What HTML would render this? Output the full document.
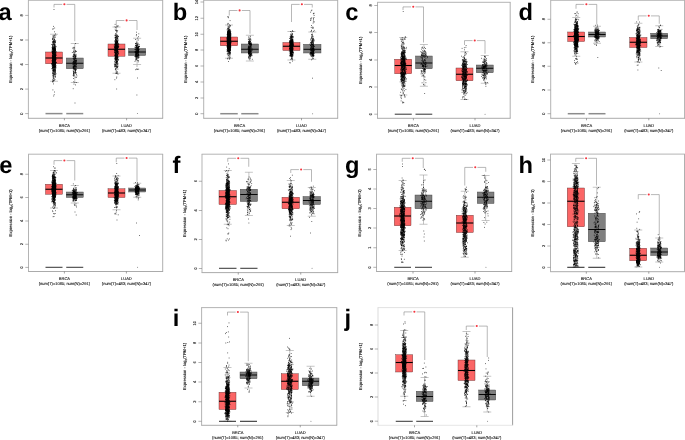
<!DOCTYPE html>
<html><head><meta charset="utf-8"><title>Figure</title>
<style>
html,body{margin:0;padding:0;background:#fff;}
body{width:685px;height:440px;overflow:hidden;font-family:"Liberation Sans",sans-serif;}
svg{display:block;filter:blur(.35px);}
</style></head><body>
<svg width="685" height="440" viewBox="0 0 685 440" font-family="Liberation Sans, sans-serif" text-rendering="geometricPrecision">
<rect width="685" height="440" fill="#fff"/>
<path d="M54 34.25V52M54 63.75V81.25M50 34.25h8M50 81.25h8" stroke="#8a8a8a" stroke-width=".5" fill="none"/>
<rect x="45.5" y="52" width="17" height="11.75" fill="#fb6565" stroke="#5a2a2a" stroke-width=".4"/>
<path d="M45.5 58H62.5" stroke="#000" stroke-width="1.1"/>
<path d="M45.5 113.6H62.5" stroke="#8c8c8c" stroke-width="1.5"/>
<path d="M55.3 54.3h0M53.2 66.8h0M54.4 57.3h0M52.5 55.7h0M53.1 48.6h0M54.8 69.1h0M53.3 57.1h0M53.3 59.5h0M52.6 68.3h0M55.3 56.2h0M52.3 69.0h0M53.7 60.6h0M55.2 49.5h0M53.5 57.8h0M52.9 48.9h0M54.1 52.5h0M54.2 52.3h0M53.6 62.7h0M52.4 81.4h0M54.5 92.0h0M55.3 64.2h0M56.0 73.8h0M52.9 39.6h0M53.8 67.8h0M52.9 67.4h0M51.7 44.5h0M55.0 64.7h0M52.5 57.4h0M53.8 66.3h0M53.2 60.4h0M53.5 64.4h0M54.3 64.7h0M53.8 59.4h0M52.7 63.4h0M53.3 60.1h0M53.8 64.1h0M54.5 63.5h0M55.5 66.0h0M52.3 69.1h0M54.5 60.2h0M52.9 53.7h0M55.0 59.5h0M54.4 61.8h0M54.1 50.4h0M53.7 52.4h0M53.3 59.5h0M55.3 68.1h0M54.2 60.2h0M53.7 96.0h0M55.0 56.8h0M54.1 54.4h0M55.1 54.7h0M54.4 57.0h0M55.4 50.0h0M54.0 51.7h0M53.2 67.1h0M54.4 51.1h0M54.9 62.3h0M54.9 57.4h0M56.3 62.4h0M53.8 63.7h0M54.1 49.8h0M54.2 61.5h0M53.5 66.5h0M53.1 64.9h0M53.3 61.5h0M53.2 69.8h0M54.5 39.9h0M54.4 64.0h0M53.4 55.2h0M55.0 79.6h0M54.4 45.0h0M55.9 57.8h0M54.4 59.8h0M53.7 75.7h0M52.4 51.9h0M54.7 74.3h0M51.8 68.5h0M54.2 61.6h0M52.7 48.6h0M55.3 59.2h0M55.2 54.7h0M55.4 75.0h0M53.2 58.4h0M55.5 49.8h0M53.1 57.9h0M55.4 61.0h0M53.6 63.4h0M53.3 41.0h0M54.2 52.9h0M52.6 58.3h0M55.4 49.8h0M55.0 60.8h0M52.6 48.6h0M53.4 55.0h0M52.6 60.5h0M52.8 61.6h0M52.5 57.8h0M55.3 54.9h0M54.7 62.5h0M54.0 56.0h0M56.1 55.3h0M54.9 50.2h0M53.2 62.6h0M55.1 47.2h0M54.5 62.6h0M53.0 57.1h0M52.9 29.4h0M55.0 64.0h0M52.9 65.0h0M54.4 60.4h0M54.6 40.1h0M53.7 61.7h0M52.9 51.4h0M56.0 62.5h0M55.0 58.8h0M52.8 61.0h0M54.6 66.9h0M55.2 55.6h0M53.9 70.6h0M52.9 58.4h0M54.3 54.5h0M55.1 63.1h0M52.5 38.6h0M55.4 57.5h0M52.8 63.0h0M53.2 57.0h0M54.0 60.7h0M52.7 41.7h0M53.7 59.7h0M55.1 41.4h0M55.0 56.3h0M54.3 56.2h0M53.1 53.5h0M52.8 73.9h0M53.8 46.3h0M55.3 53.3h0M54.6 55.5h0M53.6 69.2h0M54.9 56.2h0M54.8 50.7h0M54.6 54.8h0M55.0 64.4h0M54.0 38.1h0M55.6 66.5h0M52.7 53.1h0M52.9 43.3h0M53.7 68.9h0M52.6 60.5h0M55.8 57.7h0M55.3 59.4h0M55.0 63.0h0M52.1 51.5h0M53.2 52.8h0M54.5 51.7h0M53.0 50.9h0M52.9 51.4h0M53.8 61.8h0M54.4 47.5h0M53.8 55.0h0M54.9 68.5h0M56.2 65.9h0M54.8 54.4h0M53.1 51.8h0M53.9 44.7h0M53.3 78.6h0M52.6 39.4h0M54.9 60.4h0M55.2 53.9h0M54.0 59.4h0M54.8 66.7h0M52.9 64.0h0M54.8 53.2h0M55.7 67.9h0M55.4 66.7h0M53.3 52.2h0M54.9 49.4h0M53.3 60.7h0M54.8 70.3h0M53.3 62.2h0M53.3 50.2h0M53.1 28.5h0M55.9 63.7h0M54.2 48.2h0M54.6 59.7h0M55.6 58.0h0M52.7 56.4h0M53.6 67.3h0M51.9 66.0h0M54.6 59.3h0M54.2 61.4h0M54.3 65.0h0M56.2 55.0h0M55.1 52.4h0M52.4 46.4h0M52.7 49.0h0M53.8 50.4h0M52.1 52.0h0M55.5 56.7h0M55.2 65.5h0M53.1 64.0h0M54.8 72.5h0M52.5 56.5h0M52.7 59.3h0M53.3 56.9h0M54.2 48.3h0M52.8 52.6h0M55.4 76.7h0M53.5 56.9h0M55.4 64.7h0M54.4 62.8h0M55.1 62.4h0M53.9 62.0h0M53.1 62.5h0M54.9 60.6h0M54.4 55.2h0M54.4 64.3h0M55.5 56.2h0M54.2 74.5h0M52.9 57.9h0M53.1 63.9h0M53.1 37.4h0M53.6 42.8h0M54.2 70.7h0M56.3 51.7h0M53.8 59.2h0M52.3 62.7h0M54.1 47.3h0M54.0 42.3h0M54.7 48.5h0M53.3 65.5h0M52.8 61.6h0M53.5 65.5h0M52.8 64.9h0M53.5 70.5h0M52.9 68.5h0M55.5 72.3h0M55.0 58.7h0M53.6 80.3h0M54.1 50.2h0M53.8 62.7h0M54.6 64.8h0M53.0 67.1h0M53.3 56.7h0M53.6 51.8h0M55.1 64.5h0M55.0 64.3h0M55.3 71.1h0M53.9 48.4h0M52.7 75.8h0M53.2 66.9h0M53.7 49.2h0M52.9 82.2h0M53.8 65.5h0M52.8 53.0h0M53.5 58.2h0M54.5 41.7h0M55.3 56.7h0M55.0 56.7h0M53.8 63.2h0M53.1 65.6h0M52.7 55.7h0M53.5 50.7h0M54.8 71.6h0" stroke="#000" stroke-width="1" stroke-linecap="round" opacity=".7" fill="none"/>
<path d="M52.8 59.3h0M54.1 60.2h0M54.0 53.1h0M52.9 62.0h0M52.8 79.4h0M55.3 60.6h0M54.1 65.9h0M55.3 50.8h0M55.1 62.9h0M55.4 61.0h0M53.8 51.7h0M53.1 58.0h0M52.5 80.9h0M53.4 65.0h0M53.4 62.1h0M53.1 64.9h0M53.5 26.4h0M51.9 47.8h0M53.4 64.6h0M55.4 56.3h0M55.2 60.6h0M52.8 57.8h0M54.0 65.6h0M51.8 63.5h0M53.0 62.8h0M51.8 63.8h0M54.0 69.4h0M55.0 60.3h0M54.8 46.0h0M53.8 63.4h0M55.2 62.9h0M53.1 64.2h0M53.4 49.5h0M54.9 67.4h0M54.2 56.8h0M54.8 59.3h0M54.4 59.3h0M52.6 47.2h0M54.5 54.6h0M53.0 58.4h0M54.2 46.4h0M54.3 45.1h0M54.0 66.3h0M53.7 66.8h0M53.3 77.2h0M52.7 45.6h0M54.6 73.7h0M54.5 61.8h0M53.1 53.1h0M53.0 70.7h0M52.6 65.3h0M53.8 58.7h0M54.5 49.5h0M53.8 77.9h0M53.5 57.2h0M54.5 65.6h0M52.4 42.3h0M53.2 66.8h0M55.4 55.3h0M52.7 62.6h0M53.0 49.7h0M54.0 56.7h0M54.6 31.8h0M54.9 63.2h0M53.9 59.5h0M54.9 65.6h0M53.8 65.1h0M55.2 46.0h0M53.1 59.7h0M55.2 44.0h0M52.5 60.7h0M54.7 47.7h0M54.3 58.3h0M55.0 59.3h0M55.8 62.6h0M54.2 47.7h0M55.0 50.4h0M54.1 60.2h0M52.8 67.7h0M53.9 43.2h0M54.6 65.2h0M54.0 58.0h0M52.5 54.1h0M54.3 51.3h0M53.1 66.9h0M53.6 63.1h0M54.0 58.1h0M53.3 59.0h0M55.2 52.9h0M52.6 59.6h0M52.6 67.4h0M52.5 48.6h0M53.2 71.8h0M52.9 58.1h0M54.5 49.5h0M53.7 75.3h0M55.3 51.1h0M55.3 63.9h0M54.0 61.2h0M54.7 52.9h0M54.2 58.0h0M54.8 40.1h0M55.4 52.6h0M54.4 51.8h0M53.0 42.4h0M53.7 56.9h0M54.2 50.2h0M54.3 61.6h0M54.4 54.8h0M53.5 60.6h0M54.1 70.8h0M52.9 53.1h0M54.0 52.7h0M53.7 69.1h0M52.8 61.6h0M53.4 71.5h0M53.9 54.7h0M53.9 44.3h0M54.2 55.0h0M52.7 47.1h0M53.2 48.5h0M54.0 52.1h0M53.9 65.9h0M55.2 52.0h0M54.0 68.1h0M54.8 53.6h0M54.5 63.7h0M52.9 55.5h0M54.1 60.7h0M54.7 63.7h0M55.0 54.8h0M53.1 77.1h0M53.1 64.4h0M54.9 62.0h0M52.9 45.9h0M52.7 62.2h0M54.1 49.4h0M52.7 52.5h0M55.3 55.1h0M52.6 50.7h0M55.4 63.3h0M52.9 44.5h0M53.9 50.3h0M54.0 78.6h0M55.1 59.0h0M54.5 58.3h0M53.4 61.2h0M52.1 52.0h0M54.6 67.3h0M55.3 37.1h0M55.0 57.6h0M54.2 94.7h0M54.8 52.4h0M55.4 60.9h0M55.0 61.1h0M53.4 67.9h0M55.1 60.9h0M53.0 53.8h0M53.0 41.3h0M53.8 62.7h0M55.2 69.7h0M54.7 58.4h0M54.5 64.4h0M52.8 45.1h0M52.0 63.8h0M53.2 50.4h0M54.1 63.8h0M53.8 50.3h0M53.2 36.2h0M54.9 49.7h0M54.7 59.0h0M53.3 51.6h0M52.7 67.1h0M54.2 47.3h0M53.2 73.1h0M53.0 54.2h0M53.0 61.4h0M55.4 59.1h0M53.3 70.3h0M53.0 48.6h0M55.0 62.7h0M53.9 41.8h0M53.4 63.9h0M54.1 56.4h0M53.2 44.6h0M55.4 46.9h0M55.2 48.4h0M55.2 54.9h0M53.2 43.3h0M54.6 57.4h0M54.4 51.8h0M52.8 64.7h0M55.6 67.5h0M53.1 52.8h0M53.8 67.5h0M52.3 57.4h0M54.4 51.0h0M53.5 64.5h0M52.6 61.2h0M53.4 58.6h0M53.5 49.1h0M53.4 60.1h0M55.2 55.2h0M52.6 44.8h0M52.6 48.3h0M52.8 57.5h0M53.3 64.9h0M54.9 56.5h0M53.8 61.4h0M53.9 44.3h0M53.1 52.6h0M54.0 47.7h0M53.3 57.7h0M55.3 47.6h0M52.6 65.7h0M52.9 54.0h0M55.2 57.4h0M52.4 63.4h0M54.6 58.6h0M54.7 67.7h0M53.6 49.3h0M54.4 54.7h0M53.3 55.8h0M52.6 51.9h0M56.2 59.4h0M53.6 59.0h0M54.8 52.6h0M55.1 72.6h0M54.4 60.1h0M52.8 65.6h0M55.2 67.2h0M53.5 59.7h0M55.3 77.2h0M55.2 59.2h0M53.9 48.4h0M51.9 50.1h0M52.7 55.6h0M53.4 41.3h0M53.2 66.5h0M55.1 61.1h0M53.8 58.9h0M52.7 58.3h0M52.7 63.3h0M55.7 73.7h0M54.2 63.2h0M53.9 57.5h0M53.3 50.9h0M53.3 57.7h0M54.8 66.2h0M54.0 67.7h0M53.1 64.9h0M55.3 51.4h0M54.6 53.0h0M53.9 61.9h0M53.3 53.5h0M54.2 67.2h0M55.6 42.3h0M54.6 69.4h0M52.8 48.1h0M52.6 58.3h0M54.1 66.4h0M52.6 62.1h0M53.7 60.7h0M54.5 58.9h0" stroke="#000" stroke-width="1" stroke-linecap="round" opacity=".7" fill="none"/>
<path d="M54.7 43.1h0M55.4 66.4h0M52.3 60.9h0M55.1 66.5h0M55.4 59.7h0M55.3 46.3h0M55.0 55.3h0M53.7 41.3h0M52.6 72.8h0M55.8 58.1h0M56.0 67.8h0M55.3 74.7h0M52.6 49.3h0M53.1 62.7h0M56.2 46.7h0M51.9 60.8h0M53.7 70.3h0M54.0 61.9h0M53.4 64.8h0M52.3 55.5h0M52.7 57.0h0M54.5 39.2h0M54.2 65.8h0M52.9 39.0h0M52.6 67.2h0M54.8 37.2h0M54.8 54.4h0M55.3 70.5h0M53.7 80.6h0M53.1 55.9h0M54.6 46.4h0M55.0 57.3h0M55.4 33.9h0M53.2 47.1h0M52.9 62.5h0M53.1 59.1h0M54.8 64.9h0M53.4 54.2h0M54.6 61.8h0M52.9 47.6h0M54.2 66.1h0M53.5 41.4h0M55.9 35.2h0M55.1 44.9h0M53.9 71.2h0M53.6 62.5h0M53.1 72.3h0M55.1 60.4h0M55.3 50.5h0M54.4 60.0h0M53.0 38.3h0M52.7 57.1h0M53.4 74.1h0M54.3 66.6h0M53.3 59.6h0M54.5 57.1h0M54.2 58.5h0M54.7 59.4h0M53.1 47.6h0M52.6 49.2h0M51.9 64.5h0M55.4 60.1h0M52.9 70.4h0M55.2 53.7h0M53.8 67.3h0M55.8 62.4h0M54.7 65.6h0M54.4 64.0h0M53.9 57.8h0M55.0 73.2h0M54.8 57.4h0M54.7 49.7h0M54.4 44.4h0M53.6 62.4h0M55.2 62.0h0M52.3 63.4h0M54.3 63.2h0M53.6 61.8h0M53.3 58.7h0M53.1 58.5h0M53.4 60.0h0M54.8 47.0h0M53.2 36.8h0M54.6 44.8h0M54.8 75.1h0M53.5 54.6h0M54.5 49.3h0M54.2 48.9h0M55.0 45.3h0M53.6 83.9h0M54.6 61.7h0M55.1 58.1h0M52.9 59.9h0M55.4 63.7h0M55.2 68.7h0M53.2 56.6h0M54.6 60.1h0M53.1 56.8h0M55.7 40.6h0M54.2 54.9h0M54.0 9.5h0M55.0 63.4h0M53.3 50.8h0M55.3 60.4h0M54.0 42.5h0M54.9 65.8h0M53.1 63.0h0M55.4 59.2h0M55.3 62.6h0M55.5 57.7h0M54.5 47.8h0M54.9 72.0h0M54.3 61.7h0M52.7 52.3h0M53.3 57.8h0M54.8 51.3h0M55.3 59.5h0M55.4 58.9h0M52.9 59.6h0M54.8 35.2h0M53.0 67.5h0M52.7 62.2h0M52.6 71.0h0M54.1 52.4h0M55.5 42.0h0M53.1 59.5h0M52.3 57.1h0M54.6 66.2h0M54.0 51.5h0M55.4 63.1h0M55.0 48.4h0M54.9 65.8h0M54.1 39.6h0M55.3 59.1h0M54.3 66.1h0M52.9 60.3h0M53.3 62.1h0M53.2 54.7h0M53.4 64.3h0M53.6 65.9h0M53.4 64.3h0M53.9 48.7h0M54.1 41.5h0M54.5 69.1h0M54.7 64.1h0M53.9 51.7h0M53.4 47.9h0M55.3 65.3h0M54.7 61.1h0M54.2 45.6h0M54.2 58.4h0M54.4 56.2h0M53.8 74.2h0M54.5 64.2h0M53.5 50.1h0M54.6 41.9h0M53.8 70.1h0M53.9 52.6h0M53.1 61.9h0M54.4 56.8h0M55.3 71.4h0M53.2 59.8h0M54.8 57.4h0M54.4 80.2h0M55.4 56.0h0M54.7 62.3h0M52.9 54.2h0M53.6 70.3h0M53.1 54.0h0M52.5 53.2h0M53.2 56.6h0M55.3 52.0h0M53.6 73.1h0M53.2 64.7h0M54.7 28.0h0M53.0 62.6h0M53.3 54.1h0M54.1 52.4h0M54.9 62.4h0M53.9 69.9h0M52.7 52.8h0M55.1 70.5h0M55.1 58.7h0M52.6 47.1h0M54.4 67.4h0M53.7 66.1h0M54.8 53.1h0M55.2 59.0h0M53.1 35.6h0M53.4 58.2h0M55.2 64.0h0M55.3 66.5h0M53.6 56.6h0M55.3 53.2h0M54.1 49.1h0M55.0 48.3h0M54.0 65.9h0M53.0 53.0h0M53.9 40.5h0M53.3 81.3h0M53.0 53.0h0M52.9 53.4h0M53.3 63.4h0M52.6 65.9h0M52.8 52.7h0M53.1 52.0h0M55.3 60.6h0M53.7 59.7h0M55.1 52.3h0M55.0 76.5h0M54.5 35.8h0M55.2 69.4h0M52.7 49.0h0M55.2 70.9h0M53.4 66.0h0M54.7 50.7h0M54.2 71.6h0M53.9 73.4h0M53.1 51.4h0M54.3 49.0h0M54.3 62.4h0M53.7 56.7h0M55.3 54.5h0M54.6 61.0h0M55.3 42.1h0M55.5 48.4h0M54.3 54.0h0M55.6 50.2h0M53.1 75.1h0M53.3 67.6h0M53.2 51.4h0M53.6 76.5h0M54.5 48.7h0M54.2 64.3h0M55.4 59.5h0M52.5 52.4h0M52.9 89.9h0M53.6 58.8h0M54.2 43.3h0M53.7 52.2h0M53.9 54.3h0M55.2 55.5h0M53.0 48.4h0M55.2 48.5h0M54.9 55.8h0M55.3 69.6h0M54.5 62.4h0M54.4 49.8h0M53.9 46.8h0M54.9 59.6h0M55.2 58.2h0M53.5 41.8h0M54.6 57.5h0M53.3 49.0h0M55.3 49.9h0M52.8 51.0h0M54.8 59.7h0M53.6 61.6h0M53.6 53.2h0M53.0 62.9h0M52.7 73.6h0M56.2 53.0h0M54.7 65.6h0M54.9 41.8h0" stroke="#000" stroke-width="1" stroke-linecap="round" opacity=".7" fill="none"/>
<path d="M74.75 43.5V58M74.75 68.75V82.5M70.75 43.5h8M70.75 82.5h8" stroke="#8a8a8a" stroke-width=".5" fill="none"/>
<rect x="66.25" y="58" width="17" height="10.75" fill="#7f7f7f" stroke="#3a3a3a" stroke-width=".4"/>
<path d="M66.25 63.25H83.25" stroke="#000" stroke-width=".95"/>
<path d="M66.25 113.6H83.25" stroke="#8c8c8c" stroke-width="1.5"/>
<path d="M74.1 52.6h0M75.6 58.1h0M74.3 63.5h0M75.4 70.0h0M75.4 55.0h0M74.4 69.4h0M75.5 57.0h0M74.0 68.0h0M74.8 54.1h0M73.4 64.6h0M76.2 62.9h0M75.7 62.4h0M74.0 84.1h0M72.5 62.9h0M74.4 72.2h0M73.4 68.5h0M75.6 62.4h0M75.4 43.5h0M74.9 82.4h0M76.6 77.4h0M73.8 66.5h0M76.0 69.8h0M75.1 56.5h0M75.3 77.2h0M76.9 75.9h0M75.5 84.9h0M74.6 65.5h0M75.3 68.7h0M74.8 60.3h0M73.6 67.4h0M75.6 63.5h0M73.6 55.1h0M74.4 66.3h0M75.7 72.7h0M73.8 76.2h0M75.8 68.8h0M76.6 66.4h0M74.9 69.1h0M74.4 66.4h0M73.4 71.3h0M73.5 48.9h0M74.5 47.4h0M73.5 71.4h0M75.3 56.3h0M76.4 61.6h0M76.2 69.6h0M73.2 88.7h0M73.6 74.6h0M75.3 67.2h0M73.5 54.6h0M75.9 55.6h0M72.8 64.7h0M76.1 54.4h0M75.5 52.0h0M75.9 63.9h0M74.6 59.9h0M75.8 58.6h0M75.7 60.4h0M75.1 70.5h0M73.1 75.3h0M74.4 57.2h0M72.3 52.5h0M74.2 58.8h0M74.5 63.8h0M74.2 63.3h0M76.4 72.9h0" stroke="#000" stroke-width="1" stroke-linecap="round" opacity=".7" fill="none"/>
<path d="M73.2 67.5h0M74.1 52.2h0M74.9 58.0h0M75.3 60.6h0M76.2 51.5h0M74.1 64.9h0M73.1 66.8h0M75.2 64.4h0M76.6 63.9h0M74.4 68.8h0M75.7 62.0h0M75.6 70.4h0M73.6 74.8h0M74.3 59.8h0M75.9 56.4h0M75.6 66.4h0M73.5 67.7h0M74.6 48.9h0M76.0 68.2h0M74.1 68.2h0M75.7 60.5h0M73.2 56.0h0M75.3 70.3h0M73.6 78.5h0M76.3 82.5h0M75.6 51.0h0M74.3 72.9h0M73.7 73.2h0M73.5 62.0h0M73.1 58.5h0M74.7 64.1h0M74.9 62.6h0M73.5 75.6h0M73.7 58.9h0M75.5 64.9h0M76.0 62.1h0M73.4 62.2h0M73.9 63.7h0M73.7 66.4h0M74.1 68.6h0M75.6 71.2h0M74.0 55.4h0M73.9 58.6h0M75.1 60.0h0M73.7 59.9h0M74.4 55.0h0M73.5 73.2h0M74.1 51.1h0M75.3 71.5h0M73.6 65.8h0M74.3 61.6h0M75.9 58.1h0M75.1 61.6h0M76.1 51.3h0M74.5 65.1h0M75.2 56.7h0M74.2 67.4h0M74.4 54.4h0M74.4 56.0h0M73.5 56.6h0M73.9 63.5h0M74.7 62.4h0M76.3 60.8h0M73.3 66.7h0M76.4 60.3h0M74.8 58.0h0" stroke="#000" stroke-width="1" stroke-linecap="round" opacity=".7" fill="none"/>
<path d="M73.9 66.8h0M73.8 72.3h0M74.7 58.8h0M72.7 48.1h0M76.0 60.8h0M75.1 57.3h0M74.0 64.8h0M75.2 61.5h0M75.9 56.4h0M74.0 73.7h0M76.4 74.6h0M75.0 103.0h0M75.5 67.0h0M74.2 68.9h0M73.4 47.4h0M74.1 61.0h0M73.4 61.8h0M74.5 65.5h0M76.7 67.3h0M73.5 63.2h0M73.3 67.5h0M74.2 67.0h0M74.7 55.7h0M75.2 65.7h0M75.9 69.8h0M73.7 81.8h0M73.1 56.8h0M76.3 64.4h0M76.4 64.1h0M73.5 73.2h0M73.4 51.7h0M73.3 61.6h0M73.7 67.4h0M73.2 70.9h0M75.9 66.5h0M75.5 72.3h0M75.6 50.9h0M74.4 75.1h0M74.6 61.9h0M73.4 56.5h0M76.6 60.7h0M73.9 53.8h0M74.2 61.0h0M75.8 55.6h0M74.8 55.1h0M73.7 69.3h0M75.7 57.1h0M74.4 62.3h0M73.4 57.7h0M75.5 73.2h0M73.9 50.9h0M76.0 65.2h0M75.5 69.7h0M75.8 65.6h0M75.0 66.7h0M75.3 61.1h0M73.3 62.4h0M73.1 56.3h0M75.1 58.5h0M75.5 72.7h0M75.7 58.6h0M74.4 60.0h0M76.1 59.1h0M73.2 68.8h0M74.7 66.4h0M73.6 73.0h0" stroke="#000" stroke-width="1" stroke-linecap="round" opacity=".7" fill="none"/>
<path d="M116.5 27V44M116.5 56.25V73.25M112.5 27h8M112.5 73.25h8" stroke="#8a8a8a" stroke-width=".5" fill="none"/>
<rect x="108" y="44" width="17" height="12.25" fill="#fb6565" stroke="#5a2a2a" stroke-width=".4"/>
<path d="M108 49.25H125" stroke="#000" stroke-width="1.1"/>
<path d="M117.6 57.3h0M117.4 55.3h0M116.3 44.3h0M114.8 52.5h0M117.5 54.8h0M116.0 47.2h0M115.6 55.9h0M117.7 35.8h0M115.8 54.2h0M115.4 43.8h0M117.5 64.4h0M117.7 45.9h0M115.8 48.3h0M116.9 36.3h0M116.5 48.2h0M115.3 44.0h0M115.3 48.8h0M115.6 49.2h0M116.4 47.9h0M116.2 41.4h0M115.7 53.4h0M117.4 57.1h0M115.3 57.6h0M117.2 37.0h0M115.4 57.6h0M116.2 43.5h0M117.6 55.3h0M115.3 46.1h0M116.0 37.9h0M117.3 52.3h0M115.6 68.5h0M116.2 51.9h0M117.4 46.0h0M116.3 59.3h0M116.4 40.4h0M116.5 39.7h0M115.4 37.4h0M116.5 65.1h0M117.0 46.5h0M117.2 47.2h0M116.1 52.8h0M116.8 56.3h0M116.2 58.4h0M117.9 45.4h0M117.2 49.8h0M115.5 69.4h0M115.8 59.9h0M115.2 38.3h0M116.0 55.1h0M115.8 47.9h0M117.1 50.7h0M117.8 56.8h0M115.2 51.0h0M115.8 33.7h0M116.4 66.4h0M117.5 42.8h0M117.7 57.9h0M115.0 59.2h0M115.7 56.0h0M116.2 46.3h0M117.7 52.3h0M115.9 56.4h0M117.0 45.0h0M115.1 24.4h0M116.3 53.2h0M117.9 52.5h0M116.2 60.3h0M117.9 59.0h0M115.2 65.8h0M116.2 68.2h0M115.4 40.2h0M118.6 60.0h0M115.1 55.6h0M117.1 67.7h0M114.2 49.0h0M116.1 45.7h0M117.3 48.8h0M116.8 58.3h0M116.8 43.7h0M116.1 53.4h0M116.7 48.8h0M117.5 71.8h0M116.8 41.1h0M117.8 51.2h0M115.1 47.4h0M115.5 64.5h0M116.0 71.0h0M116.5 43.8h0M115.6 44.3h0M116.8 45.7h0M117.0 57.3h0M114.4 66.6h0M115.7 66.1h0M115.2 65.4h0M117.9 51.7h0M115.0 47.6h0M117.2 37.8h0M117.6 51.2h0M118.7 57.0h0M115.8 57.1h0M116.2 56.3h0M116.4 46.9h0M117.8 49.5h0M115.5 34.1h0M117.9 43.2h0M117.1 26.8h0M114.2 46.0h0M117.8 66.7h0M117.6 47.9h0M116.2 44.9h0M117.7 47.0h0M116.3 47.6h0M115.7 45.9h0M117.1 58.0h0M117.4 56.6h0M115.8 63.0h0M117.1 42.8h0M115.2 58.8h0M115.0 26.8h0M115.7 44.9h0M114.3 64.0h0M115.9 58.2h0M117.2 57.0h0M115.8 45.4h0M117.0 38.2h0M115.0 48.1h0M115.4 52.1h0M117.1 48.9h0M115.6 39.2h0M117.7 54.5h0M115.6 30.6h0M115.7 55.5h0M115.4 66.4h0M117.8 46.5h0M116.2 57.9h0M115.2 46.5h0M117.9 44.3h0M116.4 49.1h0M116.8 61.5h0M114.5 50.9h0M115.2 55.9h0M117.6 61.9h0M115.0 37.3h0M116.8 43.2h0M117.0 32.0h0M116.3 55.0h0M116.9 50.2h0M117.3 41.0h0M117.8 38.7h0M115.3 46.3h0M116.9 59.3h0M116.5 61.2h0M116.5 53.2h0M116.4 45.9h0M114.4 47.1h0M117.6 41.7h0M115.2 64.8h0M115.0 66.9h0M117.6 55.7h0M116.5 57.0h0M115.1 47.0h0M117.2 46.4h0M115.9 39.8h0M116.4 62.5h0M116.4 48.4h0M115.9 36.5h0M117.0 67.5h0M117.9 49.1h0M117.6 58.2h0" stroke="#000" stroke-width="1" stroke-linecap="round" opacity=".7" fill="none"/>
<path d="M117.9 46.4h0M115.2 29.2h0M117.5 49.0h0M114.6 61.6h0M116.1 51.2h0M117.2 47.0h0M115.7 43.1h0M116.5 54.9h0M116.8 38.9h0M117.5 41.6h0M117.0 59.6h0M116.9 47.1h0M116.2 30.5h0M116.3 61.9h0M117.4 52.3h0M117.6 51.6h0M118.4 36.4h0M116.9 47.4h0M116.4 78.1h0M117.1 57.4h0M117.8 53.4h0M115.0 60.1h0M117.0 36.2h0M115.3 46.2h0M117.0 31.5h0M116.9 54.1h0M117.2 42.2h0M116.1 48.8h0M116.0 57.8h0M117.8 65.3h0M116.8 34.6h0M115.8 41.7h0M118.3 59.5h0M115.6 42.8h0M116.6 50.5h0M117.1 73.5h0M117.1 56.4h0M115.4 39.3h0M117.1 39.5h0M117.2 72.8h0M115.8 46.0h0M115.6 47.0h0M116.7 40.5h0M117.0 58.9h0M115.1 41.7h0M118.7 54.0h0M117.5 41.1h0M117.5 67.3h0M117.7 50.4h0M117.9 47.2h0M115.7 55.2h0M116.6 62.8h0M117.5 49.0h0M115.6 59.4h0M115.0 52.2h0M115.1 43.9h0M116.4 44.4h0M117.4 52.9h0M114.3 49.8h0M115.7 45.7h0M115.4 47.9h0M115.4 57.6h0M116.9 43.4h0M117.9 53.7h0M117.5 50.1h0M116.0 35.4h0M117.9 47.7h0M115.8 53.8h0M115.9 40.9h0M114.7 65.0h0M117.3 42.0h0M115.7 50.3h0M117.5 49.0h0M116.2 44.3h0M115.8 50.9h0M116.6 56.0h0M117.2 60.8h0M116.3 62.9h0M117.2 52.3h0M115.0 57.9h0M117.5 63.9h0M115.4 64.2h0M117.2 55.7h0M115.4 35.8h0M117.1 38.5h0M116.0 45.3h0M117.4 42.3h0M117.2 40.9h0M118.6 36.7h0M116.3 42.1h0M116.2 35.7h0M115.3 48.9h0M116.0 51.7h0M117.8 50.1h0M115.9 43.0h0M117.5 61.5h0M115.3 35.3h0M115.8 53.6h0M116.9 58.2h0M116.8 59.5h0M116.3 48.8h0M116.1 61.1h0M116.4 73.5h0M116.4 43.1h0M116.0 40.8h0M116.0 46.3h0M115.1 44.2h0M115.9 51.1h0M114.7 51.2h0M115.3 69.7h0M115.4 43.7h0M116.1 49.9h0M115.8 52.8h0M116.1 57.8h0M116.5 46.7h0M117.5 66.7h0M115.8 54.0h0M117.8 43.5h0M117.6 48.2h0M116.1 45.6h0M117.7 38.4h0M116.8 60.9h0M117.3 52.3h0M114.9 35.3h0M115.1 40.5h0M115.4 54.6h0M116.8 42.7h0M118.0 74.2h0M116.4 72.2h0M115.3 55.2h0M117.0 52.0h0M117.9 66.3h0M116.4 48.3h0M117.0 51.2h0M117.7 44.6h0M115.5 42.9h0M115.7 50.4h0M117.0 42.3h0M115.3 50.3h0M116.7 51.2h0M117.9 58.0h0M116.3 46.3h0M115.0 64.3h0M117.0 51.7h0M115.6 59.4h0M116.0 57.8h0M115.8 49.2h0M116.2 66.2h0M116.7 59.4h0M116.1 50.3h0M116.9 46.3h0M116.7 47.8h0M116.5 26.0h0M115.7 37.9h0M115.2 56.5h0M114.5 45.2h0M116.1 41.1h0M116.1 62.1h0M115.7 56.7h0M115.0 65.0h0M117.1 57.9h0M117.8 42.1h0M117.1 59.3h0M115.8 59.1h0M117.2 47.7h0M115.8 27.5h0M117.1 51.0h0M117.4 41.7h0M115.2 52.7h0" stroke="#000" stroke-width="1" stroke-linecap="round" opacity=".7" fill="none"/>
<path d="M117.9 45.1h0M115.1 62.8h0M115.7 39.5h0M118.1 47.2h0M115.5 46.3h0M116.0 45.9h0M118.4 53.0h0M115.2 41.9h0M116.4 37.9h0M117.3 44.1h0M116.2 45.2h0M116.1 66.9h0M115.0 55.1h0M117.3 48.9h0M115.3 58.6h0M117.3 62.1h0M117.2 50.3h0M117.8 55.2h0M114.9 79.7h0M115.1 58.5h0M115.5 55.1h0M116.7 46.1h0M118.0 60.1h0M118.8 46.6h0M116.2 53.2h0M118.6 40.1h0M114.4 52.8h0M116.3 63.0h0M117.2 59.8h0M115.7 56.9h0M116.8 47.9h0M116.2 48.1h0M115.1 54.1h0M118.3 47.4h0M116.7 89.0h0M115.6 52.3h0M116.6 41.9h0M117.4 36.3h0M116.5 52.4h0M115.5 73.2h0M118.0 53.4h0M118.4 45.1h0M115.8 47.5h0M116.4 56.9h0M117.7 49.2h0M117.0 63.3h0M115.5 42.0h0M118.6 46.3h0M118.2 25.9h0M117.8 44.3h0M115.5 50.3h0M114.8 44.5h0M116.7 30.4h0M116.7 64.2h0M116.3 56.4h0M117.7 62.4h0M115.1 47.6h0M117.0 51.1h0M116.3 50.1h0M116.1 45.8h0M116.2 63.0h0M117.1 48.8h0M117.8 46.5h0M114.8 46.9h0M117.5 49.7h0M117.1 50.8h0M114.7 47.1h0M115.8 42.8h0M115.4 55.5h0M116.9 66.2h0M117.1 37.3h0M115.5 45.0h0M115.3 50.8h0M117.7 37.7h0M116.2 53.4h0M114.9 50.5h0M116.8 46.4h0M115.6 59.7h0M116.0 45.6h0M118.8 44.5h0M117.6 26.0h0M115.3 50.2h0M115.1 41.0h0M115.5 55.7h0M117.6 58.5h0M117.0 54.5h0M117.0 41.0h0M117.2 54.4h0M115.0 55.6h0M117.9 51.7h0M115.2 62.2h0M115.5 49.6h0M117.3 35.3h0M116.3 47.9h0M116.4 41.0h0M115.6 47.2h0M116.0 44.2h0M117.0 57.0h0M116.9 51.6h0M115.1 50.5h0M115.6 46.7h0M117.4 61.2h0M115.5 37.5h0M117.3 57.0h0M115.2 41.3h0M116.2 37.6h0M117.1 45.1h0M117.1 47.5h0M116.7 51.7h0M116.4 36.5h0M116.6 55.0h0M116.1 49.9h0M115.2 42.8h0M117.8 51.5h0M115.3 37.9h0M115.2 54.8h0M116.0 55.5h0M117.5 48.7h0M116.4 54.0h0M117.9 47.0h0M115.7 42.5h0M115.5 50.1h0M115.8 55.3h0M116.4 48.6h0M118.7 43.5h0M115.8 61.0h0M116.7 42.4h0M116.4 41.8h0M116.7 58.6h0M115.6 53.3h0M116.1 44.2h0M115.4 58.4h0M117.9 69.1h0M117.4 42.3h0M117.8 51.6h0M116.8 42.5h0M116.6 44.8h0M115.8 49.4h0M117.7 45.6h0M117.6 48.2h0M117.8 46.9h0M116.7 49.3h0M115.4 53.0h0M115.0 48.5h0M116.1 59.3h0M117.2 63.6h0M115.6 50.7h0M118.2 63.9h0M116.4 45.3h0M117.7 30.5h0M116.1 44.3h0M116.8 55.2h0M116.1 62.3h0M117.0 60.8h0M117.7 48.2h0M115.3 47.7h0M116.5 61.8h0M115.8 60.4h0M115.3 45.2h0M117.6 50.8h0M116.9 43.7h0M115.1 58.0h0M117.4 49.2h0M117.8 41.7h0M116.5 61.6h0M118.0 46.4h0M116.8 77.0h0M117.4 40.0h0" stroke="#000" stroke-width="1" stroke-linecap="round" opacity=".7" fill="none"/>
<path d="M137.12 38.25V48.5M137.12 55.5V64.5M133.12 38.25h8M133.12 64.5h8" stroke="#8a8a8a" stroke-width=".5" fill="none"/>
<rect x="128.5" y="48.5" width="17.25" height="7" fill="#7f7f7f" stroke="#3a3a3a" stroke-width=".4"/>
<path d="M128.5 52H145.75" stroke="#000" stroke-width=".95"/>
<circle cx="137.43" cy="113.6" r=".5" fill="#777"/>
<path d="M137.5 52.1h0M135.9 49.5h0M135.8 57.2h0M136.8 54.8h0M135.8 50.0h0M134.8 56.4h0M138.2 54.9h0M139.4 46.5h0M138.6 50.7h0M137.6 47.7h0M136.0 56.2h0M136.7 46.5h0M136.3 47.2h0M137.9 49.8h0M136.8 56.0h0M137.0 69.4h0M138.0 55.0h0M135.0 61.4h0M138.5 36.7h0M138.4 56.1h0M138.0 46.0h0M137.9 55.0h0M138.7 47.8h0M138.6 55.0h0M137.2 48.9h0M138.1 55.1h0M139.7 57.0h0M137.6 55.2h0M136.4 50.1h0M138.5 50.8h0M137.6 52.8h0M137.4 48.1h0M136.6 56.4h0M139.2 46.7h0M137.9 60.6h0M136.8 45.3h0M136.5 53.4h0M138.6 56.0h0M138.1 52.7h0M136.3 58.0h0M137.0 49.0h0M138.7 57.6h0M138.3 44.1h0M138.0 55.5h0M134.8 47.2h0M136.2 50.9h0M135.9 56.2h0M138.1 46.6h0M135.5 60.1h0M136.2 48.6h0M136.2 54.3h0M137.0 43.9h0M138.6 47.4h0M136.9 47.5h0M137.4 53.5h0M138.1 50.8h0M138.6 49.8h0M138.3 53.5h0M138.3 46.3h0M137.0 55.4h0M135.6 49.0h0M136.6 51.9h0M135.9 56.2h0M137.9 50.8h0M138.3 40.0h0M137.7 69.3h0M137.8 56.5h0M137.2 47.8h0M138.3 48.9h0M136.5 51.2h0M135.9 43.9h0M136.5 44.8h0M136.6 32.2h0M136.9 43.3h0M135.1 51.5h0" stroke="#000" stroke-width="1" stroke-linecap="round" opacity=".7" fill="none"/>
<path d="M136.8 68.9h0M136.4 59.2h0M137.8 51.1h0M137.4 52.7h0M136.4 34.5h0M136.7 43.3h0M138.6 47.9h0M137.5 48.8h0M138.3 52.7h0M137.6 52.3h0M135.4 54.0h0M135.4 54.4h0M136.5 53.3h0M135.9 52.6h0M136.0 53.7h0M135.6 56.5h0M137.8 51.3h0M137.0 46.0h0M138.6 51.9h0M135.9 54.1h0M136.1 52.4h0M138.4 58.2h0M137.6 47.9h0M138.1 49.5h0M136.4 52.1h0M135.7 43.4h0M136.6 47.3h0M137.3 56.0h0M136.4 53.1h0M138.6 50.7h0M138.6 48.5h0M137.9 50.2h0M136.9 60.0h0M135.9 45.7h0M136.4 49.7h0M135.9 45.6h0M136.6 42.1h0M136.2 45.5h0M136.4 58.7h0M137.9 49.5h0M136.8 55.4h0M136.3 35.7h0M135.5 52.4h0M138.1 52.1h0M136.9 54.8h0M136.5 54.3h0M138.2 60.5h0M138.9 51.6h0M136.7 54.7h0M138.6 49.3h0M139.2 55.2h0M138.6 50.1h0M135.6 47.2h0M138.2 49.9h0M136.7 56.8h0M138.8 33.8h0M137.9 46.8h0M137.4 48.6h0M138.3 52.7h0M137.0 51.9h0M134.8 49.4h0M138.4 55.2h0M137.9 50.7h0M138.7 51.9h0M137.4 45.1h0M136.7 53.4h0M138.4 49.7h0M137.4 52.5h0M136.3 57.6h0M136.9 47.8h0M136.5 49.0h0M136.1 45.7h0M137.7 49.7h0M135.4 49.8h0M138.2 54.7h0" stroke="#000" stroke-width="1" stroke-linecap="round" opacity=".7" fill="none"/>
<path d="M138.2 50.8h0M137.3 44.7h0M135.8 47.5h0M138.3 61.8h0M138.1 50.2h0M137.3 51.3h0M138.1 57.0h0M137.4 78.0h0M136.7 56.7h0M138.6 57.3h0M137.4 49.8h0M136.4 48.7h0M137.3 52.5h0M136.1 51.6h0M135.4 55.7h0M136.3 54.2h0M136.2 58.8h0M139.2 46.6h0M137.8 50.0h0M137.8 44.6h0M137.8 51.5h0M136.7 55.7h0M137.0 56.8h0M137.0 57.1h0M135.5 39.5h0M138.4 51.6h0M138.3 54.1h0M136.4 46.7h0M135.7 52.0h0M137.9 56.5h0M136.2 52.9h0M135.8 54.1h0M135.6 51.6h0M137.5 48.3h0M135.9 47.6h0M137.7 38.0h0M135.8 52.1h0M137.0 51.9h0M135.8 58.1h0M138.3 51.9h0M135.8 45.3h0M135.5 43.5h0M136.4 52.1h0M138.4 54.4h0M136.1 55.6h0M134.9 52.2h0M137.0 53.9h0M135.7 69.7h0M137.5 58.3h0M138.3 46.6h0M137.7 47.9h0M136.4 50.6h0M138.7 69.2h0M138.7 47.2h0M138.0 54.5h0M137.0 49.6h0M137.5 57.3h0M137.3 53.3h0M139.4 49.4h0M138.4 47.4h0M137.5 52.3h0M137.1 53.3h0M136.3 45.9h0M135.5 55.6h0M137.6 47.7h0M137.5 45.7h0M136.0 59.5h0M136.2 53.4h0M136.9 95.0h0M139.3 44.8h0M138.1 51.5h0M137.9 43.1h0M136.5 47.0h0M137.0 66.0h0M136.4 56.0h0" stroke="#000" stroke-width="1" stroke-linecap="round" opacity=".7" fill="none"/>
<path d="M54 7.5V4.4H62.17M66.58 4.4H74.75V41.25" stroke="#7c7c7c" stroke-width=".55" fill="none"/>
<circle cx="64.38" cy="4.3" r="1.05" fill="#f5323c"/>
<path d="M116.25 25V20.5H124.42M128.82 20.5H137V30" stroke="#7c7c7c" stroke-width=".55" fill="none"/>
<circle cx="126.62" cy="20.4" r="1.05" fill="#f5323c"/>
<path d="M28 0.3H163.1" stroke="#a6a6a6" stroke-width=".85"/>
<path d="M162.7 0.3V118.3" stroke="#a0a0a0" stroke-width=".85"/>
<path d="M28 118.3H163.1" stroke="#9c9c9c" stroke-width=".85"/>
<path d="M28.4 0.3V118.3" stroke="#a6a6a6" stroke-width=".85"/>
<path d="M64.4 118.3v2" stroke="#666" stroke-width=".6"/>
<path d="M126.6 118.3v2" stroke="#666" stroke-width=".6"/>
<path d="M28.4 15.4h-3.2" stroke="#808080" stroke-width=".6"/>
<text transform="translate(22.7 15.4) rotate(-90)" font-size="4" text-anchor="middle" fill="#111" stroke="#111" stroke-width=".1">8</text>
<path d="M28.4 40h-3.2" stroke="#808080" stroke-width=".6"/>
<text transform="translate(22.7 40) rotate(-90)" font-size="4" text-anchor="middle" fill="#111" stroke="#111" stroke-width=".1">6</text>
<path d="M28.4 64.5h-3.2" stroke="#808080" stroke-width=".6"/>
<text transform="translate(22.7 64.5) rotate(-90)" font-size="4" text-anchor="middle" fill="#111" stroke="#111" stroke-width=".1">4</text>
<path d="M28.4 89.1h-3.2" stroke="#808080" stroke-width=".6"/>
<text transform="translate(22.7 89.1) rotate(-90)" font-size="4" text-anchor="middle" fill="#111" stroke="#111" stroke-width=".1">2</text>
<path d="M28.4 113.6h-3.2" stroke="#808080" stroke-width=".6"/>
<text transform="translate(22.7 113.6) rotate(-90)" font-size="4" text-anchor="middle" fill="#111" stroke="#111" stroke-width=".1">0</text>
<text transform="translate(11.8 59.3) rotate(-90)" font-size="4.12" text-anchor="middle" fill="#111" stroke="#111" stroke-width=".1">Expression - log<tspan font-size="2.8" dy=".8">2</tspan><tspan dy="-.8">(TPM+1)</tspan></text>
<text x="64.4" y="127" font-size="4.05" text-anchor="middle" fill="#111" stroke="#111" stroke-width=".1">BRCA</text>
<text x="64.4" y="131.6" font-size="4" text-anchor="middle" fill="#111" stroke="#111" stroke-width=".1">(num(T)=1085; num(N)=291)</text>
<text x="126.6" y="127" font-size="4.05" text-anchor="middle" fill="#111" stroke="#111" stroke-width=".1">LUAD</text>
<text x="126.6" y="131.6" font-size="4" text-anchor="middle" fill="#111" stroke="#111" stroke-width=".1">(num(T)=483; num(N)=347)</text>
<text x="-1.4" y="19.8" font-size="23.7" font-weight="bold" fill="#000">a</text>
<path d="M229 25V37M229 45.75V58.25M225 25h8M225 58.25h8" stroke="#8a8a8a" stroke-width=".5" fill="none"/>
<rect x="220.25" y="37" width="17.5" height="8.75" fill="#fb6565" stroke="#5a2a2a" stroke-width=".4"/>
<path d="M220.25 41.25H237.75" stroke="#000" stroke-width="1.1"/>
<path d="M220.25 113.7H237.75" stroke="#8c8c8c" stroke-width="1.5"/>
<path d="M230.1 45.2h0M229.6 40.4h0M227.8 42.3h0M230.0 42.5h0M230.0 36.9h0M228.3 47.0h0M228.5 39.8h0M227.9 54.4h0M228.5 46.6h0M230.4 42.0h0M230.5 39.9h0M227.8 33.7h0M229.8 46.4h0M227.9 43.7h0M228.9 26.5h0M229.7 38.0h0M227.9 38.1h0M229.7 38.9h0M229.4 30.9h0M229.0 41.4h0M228.7 40.9h0M229.8 39.9h0M228.5 37.9h0M230.4 31.2h0M229.6 48.1h0M230.0 26.6h0M227.0 46.9h0M229.8 46.6h0M227.8 33.5h0M228.3 46.9h0M230.4 44.3h0M229.8 39.7h0M227.8 47.3h0M230.1 39.5h0M229.3 42.1h0M227.3 38.4h0M229.6 40.4h0M229.9 33.7h0M228.8 41.0h0M230.4 33.0h0M229.3 34.1h0M229.0 42.7h0M228.2 45.8h0M227.8 45.1h0M228.8 49.5h0M227.7 43.2h0M230.1 40.7h0M230.2 46.8h0M229.9 42.8h0M228.2 31.4h0M229.5 41.3h0M228.3 38.7h0M230.2 42.1h0M227.5 47.0h0M227.9 42.4h0M227.6 43.3h0M229.0 36.0h0M229.5 41.9h0M227.7 34.9h0M227.6 50.5h0M229.5 50.5h0M228.0 32.7h0M230.1 39.0h0M228.1 52.5h0M227.6 40.5h0M230.4 37.5h0M230.1 33.9h0M229.9 40.2h0M229.7 57.7h0M230.0 48.3h0M229.3 36.8h0M227.8 36.0h0M228.3 55.2h0M228.6 44.8h0M229.3 49.9h0M228.3 37.5h0M228.6 42.4h0M231.0 40.2h0M228.7 40.4h0M229.3 31.9h0M227.9 39.0h0M227.9 39.4h0M229.6 47.9h0M227.7 47.8h0M228.0 46.0h0M231.0 33.9h0M230.1 34.7h0M228.0 42.7h0M227.8 40.7h0M228.3 40.5h0M228.2 46.6h0M228.5 43.5h0M228.9 40.4h0M229.7 41.0h0M228.5 48.7h0M230.4 51.0h0M227.9 36.7h0M229.5 44.7h0M230.4 32.6h0M229.4 46.3h0M229.2 39.6h0M228.4 44.1h0M230.3 41.7h0M229.6 40.9h0M228.5 45.2h0M227.9 51.2h0M230.2 44.5h0M228.9 35.5h0M228.0 26.8h0M228.3 32.0h0M228.7 42.6h0M230.1 31.8h0M227.7 45.1h0M230.0 44.3h0M227.8 42.3h0M229.4 32.6h0M230.3 41.8h0M227.9 40.0h0M228.8 44.5h0M229.1 37.2h0M228.2 41.4h0M228.5 40.0h0M228.7 40.8h0M228.9 41.6h0M228.2 33.3h0M226.9 51.2h0M228.2 47.3h0M230.2 38.1h0M228.3 27.9h0M229.2 42.4h0M228.5 36.0h0M228.0 44.7h0M227.7 44.8h0M228.1 39.1h0M229.2 48.9h0M229.7 45.7h0M228.8 34.9h0M228.1 34.7h0M227.8 53.4h0M228.0 41.9h0M229.6 47.2h0M229.3 50.0h0M228.1 39.5h0M228.8 48.2h0M230.3 29.9h0M229.3 37.6h0M228.1 23.4h0M228.8 45.9h0M228.2 31.0h0M228.9 39.0h0M229.7 56.1h0M230.2 43.7h0M230.2 40.8h0M227.1 42.6h0M229.4 40.3h0M227.8 47.1h0M229.2 40.6h0M230.4 45.3h0M230.2 38.9h0M230.1 20.6h0M230.9 46.3h0M228.2 50.5h0M229.2 47.6h0M228.7 33.5h0M230.0 44.0h0M228.8 34.9h0M228.4 42.1h0M230.0 36.0h0M229.7 35.3h0M227.3 50.9h0M228.0 37.3h0M229.2 52.9h0M228.2 55.5h0M230.9 41.9h0M228.2 49.5h0M227.7 35.0h0M227.9 41.2h0M228.6 49.9h0M228.2 40.4h0M230.4 44.3h0M229.0 41.2h0M228.7 46.3h0M230.0 42.0h0M230.0 40.3h0M228.8 37.4h0M228.3 32.4h0M230.3 39.5h0M230.2 39.3h0M229.9 41.4h0M228.6 33.1h0M228.1 40.8h0M228.1 40.9h0M229.0 40.3h0M228.1 43.8h0M228.2 16.8h0M230.8 47.3h0M230.2 46.6h0M227.5 36.4h0M229.4 38.1h0M228.0 35.1h0M228.5 38.1h0M228.3 33.0h0M229.1 49.4h0M228.7 42.4h0M229.6 30.0h0M229.4 36.1h0M228.0 36.7h0M228.9 47.4h0M228.9 36.3h0M229.2 36.9h0M230.3 43.5h0M227.6 42.5h0M230.4 44.4h0M229.9 36.4h0M227.9 42.9h0M229.6 45.8h0M229.2 49.5h0M228.9 45.1h0M228.4 37.5h0M229.3 46.3h0M229.9 43.8h0M229.4 37.2h0M228.3 43.6h0M229.0 35.0h0M228.0 39.7h0M229.0 42.3h0M227.7 48.4h0M229.8 35.1h0M229.7 32.2h0M228.8 38.7h0M228.6 43.7h0M229.3 51.5h0M229.6 38.3h0M230.1 43.3h0M230.1 35.6h0M230.3 38.9h0M230.3 57.8h0M227.1 29.8h0M229.5 48.5h0M230.3 32.3h0M229.4 44.7h0M229.1 54.3h0M227.8 37.7h0M229.9 49.7h0M227.7 44.3h0M230.2 45.2h0M229.8 36.8h0M230.2 43.2h0M230.8 34.2h0M229.6 44.1h0M228.0 43.8h0M230.2 43.7h0M230.4 48.6h0M229.7 51.2h0M227.6 39.1h0M228.0 50.5h0M228.5 51.1h0M227.1 43.2h0M229.3 30.7h0M230.0 50.1h0M227.6 40.5h0M229.1 41.3h0M229.1 41.6h0M229.6 45.9h0M230.0 39.4h0M228.0 35.7h0M230.4 46.2h0M228.2 32.2h0M229.2 41.2h0M227.8 58.9h0M228.2 41.7h0M228.8 40.9h0M228.1 50.1h0M229.7 32.1h0M228.3 43.5h0M227.1 39.6h0M227.7 51.1h0M228.4 37.7h0M229.1 44.6h0M229.1 40.1h0M229.4 48.6h0M230.0 40.9h0M228.4 37.2h0M227.7 28.6h0M227.9 32.4h0M229.1 37.7h0M229.4 43.8h0M228.6 40.5h0M229.5 27.7h0M229.8 43.9h0" stroke="#000" stroke-width="1" stroke-linecap="round" opacity=".7" fill="none"/>
<path d="M229.0 37.6h0M229.9 46.4h0M229.9 36.5h0M227.2 46.8h0M229.5 46.2h0M229.6 36.0h0M229.3 44.5h0M230.5 25.6h0M230.3 46.6h0M227.9 51.0h0M230.0 46.8h0M230.8 35.6h0M229.8 49.6h0M229.6 32.0h0M228.2 47.7h0M230.2 39.7h0M230.1 52.9h0M229.6 46.9h0M228.4 30.8h0M228.6 39.3h0M227.8 46.8h0M228.6 41.8h0M227.8 41.5h0M229.5 45.0h0M229.0 31.0h0M230.0 38.4h0M228.0 38.2h0M228.5 33.6h0M228.7 44.7h0M229.2 41.0h0M228.1 57.1h0M227.2 37.2h0M227.8 29.2h0M228.8 28.3h0M228.3 38.9h0M228.5 45.2h0M227.8 34.3h0M228.9 40.0h0M229.6 37.9h0M227.6 43.3h0M227.5 42.7h0M230.3 41.4h0M229.8 41.9h0M230.4 47.3h0M228.0 38.0h0M228.7 37.9h0M230.3 41.2h0M227.9 39.5h0M227.7 50.2h0M230.0 41.8h0M229.9 46.2h0M229.0 36.4h0M229.2 38.9h0M228.0 43.7h0M227.8 34.4h0M228.8 50.8h0M230.1 34.3h0M228.0 42.6h0M229.5 39.5h0M229.7 51.4h0M231.0 42.2h0M228.2 36.5h0M229.1 48.7h0M230.0 50.7h0M229.1 38.8h0M229.1 38.0h0M230.0 43.7h0M229.2 46.6h0M229.8 44.0h0M229.8 32.8h0M229.5 32.4h0M229.6 33.0h0M229.2 40.6h0M230.3 53.1h0M229.1 49.0h0M228.1 35.4h0M228.6 34.3h0M227.8 45.0h0M228.2 33.1h0M229.7 42.8h0M229.9 48.7h0M228.8 39.4h0M230.0 45.3h0M229.4 35.0h0M228.9 48.1h0M229.8 46.9h0M230.0 41.7h0M228.0 43.7h0M229.5 47.5h0M230.2 42.4h0M229.1 42.7h0M229.9 34.0h0M228.0 34.4h0M229.9 40.4h0M229.0 38.8h0M227.8 42.5h0M229.0 48.5h0M228.2 41.0h0M229.6 40.6h0M229.0 42.5h0M228.1 47.7h0M227.8 45.7h0M227.9 44.9h0M228.8 36.7h0M230.1 40.5h0M229.2 45.1h0M229.7 34.5h0M226.9 37.7h0M227.4 32.7h0M230.3 46.0h0M227.3 43.6h0M228.3 31.5h0M229.9 43.3h0M229.1 45.7h0M229.1 32.3h0M230.1 46.8h0M228.8 43.2h0M227.7 44.2h0M229.3 39.7h0M228.1 46.2h0M228.2 42.0h0M228.1 36.6h0M229.2 38.0h0M228.7 44.6h0M227.7 47.6h0M228.6 35.8h0M228.5 48.3h0M228.8 39.4h0M227.2 41.2h0M228.9 51.9h0M228.8 34.8h0M228.7 41.4h0M228.3 38.3h0M229.1 29.4h0M230.2 42.2h0M228.6 40.9h0M229.7 59.2h0M228.3 48.9h0M230.0 38.6h0M227.8 47.4h0M229.3 40.7h0M229.6 40.8h0M229.0 42.4h0M229.1 42.8h0M229.5 31.6h0M228.7 34.3h0M227.8 43.2h0M228.1 36.4h0M227.8 46.4h0M228.5 51.4h0M228.2 46.8h0M229.1 40.8h0M228.0 36.3h0M229.0 42.6h0M228.0 23.8h0M229.0 46.7h0M229.9 35.8h0M228.1 45.7h0M229.6 38.5h0M230.0 34.3h0M229.5 39.7h0M227.8 41.5h0M229.9 52.5h0M230.6 46.4h0M227.2 49.5h0M228.5 36.0h0M228.0 33.4h0M228.1 40.3h0M230.0 43.3h0M227.8 33.8h0M227.6 48.2h0M229.4 35.3h0M229.8 46.7h0M229.4 42.0h0M228.5 44.4h0M229.4 51.1h0M229.5 32.0h0M228.6 48.8h0M228.9 46.8h0M229.3 38.6h0M228.0 35.7h0M227.8 43.7h0M230.3 36.2h0M230.4 33.2h0M228.4 45.8h0M229.6 48.8h0M228.4 42.5h0M228.3 34.9h0M228.1 49.3h0M230.0 56.0h0M228.7 43.7h0M228.8 34.2h0M228.9 48.7h0M227.8 58.6h0M230.0 39.2h0M230.3 47.9h0M229.5 53.0h0M229.0 35.7h0M229.8 40.5h0M228.6 35.1h0M227.2 34.4h0M229.4 34.7h0M230.1 35.5h0M230.1 50.2h0M228.6 39.4h0M229.4 38.6h0M229.9 31.9h0M229.2 32.2h0M228.1 34.3h0M227.7 45.3h0M230.4 43.0h0M230.1 49.9h0M229.8 39.8h0M230.2 43.6h0M227.9 44.4h0M228.6 31.1h0M229.2 36.7h0M228.7 47.8h0M229.8 52.8h0M228.8 42.3h0M230.1 39.7h0M228.9 40.1h0M228.9 48.8h0M230.0 36.1h0M229.7 29.5h0M229.5 46.6h0M229.5 39.6h0M227.6 41.2h0M227.7 48.3h0M227.3 49.5h0M228.3 48.9h0M227.8 24.8h0M229.4 50.2h0M230.3 48.4h0M227.7 35.8h0M227.7 48.8h0M229.3 45.0h0M229.8 40.5h0M230.1 33.9h0M226.9 45.8h0M228.2 50.9h0M228.0 39.3h0M229.4 47.5h0M230.1 41.8h0M229.0 47.2h0M231.1 38.0h0M230.4 47.7h0M230.0 50.6h0M228.0 43.1h0M229.6 38.0h0M229.0 52.1h0M230.5 49.0h0M227.9 45.4h0M229.6 33.6h0M228.6 36.6h0M229.8 40.3h0M227.5 40.4h0M230.4 40.3h0M230.2 47.4h0M228.4 35.9h0M230.3 41.7h0M228.0 45.1h0M227.7 39.4h0M230.3 37.2h0M227.8 16.8h0M228.0 42.5h0M229.1 33.9h0M229.0 40.0h0M230.6 43.6h0M228.4 46.4h0M229.8 30.7h0M230.1 35.4h0M228.8 42.0h0M230.3 36.8h0M228.5 35.7h0M227.6 46.1h0M229.0 35.2h0M228.8 33.4h0M227.9 38.7h0M229.1 32.6h0M230.0 31.3h0M229.1 48.7h0M227.8 32.6h0M228.6 30.6h0M230.5 38.6h0M229.8 39.4h0M229.0 35.9h0M230.3 49.9h0M228.8 37.1h0" stroke="#000" stroke-width="1" stroke-linecap="round" opacity=".7" fill="none"/>
<path d="M228.0 53.3h0M227.8 42.2h0M229.2 39.0h0M227.8 43.3h0M228.4 44.4h0M227.4 47.4h0M227.8 42.7h0M230.1 47.7h0M230.2 47.0h0M230.0 43.0h0M227.9 34.3h0M228.5 46.5h0M228.4 51.0h0M228.5 45.9h0M230.0 39.5h0M228.1 45.5h0M228.4 34.9h0M228.6 41.6h0M228.4 43.2h0M229.6 50.6h0M229.0 41.8h0M227.9 43.7h0M228.6 38.6h0M230.4 46.5h0M228.1 40.3h0M230.3 37.5h0M230.4 38.4h0M229.9 43.2h0M229.0 38.8h0M227.6 34.8h0M227.2 41.4h0M229.6 43.4h0M229.2 49.0h0M228.4 43.7h0M230.0 50.5h0M227.6 46.2h0M230.0 40.6h0M228.3 41.4h0M229.4 37.9h0M230.1 46.7h0M228.3 39.9h0M229.3 38.2h0M230.2 49.5h0M230.0 42.0h0M230.7 34.5h0M229.0 37.0h0M229.9 43.5h0M228.5 41.2h0M227.6 38.0h0M229.3 34.5h0M228.1 39.9h0M229.0 32.8h0M229.6 48.8h0M228.1 39.6h0M229.3 50.5h0M229.0 49.3h0M227.7 45.6h0M229.2 40.9h0M229.3 51.2h0M229.7 30.2h0M229.5 48.3h0M229.1 35.4h0M229.6 38.8h0M229.6 36.9h0M228.2 30.5h0M228.0 43.6h0M228.1 41.8h0M229.2 41.0h0M230.0 44.3h0M228.4 61.5h0M228.1 28.2h0M229.9 40.6h0M230.2 46.1h0M230.0 40.2h0M230.0 46.8h0M227.7 46.9h0M230.3 37.5h0M230.2 41.0h0M229.4 35.2h0M228.1 31.7h0M227.9 36.6h0M229.1 42.4h0M228.2 45.4h0M228.3 47.7h0M229.1 34.6h0M229.4 45.0h0M229.2 32.5h0M229.9 41.5h0M228.5 41.7h0M230.2 33.5h0M230.0 42.8h0M228.0 43.7h0M229.1 49.6h0M228.7 42.5h0M228.1 30.0h0M227.6 31.3h0M228.9 31.6h0M229.7 35.3h0M230.4 43.6h0M228.5 39.8h0M228.8 47.6h0M228.5 37.8h0M229.3 47.7h0M229.0 42.8h0M228.5 53.5h0M229.5 37.3h0M228.0 47.2h0M228.0 46.2h0M230.0 33.5h0M230.0 53.1h0M227.8 47.8h0M227.7 32.4h0M229.0 41.2h0M230.0 40.8h0M228.6 35.3h0M228.3 51.9h0M229.6 36.0h0M229.2 45.4h0M229.1 43.2h0M229.5 42.4h0M228.5 48.8h0M228.8 33.1h0M228.7 36.7h0M229.0 33.1h0M229.4 40.8h0M229.5 42.6h0M227.2 41.7h0M228.1 31.2h0M227.7 37.3h0M229.8 35.5h0M230.3 37.1h0M227.7 38.1h0M227.2 35.0h0M228.5 48.1h0M227.7 46.2h0M229.2 39.3h0M230.8 39.9h0M229.5 35.7h0M227.6 36.7h0M228.6 41.2h0M227.8 45.2h0M227.8 39.5h0M230.1 37.8h0M229.9 49.1h0M228.0 48.8h0M228.6 30.7h0M229.1 39.3h0M229.4 47.2h0M230.1 42.3h0M229.4 52.3h0M227.8 36.9h0M227.8 33.0h0M227.7 48.7h0M226.9 38.5h0M229.6 37.8h0M230.4 52.3h0M227.2 39.4h0M228.7 42.0h0M229.3 34.2h0M229.8 40.3h0M229.5 47.1h0M229.8 36.2h0M229.3 38.7h0M230.2 40.6h0M228.0 33.6h0M230.3 50.2h0M228.7 34.8h0M228.1 40.1h0M230.3 30.8h0M230.1 46.0h0M229.9 40.1h0M230.1 45.3h0M227.9 39.7h0M228.0 34.8h0M230.4 35.1h0M230.1 38.6h0M227.8 46.1h0M229.4 41.6h0M228.5 42.4h0M228.9 38.9h0M229.3 36.3h0M228.5 44.1h0M229.8 36.0h0M227.7 47.6h0M227.9 41.8h0M229.6 46.0h0M229.1 49.4h0M229.5 39.5h0M227.0 40.3h0M228.6 40.2h0M227.7 42.5h0M230.3 44.6h0M228.2 40.8h0M229.3 36.7h0M228.9 48.0h0M228.5 43.4h0M227.8 33.1h0M230.3 47.5h0M228.4 29.2h0M229.2 45.4h0M228.0 33.8h0M227.6 37.8h0M230.2 42.6h0M230.0 45.5h0M229.0 46.4h0M230.1 47.2h0M228.2 28.2h0M229.4 38.2h0M228.0 36.8h0M227.4 31.2h0M228.7 41.3h0M229.5 44.8h0M228.6 44.8h0M228.2 51.4h0M230.4 53.9h0M227.6 44.5h0M230.9 36.0h0M227.5 39.9h0M228.8 51.6h0M227.5 48.5h0M229.7 34.7h0M228.7 34.6h0M228.4 38.3h0M228.4 37.8h0M229.9 44.0h0M228.7 42.0h0M229.6 53.3h0M227.9 47.0h0M229.3 40.2h0M228.9 46.6h0M229.3 43.7h0M229.9 25.8h0M230.0 41.2h0M228.9 31.3h0M228.1 48.8h0M230.8 43.2h0M229.0 30.4h0M227.2 53.9h0M229.9 42.4h0M229.0 41.4h0M229.1 41.3h0M230.3 39.2h0M228.8 46.7h0M229.5 40.8h0M230.0 37.8h0M228.9 47.5h0M227.9 31.6h0M228.9 29.5h0M230.0 54.7h0M230.7 38.3h0M230.4 43.1h0M229.1 44.5h0M230.2 42.7h0M228.4 38.8h0M229.6 58.7h0M230.0 41.9h0M230.2 49.8h0M230.3 45.1h0M229.0 42.0h0M229.6 41.2h0M228.6 38.7h0M230.0 33.2h0M229.6 24.9h0M229.2 50.7h0M229.9 48.8h0M229.4 54.1h0M230.3 46.5h0M229.2 43.2h0M229.2 43.2h0M230.4 33.0h0M228.8 42.7h0M229.8 46.9h0M227.8 39.2h0M229.7 46.8h0M228.6 49.4h0M228.3 34.0h0M230.1 40.9h0M228.6 31.7h0M227.7 43.6h0M230.0 42.9h0M230.9 42.8h0M228.4 17.7h0M228.2 50.6h0M227.9 46.8h0M228.0 39.4h0M229.1 44.9h0M228.7 43.4h0M229.8 40.8h0M230.8 31.7h0" stroke="#000" stroke-width="1" stroke-linecap="round" opacity=".7" fill="none"/>
<path d="M249.88 35.25V44M249.88 53V61M245.88 35.25h8M245.88 61h8" stroke="#8a8a8a" stroke-width=".5" fill="none"/>
<rect x="241.25" y="44" width="17.25" height="9" fill="#7f7f7f" stroke="#3a3a3a" stroke-width=".4"/>
<path d="M241.25 49.25H258.5" stroke="#000" stroke-width=".95"/>
<path d="M241.25 113.7H258.5" stroke="#8c8c8c" stroke-width="1.5"/>
<path d="M249.6 42.6h0M249.3 50.5h0M251.2 49.7h0M249.4 43.3h0M250.1 44.2h0M251.0 51.7h0M252.1 55.6h0M249.6 55.4h0M249.4 41.4h0M249.3 56.1h0M249.9 39.1h0M249.1 41.9h0M251.4 54.9h0M250.7 54.9h0M251.5 44.7h0M249.7 52.7h0M249.7 49.9h0M249.3 41.3h0M251.4 50.9h0M250.0 47.9h0M248.4 54.3h0M251.3 44.5h0M249.1 53.4h0M249.6 52.0h0M249.8 51.9h0M249.1 49.5h0M249.4 48.0h0M250.1 38.2h0M250.4 41.5h0M248.6 50.2h0M250.5 51.4h0M250.4 44.9h0M249.0 52.8h0M249.7 59.0h0M249.2 49.0h0M248.4 50.0h0M248.8 52.3h0M251.0 44.5h0M250.4 46.6h0M249.6 52.7h0M249.9 57.4h0M250.5 54.4h0M249.6 42.2h0M248.7 43.5h0M249.7 53.0h0M251.0 44.8h0M249.3 47.2h0M249.6 43.6h0M248.3 47.1h0M250.3 55.3h0M248.9 45.7h0M250.7 43.1h0M250.1 44.1h0M250.8 54.5h0M248.9 47.7h0M249.8 44.9h0M249.4 53.3h0M248.4 51.6h0M249.8 43.2h0M251.5 54.3h0M249.9 50.1h0M250.1 50.9h0M250.1 51.3h0M250.5 48.3h0M248.6 37.0h0M250.7 56.9h0M249.9 53.5h0M249.0 50.4h0M248.5 42.1h0M249.2 42.3h0M250.9 48.9h0M252.3 59.3h0" stroke="#000" stroke-width="1" stroke-linecap="round" opacity=".7" fill="none"/>
<path d="M249.7 53.2h0M250.6 45.4h0M248.7 43.4h0M248.3 39.3h0M249.0 46.6h0M248.4 57.5h0M251.3 53.0h0M249.7 55.1h0M249.4 53.3h0M249.4 44.4h0M250.1 52.8h0M250.7 39.1h0M248.9 53.6h0M249.6 50.8h0M249.7 43.5h0M249.5 43.9h0M248.7 41.7h0M249.3 51.3h0M248.4 43.3h0M249.7 53.8h0M248.7 49.3h0M248.3 51.0h0M248.5 48.9h0M249.5 49.7h0M249.2 48.8h0M250.6 44.2h0M249.0 58.8h0M249.8 47.4h0M250.5 50.2h0M248.3 47.9h0M250.3 53.3h0M249.7 55.3h0M248.6 49.3h0M248.4 51.9h0M250.4 36.3h0M248.8 46.8h0M249.0 38.2h0M248.8 46.2h0M250.4 55.3h0M252.0 54.0h0M251.2 54.0h0M248.4 49.1h0M250.6 54.3h0M251.5 48.0h0M248.8 41.9h0M248.6 53.6h0M250.3 56.6h0M249.1 48.1h0M250.7 44.2h0M249.1 51.6h0M250.6 43.4h0M248.4 48.2h0M248.8 58.0h0M250.6 52.6h0M250.4 46.2h0M250.0 43.9h0M248.9 51.2h0M251.1 42.8h0M248.5 52.0h0M250.4 41.7h0M250.2 43.9h0M248.5 52.2h0M249.0 39.8h0M250.7 54.8h0M250.7 54.1h0M250.7 47.3h0M249.8 52.7h0M250.4 41.7h0M251.0 43.7h0M250.5 40.0h0M252.3 49.0h0" stroke="#000" stroke-width="1" stroke-linecap="round" opacity=".7" fill="none"/>
<path d="M251.3 46.6h0M250.0 43.1h0M249.2 53.9h0M250.6 56.1h0M251.2 44.6h0M251.1 55.8h0M250.6 46.5h0M250.5 51.0h0M249.8 50.9h0M251.2 45.6h0M249.4 50.1h0M248.5 53.3h0M249.5 48.1h0M250.4 54.2h0M250.2 48.7h0M248.5 51.8h0M249.2 44.4h0M251.3 53.7h0M248.3 52.4h0M248.5 53.6h0M250.7 51.8h0M251.3 53.4h0M251.2 43.5h0M248.4 47.3h0M251.2 43.2h0M252.1 50.4h0M250.0 55.9h0M250.1 50.9h0M249.3 46.9h0M249.5 51.3h0M249.3 48.3h0M251.2 48.0h0M248.5 56.4h0M249.9 43.6h0M248.4 50.3h0M249.6 49.0h0M248.7 49.8h0M248.8 42.0h0M251.3 55.6h0M248.0 48.8h0M251.0 51.9h0M250.1 52.8h0M249.4 51.9h0M249.9 50.9h0M248.5 47.1h0M249.9 54.6h0M249.2 41.5h0M249.7 46.4h0M249.6 40.7h0M250.5 47.2h0M250.3 42.9h0M249.2 53.1h0M249.8 53.6h0M249.1 57.0h0M249.1 55.5h0M251.4 50.9h0M249.5 42.7h0M250.3 54.4h0M249.0 39.8h0M251.0 40.1h0M249.8 56.4h0M249.6 40.0h0M248.8 52.0h0M250.2 58.6h0M250.9 44.8h0M248.7 53.7h0M249.4 54.7h0M251.1 45.4h0M250.7 50.9h0M249.4 45.9h0M249.1 42.5h0" stroke="#000" stroke-width="1" stroke-linecap="round" opacity=".7" fill="none"/>
<path d="M291.45 31.5V42.5M291.45 50.5V60M287.45 31.5h8M287.45 60h8" stroke="#8a8a8a" stroke-width=".5" fill="none"/>
<rect x="282.9" y="42.5" width="17.1" height="8" fill="#fb6565" stroke="#5a2a2a" stroke-width=".4"/>
<path d="M282.9 46.25H300" stroke="#000" stroke-width="1.1"/>
<path d="M293.4 43.8h0M291.9 41.5h0M292.7 51.5h0M291.7 40.3h0M291.3 52.5h0M292.7 45.1h0M290.8 36.1h0M293.0 36.5h0M290.8 45.5h0M290.1 45.0h0M289.8 46.1h0M291.1 47.2h0M289.9 62.5h0M291.0 40.7h0M290.6 47.3h0M291.2 50.5h0M289.6 38.5h0M291.6 40.4h0M290.3 48.6h0M292.5 46.6h0M291.9 51.0h0M292.7 47.5h0M291.1 50.8h0M292.6 47.9h0M290.7 43.3h0M290.4 48.9h0M293.2 53.9h0M291.9 41.1h0M292.4 51.8h0M292.1 45.5h0M291.7 36.3h0M291.6 48.6h0M290.6 49.2h0M292.1 49.1h0M291.3 44.5h0M290.6 54.2h0M291.9 42.2h0M290.4 44.1h0M292.1 49.5h0M292.6 42.9h0M292.0 45.9h0M292.7 45.3h0M291.9 40.8h0M292.6 38.9h0M291.9 41.8h0M290.7 42.3h0M292.2 41.1h0M291.1 45.6h0M293.6 45.5h0M293.1 41.2h0M291.4 52.7h0M289.9 41.8h0M290.8 54.2h0M291.5 45.9h0M290.6 41.8h0M291.2 42.0h0M292.0 49.8h0M290.3 47.1h0M290.5 41.4h0M292.5 52.2h0M290.9 43.5h0M290.8 45.5h0M292.9 48.2h0M291.0 46.4h0M292.1 40.4h0M292.6 41.8h0M290.3 48.9h0M292.8 45.9h0M289.6 40.7h0M292.6 50.0h0M289.5 42.6h0M290.5 52.6h0M292.6 40.0h0M291.9 42.9h0M290.8 46.6h0M290.4 45.1h0M291.0 42.1h0M290.6 48.6h0M292.7 56.3h0M291.6 37.5h0M291.9 35.2h0M290.9 44.4h0M292.2 48.5h0M291.3 45.8h0M292.0 50.2h0M290.6 55.8h0M290.4 46.4h0M291.4 48.6h0M290.9 59.5h0M292.0 50.6h0M291.5 52.3h0M291.7 48.0h0M290.9 34.0h0M290.7 54.6h0M290.5 55.1h0M291.0 51.2h0M291.8 45.8h0M290.2 45.2h0M291.0 38.1h0M290.7 38.3h0M291.1 50.6h0M291.7 42.8h0M292.5 48.2h0M290.7 41.8h0M290.7 55.9h0M289.3 51.6h0M291.3 49.8h0M290.7 47.8h0M292.1 40.3h0M290.1 46.0h0M291.7 51.0h0M290.3 51.3h0M290.5 49.3h0M292.6 61.1h0M292.1 52.4h0M292.3 50.1h0M292.6 48.5h0M292.9 43.5h0M292.6 36.5h0M292.3 52.1h0M291.8 48.4h0M290.1 41.6h0M291.4 50.8h0M290.3 46.3h0M291.5 52.1h0M293.5 42.8h0M291.0 47.0h0M292.0 52.7h0M290.5 46.7h0M292.6 54.5h0M291.4 56.2h0M291.5 40.1h0M289.9 50.3h0M292.2 44.8h0M291.8 42.7h0M291.4 43.4h0M291.7 54.5h0M291.5 49.3h0M292.8 47.3h0M291.3 55.6h0M292.0 36.4h0M291.7 49.3h0M290.7 41.6h0M290.9 50.7h0M292.7 44.0h0M292.1 49.1h0M291.3 49.7h0M292.0 47.5h0M292.1 45.2h0M290.9 50.2h0M292.3 40.6h0M291.5 43.9h0M289.7 48.3h0M290.2 40.9h0M291.2 45.1h0M290.7 42.5h0M291.8 40.9h0M290.6 40.4h0M292.8 45.9h0M292.5 40.0h0M291.8 40.3h0M290.5 46.2h0M292.5 49.3h0M290.8 37.3h0M293.5 44.9h0M291.5 35.9h0M291.0 41.6h0M292.8 51.3h0M291.7 42.0h0M291.8 48.6h0M292.5 50.8h0M291.9 43.4h0M290.3 52.9h0M290.2 42.7h0M290.8 42.9h0M291.0 42.9h0M292.1 40.5h0M292.0 45.4h0M291.2 49.2h0M290.7 44.4h0M292.7 43.0h0M292.6 46.6h0" stroke="#000" stroke-width="1" stroke-linecap="round" opacity=".7" fill="none"/>
<path d="M292.7 42.5h0M292.4 41.6h0M292.5 45.7h0M292.1 49.6h0M292.6 59.5h0M292.1 34.6h0M290.1 53.3h0M290.1 44.9h0M292.5 43.7h0M290.9 55.6h0M290.9 51.2h0M290.9 47.7h0M291.9 46.3h0M291.8 56.1h0M290.2 41.2h0M290.7 49.4h0M291.5 53.9h0M291.0 50.3h0M292.0 54.9h0M290.4 46.2h0M292.8 48.9h0M290.1 46.6h0M293.5 37.1h0M292.6 40.1h0M292.6 36.8h0M291.7 38.4h0M291.6 36.3h0M291.5 37.0h0M290.2 46.8h0M292.2 45.5h0M291.6 53.2h0M291.0 45.0h0M292.7 36.0h0M291.5 50.9h0M291.6 51.3h0M291.4 45.3h0M292.2 42.7h0M290.5 44.3h0M291.9 57.1h0M290.4 51.9h0M291.6 47.7h0M290.3 41.7h0M291.7 45.4h0M290.9 43.2h0M293.2 41.6h0M291.6 54.4h0M289.3 49.7h0M290.3 49.5h0M290.2 45.7h0M292.6 46.0h0M291.2 39.9h0M290.8 49.0h0M292.6 51.1h0M290.1 52.2h0M291.4 58.4h0M292.0 50.9h0M292.0 48.6h0M292.8 37.6h0M291.0 46.7h0M291.7 44.7h0M292.2 46.8h0M292.3 51.0h0M292.5 47.8h0M290.8 40.9h0M291.5 44.9h0M290.7 37.9h0M291.6 51.9h0M292.8 39.7h0M290.8 50.0h0M293.0 55.7h0M292.2 47.4h0M290.7 44.7h0M290.1 44.3h0M290.6 49.8h0M292.7 48.2h0M291.2 41.9h0M289.7 49.1h0M291.8 47.0h0M291.7 50.4h0M290.7 48.7h0M292.7 55.0h0M292.1 31.6h0M292.6 44.5h0M290.5 51.5h0M290.4 48.7h0M293.3 44.9h0M290.8 45.5h0M291.4 50.6h0M290.9 40.2h0M290.7 48.8h0M292.7 46.1h0M291.2 37.0h0M292.2 43.4h0M291.9 46.7h0M289.4 48.4h0M291.4 49.2h0M290.7 49.7h0M292.0 50.1h0M290.2 50.7h0M292.3 43.4h0M292.3 49.7h0M290.0 43.9h0M290.7 46.3h0M292.8 52.0h0M290.3 45.6h0M292.1 34.7h0M290.4 47.3h0M290.1 42.2h0M293.0 40.6h0M292.3 51.9h0M291.1 47.1h0M290.5 34.9h0M291.7 45.1h0M292.6 41.2h0M292.6 44.2h0M293.0 48.7h0M292.4 51.9h0M291.5 55.2h0M291.5 40.7h0M291.0 48.6h0M290.2 47.3h0M290.2 48.1h0M291.2 46.9h0M292.6 48.1h0M290.6 44.4h0M290.6 50.6h0M291.5 55.4h0M293.5 52.3h0M290.1 41.3h0M291.4 42.9h0M290.2 36.5h0M292.3 43.6h0M290.9 46.5h0M290.6 37.1h0M292.3 46.6h0M290.7 42.4h0M291.8 42.9h0M291.6 47.4h0M290.2 56.2h0M291.8 47.9h0M292.1 41.9h0M292.9 39.0h0M290.4 55.4h0M291.0 40.8h0M291.5 37.0h0M290.8 50.0h0M291.7 46.2h0M292.4 52.4h0M291.6 35.7h0M291.4 49.0h0M291.2 42.7h0M290.8 44.7h0M291.9 46.1h0M291.7 51.0h0M292.2 46.7h0M291.9 42.6h0M292.4 55.5h0M291.7 52.5h0M292.7 53.8h0M292.0 54.1h0M291.3 49.5h0M290.4 52.9h0M291.5 53.3h0M291.9 46.7h0M292.6 33.8h0M291.9 48.3h0M290.7 43.1h0M290.5 39.4h0M292.8 52.0h0M290.7 53.4h0M292.0 42.5h0M291.2 50.1h0M291.2 40.4h0M291.8 51.5h0M289.4 48.4h0M291.7 45.5h0M291.6 51.9h0M291.4 43.1h0M291.9 50.7h0M291.3 54.3h0M290.4 45.6h0M292.4 42.9h0" stroke="#000" stroke-width="1" stroke-linecap="round" opacity=".7" fill="none"/>
<path d="M291.6 54.4h0M290.5 55.4h0M291.1 47.9h0M292.2 42.4h0M292.7 42.2h0M292.2 58.0h0M290.8 47.3h0M292.2 50.6h0M290.2 37.9h0M290.0 54.8h0M290.5 50.2h0M291.6 43.4h0M291.3 41.6h0M291.4 43.7h0M291.4 53.8h0M291.7 47.8h0M290.3 50.8h0M291.7 48.0h0M291.0 36.9h0M292.4 54.5h0M290.7 41.1h0M290.8 52.8h0M292.5 30.6h0M290.3 50.5h0M292.2 52.7h0M292.4 51.3h0M291.3 58.7h0M291.5 53.6h0M290.6 31.5h0M290.4 43.2h0M291.2 55.7h0M292.5 41.3h0M290.6 45.5h0M290.0 47.2h0M292.7 39.5h0M292.6 39.8h0M291.0 47.6h0M291.0 48.2h0M291.9 50.1h0M291.8 51.4h0M292.0 55.4h0M291.4 56.4h0M292.1 37.4h0M290.1 63.0h0M289.4 55.7h0M292.0 42.6h0M290.2 48.9h0M290.6 49.4h0M290.4 43.1h0M290.8 44.6h0M291.1 46.9h0M292.8 53.9h0M290.8 48.7h0M292.6 56.6h0M290.2 45.0h0M290.5 50.7h0M289.4 42.1h0M292.5 51.0h0M290.9 51.7h0M291.4 50.6h0M291.7 44.4h0M292.1 47.5h0M291.3 52.8h0M292.6 45.3h0M291.9 43.1h0M290.7 48.1h0M291.3 54.0h0M290.6 52.9h0M290.9 52.2h0M292.7 54.3h0M290.6 52.7h0M291.1 51.8h0M291.4 56.9h0M292.3 40.3h0M291.8 49.2h0M291.1 46.5h0M290.5 46.5h0M292.4 33.8h0M291.5 50.9h0M291.5 46.5h0M292.7 44.0h0M291.4 48.6h0M290.1 53.3h0M292.0 48.7h0M292.7 47.4h0M290.7 44.5h0M290.9 51.4h0M291.3 44.6h0M291.1 49.5h0M291.4 39.3h0M291.3 50.5h0M292.7 55.4h0M291.0 51.2h0M291.5 43.7h0M291.8 43.5h0M292.6 58.3h0M290.9 45.4h0M292.8 53.9h0M290.8 54.1h0M293.2 52.9h0M292.6 45.6h0M291.5 42.2h0M292.9 52.5h0M291.9 44.8h0M290.7 46.3h0M291.2 44.1h0M292.7 50.7h0M290.0 49.0h0M291.2 53.7h0M291.8 49.2h0M292.5 48.8h0M290.1 41.8h0M290.9 46.1h0M290.3 48.8h0M290.4 39.0h0M290.1 47.4h0M291.8 51.7h0M292.8 52.5h0M291.5 40.7h0M290.6 47.8h0M291.5 53.5h0M290.5 44.4h0M291.2 42.2h0M290.5 51.3h0M291.2 41.9h0M289.8 43.4h0M291.5 46.0h0M289.5 45.1h0M293.0 49.3h0M292.1 44.5h0M290.9 49.5h0M292.3 37.6h0M292.3 47.7h0M292.7 40.1h0M291.0 53.3h0M292.6 43.1h0M292.1 50.8h0M289.5 45.7h0M290.6 54.0h0M293.3 44.7h0M291.9 39.1h0M290.1 48.1h0M291.4 49.3h0M291.7 45.8h0M290.9 53.2h0M290.9 50.9h0M292.2 45.0h0M291.4 37.8h0M292.5 45.5h0M293.0 31.5h0M291.0 36.0h0M290.8 41.5h0M290.2 45.4h0M292.6 49.1h0M290.2 43.1h0M291.1 53.4h0M290.7 46.5h0M290.2 48.7h0M292.1 50.3h0M291.5 41.9h0M290.8 45.2h0M291.2 46.0h0M292.5 51.4h0M290.1 41.5h0M291.7 46.8h0M291.8 39.0h0M292.9 49.8h0M292.7 41.8h0M292.8 42.8h0M291.9 43.8h0M292.5 50.4h0M292.3 45.2h0M291.0 39.0h0M291.8 46.4h0M292.7 44.5h0M291.0 51.2h0M291.1 40.3h0M291.4 46.7h0M292.3 41.5h0M291.4 48.9h0M290.0 50.6h0M291.4 42.3h0" stroke="#000" stroke-width="1" stroke-linecap="round" opacity=".7" fill="none"/>
<path d="M312.3 32V44.3M312.3 53V59.25M308.3 32h8M308.3 59.25h8" stroke="#8a8a8a" stroke-width=".5" fill="none"/>
<rect x="303.6" y="44.3" width="17.4" height="8.7" fill="#7f7f7f" stroke="#3a3a3a" stroke-width=".4"/>
<path d="M303.6 49.3H321" stroke="#000" stroke-width=".95"/>
<circle cx="312.6" cy="113.7" r=".5" fill="#777"/>
<path d="M312.8 36.1h0M311.2 40.5h0M311.1 46.4h0M310.8 44.1h0M311.2 48.0h0M311.9 10.1h0M311.0 48.0h0M313.1 51.9h0M314.0 17.5h0M310.8 48.0h0M311.2 27.4h0M313.8 50.5h0M313.4 42.6h0M313.0 36.6h0M312.9 51.7h0M311.0 54.8h0M312.9 57.1h0M313.3 55.7h0M311.3 50.2h0M313.8 45.6h0M311.6 44.1h0M312.7 41.5h0M313.2 51.6h0M311.4 51.8h0M312.0 50.3h0M311.7 47.0h0M312.8 48.3h0M311.9 49.4h0M311.1 50.9h0M312.8 44.3h0M312.8 53.3h0M310.9 42.3h0M312.9 46.3h0M313.9 48.5h0M311.7 36.9h0M313.3 13.7h0M312.1 42.5h0M313.6 48.6h0M312.7 55.7h0M313.5 58.6h0M311.3 10.7h0M313.9 50.8h0M313.3 46.2h0M312.8 55.3h0M312.5 48.9h0M312.8 27.0h0M312.7 49.2h0M313.3 51.6h0M313.7 51.5h0M312.4 56.0h0M312.8 53.1h0M313.4 41.3h0M312.3 44.6h0M312.6 50.4h0M311.9 54.6h0M312.9 37.9h0M312.5 51.7h0M310.8 50.6h0M311.4 37.5h0M311.4 38.7h0M312.5 53.5h0M313.7 48.9h0M312.1 42.5h0M313.3 20.9h0M311.0 51.8h0M313.4 27.9h0M313.7 31.5h0M310.9 18.4h0M312.1 35.0h0M312.9 52.6h0M311.2 52.5h0M311.7 43.2h0M313.5 39.2h0M311.9 44.2h0M313.7 46.0h0M314.1 15.5h0M311.1 42.7h0M311.3 53.6h0M312.5 47.1h0M313.1 49.1h0M313.2 46.8h0M311.2 52.7h0M312.7 50.7h0M313.5 47.6h0M312.1 53.4h0M313.8 13.7h0M311.2 55.4h0M313.7 48.1h0" stroke="#000" stroke-width="1" stroke-linecap="round" opacity=".7" fill="none"/>
<path d="M310.9 53.3h0M310.9 45.8h0M311.6 50.8h0M312.5 55.9h0M312.9 53.7h0M314.0 13.2h0M313.1 23.1h0M312.1 38.9h0M311.3 53.2h0M311.2 44.8h0M312.2 34.7h0M312.4 54.7h0M312.4 40.3h0M313.3 50.7h0M313.3 52.1h0M312.1 50.6h0M312.7 39.3h0M311.0 52.9h0M313.0 49.6h0M312.4 44.7h0M312.5 40.6h0M313.1 47.1h0M313.6 56.0h0M313.2 49.9h0M312.6 48.1h0M310.5 20.3h0M310.7 55.8h0M311.7 43.9h0M313.3 51.9h0M312.8 54.4h0M312.1 49.1h0M312.0 49.5h0M310.9 54.2h0M313.7 40.2h0M311.3 53.6h0M313.5 55.3h0M313.9 40.1h0M310.8 52.8h0M310.9 53.0h0M312.4 54.1h0M310.9 52.3h0M311.5 30.3h0M312.8 39.2h0M311.6 52.5h0M312.4 48.7h0M311.0 18.9h0M313.9 55.9h0M312.4 44.5h0M313.0 50.2h0M313.4 56.2h0M311.8 49.9h0M313.5 50.2h0M313.9 22.0h0M313.3 45.0h0M311.6 30.8h0M311.0 52.4h0M313.7 54.5h0M311.0 38.7h0M311.2 49.4h0M312.6 43.8h0M310.7 12.2h0M314.2 50.0h0M312.0 41.6h0M313.3 54.3h0M313.0 49.0h0M312.3 40.6h0M312.6 45.4h0M310.1 54.4h0M313.4 49.2h0M312.6 44.2h0M311.1 54.5h0M313.1 51.6h0M313.5 43.7h0M311.5 52.0h0M313.2 40.0h0M313.4 43.0h0M311.6 46.9h0M311.0 31.5h0M310.9 53.3h0M313.1 52.3h0M312.1 53.7h0M314.1 21.8h0M312.1 46.2h0M312.9 48.8h0M313.0 48.3h0M313.5 18.4h0M312.7 40.0h0M313.6 53.3h0" stroke="#000" stroke-width="1" stroke-linecap="round" opacity=".7" fill="none"/>
<path d="M313.3 54.0h0M312.9 42.2h0M313.6 38.7h0M312.8 52.3h0M313.0 48.9h0M313.4 52.1h0M311.7 50.3h0M311.0 49.6h0M311.0 52.9h0M314.0 53.1h0M311.2 49.4h0M310.2 53.9h0M311.6 55.9h0M311.4 44.9h0M312.5 44.9h0M311.4 52.8h0M313.3 47.7h0M313.8 55.5h0M313.3 55.6h0M313.7 46.5h0M313.8 55.2h0M313.7 49.1h0M314.2 30.4h0M313.6 45.6h0M311.6 41.5h0M310.7 45.5h0M310.7 50.1h0M310.5 39.8h0M309.9 44.1h0M312.6 78.2h0M312.2 27.9h0M314.5 46.5h0M312.7 54.0h0M310.9 48.1h0M311.8 17.8h0M312.6 48.4h0M311.7 45.2h0M312.8 42.0h0M310.4 45.5h0M312.8 28.2h0M312.6 49.1h0M313.8 53.7h0M312.7 53.0h0M313.2 55.6h0M313.9 41.3h0M313.6 51.3h0M309.9 53.6h0M312.9 38.4h0M311.7 44.5h0M311.6 59.8h0M314.1 40.1h0M313.3 45.4h0M311.4 34.6h0M312.4 58.8h0M311.3 43.5h0M311.3 46.8h0M313.1 52.9h0M314.0 53.5h0M309.9 49.7h0M312.0 36.2h0M313.2 51.1h0M310.9 42.7h0M314.5 50.0h0M311.2 48.9h0M311.1 42.7h0M312.5 51.8h0M312.0 46.9h0M311.3 42.4h0M312.4 55.4h0M311.7 48.1h0M313.3 52.7h0M313.6 53.9h0M312.6 54.3h0M312.3 53.2h0M311.5 25.5h0M313.4 44.8h0M312.3 55.0h0M311.5 56.3h0M310.9 20.1h0M311.0 53.2h0M313.4 19.3h0M312.0 46.0h0M312.9 50.4h0M310.8 48.5h0M312.6 41.8h0M313.6 43.9h0M312.4 54.4h0M311.4 53.9h0" stroke="#000" stroke-width="1" stroke-linecap="round" opacity=".7" fill="none"/>
<path d="M229.25 15.5V10.5H237.43M241.82 10.5H250V33.75" stroke="#7c7c7c" stroke-width=".55" fill="none"/>
<circle cx="239.62" cy="10.4" r="1.05" fill="#f5323c"/>
<path d="M291.5 22V4.4H299.68M304.07 4.4H312.25V7.5" stroke="#7c7c7c" stroke-width=".55" fill="none"/>
<circle cx="301.88" cy="4.3" r="1.05" fill="#f5323c"/>
<path d="M203.3 0.3H338.1" stroke="#a6a6a6" stroke-width=".85"/>
<path d="M337.7 0.3V118.3" stroke="#a0a0a0" stroke-width=".85"/>
<path d="M203.3 118.3H338.1" stroke="#9c9c9c" stroke-width=".85"/>
<path d="M203.7 0.3V118.3" stroke="#a6a6a6" stroke-width=".85"/>
<path d="M239.5 118.3v2" stroke="#666" stroke-width=".6"/>
<path d="M301.5 118.3v2" stroke="#666" stroke-width=".6"/>
<path d="M203.7 2h-3.2" stroke="#808080" stroke-width=".6"/>
<text transform="translate(197.8 2) rotate(-90)" font-size="4" text-anchor="middle" fill="#111" stroke="#111" stroke-width=".1">14</text>
<path d="M203.7 18.25h-3.2" stroke="#808080" stroke-width=".6"/>
<text transform="translate(197.8 18.25) rotate(-90)" font-size="4" text-anchor="middle" fill="#111" stroke="#111" stroke-width=".1">12</text>
<path d="M203.7 34.25h-3.2" stroke="#808080" stroke-width=".6"/>
<text transform="translate(197.8 34.25) rotate(-90)" font-size="4" text-anchor="middle" fill="#111" stroke="#111" stroke-width=".1">10</text>
<path d="M203.7 50h-3.2" stroke="#808080" stroke-width=".6"/>
<text transform="translate(197.8 50) rotate(-90)" font-size="4" text-anchor="middle" fill="#111" stroke="#111" stroke-width=".1">8</text>
<path d="M203.7 66h-3.2" stroke="#808080" stroke-width=".6"/>
<text transform="translate(197.8 66) rotate(-90)" font-size="4" text-anchor="middle" fill="#111" stroke="#111" stroke-width=".1">6</text>
<path d="M203.7 82h-3.2" stroke="#808080" stroke-width=".6"/>
<text transform="translate(197.8 82) rotate(-90)" font-size="4" text-anchor="middle" fill="#111" stroke="#111" stroke-width=".1">4</text>
<path d="M203.7 98h-3.2" stroke="#808080" stroke-width=".6"/>
<text transform="translate(197.8 98) rotate(-90)" font-size="4" text-anchor="middle" fill="#111" stroke="#111" stroke-width=".1">2</text>
<path d="M203.7 113.7h-3.2" stroke="#808080" stroke-width=".6"/>
<text transform="translate(197.8 113.7) rotate(-90)" font-size="4" text-anchor="middle" fill="#111" stroke="#111" stroke-width=".1">0</text>
<text transform="translate(187 59.3) rotate(-90)" font-size="4.12" text-anchor="middle" fill="#111" stroke="#111" stroke-width=".1">Expression - log<tspan font-size="2.8" dy=".8">2</tspan><tspan dy="-.8">(TPM+1)</tspan></text>
<text x="239.5" y="127" font-size="4.05" text-anchor="middle" fill="#111" stroke="#111" stroke-width=".1">BRCA</text>
<text x="239.5" y="131.6" font-size="4" text-anchor="middle" fill="#111" stroke="#111" stroke-width=".1">(num(T)=1085; num(N)=291)</text>
<text x="301.5" y="127" font-size="4.05" text-anchor="middle" fill="#111" stroke="#111" stroke-width=".1">LUAD</text>
<text x="301.5" y="131.6" font-size="4" text-anchor="middle" fill="#111" stroke="#111" stroke-width=".1">(num(T)=483; num(N)=347)</text>
<text x="172.65" y="19.8" font-size="23.7" font-weight="bold" fill="#000">b</text>
<path d="M403.25 37.5V59.25M403.25 73.75V95M399.25 37.5h8M399.25 95h8" stroke="#8a8a8a" stroke-width=".5" fill="none"/>
<rect x="394.75" y="59.25" width="17" height="14.5" fill="#fb6565" stroke="#5a2a2a" stroke-width=".4"/>
<path d="M394.75 65.5H411.75" stroke="#000" stroke-width="1.1"/>
<path d="M394.75 114.2H411.75" stroke="#3a3a3a" stroke-width="1.05"/>
<path d="M401.6 76.6h0M402.7 39.8h0M402.2 60.9h0M400.4 60.0h0M402.5 61.7h0M405.2 67.6h0M403.2 58.4h0M404.5 95.0h0M402.0 57.7h0M403.9 53.8h0M402.9 69.3h0M402.0 56.5h0M402.8 101.8h0M402.3 64.5h0M403.9 46.7h0M402.4 52.2h0M403.4 60.6h0M402.3 57.9h0M401.6 58.8h0M403.4 50.5h0M405.0 62.8h0M404.4 63.0h0M403.8 59.1h0M401.3 67.9h0M402.3 46.9h0M402.1 62.5h0M402.7 61.5h0M404.4 74.1h0M405.2 66.3h0M404.1 43.9h0M402.8 71.6h0M402.1 75.9h0M406.3 69.4h0M402.0 67.1h0M404.9 60.1h0M404.3 74.2h0M401.5 60.3h0M404.2 63.6h0M402.0 61.4h0M402.6 60.0h0M404.0 74.7h0M403.2 52.4h0M401.5 62.9h0M400.9 53.9h0M403.4 84.6h0M402.5 57.8h0M404.4 47.7h0M403.3 64.0h0M403.5 64.1h0M403.1 86.4h0M401.3 55.1h0M401.1 95.7h0M404.3 77.6h0M402.5 57.6h0M402.7 102.9h0M403.3 86.1h0M401.7 48.9h0M401.9 51.7h0M405.1 72.8h0M404.6 86.3h0M401.4 63.2h0M402.5 90.8h0M404.1 61.1h0M401.6 74.1h0M404.4 51.2h0M404.3 66.6h0M403.2 53.7h0M400.6 73.8h0M403.1 77.9h0M402.3 80.3h0M403.5 59.9h0M405.2 73.1h0M401.2 45.7h0M401.4 72.2h0M404.0 50.3h0M406.0 57.9h0M403.8 102.6h0M404.1 82.8h0M401.5 62.4h0M401.5 58.6h0M401.6 67.9h0M400.7 62.1h0M401.3 61.4h0M403.2 75.0h0M404.7 61.7h0M402.8 59.0h0M402.4 87.6h0M403.7 76.6h0M402.6 51.7h0M403.4 84.3h0M401.3 47.1h0M404.9 77.1h0M405.1 62.1h0M405.1 66.4h0M403.8 63.6h0M405.1 63.8h0M402.3 39.0h0M404.7 60.8h0M404.0 56.7h0M403.8 68.1h0M401.9 66.8h0M402.4 63.0h0M402.4 75.1h0M404.0 59.3h0M404.8 64.5h0M401.9 53.9h0M402.5 63.5h0M404.9 56.6h0M402.5 77.4h0M404.9 70.1h0M403.5 63.1h0M403.3 56.5h0M403.8 64.0h0M403.3 72.7h0M404.2 57.2h0M403.7 82.3h0M403.6 63.5h0M402.7 66.8h0M403.3 51.8h0M403.4 83.1h0M400.8 64.5h0M403.0 65.0h0M405.0 57.5h0M402.0 76.8h0M402.5 67.2h0M403.6 74.1h0M404.5 67.4h0M403.8 62.1h0M401.5 73.4h0M403.5 74.7h0M401.2 66.9h0M401.9 85.4h0M403.4 65.5h0M402.2 83.7h0M404.0 78.3h0M404.8 85.5h0M404.9 96.7h0M403.4 60.1h0M405.0 86.1h0M404.8 68.6h0M404.0 76.7h0M401.4 54.3h0M402.1 82.3h0M406.2 48.7h0M401.4 89.6h0M402.3 56.4h0M403.8 76.9h0M404.6 66.5h0M402.1 75.5h0M404.0 52.4h0M404.5 75.0h0M403.7 69.1h0M404.4 63.8h0M404.0 70.3h0M403.9 55.5h0M402.7 61.6h0M402.2 57.2h0M401.3 73.5h0M404.1 57.7h0M402.2 52.7h0M401.7 78.2h0M403.6 76.5h0M403.9 86.8h0M403.4 72.2h0M404.9 58.4h0M405.2 81.4h0M402.6 49.4h0M403.5 53.9h0M405.6 56.1h0M402.5 57.5h0M403.8 64.7h0M400.5 80.0h0M402.0 68.9h0M402.8 67.2h0M401.6 75.4h0M403.3 56.8h0M404.8 54.3h0M404.3 56.2h0M401.8 65.5h0M401.0 60.0h0M402.7 83.7h0M404.7 62.8h0M403.8 60.6h0M402.6 64.8h0M401.4 66.9h0M403.6 57.1h0M405.5 37.1h0M404.6 63.0h0M401.3 88.9h0M404.4 78.3h0M406.2 78.6h0M403.9 75.9h0M402.7 75.5h0M401.7 75.7h0M405.7 58.9h0M403.7 75.6h0M403.1 53.5h0M402.9 69.1h0M402.3 54.4h0M401.8 80.0h0M402.5 76.2h0M402.9 59.6h0M402.1 74.2h0M405.4 77.7h0M403.4 51.9h0M404.0 72.2h0M401.7 58.3h0M404.8 59.8h0M405.0 74.1h0M404.0 61.5h0M405.2 73.8h0M403.5 48.9h0M401.4 65.3h0M404.5 70.7h0M402.7 59.3h0M403.3 66.2h0M404.8 65.0h0M403.0 69.4h0M402.9 74.7h0M401.6 61.3h0M405.0 97.1h0M402.8 56.5h0M404.3 67.2h0M403.3 68.7h0M402.5 78.3h0M401.8 60.8h0M404.4 79.0h0M402.3 74.7h0M403.7 62.9h0M401.9 46.8h0M401.1 100.9h0M404.1 52.6h0M401.7 65.3h0M402.2 58.5h0M402.9 58.4h0M404.0 70.0h0M402.1 80.7h0M404.7 68.3h0M404.0 81.1h0M404.4 64.6h0M404.2 60.4h0M405.2 58.7h0M401.3 41.1h0M401.0 71.4h0" stroke="#000" stroke-width="1" stroke-linecap="round" opacity=".7" fill="none"/>
<path d="M404.2 51.8h0M401.3 62.3h0M405.9 71.6h0M404.1 62.7h0M403.8 53.3h0M404.6 58.3h0M402.4 59.9h0M401.8 62.7h0M406.3 59.3h0M401.8 72.1h0M402.4 65.2h0M404.6 63.9h0M405.0 73.9h0M402.2 52.8h0M402.9 42.9h0M402.9 61.7h0M403.9 69.0h0M404.4 60.5h0M403.8 68.2h0M402.5 82.5h0M403.4 77.5h0M401.0 39.1h0M403.9 64.4h0M403.6 58.0h0M403.2 93.2h0M402.5 54.0h0M401.6 55.5h0M403.0 56.0h0M402.5 71.6h0M401.5 75.0h0M401.0 95.9h0M404.5 60.1h0M403.1 55.4h0M403.1 69.7h0M403.3 46.9h0M403.1 59.4h0M404.2 68.4h0M401.9 41.7h0M401.8 58.7h0M403.4 65.3h0M404.9 57.1h0M403.9 76.4h0M404.8 74.3h0M402.8 56.8h0M404.8 75.4h0M402.0 58.4h0M402.8 42.7h0M405.6 65.0h0M402.0 52.8h0M401.8 56.6h0M402.6 61.0h0M405.2 73.6h0M401.8 65.6h0M404.2 53.2h0M402.6 77.1h0M403.9 67.6h0M402.6 56.1h0M402.2 64.4h0M404.6 62.7h0M405.3 72.1h0M402.0 53.8h0M404.3 63.3h0M403.7 65.4h0M403.6 51.0h0M404.3 63.4h0M404.5 64.6h0M403.0 77.4h0M404.7 71.2h0M401.5 62.2h0M403.6 72.8h0M401.4 74.0h0M401.3 72.5h0M402.0 64.6h0M405.9 63.7h0M402.0 39.8h0M403.1 52.9h0M403.4 74.3h0M403.2 68.2h0M403.7 69.9h0M403.9 82.9h0M402.8 68.7h0M403.7 77.0h0M405.1 58.2h0M403.1 66.4h0M404.0 68.1h0M402.1 72.6h0M400.6 63.3h0M402.8 62.0h0M401.9 54.2h0M404.5 63.1h0M402.3 78.1h0M403.8 59.3h0M404.6 79.1h0M401.8 95.6h0M404.0 74.3h0M401.8 63.8h0M401.5 61.9h0M403.0 74.2h0M402.1 59.8h0M400.4 63.3h0M402.6 69.3h0M403.6 62.3h0M405.1 70.2h0M402.8 58.4h0M405.1 52.0h0M400.5 73.5h0M402.2 82.6h0M403.2 81.1h0M403.2 74.0h0M405.0 55.9h0M402.3 76.8h0M402.9 69.0h0M402.4 80.0h0M404.6 61.2h0M402.4 66.6h0M401.7 45.1h0M401.6 55.6h0M403.3 78.6h0M405.2 63.0h0M403.3 80.2h0M406.1 68.6h0M403.2 92.9h0M404.8 70.7h0M402.3 84.7h0M403.7 62.9h0M401.0 39.2h0M401.6 54.2h0M405.0 64.5h0M405.2 63.6h0M402.8 72.6h0M405.1 50.6h0M402.6 65.0h0M405.2 39.2h0M402.7 57.9h0M404.2 56.3h0M402.4 64.9h0M402.0 74.3h0M401.5 78.7h0M404.5 90.8h0M404.3 82.2h0M403.6 63.6h0M404.2 55.1h0M402.5 47.9h0M401.9 79.9h0M402.9 49.9h0M403.3 76.1h0M401.5 69.9h0M403.0 79.7h0M403.6 58.6h0M403.9 61.1h0M404.8 76.1h0M403.0 69.3h0M403.0 76.8h0M404.4 68.1h0M405.1 52.4h0M402.5 55.3h0M404.9 70.7h0M405.3 72.6h0M404.3 60.2h0M402.0 79.3h0M404.9 63.5h0M401.5 69.2h0M404.0 60.2h0M402.4 65.1h0M403.7 85.7h0M400.7 77.1h0M404.4 70.4h0M403.2 69.2h0M401.8 62.1h0M404.1 85.8h0M401.9 65.4h0M404.1 88.4h0M404.2 78.4h0M405.7 65.1h0M403.4 63.9h0M404.8 68.5h0M402.8 74.7h0M402.7 80.4h0M404.5 59.4h0M401.7 78.2h0M402.2 70.9h0M405.2 63.9h0M402.9 83.4h0M401.9 79.8h0M402.9 74.6h0M401.7 59.4h0M402.4 65.6h0M403.9 62.2h0M401.7 68.3h0M404.2 76.2h0M402.1 56.8h0M405.1 63.3h0M404.4 71.7h0M402.7 69.7h0M403.5 65.8h0M403.1 102.6h0M402.1 56.4h0M402.0 70.5h0M402.8 89.2h0M404.9 50.4h0M403.4 58.8h0M402.7 71.7h0M400.8 74.8h0M403.8 77.8h0M404.8 65.4h0M402.1 69.8h0M405.2 71.4h0M402.1 59.5h0M403.2 73.7h0M402.6 69.8h0M404.1 61.9h0M404.2 39.5h0M403.7 62.3h0M403.6 63.6h0M403.7 66.5h0M402.2 86.4h0M402.5 71.7h0M403.7 85.3h0M402.5 56.0h0M400.5 57.3h0M402.9 58.1h0M403.3 80.8h0M404.1 59.4h0M402.9 57.6h0M403.7 52.7h0M403.3 75.0h0M404.6 52.2h0M403.6 59.4h0M406.0 67.4h0M403.2 64.6h0M405.0 72.9h0M404.2 70.9h0M403.4 79.3h0M402.4 75.7h0M404.5 55.1h0M401.8 52.7h0M402.4 48.7h0M404.2 66.1h0M402.0 64.9h0M403.8 43.9h0M403.4 47.8h0M402.2 77.6h0M405.1 67.8h0" stroke="#000" stroke-width="1" stroke-linecap="round" opacity=".7" fill="none"/>
<path d="M402.9 58.2h0M404.6 74.8h0M403.8 72.8h0M404.6 75.3h0M404.2 66.0h0M400.4 76.2h0M404.2 56.5h0M404.0 50.8h0M403.0 61.5h0M401.8 77.0h0M404.4 78.2h0M404.0 47.7h0M402.3 74.2h0M403.7 64.1h0M404.6 57.4h0M404.3 58.8h0M406.1 79.3h0M401.9 63.0h0M406.0 69.7h0M402.1 71.1h0M400.2 81.9h0M406.1 58.9h0M402.0 78.9h0M401.4 79.6h0M401.5 74.7h0M402.7 85.8h0M404.1 62.4h0M401.5 52.8h0M403.1 57.7h0M403.7 60.7h0M402.8 61.0h0M406.0 74.3h0M402.5 73.8h0M402.1 65.6h0M404.2 53.7h0M402.9 61.8h0M401.6 64.0h0M401.4 79.7h0M402.0 54.6h0M403.7 64.4h0M403.8 64.3h0M403.5 61.9h0M404.9 64.4h0M401.8 67.2h0M402.8 66.1h0M401.4 64.4h0M403.2 11.5h0M402.8 65.7h0M401.2 56.2h0M404.3 59.1h0M404.8 69.9h0M402.6 50.6h0M401.7 76.9h0M400.7 92.3h0M401.8 44.0h0M401.6 66.5h0M402.2 73.8h0M402.7 42.7h0M404.4 54.9h0M405.0 65.7h0M400.9 62.9h0M403.7 42.3h0M404.6 60.3h0M404.9 67.0h0M401.4 68.2h0M402.8 69.6h0M404.9 72.5h0M403.7 64.4h0M404.4 79.1h0M404.2 81.4h0M404.7 65.2h0M403.7 53.9h0M404.7 73.2h0M403.4 69.0h0M403.9 82.2h0M403.1 73.8h0M402.8 67.3h0M405.2 69.2h0M401.0 97.4h0M403.5 80.4h0M403.0 71.3h0M404.5 54.2h0M401.4 75.0h0M401.3 78.8h0M403.2 57.6h0M402.6 70.4h0M402.4 74.0h0M401.4 62.1h0M404.9 60.1h0M404.2 59.0h0M402.6 53.8h0M403.8 73.6h0M402.5 72.6h0M403.6 56.6h0M402.8 53.0h0M401.4 56.6h0M402.7 67.6h0M403.8 68.9h0M405.0 69.2h0M403.5 54.4h0M402.7 55.5h0M405.1 78.0h0M402.1 70.3h0M401.3 72.5h0M401.7 61.5h0M401.3 72.4h0M401.6 80.6h0M402.1 61.9h0M403.7 70.0h0M401.3 72.7h0M401.9 72.9h0M402.2 77.7h0M400.5 72.7h0M402.6 61.4h0M402.4 64.8h0M402.1 75.6h0M404.9 84.2h0M402.9 73.3h0M405.0 61.2h0M401.6 65.0h0M405.1 52.8h0M405.9 89.5h0M404.2 70.8h0M403.7 80.7h0M401.5 48.2h0M405.2 72.6h0M404.8 51.4h0M404.3 79.8h0M404.7 38.4h0M405.0 62.0h0M401.4 46.5h0M405.2 36.9h0M404.6 64.3h0M402.6 79.8h0M403.7 53.6h0M401.3 76.5h0M403.7 57.1h0M403.8 58.9h0M402.0 75.8h0M404.9 80.4h0M404.6 49.9h0M402.1 64.3h0M404.3 59.1h0M403.2 65.0h0M404.8 63.3h0M404.9 79.4h0M402.3 71.8h0M402.7 76.5h0M404.5 56.1h0M402.6 64.3h0M402.8 57.0h0M402.7 54.1h0M402.9 80.7h0M403.5 53.5h0M402.4 61.8h0M402.2 81.3h0M401.9 65.6h0M404.5 52.7h0M402.7 45.0h0M404.7 70.9h0M404.0 76.2h0M403.4 63.4h0M404.6 55.9h0M404.0 58.4h0M402.1 58.7h0M403.2 72.8h0M403.0 65.5h0M402.9 67.2h0M404.0 69.7h0M406.1 81.2h0M403.3 53.0h0M401.9 81.1h0M401.4 78.1h0M404.2 80.0h0M400.4 70.1h0M402.7 77.3h0M405.0 72.9h0M401.3 74.9h0M402.2 76.4h0M401.5 81.7h0M401.3 98.6h0M401.4 63.1h0M401.9 65.0h0M405.3 65.5h0M404.7 61.6h0M401.6 81.6h0M400.5 79.2h0M403.9 68.4h0M401.6 64.4h0M401.9 64.6h0M404.6 68.8h0M405.2 73.6h0M401.7 63.7h0M402.9 60.2h0M401.5 53.7h0M403.4 62.2h0M404.9 71.8h0M406.3 47.4h0M403.8 76.6h0M403.1 73.3h0M403.9 59.2h0M403.9 57.7h0M404.7 51.0h0M400.7 69.2h0M404.9 48.6h0M403.2 53.3h0M404.8 60.3h0M402.2 37.5h0M403.6 74.4h0M404.0 57.5h0M401.9 51.9h0M404.8 66.8h0M401.3 83.9h0M405.1 77.0h0M402.8 67.2h0M404.9 83.2h0M402.2 52.9h0M402.5 64.3h0M404.5 95.1h0M404.7 86.2h0M404.4 48.2h0M401.2 68.9h0M404.2 73.9h0M402.6 52.1h0M401.8 75.2h0M402.1 61.8h0M400.7 58.3h0M401.4 63.6h0M401.9 70.4h0M402.5 65.1h0M404.1 64.5h0M404.0 63.7h0M404.5 81.0h0M402.8 79.2h0M401.3 75.4h0M401.7 54.2h0M402.8 55.7h0M403.3 59.8h0M403.7 73.7h0M402.6 74.7h0M405.2 64.6h0M404.5 67.0h0M403.4 68.8h0" stroke="#000" stroke-width="1" stroke-linecap="round" opacity=".7" fill="none"/>
<path d="M423.88 44.5V56M423.88 68.75V86.25M419.88 44.5h8M419.88 86.25h8" stroke="#8a8a8a" stroke-width=".5" fill="none"/>
<rect x="415.5" y="56" width="16.75" height="12.75" fill="#7f7f7f" stroke="#3a3a3a" stroke-width=".4"/>
<path d="M415.5 63H432.25" stroke="#000" stroke-width=".95"/>
<path d="M415.5 114.2H432.25" stroke="#3a3a3a" stroke-width="1.05"/>
<path d="M425.4 65.2h0M425.8 52.2h0M423.6 52.9h0M424.4 79.6h0M425.6 66.8h0M423.7 61.2h0M423.9 72.2h0M421.7 55.1h0M424.9 63.3h0M422.0 47.4h0M425.9 64.4h0M424.8 56.8h0M423.4 67.7h0M425.9 82.7h0M423.9 65.7h0M424.0 70.3h0M423.7 75.7h0M423.1 61.2h0M424.6 69.6h0M423.8 64.5h0M425.2 51.6h0M424.2 71.5h0M425.4 48.5h0M424.9 52.2h0M421.6 49.1h0M424.5 47.4h0M422.5 53.0h0M422.0 58.2h0M422.0 60.8h0M423.0 55.6h0M423.4 65.5h0M425.0 77.0h0M424.6 59.9h0M426.1 63.6h0M424.6 69.5h0M422.8 65.7h0M421.9 57.6h0M424.0 53.6h0M421.7 55.3h0M423.9 62.1h0M422.3 59.3h0M426.1 56.0h0M422.4 73.6h0M423.3 66.7h0M424.7 57.2h0M422.6 59.0h0M423.9 71.1h0M425.9 58.3h0M423.2 61.8h0M424.9 85.1h0M422.6 47.2h0M421.3 54.9h0M422.6 55.9h0M426.1 53.9h0M423.5 69.9h0M423.5 65.5h0" stroke="#000" stroke-width="1" stroke-linecap="round" opacity=".7" fill="none"/>
<path d="M423.3 63.1h0M422.1 54.8h0M425.6 60.8h0M424.0 55.2h0M424.2 53.4h0M425.7 67.3h0M427.4 57.6h0M422.1 82.8h0M425.7 66.0h0M423.1 74.8h0M423.2 51.5h0M420.8 51.7h0M425.7 64.6h0M423.6 56.7h0M425.4 64.4h0M422.1 60.5h0M422.0 76.1h0M425.0 64.6h0M425.0 54.6h0M424.6 66.7h0M423.2 66.5h0M421.1 70.9h0M422.0 56.8h0M424.6 60.8h0M424.8 50.6h0M425.8 80.1h0M422.5 68.6h0M423.8 65.9h0M424.3 59.5h0M427.3 56.5h0M424.1 60.4h0M425.0 65.6h0M423.2 65.9h0M426.1 55.3h0M421.1 73.9h0M425.1 53.4h0M423.2 54.3h0M421.8 63.5h0M425.4 54.6h0M422.5 64.9h0M422.7 50.7h0M425.2 62.4h0M423.4 68.7h0M425.6 62.3h0M421.6 70.9h0M421.9 55.3h0M424.7 55.8h0M426.1 62.4h0M425.3 72.8h0M422.2 66.5h0M425.9 55.6h0M422.0 70.7h0M423.0 75.6h0M421.7 52.3h0M424.9 51.6h0M425.1 69.8h0" stroke="#000" stroke-width="1" stroke-linecap="round" opacity=".7" fill="none"/>
<path d="M422.6 65.8h0M422.6 58.0h0M425.3 60.0h0M421.1 64.6h0M421.6 71.7h0M424.5 50.8h0M421.3 72.8h0M424.2 71.5h0M422.9 66.5h0M423.9 66.5h0M424.7 69.9h0M423.4 70.0h0M424.7 69.0h0M425.6 66.5h0M422.6 65.3h0M421.7 63.7h0M423.0 48.5h0M421.1 64.1h0M422.7 53.6h0M424.0 55.6h0M422.7 64.5h0M426.0 66.5h0M424.0 76.7h0M423.0 55.7h0M424.7 93.5h0M420.8 57.0h0M423.4 84.5h0M423.8 55.2h0M424.7 68.9h0M425.9 52.8h0M422.4 52.9h0M424.4 73.2h0M425.5 56.7h0M424.6 63.9h0M424.3 70.6h0M427.1 66.0h0M425.2 55.2h0M422.6 71.8h0M421.6 53.1h0M425.5 71.0h0M423.9 56.8h0M424.6 68.4h0M425.6 69.5h0M425.0 64.0h0M421.7 55.1h0M422.4 66.0h0M425.7 66.5h0M424.1 69.6h0M424.0 63.6h0M425.9 54.1h0M422.8 61.3h0M424.9 71.5h0M422.6 55.0h0M425.2 69.2h0M423.4 62.6h0" stroke="#000" stroke-width="1" stroke-linecap="round" opacity=".7" fill="none"/>
<path d="M464.5 51.75V68M464.5 80.75V99.5M460.5 51.75h8M460.5 99.5h8" stroke="#8a8a8a" stroke-width=".5" fill="none"/>
<rect x="456" y="68" width="17" height="12.75" fill="#fb6565" stroke="#5a2a2a" stroke-width=".4"/>
<path d="M456 74.25H473" stroke="#000" stroke-width="1.1"/>
<path d="M463.5 64.2h0M463.8 75.9h0M466.4 85.5h0M463.6 81.6h0M467.5 84.9h0M464.7 71.0h0M463.1 80.0h0M465.4 76.2h0M464.0 71.4h0M464.7 65.0h0M465.3 74.1h0M463.3 84.6h0M462.9 83.4h0M462.9 71.5h0M465.6 70.0h0M463.4 66.4h0M466.6 62.0h0M463.7 72.3h0M465.1 77.0h0M464.0 65.9h0M467.2 92.7h0M464.2 88.6h0M465.5 88.5h0M463.5 61.6h0M467.2 61.8h0M462.5 66.2h0M464.1 76.7h0M462.7 75.2h0M464.4 49.8h0M466.1 66.1h0M466.5 69.1h0M466.0 71.0h0M465.4 73.0h0M462.7 78.6h0M463.5 72.2h0M466.1 66.9h0M462.5 86.1h0M465.6 89.5h0M465.7 65.8h0M463.7 61.6h0M465.1 74.5h0M465.4 66.1h0M465.7 70.9h0M464.3 66.8h0M464.1 76.6h0M463.2 70.5h0M465.8 75.8h0M465.9 86.4h0M465.3 76.2h0M465.6 84.5h0M463.6 82.5h0M462.7 69.7h0M466.1 77.1h0M466.5 72.0h0M463.8 60.1h0M464.3 76.7h0M465.0 76.1h0M465.6 86.6h0M466.9 84.2h0M464.5 92.7h0M466.6 75.5h0M462.2 79.3h0M465.9 82.1h0M465.0 86.6h0M466.0 90.1h0M464.4 82.5h0M463.2 67.4h0M464.6 67.9h0M465.2 76.4h0M463.5 56.9h0M464.5 83.9h0M465.2 75.8h0M465.8 67.8h0M462.6 73.2h0M466.3 71.3h0M464.3 66.0h0M465.2 66.5h0M462.9 71.0h0M462.1 48.4h0M462.9 64.1h0M465.4 74.2h0M462.7 74.8h0M463.9 73.5h0M465.2 83.4h0M465.9 74.7h0M462.4 83.8h0M464.6 99.5h0M465.2 78.3h0M463.8 73.1h0M463.8 59.6h0M466.4 72.2h0M466.5 84.1h0M463.4 90.6h0M466.4 77.0h0M463.8 81.4h0M462.7 71.5h0M462.8 62.9h0M464.4 65.1h0M463.6 73.4h0M464.1 75.2h0M465.9 66.4h0M463.5 70.2h0M462.3 81.8h0M464.0 58.1h0M465.0 73.1h0M465.0 66.6h0M464.7 87.0h0M466.1 89.5h0M463.3 83.9h0M466.2 53.5h0M463.6 84.5h0M466.2 75.9h0M466.0 59.5h0M464.0 80.5h0M465.0 61.8h0M462.7 70.0h0M467.4 80.3h0M463.5 67.0h0M462.7 88.1h0M463.1 61.7h0M466.5 67.6h0M463.7 67.6h0M465.9 63.1h0M465.7 64.7h0M463.2 60.9h0M462.7 65.7h0M463.7 85.0h0M466.1 69.7h0M466.2 69.9h0M466.1 78.4h0M464.7 70.0h0M465.7 52.2h0M467.0 75.4h0M464.5 92.7h0M463.5 73.0h0M465.1 86.2h0M465.2 87.5h0M463.3 67.6h0M465.7 91.7h0M464.8 84.7h0M463.5 66.7h0M466.4 69.6h0M463.8 80.7h0M465.8 61.7h0M463.9 78.9h0M465.3 67.1h0M465.7 85.9h0M464.9 70.7h0M464.8 66.3h0M466.3 83.5h0M464.0 64.6h0M464.3 74.1h0M463.9 76.8h0M465.0 87.5h0M463.2 72.1h0M461.8 65.2h0M463.8 60.8h0M466.0 86.7h0M465.8 64.8h0M466.4 71.2h0M466.3 81.7h0M466.4 76.8h0M465.6 76.9h0" stroke="#000" stroke-width="1" stroke-linecap="round" opacity=".7" fill="none"/>
<path d="M464.4 77.4h0M465.8 69.7h0M462.5 73.3h0M463.0 80.1h0M465.0 64.6h0M465.0 68.7h0M465.4 78.3h0M465.7 78.8h0M463.3 71.2h0M465.8 68.9h0M465.0 66.5h0M465.6 78.0h0M461.9 70.5h0M462.5 97.9h0M466.3 81.2h0M463.5 64.6h0M464.4 83.4h0M464.2 74.6h0M466.2 78.7h0M463.5 82.1h0M465.4 79.1h0M465.7 73.9h0M463.1 73.0h0M465.8 74.2h0M463.8 86.8h0M463.4 68.3h0M463.7 81.9h0M463.5 75.9h0M466.1 88.4h0M463.8 67.1h0M462.8 96.8h0M465.5 79.1h0M462.8 68.1h0M464.6 70.1h0M465.8 82.6h0M466.0 83.6h0M464.3 71.7h0M466.4 69.7h0M464.7 69.5h0M465.6 72.3h0M464.3 63.4h0M465.7 93.1h0M465.6 86.2h0M466.4 83.8h0M465.9 47.3h0M463.7 84.3h0M466.0 66.3h0M464.3 70.0h0M463.6 88.8h0M466.0 77.9h0M464.1 93.2h0M464.7 87.7h0M464.5 57.8h0M462.6 84.0h0M464.9 76.3h0M463.4 82.1h0M462.7 82.7h0M465.9 77.5h0M462.5 77.2h0M464.9 68.6h0M466.4 74.3h0M466.1 61.1h0M467.2 68.4h0M464.0 64.8h0M462.3 60.0h0M464.3 47.7h0M463.7 65.2h0M465.5 80.6h0M466.2 88.2h0M462.6 81.8h0M465.6 91.9h0M465.9 63.7h0M464.7 73.3h0M465.7 70.2h0M466.0 59.2h0M466.0 61.0h0M464.9 83.8h0M466.5 66.9h0M465.6 83.6h0M463.3 90.6h0M462.7 71.9h0M465.8 82.7h0M465.2 70.3h0M462.1 92.4h0M466.3 65.0h0M464.1 79.9h0M462.3 78.4h0M465.9 63.3h0M462.0 71.7h0M462.9 64.3h0M467.3 72.3h0M465.9 68.3h0M467.4 64.5h0M462.2 77.1h0M465.3 66.1h0M462.7 87.2h0M465.6 64.6h0M466.2 65.4h0M462.7 69.1h0M465.7 95.2h0M463.3 80.3h0M464.1 70.8h0M463.5 92.8h0M465.3 63.7h0M466.5 62.9h0M465.7 81.5h0M464.0 67.9h0M463.5 71.2h0M463.8 63.8h0M466.3 64.3h0M461.5 56.2h0M466.1 76.7h0M463.8 88.6h0M465.0 75.9h0M463.1 83.5h0M463.5 94.1h0M465.3 77.0h0M462.6 63.7h0M463.9 77.3h0M466.4 75.7h0M463.2 82.8h0M464.5 64.7h0M466.5 74.0h0M464.4 58.2h0M464.5 77.9h0M465.8 69.7h0M465.7 84.0h0M466.3 86.6h0M464.6 63.5h0M464.8 78.8h0M464.4 87.6h0M463.4 65.6h0M463.9 79.0h0M463.5 81.0h0M463.3 66.0h0M463.3 62.7h0M463.8 80.4h0M466.0 90.1h0M465.0 61.8h0M464.4 69.6h0M464.7 67.7h0M466.0 73.1h0M462.6 77.2h0M464.4 77.2h0M466.2 70.2h0M465.6 59.6h0M466.3 77.6h0M466.4 63.1h0M466.2 74.5h0M464.0 60.5h0M462.8 59.5h0M465.9 64.5h0M465.3 81.0h0M464.2 90.7h0M465.3 72.1h0M462.6 74.9h0M463.4 73.9h0M465.1 72.0h0M463.3 68.9h0M464.7 61.7h0M466.4 80.8h0M463.1 82.5h0M463.7 67.0h0" stroke="#000" stroke-width="1" stroke-linecap="round" opacity=".7" fill="none"/>
<path d="M462.7 88.3h0M464.3 72.7h0M464.1 78.7h0M466.4 67.6h0M462.6 86.1h0M464.4 68.2h0M462.2 68.4h0M463.1 83.4h0M465.3 84.1h0M464.3 75.8h0M462.9 77.3h0M463.9 83.2h0M465.5 73.1h0M466.8 81.4h0M464.2 75.0h0M463.9 64.6h0M466.1 78.2h0M463.7 75.8h0M466.4 93.7h0M465.5 84.7h0M464.4 72.2h0M464.1 79.4h0M464.8 66.2h0M464.8 80.8h0M464.8 75.9h0M465.4 67.0h0M462.2 89.9h0M464.3 78.6h0M464.4 85.7h0M464.0 79.3h0M463.3 91.3h0M462.4 84.4h0M462.8 85.4h0M464.1 80.1h0M464.8 73.0h0M463.3 79.4h0M462.5 71.8h0M464.1 60.2h0M463.2 71.0h0M462.8 78.8h0M466.1 91.1h0M462.1 77.2h0M463.0 65.0h0M463.0 69.4h0M465.4 99.2h0M463.7 62.6h0M463.5 78.2h0M462.9 75.2h0M464.3 65.0h0M465.4 79.3h0M462.6 79.1h0M463.5 73.8h0M462.1 69.1h0M461.5 76.2h0M466.1 79.7h0M467.5 75.0h0M464.2 76.6h0M464.8 79.5h0M462.4 64.8h0M463.0 77.9h0M463.1 78.8h0M466.1 73.8h0M465.8 72.2h0M465.1 76.0h0M465.7 68.0h0M464.3 90.8h0M463.5 69.3h0M465.1 66.3h0M462.6 64.0h0M464.9 71.1h0M464.5 79.4h0M466.1 76.7h0M463.8 66.7h0M465.2 80.1h0M465.1 81.4h0M465.7 72.6h0M462.9 66.5h0M464.2 83.7h0M464.9 55.5h0M467.4 80.1h0M466.1 45.5h0M466.1 77.4h0M463.8 72.2h0M465.2 76.1h0M464.7 63.8h0M466.1 88.6h0M465.5 72.3h0M467.4 71.6h0M463.8 61.3h0M464.8 72.7h0M464.3 75.0h0M463.2 79.0h0M464.9 69.8h0M465.4 61.5h0M462.5 60.1h0M465.4 90.9h0M465.9 54.6h0M466.2 84.8h0M464.3 61.0h0M463.1 85.2h0M465.7 76.1h0M463.6 73.9h0M465.1 62.6h0M463.8 67.7h0M465.8 82.0h0M463.6 81.1h0M462.6 74.7h0M464.5 86.2h0M465.0 65.6h0M463.9 62.1h0M466.0 84.6h0M466.6 99.5h0M465.4 86.5h0M466.0 84.2h0M465.3 78.5h0M462.9 57.3h0M462.1 89.9h0M464.1 84.9h0M465.0 87.6h0M463.1 61.3h0M465.6 83.5h0M465.8 91.3h0M466.4 87.2h0M464.0 91.5h0M463.1 67.8h0M464.8 81.6h0M465.7 60.6h0M465.4 52.7h0M465.0 74.6h0M465.9 72.8h0M463.6 67.7h0M463.3 69.4h0M467.0 80.3h0M463.0 83.7h0M465.5 76.6h0M464.7 58.6h0M462.9 67.0h0M463.3 68.9h0M463.3 63.3h0M466.2 70.7h0M464.9 83.8h0M464.1 64.1h0M463.9 81.4h0M463.5 96.8h0M464.5 61.3h0M463.6 67.8h0M461.6 77.4h0M464.2 60.8h0M465.5 90.1h0M465.9 81.7h0M466.3 61.9h0M462.9 76.2h0M464.0 75.4h0M465.5 71.8h0M462.9 63.1h0M462.7 66.3h0M462.5 67.2h0M465.7 85.6h0M462.1 65.3h0M462.6 83.6h0M464.3 59.1h0M465.9 84.3h0M463.6 81.2h0" stroke="#000" stroke-width="1" stroke-linecap="round" opacity=".7" fill="none"/>
<path d="M484.75 55.5V65M484.75 72.75V83.25M480.75 55.5h8M480.75 83.25h8" stroke="#8a8a8a" stroke-width=".5" fill="none"/>
<rect x="476.25" y="65" width="17" height="7.75" fill="#7f7f7f" stroke="#3a3a3a" stroke-width=".4"/>
<path d="M476.25 68.25H493.25" stroke="#000" stroke-width=".95"/>
<circle cx="485.05" cy="114.2" r=".5" fill="#777"/>
<path d="M485.3 76.9h0M485.6 64.4h0M485.9 72.2h0M482.7 62.0h0M482.8 77.5h0M484.5 65.6h0M484.9 66.8h0M486.5 62.5h0M484.5 66.6h0M483.7 73.0h0M483.4 71.4h0M484.0 60.8h0M486.5 68.2h0M482.7 70.4h0M484.2 74.8h0M483.9 62.2h0M484.3 66.3h0M484.2 64.6h0M485.9 65.3h0M485.0 71.7h0M483.4 68.3h0M486.9 64.1h0M485.2 71.7h0M483.3 65.9h0M484.2 71.3h0M484.0 68.4h0M485.9 59.5h0M486.6 78.8h0M486.3 69.7h0M485.6 65.1h0M484.7 76.8h0M482.5 65.4h0M481.6 58.3h0M484.6 66.0h0M488.2 72.0h0M484.9 63.9h0M486.1 62.1h0M483.4 72.6h0M486.0 67.6h0M485.2 61.6h0M484.2 75.7h0M486.0 65.0h0M485.2 82.3h0M485.8 65.5h0M484.6 59.9h0M484.5 59.1h0M483.8 76.9h0M485.0 63.5h0M487.4 82.6h0M485.1 67.1h0M486.8 63.3h0M483.9 75.1h0M484.7 69.0h0M482.5 64.5h0M487.9 69.0h0M487.4 73.3h0M483.9 74.1h0M482.9 78.4h0M486.5 70.6h0M485.9 73.9h0M485.6 66.6h0" stroke="#000" stroke-width="1" stroke-linecap="round" opacity=".7" fill="none"/>
<path d="M486.5 73.1h0M485.1 67.2h0M483.1 66.9h0M484.0 70.6h0M484.5 67.2h0M482.5 68.4h0M483.9 67.4h0M485.8 83.9h0M484.9 62.6h0M483.9 70.7h0M483.0 67.4h0M484.5 78.7h0M486.8 70.0h0M486.5 60.4h0M484.2 68.4h0M484.4 56.4h0M483.1 75.3h0M486.6 71.9h0M485.5 65.9h0M483.9 70.7h0M485.9 82.5h0M484.3 74.0h0M485.6 66.7h0M485.7 70.2h0M486.4 64.4h0M485.7 77.6h0M483.5 66.4h0M484.8 61.6h0M483.5 70.3h0M483.3 59.1h0M483.1 70.8h0M482.5 75.0h0M483.5 68.0h0M483.5 80.1h0M486.4 76.9h0M483.4 64.6h0M484.7 68.9h0M483.1 62.4h0M484.5 73.8h0M485.8 69.1h0M483.3 62.3h0M485.7 65.2h0M485.9 70.8h0M485.1 61.3h0M483.9 62.7h0M481.5 76.4h0M484.0 67.0h0M483.4 70.8h0M485.7 65.9h0M484.6 70.5h0M481.9 74.2h0M486.3 58.5h0M484.4 63.9h0M486.0 75.1h0M483.9 66.1h0M485.0 56.5h0M484.2 63.9h0M483.2 66.9h0M487.0 73.5h0M485.8 67.3h0M486.5 68.5h0" stroke="#000" stroke-width="1" stroke-linecap="round" opacity=".7" fill="none"/>
<path d="M483.3 61.1h0M485.5 57.3h0M482.5 72.7h0M485.1 75.5h0M484.7 60.1h0M482.7 65.2h0M485.0 74.2h0M482.8 66.7h0M484.5 67.2h0M484.6 78.5h0M485.6 60.4h0M483.8 66.8h0M484.3 74.0h0M485.1 70.3h0M482.7 68.6h0M483.6 75.5h0M487.0 65.4h0M483.2 75.7h0M486.8 72.2h0M483.4 68.3h0M483.3 70.7h0M485.4 75.8h0M486.5 74.1h0M483.6 66.6h0M482.0 67.2h0M485.0 66.5h0M481.6 67.1h0M484.9 56.7h0M482.5 69.2h0M485.4 74.0h0M485.5 70.4h0M484.9 78.2h0M484.4 77.8h0M483.8 69.7h0M483.7 77.7h0M487.0 70.4h0M483.1 64.9h0M486.4 66.4h0M485.8 84.2h0M483.2 67.5h0M484.7 73.3h0M485.9 86.3h0M486.7 63.4h0M483.3 67.8h0M484.4 67.0h0M486.1 65.2h0M484.9 66.8h0M487.6 74.0h0M484.6 61.8h0M486.0 70.5h0M484.1 78.9h0M485.6 71.0h0M487.0 66.0h0M483.8 67.0h0M486.0 66.5h0M482.2 69.8h0M482.9 67.1h0M484.9 72.2h0M485.0 73.2h0M484.6 70.9h0M484.0 79.8h0" stroke="#000" stroke-width="1" stroke-linecap="round" opacity=".7" fill="none"/>
<path d="M403 10V6.9H411.05M415.45 6.9H423.5V42.5" stroke="#7c7c7c" stroke-width=".55" fill="none"/>
<circle cx="413.25" cy="6.8" r="1.05" fill="#f5323c"/>
<path d="M464.5 45V40.6H472.55M476.95 40.6H485V53.75" stroke="#7c7c7c" stroke-width=".55" fill="none"/>
<circle cx="474.75" cy="40.5" r="1.05" fill="#f5323c"/>
<path d="M377.1 2.3H510.6" stroke="#a6a6a6" stroke-width=".85"/>
<path d="M510.2 2.3V118.3" stroke="#a0a0a0" stroke-width=".85"/>
<path d="M377.1 118.3H510.6" stroke="#9c9c9c" stroke-width=".85"/>
<path d="M377.5 2.3V118.3" stroke="#a6a6a6" stroke-width=".85"/>
<path d="M413.4 118.3v2" stroke="#666" stroke-width=".6"/>
<path d="M475 118.3v2" stroke="#666" stroke-width=".6"/>
<path d="M377.5 5.5h-3.2" stroke="#808080" stroke-width=".6"/>
<text transform="translate(372.4 5.5) rotate(-90)" font-size="4" text-anchor="middle" fill="#111" stroke="#111" stroke-width=".1">8</text>
<path d="M377.5 32.5h-3.2" stroke="#808080" stroke-width=".6"/>
<text transform="translate(372.4 32.5) rotate(-90)" font-size="4" text-anchor="middle" fill="#111" stroke="#111" stroke-width=".1">6</text>
<path d="M377.5 60h-3.2" stroke="#808080" stroke-width=".6"/>
<text transform="translate(372.4 60) rotate(-90)" font-size="4" text-anchor="middle" fill="#111" stroke="#111" stroke-width=".1">4</text>
<path d="M377.5 87h-3.2" stroke="#808080" stroke-width=".6"/>
<text transform="translate(372.4 87) rotate(-90)" font-size="4" text-anchor="middle" fill="#111" stroke="#111" stroke-width=".1">2</text>
<path d="M377.5 114.2h-3.2" stroke="#808080" stroke-width=".6"/>
<text transform="translate(372.4 114.2) rotate(-90)" font-size="4" text-anchor="middle" fill="#111" stroke="#111" stroke-width=".1">0</text>
<text transform="translate(362 60.3) rotate(-90)" font-size="4.12" text-anchor="middle" fill="#111" stroke="#111" stroke-width=".1">Expression - log<tspan font-size="2.8" dy=".8">2</tspan><tspan dy="-.8">(TPM+1)</tspan></text>
<text x="413.4" y="127" font-size="4.05" text-anchor="middle" fill="#111" stroke="#111" stroke-width=".1">BRCA</text>
<text x="413.4" y="131.6" font-size="4" text-anchor="middle" fill="#111" stroke="#111" stroke-width=".1">(num(T)=1085; num(N)=291)</text>
<text x="475" y="127" font-size="4.05" text-anchor="middle" fill="#111" stroke="#111" stroke-width=".1">LUAD</text>
<text x="475" y="131.6" font-size="4" text-anchor="middle" fill="#111" stroke="#111" stroke-width=".1">(num(T)=483; num(N)=347)</text>
<text x="345.3" y="20.2" font-size="23.7" font-weight="bold" fill="#000">c</text>
<path d="M576.25 17.5V32M576.25 41.5V56.25M572.25 17.5h8M572.25 56.25h8" stroke="#8a8a8a" stroke-width=".5" fill="none"/>
<rect x="567.75" y="32" width="17" height="9.5" fill="#fb6565" stroke="#5a2a2a" stroke-width=".4"/>
<path d="M567.75 36.5H584.75" stroke="#000" stroke-width="1.1"/>
<path d="M567.75 113.7H584.75" stroke="#8c8c8c" stroke-width="1.5"/>
<path d="M575.9 35.9h0M575.3 32.7h0M578.2 46.1h0M578.5 29.8h0M577.7 42.9h0M575.2 30.0h0M577.4 33.8h0M576.4 35.1h0M577.6 28.3h0M576.1 42.7h0M573.9 24.2h0M576.5 42.7h0M577.5 49.0h0M576.5 39.2h0M577.7 33.3h0M577.6 34.6h0M577.7 28.4h0M575.8 37.2h0M575.5 33.2h0M576.5 40.4h0M577.0 41.1h0M577.7 34.3h0M574.0 42.0h0M578.2 32.5h0M575.5 32.1h0M576.6 48.0h0M574.6 53.8h0M575.8 58.8h0M576.2 34.9h0M573.8 42.1h0M574.5 33.1h0M575.7 31.0h0M575.8 29.1h0M575.3 19.6h0M575.4 20.2h0M577.0 42.8h0M576.0 43.3h0M575.4 45.8h0M576.7 44.6h0M575.9 42.9h0M575.1 39.9h0M575.5 63.5h0M575.1 36.2h0M576.6 43.2h0M575.2 26.1h0M576.5 49.9h0M575.0 45.8h0M575.4 31.0h0M575.2 38.3h0M576.0 37.5h0M577.4 34.3h0M575.4 35.3h0M575.0 34.4h0M578.7 32.6h0M577.0 41.0h0M574.7 43.6h0M577.6 43.2h0M578.7 28.6h0M576.8 28.0h0M578.5 40.5h0M577.4 34.0h0M576.5 34.9h0M575.0 28.8h0M574.8 31.8h0M576.0 38.5h0M576.2 39.1h0M576.1 23.5h0M575.5 38.1h0M574.7 38.2h0M577.7 30.3h0M578.2 13.7h0M577.3 39.2h0M576.7 35.8h0M575.5 51.3h0M574.9 40.4h0M576.2 34.1h0M573.9 43.2h0M577.4 39.6h0M576.6 33.2h0M574.9 33.7h0M576.9 31.8h0M576.6 62.6h0M574.9 45.9h0M574.7 44.8h0M576.1 20.3h0M576.4 42.3h0M575.6 38.5h0M575.3 33.9h0M577.0 37.4h0M575.6 34.5h0M575.9 43.0h0M576.5 39.2h0M576.6 44.9h0M577.8 26.5h0M574.9 38.2h0M574.7 35.6h0M577.1 31.8h0M577.1 22.3h0M575.2 30.2h0M576.8 41.5h0M576.3 41.5h0M573.8 35.6h0M574.0 36.8h0M576.7 32.9h0M577.2 33.2h0M576.4 51.2h0M577.9 38.9h0M576.8 45.3h0M577.8 31.8h0M577.0 36.4h0M574.7 29.3h0M575.5 26.4h0M576.4 36.4h0M576.5 29.5h0M576.8 38.4h0M574.9 13.6h0M575.2 34.7h0M575.8 40.6h0M577.5 37.7h0M576.1 40.1h0M577.0 39.4h0M577.1 30.8h0M576.5 25.3h0M575.0 21.1h0M577.9 16.1h0M574.7 43.1h0M577.7 51.2h0M576.3 35.0h0M577.2 36.0h0M575.1 45.6h0M574.4 41.3h0M576.6 25.0h0M577.7 35.3h0M576.5 33.4h0M577.5 27.0h0M576.3 32.0h0M575.3 52.3h0M576.0 22.0h0M576.2 25.8h0M575.8 41.2h0M577.2 38.8h0M576.4 40.6h0M575.8 38.2h0M575.9 34.7h0M577.6 40.5h0M577.3 44.4h0M577.9 35.3h0M575.1 47.9h0M575.3 21.8h0M574.6 38.2h0M577.9 31.1h0M577.8 27.0h0M576.2 29.7h0M577.1 37.7h0M575.2 35.9h0M576.7 25.2h0M574.9 24.9h0M575.1 37.1h0M575.3 39.9h0M576.0 43.6h0M575.0 44.4h0M574.7 33.9h0M577.0 45.6h0M577.6 34.0h0M577.5 21.6h0M576.3 27.3h0M577.0 27.0h0M577.2 32.7h0M577.3 40.3h0M577.8 38.6h0M577.5 39.2h0M576.1 48.7h0M576.3 34.5h0M577.8 34.0h0M577.8 36.8h0M575.0 41.6h0M575.9 36.9h0M575.7 27.0h0M576.4 31.9h0M576.1 30.7h0M576.3 29.8h0M575.4 32.4h0M577.7 31.6h0M577.5 45.8h0M576.2 40.4h0M575.1 34.4h0M575.4 18.6h0M577.7 23.6h0M575.3 21.5h0M577.8 33.9h0M575.2 48.5h0M575.5 35.7h0M575.5 40.4h0M577.0 51.9h0M575.7 34.6h0M575.2 46.8h0M577.0 36.7h0M578.3 42.0h0M577.4 46.6h0M574.7 39.7h0M575.4 28.4h0M577.7 42.0h0M576.3 38.7h0M576.3 39.1h0M576.0 41.9h0M576.9 43.7h0M576.4 33.8h0M576.0 32.4h0M578.1 35.5h0M575.3 32.0h0M575.0 29.0h0M575.0 44.2h0M577.6 33.1h0M576.4 19.4h0M576.8 39.7h0M578.2 37.2h0M575.6 32.4h0M575.6 34.7h0M576.3 31.4h0M576.1 36.6h0M575.0 27.5h0M574.9 41.0h0M577.0 45.3h0M576.6 22.3h0M576.8 30.1h0M575.1 40.5h0M577.8 28.8h0M575.3 46.2h0M577.2 40.8h0M577.3 30.3h0M577.2 34.9h0M575.8 51.2h0M576.4 46.7h0M576.2 40.4h0M577.8 35.1h0M576.0 32.6h0M575.5 27.9h0M577.0 34.6h0M575.9 30.0h0M576.8 51.0h0M575.4 41.4h0M578.1 37.7h0M575.9 48.8h0M574.6 31.8h0M576.6 31.8h0M575.3 43.2h0M575.6 24.7h0M576.2 24.6h0M577.1 34.5h0M576.0 38.7h0M575.2 28.2h0M576.7 26.0h0M574.3 32.9h0M577.3 43.1h0M574.9 47.6h0M576.5 15.2h0M577.8 53.5h0M576.2 22.2h0M577.7 40.6h0M575.6 38.1h0M575.4 35.6h0M575.1 51.9h0M576.6 38.4h0M575.0 50.6h0M576.8 31.5h0M577.8 29.9h0M575.6 33.0h0M575.5 31.2h0M575.6 38.1h0M576.1 38.6h0M574.4 62.6h0M575.4 29.4h0M575.9 48.7h0M577.8 33.9h0M577.0 29.4h0M575.3 47.3h0M575.9 33.6h0M576.3 19.4h0M577.8 31.6h0M575.3 33.7h0M577.0 48.0h0M576.8 40.1h0M574.7 30.9h0M576.3 25.1h0M576.6 43.9h0" stroke="#000" stroke-width="1" stroke-linecap="round" opacity=".7" fill="none"/>
<path d="M577.5 41.4h0M576.5 49.4h0M574.4 31.2h0M578.4 40.1h0M577.6 22.2h0M578.2 38.7h0M576.5 35.1h0M575.9 41.7h0M575.2 27.6h0M575.7 44.6h0M577.0 23.8h0M575.7 46.4h0M576.0 28.5h0M575.3 33.8h0M576.7 23.2h0M577.4 37.9h0M575.1 37.4h0M576.8 25.1h0M577.1 37.9h0M577.8 42.7h0M576.7 58.5h0M575.4 39.9h0M576.5 30.5h0M576.8 40.3h0M575.1 42.4h0M577.8 44.2h0M576.3 42.2h0M575.7 43.6h0M577.5 44.6h0M576.7 32.4h0M575.7 44.8h0M577.9 63.1h0M577.0 37.8h0M577.5 38.0h0M577.5 42.1h0M574.8 35.4h0M576.3 25.8h0M576.8 39.6h0M577.2 49.6h0M575.2 31.5h0M575.0 45.2h0M575.5 40.8h0M576.8 24.0h0M575.9 39.2h0M577.7 39.0h0M576.3 36.7h0M576.3 35.7h0M574.8 35.9h0M575.1 31.8h0M576.6 51.3h0M576.5 32.1h0M577.6 38.3h0M575.6 45.4h0M577.0 46.4h0M576.1 35.1h0M574.9 25.3h0M577.0 12.8h0M575.7 35.3h0M575.4 34.1h0M575.5 36.4h0M578.3 39.5h0M577.8 28.4h0M577.1 23.8h0M577.7 35.0h0M577.6 35.9h0M578.0 36.4h0M576.2 49.5h0M577.2 32.8h0M577.3 38.7h0M576.5 30.7h0M578.0 39.6h0M577.0 44.5h0M575.8 37.1h0M576.8 41.4h0M575.5 34.1h0M575.8 64.5h0M576.9 34.4h0M576.9 27.5h0M575.1 55.2h0M576.0 41.8h0M576.4 23.2h0M577.5 35.9h0M576.7 52.6h0M575.1 28.3h0M575.0 32.7h0M576.8 47.9h0M576.0 46.0h0M576.6 34.3h0M577.5 25.3h0M576.8 35.3h0M577.3 25.9h0M576.5 53.5h0M578.7 28.9h0M577.1 25.9h0M575.8 33.3h0M576.2 42.4h0M575.7 34.1h0M576.3 39.0h0M573.9 42.6h0M574.2 31.6h0M578.6 47.0h0M575.1 33.5h0M576.3 43.9h0M577.6 32.9h0M575.6 38.5h0M576.1 41.9h0M575.1 34.2h0M576.8 39.1h0M577.4 42.9h0M575.7 38.7h0M577.5 43.3h0M574.9 41.5h0M574.8 50.3h0M577.8 30.6h0M576.9 31.8h0M576.9 39.6h0M577.7 42.9h0M575.6 35.1h0M576.5 38.2h0M576.9 38.1h0M575.5 31.5h0M577.1 40.2h0M575.1 33.8h0M576.2 42.0h0M577.1 43.7h0M574.2 35.3h0M574.7 35.0h0M577.3 35.8h0M576.8 31.3h0M576.9 26.6h0M576.6 39.4h0M578.3 26.2h0M574.8 45.1h0M576.1 36.1h0M578.2 36.9h0M575.2 39.5h0M576.6 37.7h0M576.1 24.5h0M575.7 43.1h0M576.3 31.3h0M574.9 35.8h0M574.3 39.4h0M577.4 29.5h0M574.9 30.3h0M575.1 27.1h0M576.5 43.6h0M577.1 39.6h0M577.6 47.2h0M576.2 34.8h0M577.4 34.9h0M576.0 31.6h0M576.3 50.2h0M576.6 50.5h0M576.2 45.4h0M577.6 45.4h0M575.0 47.7h0M576.9 37.5h0M578.3 32.7h0M576.2 41.3h0M578.3 39.3h0M575.8 35.7h0M576.9 34.2h0M576.0 37.4h0M576.9 44.8h0M576.3 45.2h0M575.1 30.8h0M576.1 40.2h0M577.3 40.7h0M577.6 50.3h0M578.6 39.0h0M576.6 39.0h0M576.4 28.4h0M577.4 38.7h0M577.5 34.8h0M577.7 34.3h0M574.4 38.5h0M574.9 46.4h0M577.5 36.8h0M574.6 47.9h0M574.8 39.0h0M575.4 41.9h0M574.8 44.8h0M578.3 31.8h0M575.5 46.2h0M575.8 34.6h0M575.6 31.2h0M577.8 27.8h0M576.1 35.3h0M575.8 38.4h0M573.9 36.8h0M574.4 36.1h0M575.5 32.2h0M575.0 44.5h0M577.4 31.1h0M574.8 36.4h0M577.2 38.2h0M575.1 36.5h0M577.9 25.7h0M576.8 35.8h0M578.5 34.8h0M574.7 51.6h0M576.4 26.4h0M576.0 37.0h0M576.4 38.5h0M577.4 39.1h0M573.9 50.8h0M577.6 43.6h0M575.0 49.1h0M574.7 22.5h0M576.7 31.4h0M577.2 39.8h0M576.2 46.8h0M577.3 22.9h0M577.4 33.4h0M577.0 37.2h0M577.3 38.1h0M575.6 35.8h0M577.8 25.5h0M576.1 38.9h0M574.7 33.1h0M576.8 30.1h0M577.1 51.3h0M574.3 36.8h0M575.8 41.6h0M576.1 35.5h0M576.3 46.8h0M575.4 19.8h0M577.0 48.4h0M575.7 35.0h0M575.2 27.7h0M576.3 35.3h0M575.3 42.6h0M575.9 32.4h0M576.4 31.6h0M576.0 33.7h0M577.8 38.9h0M577.4 40.8h0M576.2 34.5h0M577.1 38.0h0M575.3 38.4h0M577.1 11.8h0M575.8 33.1h0M577.6 31.0h0M574.7 41.3h0M575.0 25.0h0M577.4 36.1h0M575.1 37.4h0M576.7 28.5h0M577.1 44.9h0M576.6 38.7h0M575.5 41.8h0M574.7 43.3h0M576.3 34.9h0M576.7 45.3h0M575.9 38.1h0M575.1 45.4h0M574.7 34.9h0M576.3 36.1h0M577.2 39.8h0M577.8 19.2h0M578.0 27.1h0M574.4 60.6h0M574.7 34.4h0M577.9 46.2h0M574.7 36.0h0M576.3 41.6h0M577.4 25.7h0M576.6 38.5h0M575.8 35.6h0M576.2 35.3h0M575.6 53.9h0M577.0 29.9h0M575.7 36.2h0M576.6 29.9h0M576.0 35.2h0M573.8 31.2h0M577.3 37.5h0M576.4 48.6h0M576.6 40.8h0M576.9 39.5h0M576.0 39.8h0M575.5 39.0h0M575.7 29.6h0M575.6 24.5h0M576.9 40.8h0" stroke="#000" stroke-width="1" stroke-linecap="round" opacity=".7" fill="none"/>
<path d="M575.1 36.0h0M575.8 58.7h0M577.1 36.7h0M577.4 31.2h0M576.7 23.3h0M576.1 30.1h0M574.6 53.1h0M577.3 26.2h0M577.9 39.8h0M574.9 44.7h0M573.8 29.6h0M577.7 26.6h0M575.2 49.5h0M575.9 37.5h0M577.4 51.5h0M576.3 30.8h0M575.1 37.0h0M575.2 25.0h0M574.8 33.6h0M576.2 46.5h0M575.1 40.5h0M577.3 39.0h0M574.7 34.3h0M575.2 45.6h0M575.9 35.4h0M573.8 44.4h0M575.7 39.7h0M575.9 36.5h0M574.7 44.8h0M574.0 47.8h0M575.9 39.0h0M575.8 43.9h0M575.2 42.6h0M577.2 25.6h0M577.6 59.3h0M575.3 43.7h0M576.0 36.1h0M574.8 42.9h0M577.8 38.7h0M574.7 30.4h0M575.3 35.8h0M576.0 41.6h0M574.6 35.1h0M577.3 39.5h0M577.2 38.9h0M577.7 46.9h0M577.0 32.6h0M575.7 30.9h0M576.5 45.2h0M575.9 26.3h0M575.8 37.6h0M576.3 31.4h0M577.2 33.7h0M576.4 39.2h0M575.8 37.3h0M577.2 31.4h0M577.0 40.9h0M574.8 36.0h0M576.4 35.7h0M574.7 45.6h0M577.6 28.7h0M577.5 26.0h0M575.0 31.2h0M575.8 33.4h0M576.5 30.2h0M574.6 49.3h0M576.4 35.7h0M574.8 36.9h0M578.7 19.8h0M577.0 50.9h0M577.8 44.6h0M575.3 36.0h0M577.3 34.9h0M577.5 61.7h0M576.9 43.5h0M577.0 30.2h0M576.4 38.5h0M574.7 42.2h0M577.5 46.2h0M578.2 36.2h0M577.2 37.3h0M574.7 29.7h0M578.6 37.5h0M576.6 38.4h0M575.8 48.5h0M575.9 63.0h0M574.8 34.1h0M576.2 30.4h0M578.6 41.0h0M575.4 43.3h0M577.1 38.6h0M576.6 40.7h0M575.6 34.0h0M575.0 27.4h0M575.1 49.0h0M575.0 36.8h0M576.9 27.1h0M577.6 46.9h0M576.3 39.0h0M575.1 49.3h0M575.7 26.3h0M576.7 28.0h0M576.0 38.2h0M575.6 36.7h0M574.8 25.2h0M577.1 36.3h0M575.8 43.7h0M577.4 29.2h0M576.7 35.8h0M576.3 28.6h0M575.3 13.6h0M577.1 35.3h0M575.0 38.6h0M576.7 46.6h0M576.8 51.2h0M574.7 33.2h0M577.2 35.8h0M576.9 46.0h0M575.6 34.1h0M575.0 47.8h0M576.7 38.9h0M575.8 35.9h0M577.0 35.8h0M574.6 28.9h0M575.2 45.5h0M575.7 44.7h0M576.7 36.6h0M577.1 33.5h0M577.5 35.5h0M574.9 33.7h0M576.4 36.0h0M577.1 23.7h0M577.5 34.5h0M576.3 25.4h0M575.3 33.9h0M576.0 48.0h0M575.3 25.8h0M577.7 34.9h0M577.2 33.3h0M577.7 30.6h0M576.6 30.2h0M576.8 25.7h0M575.3 37.1h0M576.4 29.1h0M576.7 33.3h0M576.0 32.8h0M574.5 44.0h0M575.1 39.5h0M576.0 41.4h0M576.9 43.9h0M577.0 46.9h0M576.1 30.5h0M575.5 36.7h0M578.4 29.6h0M575.9 29.0h0M577.8 39.9h0M577.2 33.1h0M576.6 34.3h0M576.4 48.5h0M576.3 33.7h0M574.7 38.8h0M577.5 34.0h0M576.2 28.8h0M575.8 33.2h0M577.1 43.8h0M576.0 48.1h0M575.4 34.6h0M577.7 41.3h0M577.2 24.8h0M574.7 35.6h0M574.9 37.7h0M577.3 29.0h0M576.8 41.9h0M576.2 43.7h0M574.7 29.9h0M574.7 43.9h0M575.8 28.0h0M577.6 34.4h0M576.8 39.7h0M574.7 46.9h0M576.1 31.1h0M577.4 45.1h0M577.1 36.5h0M576.1 42.8h0M577.4 42.8h0M577.3 32.3h0M576.0 32.0h0M577.6 33.5h0M575.7 37.4h0M577.6 43.3h0M575.0 34.9h0M577.3 45.0h0M576.3 33.2h0M577.2 30.7h0M575.7 35.7h0M577.5 31.5h0M576.4 35.2h0M576.8 33.6h0M576.4 45.4h0M575.3 22.1h0M576.6 31.5h0M576.5 35.9h0M576.8 40.8h0M577.1 39.8h0M576.4 40.8h0M577.5 44.2h0M577.9 38.7h0M575.7 36.2h0M576.0 30.5h0M575.4 35.0h0M575.6 37.8h0M575.9 46.6h0M576.7 36.9h0M575.9 34.7h0M575.1 32.4h0M576.7 37.0h0M575.6 28.8h0M575.5 48.1h0M575.5 33.8h0M577.2 34.1h0M576.9 44.9h0M575.4 44.8h0M577.2 31.0h0M576.4 35.0h0M576.6 33.3h0M577.2 45.2h0M576.0 43.3h0M576.5 36.1h0M577.2 35.7h0M574.6 29.6h0M576.8 41.3h0M577.6 43.7h0M576.4 41.4h0M576.6 59.4h0M577.7 24.8h0M577.7 21.8h0M577.5 40.4h0M576.4 38.4h0M575.6 32.8h0M577.9 31.7h0M577.5 27.4h0M574.9 37.9h0M577.1 39.8h0M577.6 31.8h0M576.4 56.7h0M577.5 33.3h0M575.0 34.7h0M574.3 51.9h0M577.0 29.7h0M575.3 49.5h0M576.0 47.9h0M576.9 39.5h0M575.3 32.6h0M577.2 32.6h0M576.6 29.0h0M575.5 36.7h0M574.9 30.4h0M578.0 35.0h0M574.7 24.5h0M575.6 38.1h0M577.4 36.8h0M574.9 39.4h0M577.6 44.2h0M575.8 15.9h0M576.7 41.5h0M578.7 34.9h0M577.5 43.3h0M576.7 38.1h0M575.4 32.6h0M574.7 32.6h0M574.4 26.7h0M576.3 44.7h0M575.2 26.4h0M574.8 41.6h0M576.3 40.5h0M576.3 38.1h0M575.5 35.2h0M575.9 28.2h0M574.1 36.1h0M574.7 44.5h0M577.3 46.4h0M576.2 31.4h0M575.5 38.5h0M577.4 32.4h0M574.5 35.0h0" stroke="#000" stroke-width="1" stroke-linecap="round" opacity=".7" fill="none"/>
<path d="M597 26.25V32M597 37V43.25M593 26.25h8M593 43.25h8" stroke="#8a8a8a" stroke-width=".5" fill="none"/>
<rect x="588.5" y="32" width="17" height="5" fill="#7f7f7f" stroke="#3a3a3a" stroke-width=".4"/>
<path d="M588.5 34.5H605.5" stroke="#000" stroke-width=".95"/>
<path d="M588.5 113.7H605.5" stroke="#8c8c8c" stroke-width="1.5"/>
<path d="M598.7 37.2h0M598.3 39.3h0M598.2 37.5h0M598.4 34.3h0M595.3 36.8h0M595.7 34.9h0M596.4 31.7h0M598.2 33.6h0M598.8 30.8h0M598.4 33.4h0M598.1 35.5h0M596.8 33.7h0M595.2 32.4h0M598.0 40.7h0M596.3 44.8h0M597.5 35.5h0M596.0 34.1h0M595.5 32.7h0M596.4 36.6h0M598.5 32.0h0M596.1 36.9h0M596.9 38.6h0M597.5 29.1h0M598.4 32.3h0M597.2 37.8h0M596.9 33.8h0M597.5 33.2h0M597.4 39.5h0M595.5 31.5h0M596.0 38.1h0M594.9 44.4h0M596.8 28.8h0M595.5 34.0h0M595.9 33.8h0M596.8 34.9h0M594.6 30.1h0M597.0 38.1h0M596.6 34.6h0M599.0 36.7h0M596.0 37.4h0M598.4 33.4h0M595.6 38.9h0M595.6 35.2h0M594.5 40.2h0M596.1 33.6h0M596.8 30.3h0M597.3 34.4h0M595.9 32.2h0M597.7 39.0h0M598.1 33.4h0M597.1 32.6h0M596.4 38.4h0M597.4 26.9h0M598.6 31.4h0M597.7 31.6h0M596.4 36.9h0M596.2 33.2h0M598.6 38.5h0M597.8 31.7h0M596.8 35.6h0M598.6 33.3h0M595.4 31.8h0M596.4 37.0h0M598.7 37.7h0M595.3 30.9h0M596.6 31.4h0" stroke="#000" stroke-width="1" stroke-linecap="round" opacity=".7" fill="none"/>
<path d="M596.6 38.6h0M595.8 39.5h0M598.6 33.3h0M595.7 37.8h0M597.1 36.7h0M596.2 37.1h0M599.0 37.0h0M595.2 31.1h0M596.9 42.6h0M596.2 34.3h0M597.7 38.2h0M596.9 37.6h0M596.7 40.9h0M596.5 35.8h0M595.7 34.9h0M598.9 32.3h0M596.4 32.9h0M598.2 33.3h0M597.5 32.2h0M596.8 27.7h0M596.4 37.1h0M598.6 34.1h0M595.4 35.3h0M596.4 33.4h0M596.1 36.1h0M596.8 36.9h0M597.1 31.4h0M598.7 28.1h0M595.9 35.0h0M597.7 29.9h0M596.7 39.7h0M597.8 57.5h0M595.3 33.3h0M595.5 35.3h0M596.9 33.8h0M597.3 38.5h0M597.2 36.7h0M596.5 36.3h0M596.5 34.0h0M595.2 29.0h0M597.3 37.8h0M595.0 36.4h0M596.0 31.2h0M595.3 29.9h0M596.9 30.3h0M597.9 31.2h0M596.4 32.7h0M597.6 37.2h0M597.1 36.3h0M596.4 35.4h0M597.9 33.6h0M596.1 31.8h0M597.9 30.6h0M597.1 37.2h0M597.3 36.7h0M594.6 37.1h0M594.8 31.2h0M595.9 28.3h0M596.6 35.8h0M597.2 29.6h0M597.9 35.0h0M599.2 41.5h0M596.5 36.8h0M595.2 32.5h0M596.8 35.9h0M597.7 33.4h0" stroke="#000" stroke-width="1" stroke-linecap="round" opacity=".7" fill="none"/>
<path d="M598.7 34.7h0M598.5 33.4h0M598.8 33.1h0M596.5 45.4h0M598.3 29.4h0M598.6 31.9h0M597.3 32.7h0M598.2 31.5h0M595.4 36.1h0M595.3 37.2h0M595.4 33.9h0M597.9 38.5h0M597.7 30.2h0M595.7 25.3h0M596.0 37.1h0M599.6 30.4h0M597.8 33.5h0M599.0 36.7h0M598.2 40.2h0M595.6 36.9h0M595.2 27.9h0M595.9 30.1h0M596.0 32.7h0M595.3 30.0h0M596.7 40.3h0M598.6 35.2h0M598.0 37.1h0M597.1 34.5h0M597.4 34.5h0M595.3 36.8h0M596.8 31.4h0M599.8 33.7h0M595.6 30.4h0M598.8 30.5h0M599.4 38.1h0M596.8 30.5h0M597.2 33.1h0M595.2 37.5h0M598.2 29.3h0M596.4 29.5h0M597.5 32.2h0M596.5 30.9h0M597.6 33.3h0M596.6 33.2h0M596.7 36.9h0M597.3 33.4h0M596.1 40.9h0M598.7 36.9h0M598.6 37.8h0M596.9 33.6h0M597.4 36.8h0M598.4 35.9h0M594.9 35.6h0M595.8 40.6h0M595.1 41.8h0M595.6 30.0h0M596.4 34.0h0M594.2 36.5h0M597.8 38.5h0M597.6 25.1h0M598.7 30.5h0M596.0 32.9h0M595.7 36.2h0M598.7 30.4h0M598.5 38.0h0" stroke="#000" stroke-width="1" stroke-linecap="round" opacity=".7" fill="none"/>
<path d="M638.38 23.25V37.5M638.38 47.5V62M634.38 23.25h8M634.38 62h8" stroke="#8a8a8a" stroke-width=".5" fill="none"/>
<rect x="629.75" y="37.5" width="17.25" height="10" fill="#fb6565" stroke="#5a2a2a" stroke-width=".4"/>
<path d="M629.75 42.25H647" stroke="#000" stroke-width="1.1"/>
<path d="M639.5 40.8h0M638.6 60.8h0M637.1 51.1h0M639.7 44.9h0M640.0 31.8h0M637.5 50.4h0M638.2 38.8h0M637.4 37.2h0M639.3 49.9h0M639.8 47.6h0M639.7 49.2h0M637.2 37.4h0M637.1 44.2h0M639.9 44.3h0M637.1 43.5h0M639.8 52.0h0M639.6 42.5h0M637.6 43.9h0M636.4 31.1h0M637.9 50.9h0M637.5 39.4h0M637.8 43.0h0M637.7 39.0h0M639.0 46.0h0M637.1 35.7h0M638.7 29.6h0M640.5 42.7h0M639.5 43.2h0M638.4 40.1h0M637.5 51.9h0M639.7 46.9h0M637.8 37.3h0M638.8 58.1h0M638.4 38.8h0M638.3 50.3h0M638.8 33.6h0M637.2 40.3h0M637.1 47.6h0M637.3 44.6h0M638.6 48.6h0M637.7 40.7h0M638.5 28.9h0M638.6 46.9h0M636.7 51.2h0M640.2 53.9h0M639.2 28.2h0M636.8 33.3h0M637.2 29.5h0M639.6 41.5h0M639.2 45.8h0M636.8 34.2h0M638.7 46.0h0M638.2 44.2h0M638.4 50.0h0M638.0 42.6h0M637.1 44.3h0M638.6 59.4h0M639.0 41.2h0M637.4 40.4h0M639.6 48.2h0M639.8 44.3h0M637.6 44.9h0M638.3 42.7h0M636.6 46.3h0M636.2 44.7h0M639.0 51.0h0M638.5 39.8h0M638.7 46.6h0M638.9 40.3h0M637.2 43.1h0M638.0 36.1h0M639.1 43.3h0M638.0 38.7h0M636.9 44.5h0M637.6 40.8h0M639.9 40.7h0M637.5 48.6h0M637.3 42.8h0M638.0 47.4h0M638.0 47.2h0M640.8 46.0h0M639.8 42.6h0M638.7 44.0h0M639.5 29.4h0M639.6 37.7h0M639.4 44.7h0M638.1 48.3h0M638.5 52.1h0M637.9 45.6h0M637.4 42.0h0M637.6 36.6h0M637.4 45.9h0M639.9 27.3h0M639.3 53.1h0M636.9 53.0h0M639.3 32.8h0M639.2 35.4h0M636.9 45.7h0M637.3 31.7h0M637.5 28.3h0M639.9 40.9h0M639.3 29.8h0M637.9 40.3h0M636.8 38.5h0M638.2 39.8h0M639.9 33.2h0M637.1 40.4h0M637.2 49.4h0M639.9 45.1h0M638.3 47.4h0M637.7 35.0h0M637.2 30.2h0M638.8 45.3h0M639.7 45.6h0M639.2 47.6h0M637.4 45.4h0M639.6 36.3h0M636.9 42.1h0M638.3 40.7h0M638.9 40.3h0M637.6 46.7h0M637.7 40.8h0M639.3 40.2h0M638.5 39.5h0M638.4 36.9h0M640.5 41.6h0M638.5 41.0h0M640.0 42.0h0M638.7 48.2h0M638.7 34.2h0M638.3 43.6h0M636.8 43.0h0M637.3 34.5h0M637.4 34.7h0M638.9 47.7h0M637.9 36.8h0M639.4 36.7h0M638.3 44.9h0M639.3 33.1h0M638.5 37.2h0M637.8 27.5h0M639.0 39.0h0M638.3 36.0h0M640.0 42.5h0M637.1 37.4h0M637.1 48.2h0M638.2 54.7h0M638.6 33.2h0M639.1 50.7h0M639.0 50.6h0M639.4 37.1h0M639.9 42.8h0M638.4 41.2h0M639.2 52.1h0M638.6 32.1h0M637.5 44.4h0M637.0 36.5h0M639.7 52.9h0M639.5 46.1h0M638.9 57.7h0M638.5 39.4h0M638.7 46.7h0M637.5 46.8h0M640.2 41.6h0M639.2 47.1h0M637.0 42.1h0M637.8 39.1h0M637.9 31.3h0M637.0 40.8h0M639.6 36.2h0M637.6 36.7h0M640.2 39.8h0M638.6 41.6h0M636.9 43.6h0M639.9 48.4h0M639.5 39.4h0M640.1 45.5h0M638.4 25.0h0M638.2 35.4h0M638.1 39.6h0M638.7 34.0h0M638.7 31.6h0" stroke="#000" stroke-width="1" stroke-linecap="round" opacity=".7" fill="none"/>
<path d="M637.9 40.9h0M636.9 39.4h0M637.7 37.4h0M637.0 47.4h0M637.4 43.2h0M639.1 52.4h0M637.3 38.6h0M640.6 49.6h0M637.7 47.5h0M638.8 54.9h0M640.2 39.5h0M636.5 45.0h0M637.7 28.8h0M637.7 49.0h0M639.2 56.2h0M637.6 40.1h0M637.8 50.9h0M636.1 44.8h0M637.8 50.5h0M639.1 36.1h0M638.1 44.9h0M640.0 39.2h0M640.5 43.7h0M637.1 43.0h0M638.5 43.5h0M637.2 51.7h0M637.0 44.8h0M638.1 41.1h0M639.5 53.8h0M637.1 34.6h0M640.0 40.8h0M639.2 44.7h0M638.9 28.0h0M638.2 52.2h0M637.7 44.2h0M639.6 53.9h0M639.4 34.2h0M637.6 27.2h0M638.8 51.1h0M636.0 44.5h0M636.3 41.6h0M639.3 49.3h0M639.0 46.1h0M638.8 36.4h0M638.9 55.0h0M636.5 38.4h0M639.1 45.4h0M638.3 52.9h0M639.9 35.3h0M637.0 30.5h0M639.5 31.1h0M636.4 56.8h0M637.2 29.3h0M639.9 39.0h0M637.3 42.2h0M638.9 37.9h0M638.8 43.3h0M639.1 42.7h0M639.7 36.3h0M636.8 35.3h0M637.0 36.5h0M639.1 37.1h0M637.6 37.7h0M637.8 39.9h0M639.4 22.0h0M640.0 36.5h0M640.4 50.9h0M637.0 52.0h0M639.1 50.7h0M639.7 54.0h0M637.5 38.9h0M637.1 46.6h0M638.0 40.0h0M637.6 40.4h0M636.5 43.5h0M638.4 40.3h0M637.4 51.1h0M638.4 43.4h0M639.2 38.8h0M639.2 50.9h0M638.9 24.6h0M637.8 41.5h0M638.9 45.2h0M637.7 38.6h0M639.2 33.3h0M639.5 50.9h0M638.3 37.0h0M639.7 52.5h0M639.0 46.4h0M638.0 27.8h0M637.2 26.2h0M638.1 30.9h0M638.1 34.1h0M638.8 54.3h0M638.4 57.7h0M637.7 43.4h0M638.5 36.3h0M639.5 47.0h0M637.9 40.0h0M638.6 41.9h0M636.7 21.9h0M639.6 45.7h0M638.8 49.6h0M637.3 53.6h0M638.7 47.3h0M639.3 36.9h0M637.0 28.5h0M638.6 49.0h0M638.1 65.0h0M639.2 44.9h0M638.8 43.7h0M638.7 48.1h0M639.6 27.4h0M639.8 55.6h0M638.5 47.6h0M639.8 48.9h0M637.7 40.0h0M638.6 37.3h0M638.2 37.1h0M639.1 35.1h0M639.0 42.9h0M639.2 56.0h0M638.0 36.5h0M638.6 35.7h0M638.4 40.4h0M637.5 43.7h0M639.4 33.3h0M639.9 35.2h0M638.7 48.0h0M640.8 34.8h0M639.3 36.3h0M640.3 59.2h0M639.3 48.0h0M638.6 51.4h0M638.3 40.3h0M638.2 36.7h0M637.0 52.3h0M639.8 49.6h0M637.0 41.3h0M639.1 42.1h0M639.1 36.7h0M637.4 42.6h0M635.9 33.8h0M639.4 49.4h0M638.4 38.9h0M637.7 32.7h0M638.5 38.9h0M637.6 35.6h0M639.5 53.0h0M637.2 41.3h0M638.5 53.1h0M639.0 38.3h0M636.8 40.2h0M637.5 29.1h0M636.8 35.5h0M638.0 40.2h0M637.5 34.5h0M637.8 29.6h0M636.9 49.1h0M637.6 51.1h0M636.8 30.2h0M638.7 42.8h0M639.2 42.8h0M639.3 50.1h0M638.4 29.1h0M638.4 34.2h0M639.8 54.7h0M637.9 70.0h0M637.3 39.6h0M636.8 44.1h0M638.8 46.1h0M636.9 29.9h0M639.3 27.8h0M638.5 45.8h0M640.2 45.6h0M638.2 41.8h0M639.4 42.7h0M637.0 30.0h0M638.5 39.0h0M637.7 52.7h0M639.4 45.2h0M639.3 39.3h0" stroke="#000" stroke-width="1" stroke-linecap="round" opacity=".7" fill="none"/>
<path d="M640.5 60.2h0M639.4 39.9h0M639.5 47.8h0M638.9 29.9h0M639.1 43.1h0M639.6 37.3h0M636.2 44.8h0M637.0 40.2h0M639.2 36.8h0M638.0 62.2h0M636.8 37.8h0M638.1 41.8h0M636.9 50.7h0M637.2 61.6h0M638.1 50.8h0M636.2 53.8h0M639.6 46.3h0M638.5 59.7h0M638.6 46.2h0M638.9 49.2h0M637.7 32.8h0M636.6 42.3h0M638.7 38.8h0M639.2 30.2h0M639.2 43.1h0M636.7 41.0h0M637.0 52.4h0M640.7 35.6h0M638.0 47.1h0M637.0 37.5h0M639.0 46.2h0M637.8 55.2h0M637.1 36.6h0M638.2 31.6h0M639.6 32.2h0M637.0 48.9h0M638.6 42.6h0M638.5 38.8h0M639.4 54.0h0M637.6 32.3h0M636.3 38.8h0M638.3 51.9h0M637.8 25.8h0M638.0 41.3h0M636.9 35.3h0M638.3 46.6h0M640.3 40.7h0M637.1 39.5h0M637.9 39.0h0M637.5 51.8h0M637.4 45.0h0M637.6 30.9h0M638.3 41.0h0M638.4 42.9h0M639.0 36.8h0M638.9 43.0h0M639.9 59.2h0M638.1 50.4h0M637.5 44.7h0M640.0 58.2h0M639.9 28.1h0M638.1 48.7h0M639.1 31.8h0M638.4 40.2h0M637.8 38.7h0M636.8 47.7h0M637.2 40.0h0M637.2 47.6h0M638.2 32.1h0M640.0 42.5h0M638.0 39.9h0M639.9 30.6h0M637.9 46.4h0M638.4 37.6h0M638.2 57.3h0M639.2 46.8h0M638.3 45.1h0M637.7 41.5h0M639.6 43.2h0M638.0 48.2h0M637.4 39.1h0M639.2 40.9h0M638.1 46.7h0M637.0 54.5h0M638.7 33.3h0M637.1 55.4h0M638.5 36.3h0M638.9 49.4h0M639.1 49.4h0M639.2 36.1h0M637.7 48.1h0M637.4 35.5h0M638.7 57.7h0M638.4 42.2h0M637.3 38.3h0M638.4 43.8h0M639.4 34.8h0M637.5 51.4h0M637.5 40.8h0M637.7 44.3h0M639.2 46.9h0M639.5 36.1h0M639.9 55.6h0M639.3 41.0h0M637.4 47.8h0M638.9 32.6h0M638.3 47.8h0M637.2 40.7h0M639.1 45.4h0M637.2 65.3h0M636.3 43.4h0M638.8 51.7h0M639.5 47.6h0M638.8 38.2h0M637.2 50.6h0M637.9 54.8h0M637.7 29.6h0M637.7 34.5h0M637.5 35.8h0M639.6 45.7h0M638.8 48.9h0M637.0 43.9h0M636.4 33.1h0M638.0 39.1h0M640.8 51.1h0M637.1 32.3h0M640.3 42.9h0M638.2 59.8h0M637.1 56.2h0M640.1 32.0h0M636.8 41.2h0M639.8 43.8h0M637.3 38.8h0M636.5 44.7h0M637.3 37.9h0M638.1 44.1h0M638.6 47.9h0M637.0 57.8h0M638.4 47.7h0M637.5 39.3h0M637.5 51.7h0M639.3 42.2h0M638.6 43.0h0M639.8 41.8h0M636.8 44.6h0M636.8 52.5h0M637.0 38.9h0M637.9 33.7h0M640.0 30.0h0M640.2 41.5h0M639.5 37.5h0M638.3 53.4h0M639.2 52.6h0M637.9 43.2h0M637.5 49.2h0M637.5 37.0h0M638.1 47.0h0M639.3 62.6h0M638.3 35.7h0M637.9 47.2h0M638.4 37.6h0M638.3 31.9h0M637.7 42.3h0M639.4 38.1h0M637.1 40.9h0M637.9 45.6h0M636.9 30.9h0M637.1 43.5h0M638.8 37.7h0M638.1 50.6h0M636.1 43.6h0M639.1 44.9h0M639.3 36.9h0M639.4 50.6h0M639.5 36.8h0M639.2 47.7h0M636.8 30.4h0M638.6 36.9h0M636.7 47.3h0M637.9 44.6h0M639.3 48.2h0" stroke="#000" stroke-width="1" stroke-linecap="round" opacity=".7" fill="none"/>
<path d="M659.25 25.75V33.25M659.25 38.75V46.5M655.25 25.75h8M655.25 46.5h8" stroke="#8a8a8a" stroke-width=".5" fill="none"/>
<rect x="650.75" y="33.25" width="17" height="5.5" fill="#7f7f7f" stroke="#3a3a3a" stroke-width=".4"/>
<path d="M650.75 36H667.75" stroke="#000" stroke-width=".95"/>
<circle cx="659.55" cy="113.7" r=".5" fill="#777"/>
<path d="M656.8 40.4h0M660.3 37.3h0M657.7 37.8h0M658.9 34.1h0M661.8 32.8h0M661.1 35.4h0M660.1 30.9h0M659.2 32.8h0M660.1 34.8h0M656.8 36.6h0M661.0 30.6h0M660.4 30.8h0M661.0 37.4h0M659.2 34.2h0M658.5 32.9h0M660.8 35.7h0M659.7 35.9h0M660.8 38.8h0M659.1 37.8h0M658.1 45.3h0M657.8 42.5h0M659.6 33.5h0M659.8 38.0h0M657.7 36.1h0M656.4 40.0h0M660.3 30.1h0M658.4 37.1h0M657.8 34.1h0M658.0 35.2h0M660.7 38.5h0M658.7 38.8h0M660.6 36.1h0M657.7 37.2h0M660.2 35.8h0M658.1 34.8h0M659.9 30.9h0M660.8 39.1h0M658.8 68.0h0M661.2 33.5h0M658.9 33.6h0M660.0 36.1h0M659.7 35.2h0M658.5 34.1h0M657.0 38.8h0M660.6 35.2h0M658.8 35.5h0M659.9 35.9h0M660.5 38.2h0M657.9 37.9h0M658.3 44.5h0M661.2 70.5h0M659.7 36.8h0M660.7 34.0h0M660.7 31.9h0M658.9 35.4h0M659.6 40.4h0M661.1 37.3h0M658.0 31.3h0M660.4 32.8h0M656.8 34.6h0M661.0 38.4h0M659.8 33.6h0M659.4 34.3h0M659.6 32.6h0M659.8 40.9h0M659.5 36.3h0M660.8 32.4h0M657.2 38.6h0M657.9 37.9h0M659.8 33.4h0M660.2 40.6h0M660.1 30.5h0M659.3 32.0h0" stroke="#000" stroke-width="1" stroke-linecap="round" opacity=".7" fill="none"/>
<path d="M659.0 42.7h0M660.2 42.1h0M659.0 35.4h0M658.0 30.1h0M658.9 35.8h0M658.7 34.8h0M659.4 39.1h0M660.1 31.7h0M658.4 34.0h0M659.9 31.3h0M661.1 35.9h0M660.8 40.4h0M660.9 36.3h0M660.1 42.0h0M662.1 35.9h0M660.8 33.9h0M658.6 37.6h0M660.6 38.7h0M659.6 39.2h0M660.4 34.2h0M657.9 43.7h0M657.5 35.8h0M659.3 34.9h0M660.4 33.2h0M660.7 34.9h0M656.5 32.7h0M660.4 42.4h0M659.0 35.5h0M658.1 33.0h0M658.7 32.9h0M659.7 41.6h0M660.6 35.0h0M660.5 33.7h0M659.3 31.0h0M657.9 32.5h0M660.8 34.8h0M659.0 29.9h0M658.6 29.4h0M659.0 31.5h0M657.6 37.9h0M660.3 25.5h0M657.9 37.1h0M659.8 47.0h0M660.8 30.4h0M659.9 44.9h0M658.8 40.9h0M657.3 43.2h0M658.1 41.3h0M658.0 40.0h0M658.1 31.5h0M657.2 42.5h0M658.8 31.1h0M659.0 39.6h0M659.9 36.0h0M657.4 33.2h0M658.8 26.8h0M657.6 31.2h0M657.9 36.5h0M659.9 34.2h0M661.3 34.8h0M660.7 42.8h0M659.3 41.2h0M657.7 42.8h0M658.3 32.9h0M657.8 40.2h0M659.4 27.4h0M658.3 33.0h0M658.8 35.2h0M658.3 42.5h0M659.8 42.2h0M661.9 29.4h0M660.4 37.9h0" stroke="#000" stroke-width="1" stroke-linecap="round" opacity=".7" fill="none"/>
<path d="M657.9 39.7h0M658.3 32.2h0M658.2 44.1h0M658.7 34.3h0M661.4 38.0h0M662.0 34.9h0M660.8 37.6h0M658.6 36.1h0M658.6 31.2h0M658.4 35.0h0M659.5 40.0h0M658.4 36.6h0M659.5 40.3h0M657.9 34.6h0M660.7 35.3h0M658.0 29.7h0M660.5 34.4h0M659.7 32.0h0M657.1 40.9h0M657.7 45.2h0M657.7 35.6h0M660.4 25.1h0M657.6 35.6h0M659.0 31.8h0M657.9 34.6h0M658.0 37.9h0M660.6 42.2h0M657.7 29.7h0M658.1 41.6h0M659.8 30.6h0M659.6 37.3h0M658.8 36.2h0M660.9 31.7h0M660.3 31.9h0M658.1 39.5h0M660.6 38.5h0M660.0 37.6h0M660.0 30.4h0M659.5 40.5h0M660.6 40.1h0M658.5 41.8h0M660.7 36.2h0M660.4 38.8h0M659.3 34.5h0M659.2 35.2h0M658.4 32.0h0M659.9 43.0h0M658.6 30.9h0M660.0 36.4h0M660.7 34.2h0M658.4 31.8h0M658.0 37.9h0M660.6 37.7h0M658.8 40.9h0M659.7 31.6h0M658.3 31.4h0M657.7 35.5h0M660.3 36.7h0M660.5 36.3h0M658.3 29.9h0M660.4 31.5h0M658.6 31.1h0M660.7 37.5h0M659.2 36.2h0M659.2 32.9h0M658.8 36.7h0M657.9 39.8h0M658.3 30.9h0M659.8 39.3h0M660.7 46.6h0M657.7 33.4h0M658.8 33.7h0" stroke="#000" stroke-width="1" stroke-linecap="round" opacity=".7" fill="none"/>
<path d="M576 8.75V4.4H584.17M588.58 4.4H596.75V24.5" stroke="#7c7c7c" stroke-width=".55" fill="none"/>
<circle cx="586.38" cy="4.3" r="1.05" fill="#f5323c"/>
<path d="M638.25 20.5V15.9H646.55M650.95 15.9H659.25V23.75" stroke="#7c7c7c" stroke-width=".55" fill="none"/>
<circle cx="648.75" cy="15.8" r="1.05" fill="#f5323c"/>
<path d="M550.3 0.3H685" stroke="#a6a6a6" stroke-width=".85"/>
<path d="M684.6 0.3V118.3" stroke="#a0a0a0" stroke-width=".85"/>
<path d="M550.3 118.3H685" stroke="#9c9c9c" stroke-width=".85"/>
<path d="M550.7 0.3V118.3" stroke="#a6a6a6" stroke-width=".85"/>
<path d="M586.5 118.3v2" stroke="#666" stroke-width=".6"/>
<path d="M648.8 118.3v2" stroke="#666" stroke-width=".6"/>
<path d="M550.7 19.25h-3.2" stroke="#808080" stroke-width=".6"/>
<text transform="translate(544.8 19.25) rotate(-90)" font-size="4" text-anchor="middle" fill="#111" stroke="#111" stroke-width=".1">8</text>
<path d="M550.7 42.75h-3.2" stroke="#808080" stroke-width=".6"/>
<text transform="translate(544.8 42.75) rotate(-90)" font-size="4" text-anchor="middle" fill="#111" stroke="#111" stroke-width=".1">6</text>
<path d="M550.7 66.25h-3.2" stroke="#808080" stroke-width=".6"/>
<text transform="translate(544.8 66.25) rotate(-90)" font-size="4" text-anchor="middle" fill="#111" stroke="#111" stroke-width=".1">4</text>
<path d="M550.7 90h-3.2" stroke="#808080" stroke-width=".6"/>
<text transform="translate(544.8 90) rotate(-90)" font-size="4" text-anchor="middle" fill="#111" stroke="#111" stroke-width=".1">2</text>
<path d="M550.7 113.7h-3.2" stroke="#808080" stroke-width=".6"/>
<text transform="translate(544.8 113.7) rotate(-90)" font-size="4" text-anchor="middle" fill="#111" stroke="#111" stroke-width=".1">0</text>
<text transform="translate(534 59.3) rotate(-90)" font-size="4.12" text-anchor="middle" fill="#111" stroke="#111" stroke-width=".1">Expression - log<tspan font-size="2.8" dy=".8">2</tspan><tspan dy="-.8">(TPM+1)</tspan></text>
<text x="586.5" y="127" font-size="4.05" text-anchor="middle" fill="#111" stroke="#111" stroke-width=".1">BRCA</text>
<text x="586.5" y="131.6" font-size="4" text-anchor="middle" fill="#111" stroke="#111" stroke-width=".1">(num(T)=1085; num(N)=291)</text>
<text x="648.8" y="127" font-size="4.05" text-anchor="middle" fill="#111" stroke="#111" stroke-width=".1">LUAD</text>
<text x="648.8" y="131.6" font-size="4" text-anchor="middle" fill="#111" stroke="#111" stroke-width=".1">(num(T)=483; num(N)=347)</text>
<text x="518.5" y="19.8" font-size="23.7" font-weight="bold" fill="#000">d</text>
<path d="M54 170.5V184.25M54 194.25V208M50 170.5h8M50 208h8" stroke="#8a8a8a" stroke-width=".5" fill="none"/>
<rect x="45.5" y="184.25" width="17" height="10" fill="#fb6565" stroke="#5a2a2a" stroke-width=".4"/>
<path d="M45.5 189.25H62.5" stroke="#000" stroke-width="1.1"/>
<path d="M45.5 267.3H62.5" stroke="#3a3a3a" stroke-width="1.05"/>
<path d="M52.7 188.4h0M54.2 181.5h0M55.3 191.0h0M54.0 202.8h0M54.2 195.3h0M54.3 197.5h0M52.3 192.9h0M53.2 189.6h0M53.8 192.2h0M51.8 186.3h0M54.4 186.8h0M54.2 184.8h0M55.6 189.2h0M52.9 178.4h0M54.9 190.5h0M53.5 180.2h0M54.1 183.0h0M51.8 191.1h0M55.2 213.5h0M54.4 181.8h0M54.6 200.1h0M52.8 179.6h0M54.2 178.5h0M54.7 180.4h0M53.7 201.4h0M53.7 202.3h0M55.4 189.1h0M53.0 183.4h0M53.6 182.7h0M54.0 182.6h0M55.2 187.4h0M53.1 185.2h0M53.9 197.6h0M53.0 187.4h0M54.1 185.4h0M53.6 166.7h0M54.8 194.1h0M52.6 189.0h0M54.0 183.9h0M55.3 196.8h0M54.7 184.8h0M53.7 195.3h0M53.0 185.2h0M54.9 195.5h0M52.9 193.8h0M53.2 195.7h0M54.7 183.2h0M53.0 195.1h0M52.5 179.8h0M51.8 191.1h0M51.8 188.9h0M53.8 195.8h0M53.7 188.3h0M54.1 182.0h0M53.9 191.7h0M55.4 193.2h0M53.5 188.3h0M53.9 195.3h0M53.2 185.0h0M52.8 193.0h0M55.0 179.7h0M52.9 194.8h0M55.4 190.1h0M52.6 190.1h0M55.2 195.0h0M52.9 196.4h0M53.4 203.0h0M51.9 183.2h0M53.8 196.8h0M55.2 188.0h0M54.9 189.4h0M53.7 191.3h0M54.2 182.8h0M53.0 194.0h0M55.2 187.1h0M52.6 190.2h0M52.8 184.0h0M53.0 191.0h0M52.8 184.1h0M54.3 186.0h0M54.3 181.1h0M54.5 192.9h0M53.3 201.8h0M54.3 196.8h0M55.0 200.4h0M55.2 177.3h0M55.2 183.7h0M52.5 185.2h0M56.0 192.9h0M54.3 197.3h0M54.6 193.0h0M53.3 186.3h0M52.6 194.5h0M52.6 189.9h0M55.5 191.5h0M55.0 187.0h0M54.2 195.2h0M52.7 189.2h0M54.9 195.7h0M55.1 188.8h0M53.5 195.8h0M53.1 190.7h0M53.2 188.7h0M53.8 193.4h0M53.4 183.0h0M54.5 181.0h0M53.7 188.4h0M52.9 193.0h0M52.6 185.5h0M56.2 186.9h0M54.4 190.3h0M54.1 203.0h0M54.9 193.9h0M52.6 177.5h0M53.7 192.0h0M52.8 178.7h0M55.5 194.1h0M53.9 187.9h0M54.8 198.8h0M54.3 187.7h0M54.8 191.0h0M52.5 176.0h0M55.3 189.5h0M54.4 192.0h0M54.3 188.9h0M53.3 181.2h0M54.7 195.5h0M55.4 190.7h0M53.9 187.9h0M53.0 192.7h0M55.4 188.8h0M53.6 180.6h0M54.6 190.9h0M53.3 194.0h0M53.3 184.9h0M53.3 183.2h0M55.2 193.7h0M55.1 180.6h0M55.1 183.7h0M52.7 181.2h0M54.3 181.9h0M54.7 188.0h0M53.5 190.3h0M52.9 190.0h0M52.6 183.6h0M54.6 184.1h0M55.1 189.8h0M54.0 197.9h0M54.3 188.9h0M54.3 181.0h0M54.3 181.3h0M55.5 196.5h0M54.7 189.5h0M55.5 187.4h0M53.9 182.4h0M53.3 193.0h0M54.2 187.8h0M54.3 191.7h0M52.7 201.3h0M52.9 187.8h0M54.9 189.5h0M54.3 191.0h0M52.7 177.1h0M53.5 178.0h0M52.9 191.4h0M53.7 187.6h0M53.9 180.2h0M53.9 183.4h0M52.8 185.2h0M52.6 190.7h0M54.1 173.7h0M54.6 182.3h0M54.3 198.3h0M55.5 183.1h0M54.8 176.9h0M54.1 189.1h0M54.2 191.2h0M55.2 183.5h0M54.5 185.9h0M53.5 195.5h0M54.0 197.0h0M53.5 181.8h0M53.2 193.2h0M54.0 195.7h0M54.3 189.5h0M52.9 183.2h0M52.2 189.9h0M55.4 187.6h0M52.7 186.4h0M53.0 191.6h0M53.4 196.8h0M55.2 187.6h0M54.1 194.0h0M54.0 181.4h0M54.1 192.4h0M54.8 182.6h0M53.2 187.4h0M53.5 183.9h0M53.6 199.4h0M53.3 173.0h0M55.4 188.4h0M53.0 195.4h0M54.1 192.0h0M52.7 194.9h0M53.8 174.9h0M52.5 188.4h0M55.4 210.7h0M56.2 172.8h0M52.6 193.9h0M53.4 197.7h0M53.3 185.1h0M54.7 185.0h0M53.9 182.9h0M55.4 189.8h0M54.0 216.5h0M54.2 193.7h0M52.3 186.8h0M54.6 199.2h0M54.5 179.8h0M54.5 189.3h0M55.7 189.0h0M52.7 199.0h0M53.6 181.5h0M53.5 185.9h0M53.7 192.0h0M55.0 192.6h0M52.8 192.5h0M52.5 193.3h0M55.1 193.2h0M54.5 184.9h0M53.9 184.8h0M55.3 193.6h0M53.4 192.6h0M52.6 177.2h0M53.0 189.8h0M52.6 190.8h0M53.3 172.6h0M54.4 179.8h0M53.5 199.7h0M56.1 194.9h0M54.9 192.1h0M54.8 177.4h0M53.5 182.3h0M53.8 180.9h0M53.2 176.8h0M55.5 183.2h0M55.4 171.2h0M53.5 192.7h0M54.7 189.6h0M52.0 186.6h0M53.9 195.5h0M53.7 190.0h0M53.8 201.6h0M55.7 180.1h0M55.7 184.4h0M52.1 196.8h0M54.5 195.1h0M53.0 182.6h0M53.1 193.9h0M53.4 185.1h0M55.3 183.7h0M54.5 187.6h0M54.0 185.0h0M53.6 194.1h0M54.8 183.6h0M54.1 191.7h0M55.1 180.4h0M52.5 192.9h0M54.0 180.2h0M53.5 183.9h0M55.2 190.9h0M52.7 194.5h0M53.8 206.1h0M52.6 190.4h0M51.9 201.7h0M55.4 189.2h0M55.1 183.8h0M52.7 196.6h0M54.7 192.5h0M53.6 196.6h0M55.3 179.3h0M53.8 190.3h0M55.0 194.2h0M54.2 193.4h0M54.6 190.9h0M53.1 201.5h0M53.3 192.2h0M53.6 194.7h0M54.6 190.6h0M54.0 196.5h0M54.7 207.7h0M52.5 188.3h0M53.4 181.5h0M53.0 194.7h0M52.7 193.8h0M53.7 188.5h0M55.4 188.8h0M54.3 187.4h0M55.4 186.0h0M55.2 168.1h0M55.3 193.1h0M52.7 195.2h0M55.4 196.5h0M53.9 201.1h0M53.7 213.6h0M52.4 187.9h0M54.7 191.8h0M52.8 185.4h0M53.8 181.4h0M54.9 188.5h0M51.8 190.8h0" stroke="#000" stroke-width="1" stroke-linecap="round" opacity=".7" fill="none"/>
<path d="M52.0 193.4h0M55.2 189.6h0M52.8 195.1h0M52.7 183.8h0M53.6 193.5h0M53.3 176.6h0M55.3 191.8h0M54.5 193.1h0M53.1 194.6h0M53.1 188.2h0M52.8 183.5h0M52.7 180.6h0M54.6 194.7h0M54.1 202.1h0M54.6 189.2h0M52.7 174.3h0M52.9 188.9h0M54.5 190.6h0M53.5 192.9h0M53.9 195.5h0M53.1 194.1h0M54.0 186.0h0M53.0 175.6h0M53.4 197.3h0M54.1 170.5h0M54.6 190.2h0M54.2 188.1h0M53.6 201.3h0M54.0 188.5h0M53.3 201.4h0M54.7 201.0h0M53.2 186.8h0M53.6 185.8h0M52.5 188.7h0M54.2 194.9h0M54.9 192.0h0M53.5 199.0h0M54.7 191.3h0M53.2 199.1h0M54.9 187.2h0M52.8 180.3h0M54.7 197.9h0M54.7 180.4h0M53.1 194.5h0M55.1 196.2h0M53.3 195.2h0M54.0 189.4h0M53.1 184.2h0M55.1 183.7h0M54.4 184.6h0M53.6 189.3h0M52.9 177.0h0M54.3 213.9h0M55.1 182.6h0M52.7 191.1h0M53.8 188.5h0M54.9 193.1h0M53.8 194.0h0M55.2 193.5h0M53.4 192.9h0M54.8 189.2h0M53.4 180.7h0M53.7 187.5h0M54.5 195.1h0M53.3 177.7h0M54.4 200.5h0M53.9 181.4h0M53.9 185.0h0M54.2 205.3h0M53.8 187.9h0M52.5 183.0h0M53.6 195.1h0M54.4 190.6h0M55.2 190.5h0M54.8 183.4h0M54.3 184.2h0M54.2 187.0h0M54.8 190.3h0M54.4 195.6h0M53.3 192.6h0M55.1 197.1h0M55.2 190.1h0M54.2 189.7h0M55.2 189.4h0M53.0 182.2h0M53.1 186.7h0M53.0 197.1h0M54.7 181.9h0M53.6 201.7h0M54.4 193.9h0M53.9 191.6h0M54.0 179.2h0M51.9 187.9h0M54.6 182.9h0M52.6 194.6h0M53.3 199.0h0M53.0 195.4h0M52.0 181.1h0M53.4 190.8h0M55.3 188.1h0M52.8 195.2h0M54.5 188.7h0M54.8 184.6h0M55.3 188.3h0M52.9 198.3h0M54.9 190.6h0M53.4 189.0h0M53.8 177.0h0M55.1 191.1h0M53.2 197.5h0M55.1 195.5h0M54.0 193.9h0M54.7 190.1h0M55.0 187.5h0M55.0 190.2h0M52.7 193.7h0M52.3 199.8h0M54.1 190.5h0M55.8 187.0h0M54.3 184.7h0M54.7 188.5h0M54.9 200.0h0M54.2 201.9h0M55.1 185.3h0M53.4 185.9h0M53.6 193.5h0M54.7 184.1h0M55.3 186.3h0M55.0 194.4h0M54.2 184.3h0M54.2 184.4h0M54.7 196.0h0M54.2 185.2h0M52.5 194.4h0M54.9 170.7h0M55.2 185.1h0M53.1 184.1h0M55.2 193.3h0M55.1 195.9h0M55.2 184.7h0M52.7 195.3h0M52.5 188.0h0M52.7 187.6h0M53.2 180.7h0M54.2 184.7h0M53.9 198.5h0M56.2 185.7h0M53.0 189.3h0M54.4 189.8h0M53.8 196.7h0M53.5 190.7h0M53.8 194.6h0M53.8 194.3h0M52.1 186.8h0M53.1 195.9h0M55.1 189.8h0M54.9 180.9h0M54.9 190.3h0M53.0 187.7h0M53.6 190.8h0M53.4 186.2h0M52.8 194.5h0M55.0 187.4h0M54.3 179.8h0M54.4 188.9h0M54.1 196.3h0M55.2 190.1h0M55.3 184.9h0M54.9 189.5h0M52.0 201.9h0M52.7 186.1h0M53.0 190.2h0M53.5 181.9h0M53.8 187.9h0M53.4 201.2h0M55.6 190.3h0M53.1 178.4h0M54.2 196.1h0M53.8 198.0h0M54.4 188.9h0M55.4 189.9h0M54.5 172.0h0M52.6 187.1h0M52.8 192.1h0M52.7 186.8h0M52.8 186.2h0M53.0 193.9h0M53.9 190.6h0M52.1 176.3h0M53.7 182.6h0M53.2 178.8h0M53.0 199.1h0M52.6 187.1h0M51.9 198.4h0M54.7 188.2h0M53.1 216.7h0M55.4 184.8h0M53.4 186.2h0M55.2 190.0h0M55.2 180.5h0M52.6 181.8h0M55.4 193.0h0M53.2 185.3h0M55.4 185.8h0M54.9 190.6h0M52.6 174.9h0M53.8 188.6h0M53.7 186.3h0M53.8 187.3h0M54.3 194.5h0M55.3 190.8h0M55.0 185.3h0M53.4 192.7h0M55.3 193.1h0M54.4 183.0h0M54.1 190.9h0M54.8 200.8h0M52.6 191.7h0M53.8 199.7h0M51.8 189.1h0M54.9 192.8h0M53.2 183.2h0M55.3 185.6h0M54.2 181.7h0M54.2 193.9h0M54.6 189.3h0M54.6 187.2h0M52.5 175.7h0M53.7 189.7h0M51.8 182.3h0M55.4 193.4h0M53.6 175.1h0M53.7 198.5h0M54.0 179.0h0M55.4 205.6h0M55.4 194.0h0M54.7 170.6h0M53.3 189.4h0M54.3 190.7h0M53.7 186.0h0M52.8 187.6h0M52.7 187.2h0M52.6 201.0h0M52.9 211.6h0M54.1 182.7h0M54.3 198.0h0M52.9 194.6h0M53.1 186.5h0M53.9 183.9h0M52.5 196.8h0M55.1 179.3h0M55.0 192.6h0M55.0 185.2h0M54.3 182.5h0M54.2 189.8h0M54.3 185.8h0M55.4 194.1h0M54.4 192.7h0M54.7 181.4h0M55.1 190.0h0M54.8 200.4h0M53.9 173.2h0M54.0 187.7h0M53.0 194.3h0M54.7 194.1h0M54.8 188.5h0M54.7 192.1h0M53.9 193.2h0M54.3 189.8h0M55.4 189.0h0M53.9 194.8h0M53.6 189.4h0M53.4 176.2h0M53.8 181.2h0M54.5 179.6h0M53.5 183.7h0M53.2 190.4h0M53.1 176.1h0M53.4 200.1h0M53.4 183.4h0M53.6 183.5h0M53.1 192.7h0M54.7 204.2h0M54.3 195.5h0M55.6 196.4h0M55.3 193.1h0M53.6 189.3h0M54.2 198.0h0M55.3 178.5h0M55.1 177.5h0M52.5 182.3h0M55.1 186.2h0M53.2 191.4h0M54.8 183.3h0M53.1 172.9h0M55.2 191.4h0M53.1 192.3h0M55.2 191.6h0M52.8 180.5h0M53.8 184.9h0M54.9 195.2h0M54.4 199.4h0M52.5 191.4h0M54.3 194.5h0M53.5 178.1h0M53.2 194.0h0M54.4 174.6h0M54.9 177.0h0M52.5 182.7h0M53.5 190.7h0" stroke="#000" stroke-width="1" stroke-linecap="round" opacity=".7" fill="none"/>
<path d="M54.8 180.6h0M54.7 168.1h0M55.9 183.3h0M53.9 188.4h0M55.0 194.7h0M52.9 187.8h0M53.1 188.5h0M55.2 190.7h0M54.5 197.7h0M54.5 184.8h0M53.1 188.7h0M54.0 174.9h0M52.5 188.1h0M55.2 174.3h0M53.6 204.8h0M53.9 189.9h0M55.4 191.4h0M53.7 188.9h0M54.4 188.4h0M54.1 183.9h0M52.8 187.4h0M53.9 178.9h0M52.5 198.1h0M53.7 195.2h0M56.2 189.0h0M53.6 180.2h0M55.4 187.1h0M54.6 192.9h0M55.1 182.0h0M54.8 198.7h0M54.4 185.5h0M53.8 195.4h0M53.6 192.0h0M52.9 193.2h0M53.2 193.6h0M55.0 189.7h0M53.1 195.1h0M53.6 187.0h0M53.5 198.0h0M54.7 194.4h0M55.2 193.5h0M54.9 197.0h0M53.1 187.6h0M53.5 187.4h0M54.0 176.8h0M54.5 202.0h0M54.5 184.2h0M54.6 208.1h0M52.6 192.7h0M54.6 184.1h0M55.0 183.3h0M54.0 196.5h0M52.7 193.3h0M54.7 195.1h0M54.2 190.3h0M53.3 176.9h0M52.8 200.2h0M55.0 195.9h0M54.5 185.0h0M54.0 196.5h0M55.0 186.6h0M55.4 191.1h0M54.7 183.7h0M54.8 194.0h0M55.0 184.8h0M53.4 188.4h0M52.0 188.7h0M52.7 192.3h0M54.8 203.9h0M53.2 203.3h0M53.5 196.2h0M53.3 184.9h0M53.6 190.8h0M53.8 186.2h0M52.9 192.3h0M54.5 193.1h0M54.3 181.5h0M55.2 186.3h0M54.7 176.1h0M54.8 188.3h0M55.5 181.4h0M55.0 180.9h0M54.7 176.9h0M53.3 189.4h0M53.3 183.0h0M52.1 181.9h0M55.1 185.4h0M53.1 178.2h0M52.8 190.3h0M55.0 186.6h0M52.5 176.1h0M54.4 198.2h0M52.5 187.4h0M54.2 189.2h0M53.0 193.0h0M53.9 194.9h0M52.3 200.2h0M53.1 193.9h0M55.3 186.7h0M54.3 175.2h0M55.3 181.3h0M54.2 183.8h0M55.4 204.8h0M54.1 179.5h0M52.1 189.1h0M54.6 185.6h0M54.4 199.0h0M53.8 189.0h0M54.3 193.5h0M52.8 190.2h0M54.5 184.8h0M53.4 181.8h0M53.6 185.8h0M53.8 195.6h0M52.9 192.7h0M54.9 177.2h0M52.5 191.5h0M55.0 193.3h0M54.3 192.5h0M55.3 202.7h0M53.0 183.9h0M52.8 191.0h0M52.6 201.0h0M53.5 194.6h0M54.9 185.0h0M53.8 177.0h0M52.6 186.4h0M54.8 194.5h0M54.4 193.5h0M54.2 193.7h0M53.0 184.8h0M54.3 190.6h0M55.4 190.8h0M53.9 188.7h0M55.2 188.4h0M53.7 197.7h0M55.2 188.6h0M53.6 187.1h0M55.9 177.6h0M52.6 179.3h0M54.9 202.7h0M54.7 179.7h0M52.3 178.3h0M55.1 185.4h0M53.1 187.9h0M54.2 192.1h0M53.8 178.7h0M55.2 182.5h0M54.6 195.7h0M53.6 208.5h0M53.5 188.7h0M55.5 194.0h0M54.7 186.7h0M53.8 187.6h0M54.1 196.1h0M52.8 196.9h0M52.9 187.8h0M52.7 175.6h0M53.2 183.3h0M54.3 176.1h0M55.0 194.5h0M52.8 188.0h0M54.6 181.1h0M52.9 188.6h0M53.5 172.1h0M53.5 194.7h0M55.6 189.2h0M55.0 188.6h0M53.7 181.0h0M55.1 206.8h0M53.0 182.4h0M53.4 187.2h0M53.2 191.8h0M55.5 197.4h0M52.9 183.4h0M54.7 193.1h0M54.1 192.2h0M54.4 193.5h0M55.1 204.0h0M52.7 176.2h0M53.3 193.1h0M55.2 196.7h0M54.1 193.1h0M54.1 196.3h0M54.6 197.4h0M55.0 177.2h0M56.1 183.3h0M53.1 197.6h0M54.9 195.1h0M54.6 179.2h0M54.4 179.2h0M55.4 189.9h0M55.0 185.6h0M53.8 197.9h0M53.3 194.3h0M54.1 177.8h0M54.0 187.8h0M53.2 185.5h0M53.2 184.7h0M54.1 183.4h0M56.0 192.9h0M53.6 180.6h0M55.2 192.0h0M52.8 182.9h0M54.2 185.5h0M53.1 186.1h0M54.9 191.9h0M54.5 196.8h0M52.9 190.5h0M54.6 197.7h0M55.4 185.3h0M55.4 183.8h0M53.0 181.8h0M53.1 180.5h0M53.3 176.1h0M53.1 188.2h0M55.2 189.5h0M52.7 189.2h0M53.4 185.2h0M53.3 196.8h0M55.0 197.9h0M54.9 192.0h0M54.1 196.1h0M51.8 199.7h0M53.5 197.5h0M53.9 180.8h0M53.0 183.9h0M52.6 194.2h0M52.0 192.1h0M53.4 195.8h0M54.2 198.8h0M54.3 191.7h0M54.4 187.9h0M53.9 192.5h0M52.8 178.0h0M53.4 174.5h0M54.3 177.8h0M54.6 181.7h0M53.5 191.8h0M53.5 191.4h0M54.4 204.2h0M52.9 198.0h0M54.7 185.6h0M54.0 202.6h0M54.6 177.6h0M54.6 191.3h0M54.9 177.4h0M53.8 192.6h0M55.0 193.7h0M54.4 189.4h0M54.8 181.5h0M54.1 180.1h0M53.1 191.3h0M54.4 184.1h0M52.7 194.2h0M53.1 188.4h0M55.0 192.4h0M55.4 183.3h0M54.1 190.9h0M53.7 186.6h0M54.9 193.8h0M55.0 186.8h0M51.8 196.6h0M54.2 187.7h0M53.5 199.5h0M54.4 190.7h0M55.1 195.7h0M53.2 184.7h0M52.6 190.0h0M53.4 185.9h0M55.4 203.3h0M54.4 182.4h0M52.6 191.4h0M54.2 200.8h0M54.8 186.5h0M55.5 187.2h0M55.5 185.1h0M54.7 186.6h0M55.1 191.7h0M54.2 183.6h0M55.3 199.5h0M54.1 182.7h0M54.5 182.5h0M54.5 191.2h0M55.2 196.8h0M52.6 184.1h0M54.0 190.0h0M53.5 196.8h0M53.2 185.4h0M53.1 188.0h0M54.6 186.9h0M55.3 191.5h0M53.5 186.0h0M53.9 189.1h0M52.5 185.3h0M52.6 210.8h0M55.2 183.1h0M54.5 185.4h0M54.8 187.6h0M53.6 177.3h0M55.2 193.4h0M56.2 172.8h0M52.2 190.5h0M52.5 207.1h0M54.0 190.1h0M52.9 186.9h0M52.6 187.6h0M54.4 181.1h0M54.4 186.1h0M55.2 193.3h0" stroke="#000" stroke-width="1" stroke-linecap="round" opacity=".7" fill="none"/>
<path d="M74.75 185.5V192M74.75 197.5V203M70.75 185.5h8M70.75 203h8" stroke="#8a8a8a" stroke-width=".5" fill="none"/>
<rect x="66.25" y="192" width="17" height="5.5" fill="#7f7f7f" stroke="#3a3a3a" stroke-width=".4"/>
<path d="M66.25 194.75H83.25" stroke="#000" stroke-width=".95"/>
<path d="M66.25 267.3H83.25" stroke="#3a3a3a" stroke-width="1.05"/>
<path d="M73.6 199.7h0M74.9 198.2h0M74.7 193.0h0M75.0 212.0h0M73.7 193.7h0M75.9 197.8h0M73.6 197.5h0M74.5 195.6h0M76.3 196.8h0M73.2 197.0h0M74.9 192.9h0M75.7 193.5h0M73.9 199.1h0M76.3 197.3h0M76.2 193.7h0M75.4 198.8h0M74.3 192.2h0M74.4 193.6h0M76.1 200.3h0M74.5 189.9h0M73.9 197.9h0M74.6 197.5h0M75.9 190.8h0M73.2 196.4h0M74.6 194.8h0M77.3 198.3h0M72.3 197.4h0M76.4 189.9h0M75.5 193.4h0M74.1 193.5h0M73.7 195.9h0M76.1 200.1h0M73.2 191.6h0M75.9 197.2h0M75.8 192.4h0M73.4 197.6h0M73.4 194.1h0M76.2 198.3h0M73.3 200.8h0M74.2 191.8h0M73.3 195.3h0M74.8 198.3h0M73.6 201.0h0M75.7 195.0h0M76.1 193.5h0M73.9 189.5h0M75.2 189.8h0M75.1 191.6h0M74.9 204.8h0M75.7 196.3h0M76.1 205.8h0M75.2 191.2h0M75.1 193.9h0M73.6 197.0h0M76.4 196.8h0M73.9 191.6h0M72.4 192.8h0M73.5 197.8h0M73.5 196.6h0M74.6 195.8h0M74.3 198.5h0M74.3 198.6h0M76.0 203.8h0M72.4 196.3h0M73.2 190.2h0M76.4 200.4h0M74.8 198.9h0M75.8 194.2h0M75.2 197.1h0M74.9 193.8h0M76.7 198.8h0M73.5 190.9h0M75.2 197.4h0M77.2 194.0h0M74.4 193.4h0" stroke="#000" stroke-width="1" stroke-linecap="round" opacity=".7" fill="none"/>
<path d="M73.9 197.6h0M76.3 198.7h0M73.5 188.3h0M72.3 190.5h0M76.4 189.3h0M74.5 191.1h0M75.6 185.5h0M73.1 194.6h0M74.3 191.0h0M75.6 195.7h0M73.2 189.7h0M75.8 197.6h0M73.4 194.3h0M75.6 200.1h0M73.1 199.4h0M73.2 191.7h0M76.2 197.5h0M73.6 198.6h0M73.7 198.0h0M75.8 196.6h0M74.9 199.8h0M74.4 192.1h0M74.0 196.8h0M74.4 193.8h0M74.7 195.6h0M77.3 192.6h0M74.0 190.3h0M76.0 190.9h0M73.4 190.8h0M76.0 192.3h0M73.3 199.3h0M74.8 197.3h0M73.9 193.7h0M74.7 193.0h0M74.4 195.5h0M73.7 193.4h0M73.6 188.4h0M75.1 196.9h0M74.8 195.9h0M74.8 195.9h0M74.2 197.2h0M75.4 196.3h0M75.1 192.7h0M74.5 196.3h0M73.4 189.8h0M73.5 190.8h0M75.9 195.2h0M75.9 189.0h0M72.3 193.7h0M75.8 195.5h0M72.3 190.8h0M75.2 196.1h0M73.2 193.4h0M75.2 196.9h0M74.7 193.8h0M73.1 193.3h0M76.3 196.6h0M74.2 191.0h0M73.5 194.5h0M75.8 188.0h0M76.2 215.0h0M75.4 193.8h0M74.8 192.8h0M73.3 196.9h0M75.7 195.6h0M75.4 192.6h0M74.3 191.6h0M75.1 196.3h0M74.0 198.7h0M76.1 194.1h0M74.1 197.7h0M75.8 195.1h0M73.5 198.3h0M73.3 193.9h0M73.3 183.9h0" stroke="#000" stroke-width="1" stroke-linecap="round" opacity=".7" fill="none"/>
<path d="M73.6 191.6h0M73.5 191.6h0M72.7 200.9h0M75.9 190.1h0M76.2 195.8h0M73.9 198.1h0M74.8 190.7h0M72.5 198.0h0M75.2 197.0h0M75.5 200.7h0M74.6 191.8h0M76.4 192.8h0M72.8 198.0h0M76.3 195.1h0M73.6 195.9h0M75.4 194.9h0M75.5 192.8h0M74.2 198.1h0M74.6 197.9h0M75.2 195.7h0M73.5 200.5h0M75.1 189.5h0M74.6 192.7h0M72.3 192.5h0M76.2 194.8h0M74.8 195.3h0M74.9 200.2h0M75.0 198.5h0M76.1 187.6h0M75.9 200.5h0M75.0 197.4h0M76.5 194.9h0M75.7 196.4h0M75.6 192.7h0M73.3 193.5h0M73.8 196.0h0M76.4 207.0h0M76.0 198.5h0M76.1 190.8h0M73.3 197.0h0M74.7 198.8h0M75.8 193.4h0M74.2 196.2h0M74.3 198.2h0M76.4 198.7h0M73.2 194.6h0M75.1 193.7h0M73.5 191.4h0M75.2 192.3h0M74.8 205.5h0M74.1 193.5h0M77.0 192.6h0M75.2 198.7h0M76.2 191.8h0M75.7 192.4h0M73.5 196.6h0M74.1 192.6h0M75.0 197.0h0M74.0 192.4h0M73.7 197.7h0M73.2 192.5h0M73.3 192.3h0M76.4 199.2h0M74.9 198.3h0M73.6 196.9h0M76.1 193.2h0M74.6 193.9h0M75.2 194.4h0M73.6 196.7h0M73.4 195.2h0M75.4 190.9h0M73.9 195.4h0M74.3 204.2h0M74.0 192.3h0M75.2 198.4h0" stroke="#000" stroke-width="1" stroke-linecap="round" opacity=".7" fill="none"/>
<path d="M116.5 176V188.75M116.5 197.5V209.75M112.5 176h8M112.5 209.75h8" stroke="#8a8a8a" stroke-width=".5" fill="none"/>
<rect x="108" y="188.75" width="17" height="8.75" fill="#fb6565" stroke="#5a2a2a" stroke-width=".4"/>
<path d="M108 193H125" stroke="#000" stroke-width="1.1"/>
<path d="M115.6 201.3h0M118.0 196.9h0M117.3 191.2h0M117.4 193.4h0M116.7 189.8h0M117.6 190.7h0M115.8 184.7h0M117.8 179.7h0M115.0 191.3h0M117.6 195.9h0M115.8 197.6h0M116.3 193.0h0M116.0 183.9h0M116.7 190.8h0M115.4 190.0h0M116.0 187.3h0M116.3 207.4h0M115.7 192.9h0M116.2 197.3h0M116.6 183.5h0M116.6 196.0h0M117.6 185.1h0M115.3 191.4h0M116.6 185.9h0M115.6 194.4h0M115.8 187.7h0M117.8 182.0h0M117.1 184.6h0M114.7 183.1h0M116.6 198.0h0M116.4 192.4h0M117.8 192.3h0M116.3 194.5h0M115.8 191.1h0M116.5 198.8h0M116.2 189.6h0M115.6 196.5h0M114.6 196.1h0M117.5 187.1h0M117.2 186.7h0M116.8 191.8h0M116.7 184.4h0M115.4 189.2h0M115.6 201.2h0M116.9 189.0h0M116.2 195.1h0M116.0 198.1h0M116.2 184.7h0M116.2 212.1h0M115.7 194.8h0M115.9 197.5h0M115.3 192.6h0M116.7 182.7h0M116.9 199.3h0M115.8 190.2h0M117.6 183.3h0M117.5 189.8h0M116.8 194.6h0M117.0 187.8h0M115.0 186.6h0M117.4 199.8h0M116.2 192.1h0M117.0 196.5h0M117.2 203.3h0M117.9 186.5h0M118.0 191.9h0M117.3 194.5h0M115.2 189.2h0M115.6 182.4h0M114.4 180.0h0M117.4 195.6h0M115.1 199.3h0M117.0 207.2h0M117.1 178.5h0M115.5 184.2h0M116.8 163.5h0M116.4 187.1h0M117.3 189.7h0M115.1 195.2h0M117.4 195.0h0M116.2 198.1h0M116.6 196.4h0M117.6 201.6h0M116.6 188.4h0M115.3 201.2h0M116.3 199.4h0M115.5 199.7h0M117.5 197.5h0M117.4 196.8h0M116.5 200.2h0M117.6 187.1h0M117.2 197.6h0M117.0 190.3h0M116.0 190.8h0M116.1 184.0h0M116.4 197.4h0M114.2 197.4h0M116.0 188.5h0M115.0 180.8h0M116.9 199.8h0M117.0 193.4h0M116.4 190.5h0M115.7 193.0h0M116.5 187.9h0M116.5 189.1h0M117.6 184.8h0M115.2 213.4h0M115.1 194.9h0M116.5 190.3h0M117.7 187.2h0M117.5 195.1h0M118.2 194.6h0M116.8 193.9h0M115.8 196.6h0M117.7 190.5h0M115.5 200.9h0M117.7 192.9h0M115.2 191.4h0M117.5 192.4h0M116.3 200.2h0M116.1 183.4h0M115.6 190.3h0M117.1 191.4h0M116.3 199.9h0M117.9 186.4h0M117.8 191.5h0M115.9 193.6h0M115.4 191.8h0M115.5 191.6h0M115.7 207.2h0M116.7 195.8h0M117.8 199.8h0M115.0 191.0h0M116.9 197.4h0M117.7 190.5h0M117.7 191.7h0M116.5 203.1h0M118.5 187.5h0M116.3 188.1h0M115.4 183.3h0M117.7 188.8h0M116.4 192.1h0M116.1 187.0h0M115.8 190.6h0M115.1 188.0h0M115.5 190.8h0M115.5 192.0h0M117.6 188.6h0M116.1 193.2h0M114.5 198.0h0M116.6 194.7h0M117.3 179.2h0M116.5 199.6h0M115.2 198.0h0M115.0 198.9h0M115.8 186.5h0M118.1 189.2h0M117.9 188.9h0M117.2 201.4h0M115.5 186.5h0M114.4 200.6h0M115.2 200.6h0M116.1 186.5h0M117.7 195.6h0M114.7 201.4h0M117.9 198.6h0M115.7 193.4h0M114.7 190.3h0M118.0 201.7h0M116.4 196.7h0M116.5 187.5h0M116.4 184.6h0M116.5 192.9h0M115.0 192.5h0M117.4 195.2h0M115.3 188.8h0M118.0 202.6h0M114.9 192.1h0M117.6 198.3h0M117.0 204.3h0M116.2 188.7h0M115.5 191.0h0M118.0 202.4h0M115.9 194.9h0M116.9 198.9h0M115.2 199.9h0M116.8 187.9h0M117.8 192.5h0M116.9 196.4h0M117.0 183.8h0M116.6 195.7h0M115.3 198.0h0M115.3 190.9h0M117.1 184.8h0M116.6 196.1h0M117.3 194.5h0M116.2 190.9h0M117.1 196.8h0M117.2 194.6h0M117.5 200.8h0" stroke="#000" stroke-width="1" stroke-linecap="round" opacity=".7" fill="none"/>
<path d="M117.0 181.0h0M115.9 200.4h0M116.1 192.9h0M118.4 183.5h0M115.8 203.6h0M116.5 200.2h0M117.8 193.5h0M115.0 182.2h0M116.8 189.5h0M116.2 200.2h0M118.6 192.2h0M116.6 178.7h0M116.5 198.9h0M116.9 192.8h0M116.7 195.2h0M114.5 194.9h0M115.1 200.8h0M116.0 196.1h0M114.9 188.1h0M117.7 192.8h0M115.1 184.6h0M117.5 195.3h0M116.9 199.2h0M116.6 193.3h0M115.7 189.2h0M115.1 192.6h0M115.0 199.7h0M115.9 188.7h0M114.4 178.3h0M116.5 195.7h0M115.1 194.2h0M116.4 199.2h0M117.2 197.2h0M115.8 189.8h0M115.9 201.9h0M115.8 202.1h0M115.6 188.0h0M115.2 192.1h0M115.1 200.3h0M116.2 201.6h0M115.9 189.6h0M117.2 192.2h0M118.4 196.1h0M116.1 200.9h0M115.8 188.6h0M115.9 189.5h0M116.1 193.3h0M116.7 203.3h0M116.1 193.9h0M117.5 191.5h0M117.6 199.2h0M115.1 194.6h0M117.4 193.1h0M116.5 192.4h0M117.2 193.5h0M115.7 199.4h0M116.9 189.0h0M117.5 203.7h0M117.3 199.7h0M117.5 200.6h0M116.3 190.4h0M118.0 187.4h0M116.7 188.2h0M116.7 189.0h0M115.9 199.3h0M117.1 195.1h0M117.6 200.5h0M114.4 207.5h0M117.0 200.6h0M116.0 214.1h0M117.3 196.7h0M115.7 193.2h0M115.7 190.8h0M118.6 200.0h0M117.0 204.2h0M115.5 186.4h0M116.2 204.1h0M117.0 193.4h0M116.6 198.0h0M116.1 202.0h0M116.8 184.4h0M115.1 195.2h0M115.0 193.3h0M116.4 193.8h0M115.3 176.6h0M117.0 185.3h0M117.0 189.8h0M116.5 193.0h0M117.1 203.1h0M116.2 197.5h0M117.4 197.9h0M115.1 197.5h0M116.4 198.0h0M117.8 197.3h0M117.6 190.7h0M118.0 182.9h0M117.8 195.6h0M116.2 184.1h0M117.4 188.7h0M116.3 190.2h0M116.6 201.1h0M115.4 191.6h0M115.6 200.9h0M116.0 193.9h0M116.7 195.8h0M117.1 191.8h0M115.7 184.1h0M115.2 185.5h0M115.6 204.8h0M118.6 194.6h0M115.8 196.3h0M117.1 189.1h0M118.5 198.5h0M116.4 210.6h0M117.5 180.5h0M115.4 192.0h0M115.5 197.7h0M116.9 196.3h0M116.2 202.7h0M116.5 196.5h0M115.5 187.9h0M116.3 200.1h0M117.9 195.3h0M115.8 193.5h0M115.6 186.2h0M116.0 190.1h0M115.4 181.1h0M116.1 196.7h0M117.8 191.9h0M115.6 195.7h0M115.3 188.1h0M116.7 188.3h0M116.9 190.1h0M117.3 190.2h0M115.6 196.9h0M117.5 195.7h0M115.7 192.6h0M117.0 181.5h0M115.3 191.6h0M115.5 197.6h0M116.3 197.2h0M117.9 183.0h0M115.6 198.3h0M117.5 190.6h0M116.2 203.2h0M114.9 213.9h0M115.9 193.3h0M116.8 187.2h0M117.6 197.5h0M116.6 198.8h0M117.9 187.9h0M116.6 189.9h0M117.9 195.5h0M116.9 188.4h0M117.1 202.9h0M115.6 199.4h0M117.2 198.4h0M117.4 194.3h0M115.6 187.0h0M117.3 191.7h0M116.9 192.7h0M117.1 206.8h0M115.6 188.9h0M114.5 202.3h0M118.0 194.4h0M115.9 194.0h0M117.7 183.6h0M116.4 195.3h0M118.3 192.1h0M117.4 193.9h0M116.8 190.0h0M117.3 189.3h0M115.9 192.9h0M117.5 191.3h0M116.0 186.2h0M116.1 195.9h0M118.3 186.5h0M117.6 177.7h0M117.9 195.8h0M115.7 192.9h0M116.7 173.5h0M116.8 194.0h0M115.4 189.4h0M115.4 191.4h0M115.6 199.3h0M117.2 189.6h0M116.1 185.8h0M114.8 192.8h0M117.5 196.1h0M115.5 188.9h0M117.4 198.9h0M117.0 190.4h0M116.4 190.5h0M117.9 193.7h0M117.7 189.6h0M116.3 194.6h0M115.1 192.9h0M115.3 192.5h0M117.3 195.5h0M117.0 198.4h0" stroke="#000" stroke-width="1" stroke-linecap="round" opacity=".7" fill="none"/>
<path d="M116.6 182.0h0M117.6 199.9h0M117.9 184.7h0M115.3 192.5h0M117.6 199.5h0M116.8 187.8h0M116.1 194.2h0M115.7 184.4h0M117.2 191.4h0M117.1 187.4h0M117.6 196.9h0M117.1 192.1h0M117.2 192.4h0M117.1 185.6h0M117.9 192.1h0M115.5 203.0h0M115.7 175.9h0M116.7 193.8h0M115.1 194.2h0M114.5 198.2h0M116.2 191.7h0M115.3 189.6h0M116.5 200.6h0M116.4 179.4h0M115.4 193.7h0M116.3 185.8h0M115.8 198.3h0M116.4 188.4h0M117.5 189.8h0M115.5 192.1h0M115.5 187.7h0M117.4 194.4h0M116.0 183.7h0M117.2 183.9h0M117.1 200.0h0M115.5 185.1h0M117.1 190.0h0M117.9 193.4h0M117.7 191.4h0M115.5 195.1h0M117.7 190.6h0M117.0 195.4h0M117.2 198.4h0M116.0 187.5h0M115.9 177.4h0M116.6 199.7h0M117.6 201.2h0M115.9 184.1h0M115.6 201.2h0M115.6 176.0h0M114.6 188.6h0M116.9 190.6h0M115.7 192.1h0M116.8 191.6h0M117.6 195.4h0M117.8 197.1h0M115.5 182.6h0M115.6 201.7h0M115.5 193.1h0M117.3 183.9h0M115.6 195.2h0M115.6 193.5h0M117.9 195.9h0M114.7 189.1h0M116.5 194.0h0M115.6 194.8h0M118.3 178.4h0M117.4 189.6h0M117.8 192.7h0M116.5 195.6h0M116.0 185.5h0M117.8 196.8h0M117.4 185.9h0M117.7 191.8h0M116.9 196.0h0M116.0 195.5h0M115.1 197.4h0M115.9 198.0h0M116.0 201.9h0M117.0 192.3h0M116.9 188.3h0M116.9 192.1h0M116.3 189.5h0M116.4 191.2h0M116.1 202.7h0M116.2 190.0h0M117.0 192.2h0M116.3 194.0h0M118.2 203.9h0M116.4 189.3h0M114.5 187.3h0M116.7 188.6h0M117.2 193.4h0M116.8 197.6h0M117.6 189.2h0M114.7 194.6h0M117.2 196.1h0M118.2 214.8h0M117.8 195.1h0M115.1 192.2h0M117.0 189.5h0M116.0 200.1h0M115.8 179.5h0M117.4 194.2h0M117.9 193.8h0M115.7 191.4h0M116.1 204.3h0M116.1 184.0h0M116.5 194.3h0M117.0 200.1h0M114.9 203.4h0M116.6 198.2h0M116.1 193.7h0M116.0 190.5h0M115.7 199.6h0M115.9 195.5h0M116.5 179.0h0M117.9 197.4h0M116.8 190.6h0M115.4 184.0h0M117.9 189.4h0M118.0 196.3h0M116.3 195.0h0M117.0 192.3h0M115.5 192.6h0M116.1 196.2h0M116.5 191.7h0M115.3 192.1h0M115.6 197.1h0M116.5 199.4h0M117.0 188.1h0M117.3 191.7h0M116.8 199.2h0M116.5 196.3h0M117.8 193.3h0M116.8 200.9h0M115.1 186.5h0M115.7 197.1h0M117.5 192.0h0M117.2 195.5h0M117.0 220.0h0M115.6 189.1h0M116.1 193.8h0M114.9 183.4h0M116.3 185.8h0M115.4 190.3h0M115.9 201.7h0M115.6 185.0h0M116.4 190.5h0M117.0 190.2h0M115.5 196.2h0M115.6 191.7h0M116.0 192.7h0M117.7 193.9h0M116.2 186.7h0M117.8 187.4h0M116.9 201.3h0M115.9 194.2h0M115.1 196.2h0M115.5 204.0h0M117.8 188.9h0M116.4 201.7h0M117.3 193.9h0M116.3 184.7h0M115.8 181.8h0M118.1 175.6h0M118.1 194.7h0M116.8 192.6h0M118.8 196.0h0M115.3 196.6h0M115.2 177.8h0M117.6 187.6h0M116.9 192.3h0M117.9 188.2h0M116.3 190.9h0M114.5 202.9h0M117.6 200.2h0M115.2 191.7h0M114.3 200.5h0M117.6 198.6h0M115.4 196.5h0M115.9 196.1h0M117.8 190.8h0M117.7 189.9h0M117.7 194.7h0M116.9 207.0h0M117.9 190.7h0M115.0 193.0h0M115.5 197.7h0M115.3 187.1h0M116.5 195.8h0M117.9 197.8h0M116.3 194.8h0M117.8 188.6h0M116.4 194.5h0M115.5 188.0h0M115.0 186.7h0M117.9 180.1h0M117.9 191.0h0M115.2 202.3h0" stroke="#000" stroke-width="1" stroke-linecap="round" opacity=".7" fill="none"/>
<path d="M137.25 183.25V188M137.25 192V197.25M133.25 183.25h8M133.25 197.25h8" stroke="#8a8a8a" stroke-width=".5" fill="none"/>
<rect x="128.75" y="188" width="17" height="4" fill="#7f7f7f" stroke="#3a3a3a" stroke-width=".4"/>
<path d="M128.75 190H145.75" stroke="#000" stroke-width=".95"/>
<circle cx="137.55" cy="267.3" r=".5" fill="#777"/>
<path d="M135.8 187.9h0M135.6 190.2h0M137.3 191.1h0M136.2 190.2h0M135.9 190.1h0M137.0 189.8h0M136.1 189.1h0M139.4 188.7h0M138.4 192.9h0M138.4 198.6h0M138.8 189.2h0M135.4 188.7h0M136.1 188.8h0M139.1 193.5h0M138.0 186.4h0M135.9 192.1h0M138.7 195.7h0M136.0 190.4h0M136.6 187.0h0M136.3 191.0h0M138.8 197.4h0M135.5 191.7h0M137.3 191.0h0M136.2 193.9h0M137.3 188.9h0M136.7 186.9h0M137.2 186.0h0M135.6 187.7h0M137.6 189.3h0M135.8 190.7h0M135.8 188.4h0M138.2 199.9h0M136.5 189.3h0M136.0 196.8h0M139.0 188.3h0M137.3 186.5h0M135.8 192.3h0M139.2 195.0h0M136.9 194.2h0M136.7 188.0h0M137.8 189.5h0M136.9 191.0h0M136.9 190.8h0M137.2 191.0h0M137.0 196.1h0M138.6 189.5h0M136.6 193.8h0M137.5 186.7h0M136.4 185.3h0M135.5 189.5h0M136.7 193.9h0M137.7 186.4h0M135.4 182.5h0M136.9 189.1h0M139.4 189.0h0M137.6 193.8h0M136.7 187.2h0M136.4 190.5h0M136.4 192.4h0M138.3 190.1h0M136.0 188.5h0M136.6 190.0h0M136.2 185.9h0M138.8 194.8h0M136.4 191.1h0M137.8 192.7h0M137.7 194.8h0M138.1 189.5h0M138.7 187.4h0M136.8 186.7h0M138.8 188.2h0M138.2 188.6h0M135.1 189.2h0M135.6 194.6h0M137.8 188.3h0M135.8 190.4h0M138.0 190.8h0M137.9 188.0h0M135.6 191.5h0" stroke="#000" stroke-width="1" stroke-linecap="round" opacity=".7" fill="none"/>
<path d="M135.6 193.6h0M135.5 187.3h0M136.2 192.2h0M135.7 189.9h0M137.6 192.6h0M138.5 190.3h0M137.8 185.9h0M136.9 188.0h0M137.1 188.2h0M137.6 188.3h0M138.8 187.9h0M138.0 188.6h0M138.6 191.7h0M135.0 191.9h0M137.1 189.9h0M136.5 193.4h0M138.4 191.3h0M138.9 188.1h0M138.8 186.5h0M138.8 191.4h0M137.2 187.5h0M138.3 192.8h0M136.9 191.3h0M138.5 190.3h0M136.8 193.5h0M136.3 191.6h0M135.8 187.5h0M138.0 194.7h0M135.9 193.9h0M137.5 191.3h0M137.0 188.6h0M138.6 187.1h0M137.4 190.8h0M137.1 185.5h0M135.8 187.8h0M136.3 189.0h0M136.4 223.0h0M136.1 194.4h0M136.1 190.7h0M137.3 190.6h0M136.6 193.4h0M136.1 190.1h0M136.2 190.7h0M136.6 193.3h0M137.0 193.5h0M136.9 189.0h0M137.2 187.5h0M136.6 190.8h0M137.7 190.6h0M134.9 186.5h0M138.3 192.6h0M138.6 194.0h0M136.7 192.5h0M137.4 187.2h0M137.2 188.3h0M137.9 191.6h0M136.8 187.1h0M136.6 189.7h0M136.7 189.1h0M137.5 182.7h0M137.1 193.0h0M137.5 188.4h0M137.8 185.1h0M135.6 191.2h0M136.2 193.3h0M139.4 235.5h0M137.1 187.8h0M136.2 188.1h0M135.6 191.0h0M137.7 188.7h0M138.7 190.6h0M137.5 194.5h0M139.2 192.3h0M137.5 190.2h0M135.7 187.6h0M138.4 191.5h0M138.9 193.3h0M138.5 191.3h0M138.0 189.2h0" stroke="#000" stroke-width="1" stroke-linecap="round" opacity=".7" fill="none"/>
<path d="M136.1 192.0h0M136.5 191.2h0M138.7 189.3h0M136.0 194.3h0M136.6 194.5h0M138.4 186.8h0M138.5 193.3h0M135.0 189.3h0M136.4 186.2h0M135.9 191.7h0M136.4 188.8h0M138.0 189.8h0M137.5 184.8h0M136.9 188.2h0M136.9 191.8h0M138.9 188.6h0M137.1 185.9h0M138.8 184.5h0M136.5 196.1h0M137.7 194.9h0M138.6 193.4h0M136.0 192.1h0M137.0 197.9h0M138.1 188.3h0M135.4 185.9h0M137.3 191.1h0M137.3 193.8h0M135.8 186.1h0M136.1 191.9h0M138.5 186.5h0M138.2 191.9h0M136.0 192.2h0M137.4 193.6h0M137.7 183.9h0M135.6 192.0h0M138.3 191.3h0M138.1 191.9h0M135.9 192.2h0M138.7 188.9h0M137.1 194.6h0M136.4 190.1h0M138.6 186.8h0M137.3 191.1h0M136.2 194.0h0M135.8 191.9h0M136.4 193.2h0M138.7 191.1h0M138.4 186.9h0M136.6 188.5h0M135.6 189.0h0M137.5 189.0h0M137.3 191.0h0M138.1 188.5h0M139.7 187.6h0M136.5 189.6h0M138.6 189.7h0M137.2 189.3h0M136.9 191.0h0M135.8 191.7h0M138.2 187.9h0M138.9 190.5h0M136.7 192.5h0M135.4 190.0h0M136.0 191.8h0M138.9 184.7h0M139.4 189.4h0M136.6 193.1h0M137.8 189.9h0M136.5 187.4h0M135.7 190.3h0M135.7 188.8h0M137.5 187.1h0M136.0 186.2h0M138.9 191.8h0M138.8 189.4h0M136.3 189.0h0M137.1 184.8h0M135.9 189.9h0M138.7 186.0h0" stroke="#000" stroke-width="1" stroke-linecap="round" opacity=".7" fill="none"/>
<path d="M54 164.75V160.6H62.17M66.58 160.6H74.75V180.5" stroke="#7c7c7c" stroke-width=".55" fill="none"/>
<circle cx="64.38" cy="160.5" r="1.05" fill="#f5323c"/>
<path d="M116.25 162.25V158.1H124.42M128.82 158.1H137V181.75" stroke="#7c7c7c" stroke-width=".55" fill="none"/>
<circle cx="126.62" cy="158" r="1.05" fill="#f5323c"/>
<path d="M28.1 154.2H163.1" stroke="#a6a6a6" stroke-width=".85"/>
<path d="M162.7 154.2V271.5" stroke="#a0a0a0" stroke-width=".85"/>
<path d="M28.1 271.5H163.1" stroke="#9c9c9c" stroke-width=".85"/>
<path d="M28.5 154.2V271.5" stroke="#a6a6a6" stroke-width=".85"/>
<path d="M64.4 271.5v2" stroke="#666" stroke-width=".6"/>
<path d="M126.4 271.5v2" stroke="#666" stroke-width=".6"/>
<path d="M28.5 174.25h-3.2" stroke="#808080" stroke-width=".6"/>
<text transform="translate(22.7 174.25) rotate(-90)" font-size="4" text-anchor="middle" fill="#111" stroke="#111" stroke-width=".1">8</text>
<path d="M28.5 197.5h-3.2" stroke="#808080" stroke-width=".6"/>
<text transform="translate(22.7 197.5) rotate(-90)" font-size="4" text-anchor="middle" fill="#111" stroke="#111" stroke-width=".1">6</text>
<path d="M28.5 221h-3.2" stroke="#808080" stroke-width=".6"/>
<text transform="translate(22.7 221) rotate(-90)" font-size="4" text-anchor="middle" fill="#111" stroke="#111" stroke-width=".1">4</text>
<path d="M28.5 244.25h-3.2" stroke="#808080" stroke-width=".6"/>
<text transform="translate(22.7 244.25) rotate(-90)" font-size="4" text-anchor="middle" fill="#111" stroke="#111" stroke-width=".1">2</text>
<path d="M28.5 267.4h-3.2" stroke="#808080" stroke-width=".6"/>
<text transform="translate(22.7 267.4) rotate(-90)" font-size="4" text-anchor="middle" fill="#111" stroke="#111" stroke-width=".1">0</text>
<text transform="translate(11.9 212.85) rotate(-90)" font-size="4.12" text-anchor="middle" fill="#111" stroke="#111" stroke-width=".1">Expression - log<tspan font-size="2.8" dy=".8">2</tspan><tspan dy="-.8">(TPM+1)</tspan></text>
<text x="64.4" y="279.9" font-size="4.05" text-anchor="middle" fill="#111" stroke="#111" stroke-width=".1">BRCA</text>
<text x="64.4" y="285.1" font-size="4" text-anchor="middle" fill="#111" stroke="#111" stroke-width=".1">(num(T)=1085; num(N)=291)</text>
<text x="126.4" y="279.9" font-size="4.05" text-anchor="middle" fill="#111" stroke="#111" stroke-width=".1">LUAD</text>
<text x="126.4" y="285.1" font-size="4" text-anchor="middle" fill="#111" stroke="#111" stroke-width=".1">(num(T)=483; num(N)=347)</text>
<text x="-0.7" y="173" font-size="23.7" font-weight="bold" fill="#000">e</text>
<path d="M227.75 170.5V190.5M227.75 204.5V224.25M223.75 170.5h8M223.75 224.25h8" stroke="#8a8a8a" stroke-width=".5" fill="none"/>
<rect x="219" y="190.5" width="17.5" height="14" fill="#fb6565" stroke="#5a2a2a" stroke-width=".4"/>
<path d="M219 196.75H236.5" stroke="#000" stroke-width="1.1"/>
<path d="M219 268.3H236.5" stroke="#3a3a3a" stroke-width="1.05"/>
<path d="M227.6 193.2h0M229.5 212.9h0M227.9 211.0h0M229.0 209.6h0M226.7 167.1h0M227.3 205.3h0M228.4 200.0h0M226.7 193.8h0M229.0 225.7h0M227.0 190.2h0M226.4 208.1h0M227.2 199.0h0M228.5 188.1h0M227.6 205.2h0M229.4 189.1h0M228.6 188.9h0M226.9 216.3h0M227.8 201.9h0M227.5 195.5h0M226.9 185.0h0M228.9 191.8h0M228.1 206.1h0M228.0 233.9h0M226.2 203.2h0M229.0 197.1h0M227.7 174.5h0M227.4 206.3h0M227.0 178.1h0M228.4 197.4h0M227.8 198.0h0M225.6 208.6h0M228.1 208.3h0M229.1 199.5h0M227.9 203.0h0M229.1 199.1h0M228.7 224.5h0M226.6 189.1h0M227.2 201.1h0M226.5 202.4h0M227.5 205.9h0M226.6 193.7h0M226.7 193.2h0M226.3 193.6h0M227.5 190.8h0M229.2 194.2h0M228.2 181.1h0M228.7 203.5h0M227.5 191.5h0M229.3 201.3h0M229.2 187.4h0M226.5 179.5h0M228.5 192.0h0M226.5 193.8h0M226.8 193.5h0M230.0 206.3h0M228.5 198.9h0M229.2 192.6h0M227.0 194.8h0M228.4 192.2h0M227.7 211.9h0M228.5 202.5h0M229.1 185.2h0M226.4 190.5h0M229.2 194.5h0M229.1 199.7h0M228.0 188.9h0M227.7 195.8h0M228.4 204.2h0M227.5 214.9h0M229.0 223.3h0M226.9 193.7h0M228.5 193.2h0M226.4 193.5h0M227.1 192.7h0M225.4 193.8h0M226.3 201.7h0M228.2 194.4h0M227.3 195.7h0M228.7 197.5h0M226.9 179.6h0M227.0 194.3h0M227.5 189.5h0M229.2 187.1h0M228.8 198.0h0M228.8 196.0h0M228.4 201.6h0M226.8 216.5h0M228.2 215.3h0M228.1 201.6h0M227.6 194.9h0M227.3 178.2h0M226.3 192.2h0M228.1 205.0h0M227.4 210.6h0M228.5 180.5h0M227.6 188.5h0M225.3 197.7h0M226.9 205.0h0M227.7 204.0h0M226.5 189.2h0M227.1 201.8h0M226.7 210.8h0M228.1 191.2h0M227.3 196.9h0M226.5 190.3h0M226.8 205.8h0M226.4 206.9h0M227.4 190.6h0M229.2 196.7h0M227.9 194.7h0M226.3 200.3h0M228.4 206.3h0M227.1 197.0h0M227.7 201.1h0M229.6 189.9h0M229.3 189.8h0M226.2 194.2h0M228.5 191.7h0M227.1 192.6h0M228.4 204.6h0M227.2 210.8h0M229.1 196.9h0M226.9 196.1h0M226.8 192.9h0M228.5 215.3h0M227.1 206.7h0M227.9 198.0h0M226.4 183.4h0M226.9 198.3h0M227.4 200.5h0M226.6 203.2h0M226.4 201.6h0M228.5 189.6h0M226.5 207.3h0M228.4 192.1h0M226.1 185.2h0M227.9 196.3h0M227.1 188.3h0M227.5 203.9h0M227.9 209.8h0M227.0 201.7h0M225.9 207.7h0M229.2 203.0h0M226.7 191.7h0M229.4 238.9h0M229.2 191.6h0M228.3 183.9h0M227.2 208.4h0M228.6 195.0h0M227.1 204.7h0M228.3 199.9h0M229.0 197.4h0M227.7 189.9h0M228.2 199.1h0M229.3 204.3h0M229.4 197.3h0M228.7 177.6h0M226.8 194.8h0M228.1 192.3h0M228.0 197.5h0M225.6 195.2h0M226.5 202.6h0M228.8 202.1h0M227.9 192.2h0M227.5 211.1h0M226.8 189.3h0M227.4 192.7h0M226.4 185.2h0M228.8 203.8h0M226.3 185.5h0M228.8 198.3h0M227.8 186.8h0M226.8 199.8h0M228.1 190.4h0M228.1 189.2h0M226.5 195.2h0M226.2 184.4h0M228.0 191.6h0M226.2 197.3h0M226.5 209.2h0M226.9 173.7h0M227.3 205.1h0M229.3 185.9h0M227.9 188.0h0M227.6 203.9h0M226.3 205.4h0M228.6 191.4h0M228.2 196.4h0M227.4 206.5h0M228.7 195.3h0M226.4 194.8h0M227.5 203.6h0M228.0 189.6h0M225.4 205.4h0M226.6 192.5h0M228.2 196.4h0M228.6 201.2h0M228.7 199.6h0M228.8 204.4h0M227.3 192.3h0M226.7 208.0h0M227.0 184.0h0M225.4 206.6h0M227.0 202.7h0M227.7 194.6h0M228.2 203.3h0M229.3 210.1h0M228.8 198.1h0M229.0 207.9h0M226.8 200.8h0M226.8 203.7h0M228.4 195.0h0M229.0 188.2h0M229.4 176.9h0M229.4 193.0h0M226.9 175.8h0M229.7 216.5h0M227.2 205.1h0M228.9 202.0h0M228.5 189.9h0M229.0 197.5h0M226.1 218.4h0M227.7 195.5h0M226.3 195.9h0M227.6 218.1h0M226.9 175.3h0M229.1 207.4h0M228.1 190.4h0M227.1 204.7h0M228.2 224.5h0M229.1 199.3h0M228.7 184.7h0M225.6 187.1h0M228.3 205.7h0M227.2 187.2h0M227.7 196.9h0M226.6 197.8h0M226.5 203.8h0M228.9 206.7h0M229.1 191.7h0M227.7 198.6h0M229.1 194.6h0M227.8 198.6h0M228.8 208.0h0M226.2 210.6h0M227.0 185.4h0M229.3 195.0h0M227.0 204.6h0M229.2 206.2h0M229.3 181.0h0M227.6 203.5h0M229.2 192.8h0M225.3 190.2h0M230.1 206.3h0M227.8 204.8h0M229.2 186.2h0M225.5 203.3h0M228.6 202.9h0M227.0 195.4h0M228.4 240.1h0M226.9 188.4h0M227.0 205.1h0M227.0 183.7h0M228.1 187.7h0M229.2 201.0h0M228.2 177.3h0M227.8 191.3h0M225.3 209.1h0M227.6 215.2h0M226.2 194.0h0" stroke="#000" stroke-width="1" stroke-linecap="round" opacity=".7" fill="none"/>
<path d="M228.6 194.7h0M226.7 193.3h0M226.9 193.2h0M229.1 210.2h0M227.6 200.5h0M229.0 194.3h0M228.0 178.8h0M227.2 224.7h0M226.5 211.9h0M229.3 209.7h0M225.3 195.4h0M227.2 194.5h0M226.9 200.5h0M228.6 200.6h0M227.2 183.3h0M227.2 192.3h0M229.6 201.4h0M225.3 204.4h0M227.4 176.5h0M227.6 190.8h0M229.7 198.7h0M227.9 195.9h0M225.9 192.6h0M227.8 195.2h0M227.1 201.0h0M227.5 190.4h0M226.2 195.4h0M228.2 183.9h0M229.3 204.4h0M229.1 203.8h0M228.7 208.7h0M226.8 175.5h0M227.7 187.1h0M227.5 193.8h0M228.0 199.9h0M226.4 201.3h0M227.4 185.1h0M227.3 195.7h0M229.2 190.5h0M227.4 217.9h0M228.9 212.3h0M226.2 198.5h0M228.4 217.5h0M226.2 219.2h0M226.4 180.6h0M226.7 196.1h0M227.6 207.4h0M228.1 200.5h0M225.8 171.5h0M227.0 184.1h0M229.1 189.7h0M227.1 207.7h0M226.9 194.4h0M228.9 198.4h0M228.1 200.6h0M227.2 204.0h0M230.2 208.7h0M229.3 183.1h0M229.2 184.3h0M227.7 203.7h0M228.2 183.7h0M226.3 207.4h0M226.6 187.8h0M227.8 200.0h0M227.7 198.9h0M226.4 188.4h0M228.6 191.0h0M227.4 211.8h0M227.2 185.1h0M228.9 183.9h0M227.9 181.2h0M229.2 185.0h0M228.8 202.4h0M227.8 207.6h0M227.5 195.2h0M225.8 206.7h0M227.6 190.9h0M228.3 208.3h0M226.8 205.0h0M228.9 189.8h0M226.4 189.9h0M228.7 196.7h0M226.4 201.3h0M229.0 206.0h0M229.0 191.0h0M226.9 186.9h0M228.8 191.0h0M227.2 185.9h0M226.3 202.2h0M228.0 191.9h0M226.7 191.2h0M227.3 206.8h0M226.4 200.9h0M227.4 201.9h0M226.5 195.4h0M229.0 203.7h0M226.4 210.3h0M227.1 202.4h0M225.7 193.7h0M227.7 182.6h0M227.9 192.3h0M226.9 209.2h0M228.7 196.3h0M228.9 197.9h0M229.1 183.4h0M227.6 195.9h0M227.4 196.8h0M226.8 182.9h0M228.9 208.5h0M228.9 195.3h0M228.6 201.2h0M227.2 183.1h0M227.9 192.8h0M229.6 202.5h0M227.0 206.7h0M228.2 202.1h0M226.8 183.8h0M227.2 188.7h0M226.6 199.2h0M227.2 215.3h0M228.3 195.8h0M226.1 191.5h0M228.1 201.2h0M228.4 192.0h0M227.7 183.2h0M227.2 184.7h0M226.9 220.9h0M228.4 190.3h0M226.8 203.3h0M228.8 207.7h0M226.1 209.2h0M228.7 181.5h0M228.8 176.9h0M228.2 199.7h0M227.1 182.5h0M228.4 202.2h0M227.8 199.7h0M227.6 193.2h0M229.3 181.5h0M229.2 201.6h0M228.7 192.5h0M228.1 233.9h0M226.3 219.9h0M227.5 188.9h0M226.8 198.6h0M227.9 204.0h0M228.6 195.2h0M228.0 199.9h0M227.6 184.5h0M226.5 202.5h0M226.2 198.7h0M227.4 184.2h0M227.9 199.3h0M228.1 189.3h0M228.7 201.8h0M227.4 203.6h0M229.0 188.6h0M227.7 199.5h0M228.8 198.3h0M226.5 201.4h0M227.8 194.2h0M227.1 190.6h0M225.4 185.9h0M228.4 187.1h0M228.6 214.5h0M228.0 200.7h0M226.2 203.6h0M228.0 183.4h0M226.2 200.6h0M225.6 207.4h0M226.3 192.2h0M227.3 196.4h0M229.0 206.2h0M226.5 183.7h0M228.4 208.9h0M226.3 195.1h0M226.5 187.1h0M227.4 186.0h0M228.3 182.3h0M228.7 193.8h0M226.0 203.5h0M228.4 205.2h0M226.2 200.8h0M228.5 196.5h0M228.5 208.4h0M226.9 181.8h0M228.7 188.9h0M226.9 204.7h0M226.3 201.2h0M227.5 203.7h0M228.9 197.9h0M228.1 199.7h0M227.0 202.3h0M226.6 212.5h0M226.2 206.9h0M226.6 214.6h0M226.6 188.9h0M229.5 181.7h0M228.5 211.1h0M226.3 190.8h0M228.3 195.2h0M227.2 202.0h0M226.5 190.3h0M225.9 190.7h0M225.7 184.0h0M228.0 179.7h0M227.4 207.1h0M228.0 228.7h0M228.8 198.0h0M228.6 198.6h0M228.7 204.8h0M229.0 190.3h0M226.9 209.3h0M227.2 182.7h0M226.6 183.3h0M226.2 212.7h0M227.2 208.6h0M229.4 201.6h0M228.9 186.7h0M227.5 211.7h0M226.6 190.8h0M226.4 190.7h0M228.5 200.1h0M228.7 201.6h0M227.9 189.9h0M229.2 206.8h0M228.0 197.4h0M228.5 191.3h0M227.3 195.8h0M227.7 191.5h0M228.1 185.8h0M228.7 196.8h0M228.3 174.9h0M227.7 206.0h0M227.8 205.4h0M229.4 195.8h0M228.3 192.1h0M226.3 194.8h0M227.5 193.6h0M229.1 194.2h0M229.3 196.5h0M226.7 200.1h0M228.4 203.9h0M228.5 197.8h0M228.6 188.8h0M227.5 193.6h0M228.9 196.6h0M227.2 215.3h0M228.2 176.6h0M228.6 194.2h0M227.3 193.3h0M226.4 212.0h0M226.5 192.3h0M226.4 199.2h0M227.1 197.9h0M228.9 209.6h0M227.4 216.8h0M227.6 190.0h0M226.6 199.2h0M227.4 179.8h0M226.0 203.4h0M226.9 183.9h0M228.8 202.4h0M228.6 186.3h0M228.2 206.3h0M230.2 189.7h0M228.3 209.8h0M227.6 180.7h0M229.2 188.0h0M227.1 202.4h0" stroke="#000" stroke-width="1" stroke-linecap="round" opacity=".7" fill="none"/>
<path d="M229.2 189.3h0M227.9 190.5h0M229.2 215.3h0M226.7 200.5h0M227.9 201.4h0M228.2 188.5h0M226.2 214.9h0M226.2 189.9h0M227.0 197.7h0M227.7 189.7h0M228.2 191.3h0M228.6 187.9h0M226.3 194.7h0M229.9 217.1h0M227.0 193.6h0M228.5 203.6h0M227.4 195.4h0M227.7 210.4h0M226.6 194.2h0M229.2 205.9h0M227.9 212.4h0M225.5 189.2h0M226.2 216.3h0M226.3 205.2h0M226.8 210.5h0M226.4 196.8h0M228.3 194.8h0M228.8 193.6h0M226.6 197.5h0M229.1 193.5h0M226.9 207.1h0M228.7 213.4h0M228.0 177.8h0M226.6 208.0h0M227.5 188.6h0M227.7 215.2h0M226.8 212.5h0M226.9 185.9h0M228.9 205.1h0M226.5 189.6h0M230.0 207.3h0M226.4 209.8h0M227.5 197.2h0M226.5 202.8h0M228.5 181.2h0M227.9 195.2h0M229.1 177.6h0M226.7 194.7h0M228.0 196.1h0M228.7 191.6h0M227.7 198.7h0M227.8 204.9h0M226.8 197.4h0M226.9 216.8h0M226.7 207.0h0M228.2 180.9h0M228.1 192.8h0M227.4 196.1h0M228.5 200.3h0M228.1 213.4h0M227.4 209.6h0M230.2 202.2h0M227.1 186.2h0M228.1 189.8h0M227.7 196.9h0M227.4 194.1h0M227.1 181.7h0M227.7 217.3h0M228.7 193.4h0M226.2 204.5h0M228.2 191.2h0M226.3 193.8h0M228.6 190.5h0M228.2 193.4h0M226.7 188.1h0M226.2 177.6h0M228.5 186.3h0M226.2 187.3h0M228.0 176.3h0M229.6 202.3h0M227.5 207.6h0M228.3 213.2h0M228.4 200.2h0M228.6 201.1h0M228.0 193.6h0M229.2 205.0h0M228.6 199.6h0M226.2 240.9h0M227.9 193.4h0M227.3 202.2h0M226.8 192.7h0M226.4 170.5h0M228.5 216.3h0M226.9 188.9h0M226.5 188.1h0M229.2 187.2h0M227.3 187.6h0M227.4 182.6h0M226.0 240.2h0M227.2 199.4h0M227.8 187.3h0M228.4 198.6h0M228.4 189.6h0M229.8 190.5h0M227.6 207.9h0M229.2 182.9h0M228.7 200.4h0M228.3 182.9h0M227.2 193.3h0M227.3 195.7h0M227.4 221.2h0M226.3 205.6h0M229.3 204.4h0M226.3 196.9h0M229.9 190.4h0M227.4 213.6h0M227.0 204.4h0M228.7 192.6h0M227.7 191.5h0M228.8 197.5h0M229.3 200.4h0M228.1 199.6h0M227.2 196.8h0M228.8 199.7h0M227.7 183.8h0M225.8 204.4h0M225.8 197.3h0M229.2 187.5h0M228.5 183.1h0M230.0 196.4h0M229.3 208.9h0M226.7 191.8h0M228.4 189.3h0M227.4 198.6h0M227.7 194.6h0M227.7 188.8h0M226.7 192.6h0M229.0 197.4h0M229.3 199.5h0M229.0 196.6h0M226.7 184.0h0M226.4 202.9h0M226.1 197.3h0M227.1 190.6h0M227.9 201.5h0M227.4 185.7h0M227.8 184.3h0M226.6 206.3h0M229.2 203.0h0M226.8 188.7h0M227.7 217.5h0M228.1 196.4h0M227.5 196.8h0M226.8 227.8h0M226.2 208.1h0M228.5 181.7h0M228.7 207.6h0M227.9 191.9h0M226.4 186.4h0M227.2 199.8h0M229.0 191.7h0M225.3 196.4h0M226.2 211.8h0M229.1 193.0h0M229.0 187.2h0M228.5 196.6h0M230.2 198.2h0M227.6 199.4h0M227.5 180.5h0M229.2 205.8h0M226.1 196.0h0M228.8 191.0h0M226.2 198.1h0M228.8 233.0h0M226.5 179.8h0M227.7 190.0h0M228.7 202.7h0M227.7 195.6h0M227.6 205.7h0M227.7 200.7h0M227.1 211.7h0M226.3 192.3h0M227.7 210.3h0M228.6 200.7h0M226.4 207.6h0M227.1 190.6h0M229.3 199.9h0M226.5 186.6h0M227.2 188.2h0M226.2 196.4h0M228.2 197.3h0M230.1 195.0h0M228.6 170.8h0M227.4 202.5h0M229.5 195.8h0M227.4 194.7h0M227.8 192.5h0M227.9 193.1h0M227.9 174.9h0M227.9 194.5h0M227.0 197.1h0M228.4 185.0h0M228.1 184.5h0M227.2 206.3h0M228.3 207.4h0M227.9 197.6h0M228.1 200.1h0M226.5 181.2h0M226.8 212.3h0M227.2 185.0h0M226.8 206.4h0M225.4 208.1h0M227.8 175.5h0M228.6 163.9h0M226.8 204.9h0M229.7 222.1h0M228.7 182.6h0M227.2 238.8h0M229.0 194.9h0M228.3 190.1h0M228.9 185.3h0M226.2 196.1h0M226.2 197.8h0M228.1 202.5h0M226.8 203.4h0M228.8 191.2h0M229.2 168.7h0M229.4 204.3h0M228.3 195.9h0M227.2 211.9h0M227.2 202.4h0M229.9 219.3h0M228.1 212.1h0M227.2 187.5h0M228.0 193.0h0M228.1 194.2h0M228.1 194.8h0M229.1 210.5h0M228.7 210.0h0M226.4 208.3h0M227.7 188.2h0M228.1 203.8h0M226.2 202.8h0M228.2 205.1h0M227.2 209.0h0M227.4 214.8h0M228.3 205.9h0M226.2 185.8h0M228.3 199.9h0M228.3 211.7h0M229.2 191.5h0M227.9 200.6h0M227.7 182.9h0M227.6 187.6h0M226.0 195.5h0M227.8 194.2h0M227.3 205.3h0M228.5 197.1h0M228.0 190.8h0M228.5 217.5h0M229.0 205.4h0M227.2 213.2h0M226.9 208.2h0M227.4 203.4h0M229.7 182.8h0M226.4 192.2h0M226.6 206.7h0M228.0 188.1h0M226.3 201.1h0M225.5 192.4h0" stroke="#000" stroke-width="1" stroke-linecap="round" opacity=".7" fill="none"/>
<path d="M248.88 172.25V189.25M248.88 201.5V215.5M244.88 172.25h8M244.88 215.5h8" stroke="#8a8a8a" stroke-width=".5" fill="none"/>
<rect x="240.25" y="189.25" width="17.25" height="12.25" fill="#7f7f7f" stroke="#3a3a3a" stroke-width=".4"/>
<path d="M240.25 194.5H257.5" stroke="#000" stroke-width=".95"/>
<path d="M240.25 268.3H257.5" stroke="#3a3a3a" stroke-width="1.05"/>
<path d="M247.2 193.2h0M250.2 198.1h0M248.7 203.9h0M248.4 198.4h0M248.9 223.0h0M248.9 203.1h0M248.8 196.3h0M248.4 219.0h0M247.4 198.5h0M246.2 198.7h0M249.3 190.9h0M247.4 210.7h0M250.0 204.4h0M250.2 205.2h0M249.6 188.1h0M247.5 214.2h0M248.0 206.8h0M249.9 188.5h0M250.5 210.4h0M248.0 195.3h0M250.7 193.3h0M250.5 190.5h0M249.6 202.4h0M250.2 189.2h0M247.0 187.0h0M247.6 200.5h0M249.3 200.4h0M248.6 205.2h0M249.1 177.0h0M246.8 181.6h0M247.2 188.4h0M249.6 191.9h0M249.9 195.0h0M249.5 209.5h0M250.5 192.7h0M248.2 196.5h0M249.1 197.1h0M248.7 186.1h0M250.1 197.2h0M248.9 198.8h0M249.4 189.8h0M249.6 213.2h0M247.2 193.4h0M251.2 185.7h0M249.2 193.2h0M250.1 182.6h0M250.2 193.2h0M249.5 201.4h0M248.5 184.2h0M249.6 204.6h0M250.7 189.4h0M247.5 192.0h0M248.8 191.8h0M249.5 197.4h0M247.1 182.0h0M250.5 196.1h0M248.7 191.9h0M247.0 181.4h0M250.0 187.1h0M249.4 207.3h0M249.2 193.1h0M250.6 190.1h0" stroke="#000" stroke-width="1" stroke-linecap="round" opacity=".7" fill="none"/>
<path d="M248.5 189.1h0M250.4 200.6h0M247.6 187.0h0M248.4 206.1h0M250.7 209.0h0M250.4 187.0h0M248.4 200.8h0M249.4 194.5h0M248.5 197.7h0M250.5 187.0h0M249.0 189.2h0M249.8 194.4h0M250.6 189.9h0M249.9 190.0h0M250.4 193.6h0M249.4 197.6h0M248.6 195.6h0M250.6 194.8h0M247.8 198.6h0M251.6 180.1h0M247.3 206.4h0M248.0 201.1h0M250.3 193.7h0M250.7 211.1h0M250.3 200.7h0M248.6 195.5h0M247.7 212.5h0M250.1 205.1h0M247.3 188.3h0M246.7 197.4h0M249.5 198.0h0M247.1 206.4h0M247.9 187.7h0M248.3 200.4h0M248.5 179.1h0M248.7 204.3h0M250.9 201.3h0M247.3 214.6h0M249.2 184.5h0M249.1 202.4h0M248.3 193.3h0M248.3 203.3h0M247.9 179.2h0M249.3 198.2h0M247.5 207.7h0M250.4 182.0h0M247.2 202.7h0M249.3 195.4h0M247.6 203.3h0M250.6 198.1h0M249.4 190.3h0M250.2 205.0h0M247.5 206.8h0M251.1 204.2h0M247.4 212.2h0M249.0 203.4h0M248.7 204.7h0M249.2 190.2h0M248.9 206.3h0M248.5 204.9h0M249.0 207.4h0M246.5 189.8h0" stroke="#000" stroke-width="1" stroke-linecap="round" opacity=".7" fill="none"/>
<path d="M249.0 188.1h0M248.2 203.6h0M248.7 190.4h0M248.3 197.0h0M248.4 203.0h0M249.5 200.2h0M247.8 183.8h0M250.5 179.8h0M248.8 194.5h0M249.5 187.9h0M248.3 203.2h0M247.4 191.4h0M250.6 194.3h0M250.3 204.1h0M249.1 199.9h0M248.1 206.1h0M248.7 199.9h0M249.5 192.7h0M250.7 190.2h0M248.4 187.9h0M247.5 191.3h0M249.9 200.5h0M248.5 205.3h0M248.0 204.3h0M249.0 183.9h0M249.9 187.9h0M250.9 181.4h0M249.0 187.4h0M250.2 211.5h0M247.0 190.0h0M249.5 197.7h0M248.1 201.4h0M248.3 190.0h0M249.7 195.5h0M247.2 201.8h0M249.6 209.6h0M249.4 188.3h0M250.6 190.2h0M250.6 178.2h0M248.2 198.9h0M248.9 194.6h0M247.8 198.8h0M248.1 186.7h0M249.7 203.2h0M248.5 188.3h0M247.4 204.6h0M249.6 187.3h0M249.1 201.7h0M247.3 209.1h0M248.9 208.2h0M247.4 196.4h0M248.2 201.7h0M251.7 183.6h0M247.9 189.3h0M250.1 200.2h0M247.0 190.2h0M247.1 188.5h0M249.4 209.5h0M248.8 187.5h0M249.2 199.1h0M248.6 192.6h0" stroke="#000" stroke-width="1" stroke-linecap="round" opacity=".7" fill="none"/>
<path d="M290.75 180.5V197.25M290.75 208.75V225.5M286.75 180.5h8M286.75 225.5h8" stroke="#8a8a8a" stroke-width=".5" fill="none"/>
<rect x="282" y="197.25" width="17.5" height="11.5" fill="#fb6565" stroke="#5a2a2a" stroke-width=".4"/>
<path d="M282 202.25H299.5" stroke="#000" stroke-width="1.1"/>
<path d="M290.3 201.6h0M291.4 195.4h0M289.0 203.5h0M289.2 202.3h0M289.2 214.4h0M288.3 203.4h0M291.7 206.7h0M291.6 183.4h0M292.1 190.7h0M291.5 204.4h0M289.2 208.9h0M291.8 200.3h0M291.7 198.2h0M291.8 194.4h0M291.8 219.4h0M291.4 215.1h0M290.9 199.5h0M291.4 201.0h0M290.7 200.7h0M289.0 207.6h0M289.8 209.3h0M289.7 206.1h0M289.8 220.6h0M289.4 203.7h0M290.8 189.9h0M291.7 228.7h0M291.5 199.6h0M289.3 210.9h0M288.6 206.3h0M289.5 200.9h0M292.1 198.0h0M291.3 192.4h0M290.7 217.0h0M290.0 205.6h0M292.0 210.4h0M291.5 195.0h0M290.4 196.8h0M289.7 202.7h0M290.6 204.7h0M291.2 211.3h0M291.4 201.1h0M292.2 218.6h0M289.7 178.5h0M289.4 217.7h0M289.9 196.9h0M291.8 198.7h0M293.0 204.1h0M292.3 209.3h0M289.9 199.0h0M290.9 203.7h0M291.2 227.4h0M291.9 190.1h0M291.7 202.4h0M291.5 192.8h0M292.3 209.9h0M290.6 198.7h0M291.6 193.2h0M289.8 200.7h0M289.7 209.0h0M290.6 207.0h0M289.6 196.0h0M291.6 196.6h0M291.4 200.3h0M292.6 200.7h0M291.4 200.0h0M290.0 206.6h0M291.9 197.5h0M291.4 194.4h0M289.8 199.1h0M292.3 212.5h0M290.1 209.6h0M292.4 194.2h0M290.1 200.8h0M289.5 212.0h0M290.8 200.3h0M291.3 199.7h0M291.7 205.9h0M290.8 216.6h0M291.3 211.7h0M290.2 198.6h0M290.3 191.7h0M290.4 199.1h0M292.2 186.8h0M292.3 198.3h0M292.0 209.5h0M292.1 197.1h0M291.3 202.1h0M291.5 202.7h0M289.5 208.3h0M290.9 197.1h0M289.3 224.3h0M290.6 214.1h0M292.0 202.2h0M290.7 203.5h0M291.9 210.9h0M292.3 189.9h0M290.0 212.6h0M289.5 212.1h0M289.3 202.0h0M290.8 198.2h0M291.5 206.2h0M289.2 200.6h0M290.2 203.4h0M289.4 191.2h0M289.9 197.2h0M290.0 205.8h0M290.5 209.3h0M290.3 213.3h0M290.0 197.7h0M290.2 196.4h0M291.1 203.2h0M289.5 195.1h0M293.1 201.9h0M289.2 184.6h0M290.2 220.1h0M291.2 204.0h0M290.4 193.3h0M289.7 207.5h0M291.6 197.1h0M290.5 191.2h0M290.0 225.9h0M291.9 204.9h0M291.8 200.6h0M292.7 203.7h0M291.3 207.8h0M289.9 217.1h0M292.2 208.7h0M291.7 202.0h0M290.1 203.7h0M290.1 200.5h0M289.4 194.9h0M292.1 195.5h0M290.6 186.4h0M290.3 192.8h0M291.7 211.3h0M290.9 217.8h0M291.3 200.1h0M290.3 198.8h0M289.9 198.3h0M289.5 205.1h0M292.4 207.8h0M290.4 209.4h0M293.0 213.0h0M291.4 207.1h0M288.5 203.7h0M293.1 193.8h0M289.7 208.2h0M290.3 194.3h0M288.8 203.8h0M289.7 199.3h0M289.8 200.9h0M292.1 207.4h0M291.0 205.1h0M291.8 199.7h0M288.5 209.7h0M293.1 196.9h0M289.6 209.1h0M289.9 201.8h0M290.7 198.3h0M289.9 197.4h0M292.2 201.3h0M291.6 196.1h0M290.0 202.9h0M290.3 200.5h0M290.2 205.5h0M290.7 204.9h0M292.8 208.8h0M291.1 211.3h0M289.2 202.4h0M290.4 192.5h0M290.1 203.8h0M291.3 199.3h0M292.4 192.7h0" stroke="#000" stroke-width="1" stroke-linecap="round" opacity=".7" fill="none"/>
<path d="M290.9 206.2h0M289.7 193.0h0M291.3 207.3h0M289.5 212.4h0M292.1 186.4h0M290.2 192.3h0M291.5 206.9h0M291.1 209.9h0M291.6 204.5h0M291.4 206.7h0M290.0 211.9h0M290.1 192.7h0M290.8 201.1h0M292.9 193.4h0M289.6 208.5h0M291.7 194.3h0M290.5 199.8h0M290.6 197.2h0M288.3 199.0h0M292.1 207.1h0M292.0 193.6h0M291.8 199.9h0M289.5 205.1h0M289.2 195.3h0M292.3 195.5h0M289.7 189.7h0M291.7 210.3h0M292.2 206.4h0M289.8 187.6h0M290.4 217.5h0M292.2 189.5h0M289.7 210.3h0M289.4 198.0h0M289.1 207.4h0M289.6 196.5h0M289.6 199.7h0M290.8 201.2h0M289.5 208.3h0M292.3 196.2h0M292.7 219.1h0M289.5 206.0h0M291.2 200.3h0M291.7 199.5h0M289.8 211.3h0M291.3 202.2h0M289.4 210.6h0M293.1 201.8h0M292.3 200.4h0M290.8 213.7h0M290.5 199.5h0M291.5 198.0h0M292.0 222.6h0M290.3 199.8h0M291.9 200.0h0M291.5 201.5h0M291.2 198.5h0M290.3 209.8h0M290.1 218.2h0M290.8 219.1h0M290.9 205.7h0M291.1 201.2h0M291.7 203.8h0M288.9 210.2h0M292.3 208.2h0M291.0 201.4h0M290.2 200.8h0M289.6 199.0h0M289.8 205.9h0M292.1 198.4h0M290.8 196.7h0M291.9 195.3h0M290.2 203.5h0M290.1 216.0h0M289.7 189.5h0M291.2 198.4h0M290.5 213.6h0M290.5 200.6h0M291.4 204.7h0M289.3 214.0h0M289.8 219.5h0M290.4 203.8h0M289.7 201.9h0M291.7 205.2h0M290.6 201.9h0M288.3 189.9h0M290.8 191.4h0M290.6 195.9h0M289.0 186.8h0M293.2 209.6h0M290.6 191.1h0M290.9 203.4h0M290.4 177.6h0M290.1 198.7h0M289.2 204.3h0M288.8 208.5h0M289.9 192.8h0M291.2 203.7h0M289.6 211.3h0M290.6 213.0h0M289.1 211.6h0M291.4 198.6h0M291.7 191.8h0M289.6 200.9h0M290.7 202.0h0M290.6 195.0h0M290.0 202.1h0M290.4 200.3h0M292.2 211.8h0M288.5 201.8h0M291.0 229.6h0M291.7 205.5h0M291.3 194.3h0M290.1 195.9h0M290.1 210.5h0M290.6 204.5h0M288.9 190.5h0M292.2 205.3h0M290.1 186.2h0M289.3 196.1h0M292.0 191.5h0M291.8 220.0h0M291.2 214.0h0M289.2 196.1h0M291.8 210.7h0M291.7 205.2h0M292.2 208.1h0M291.8 200.4h0M291.6 206.9h0M290.1 207.2h0M290.3 194.1h0M290.9 201.5h0M290.6 210.3h0M292.2 197.9h0M289.3 198.1h0M291.8 197.4h0M292.1 188.3h0M289.7 193.7h0M290.0 185.4h0M289.3 212.6h0M289.3 199.4h0M291.3 198.5h0M290.6 216.4h0M291.2 201.7h0M292.3 202.3h0M289.5 209.2h0M290.6 183.5h0M289.6 211.6h0M290.2 189.4h0M291.7 204.4h0M289.0 207.7h0M289.6 209.9h0M289.3 215.8h0M291.2 194.2h0M290.4 203.2h0M291.6 199.1h0M290.5 179.8h0M293.0 194.0h0M289.7 211.1h0M289.7 196.4h0M290.3 213.3h0M289.9 210.8h0M289.3 205.6h0M292.2 192.3h0M290.5 202.2h0M289.9 200.5h0M291.5 193.0h0M290.8 203.7h0M292.1 208.3h0M291.6 207.7h0M290.6 192.8h0M289.3 193.8h0M291.9 206.2h0M292.6 187.2h0" stroke="#000" stroke-width="1" stroke-linecap="round" opacity=".7" fill="none"/>
<path d="M291.7 198.9h0M292.1 197.4h0M288.4 209.4h0M290.6 194.6h0M292.0 214.4h0M289.3 210.3h0M290.5 195.9h0M292.2 192.9h0M289.5 206.0h0M290.7 212.7h0M292.3 206.9h0M291.1 194.7h0M292.2 201.7h0M289.2 216.5h0M292.3 199.4h0M291.7 188.1h0M290.9 194.8h0M289.4 216.4h0M291.2 200.2h0M291.7 223.7h0M290.5 200.2h0M292.1 192.3h0M291.0 211.2h0M292.2 201.1h0M291.3 198.0h0M292.9 199.7h0M289.9 201.2h0M289.8 193.8h0M289.4 200.0h0M291.6 199.1h0M291.2 191.5h0M290.7 191.7h0M289.5 208.7h0M290.3 204.5h0M289.3 186.4h0M291.6 224.3h0M290.7 200.3h0M289.9 214.5h0M291.9 209.5h0M292.1 187.5h0M291.5 201.5h0M292.1 196.9h0M289.2 196.5h0M291.3 180.8h0M291.2 199.2h0M289.4 201.2h0M289.7 209.3h0M288.8 200.4h0M290.7 192.2h0M290.7 213.1h0M290.2 185.0h0M289.8 211.0h0M292.1 201.6h0M292.1 213.4h0M289.9 206.1h0M290.8 199.0h0M290.3 205.5h0M290.4 199.3h0M291.8 212.9h0M292.8 214.7h0M291.9 211.9h0M290.4 208.5h0M289.6 187.4h0M290.2 195.5h0M293.1 199.6h0M291.4 188.1h0M292.1 187.9h0M292.4 206.6h0M292.1 184.9h0M291.6 199.2h0M290.4 210.8h0M289.9 209.4h0M290.5 222.9h0M290.9 186.9h0M291.0 189.0h0M292.3 175.2h0M292.8 198.4h0M289.9 206.3h0M290.2 204.7h0M292.2 208.8h0M291.5 213.5h0M291.3 203.3h0M290.8 194.9h0M290.1 198.9h0M292.1 219.5h0M289.2 199.0h0M289.4 199.2h0M290.8 209.9h0M291.5 202.7h0M291.3 215.7h0M292.5 216.9h0M291.6 206.0h0M290.4 198.3h0M291.9 203.4h0M290.5 199.8h0M292.4 194.8h0M291.4 191.8h0M291.1 204.0h0M291.7 197.5h0M290.8 205.8h0M290.4 202.5h0M291.3 211.6h0M292.1 214.7h0M291.2 204.8h0M292.9 200.4h0M289.3 193.9h0M292.3 212.4h0M291.7 208.2h0M292.7 219.7h0M290.4 219.0h0M289.5 203.2h0M290.5 207.3h0M291.2 198.8h0M291.4 200.3h0M290.3 213.2h0M291.5 199.5h0M291.7 207.0h0M289.4 200.9h0M292.3 209.6h0M290.6 207.6h0M291.7 209.8h0M289.1 183.8h0M289.5 208.8h0M291.2 220.5h0M290.9 204.6h0M289.5 186.5h0M291.6 214.5h0M292.4 193.7h0M292.8 193.2h0M289.2 204.3h0M290.6 217.7h0M289.9 212.8h0M290.2 192.8h0M291.7 191.1h0M290.9 208.7h0M292.3 199.8h0M289.3 197.3h0M290.7 212.2h0M289.1 225.9h0M292.2 205.8h0M291.3 209.6h0M290.1 206.2h0M290.4 236.2h0M289.5 204.5h0M291.6 199.2h0M289.3 210.8h0M291.8 197.8h0M291.2 195.5h0M288.7 209.4h0M289.7 203.5h0M290.4 196.1h0M290.0 199.6h0M290.3 204.5h0M291.9 215.1h0M289.8 209.6h0M291.2 210.3h0M289.8 189.3h0M289.7 208.2h0M290.6 201.8h0M290.3 198.0h0M289.6 213.5h0M290.0 206.4h0M289.7 206.4h0M291.7 200.8h0M290.9 195.1h0M289.2 203.2h0M290.8 201.2h0M290.7 204.7h0M290.2 209.3h0M290.7 214.5h0M289.3 196.7h0M289.8 199.9h0" stroke="#000" stroke-width="1" stroke-linecap="round" opacity=".7" fill="none"/>
<path d="M311.75 187.5V196.5M311.75 204.5V216.25M307.75 187.5h8M307.75 216.25h8" stroke="#8a8a8a" stroke-width=".5" fill="none"/>
<rect x="303" y="196.5" width="17.5" height="8" fill="#7f7f7f" stroke="#3a3a3a" stroke-width=".4"/>
<path d="M303 200.5H320.5" stroke="#000" stroke-width=".95"/>
<circle cx="312.05" cy="268.3" r=".5" fill="#777"/>
<path d="M312.9 195.7h0M311.2 211.5h0M312.4 209.1h0M313.4 201.8h0M311.7 194.2h0M312.6 191.2h0M310.6 199.3h0M313.5 199.5h0M313.1 196.8h0M311.6 204.0h0M312.9 213.1h0M313.0 196.6h0M312.4 192.1h0M313.3 207.5h0M313.1 189.2h0M311.6 203.8h0M312.8 205.3h0M310.2 207.4h0M314.6 205.0h0M312.1 195.1h0M310.1 193.7h0M309.0 201.8h0M312.4 206.4h0M312.4 198.9h0M313.5 196.0h0M312.0 210.4h0M313.6 204.7h0M312.9 196.9h0M312.7 205.0h0M310.1 194.8h0M313.3 207.2h0M313.9 195.0h0M312.7 195.5h0M311.6 214.8h0M313.6 196.9h0M311.2 200.3h0M312.2 207.5h0M311.1 199.4h0M309.9 188.0h0M313.4 207.0h0M312.5 197.0h0M310.0 213.1h0M310.2 192.6h0M312.9 209.8h0M311.1 186.9h0M313.0 200.6h0M313.2 204.4h0M314.1 213.8h0M312.7 204.8h0M312.1 202.3h0M313.3 198.9h0M312.4 194.3h0M309.9 209.7h0M312.5 199.5h0M312.2 202.1h0M310.0 203.3h0M313.2 203.9h0M312.9 201.0h0M311.3 191.9h0M311.1 211.9h0M313.3 193.0h0M312.1 198.7h0M314.5 208.5h0M310.3 210.1h0M313.6 194.0h0M313.2 193.3h0M313.3 197.9h0M312.8 213.3h0M310.9 202.9h0" stroke="#000" stroke-width="1" stroke-linecap="round" opacity=".7" fill="none"/>
<path d="M313.5 194.6h0M313.5 197.4h0M310.4 204.6h0M313.5 206.2h0M313.1 202.3h0M312.3 208.1h0M311.3 187.4h0M310.3 199.9h0M310.2 208.6h0M312.1 206.5h0M314.1 194.4h0M310.5 198.6h0M314.6 196.8h0M310.0 205.4h0M310.9 194.5h0M313.9 197.8h0M312.5 195.1h0M312.2 196.1h0M311.5 192.5h0M313.1 196.3h0M311.6 195.4h0M310.4 209.3h0M311.7 188.6h0M312.4 207.4h0M311.3 193.6h0M311.5 209.5h0M309.9 198.6h0M310.1 202.8h0M311.2 207.8h0M311.2 195.8h0M313.0 203.2h0M312.2 193.8h0M312.7 207.6h0M313.4 209.0h0M310.5 193.0h0M310.0 191.6h0M312.9 197.4h0M310.6 233.0h0M313.7 201.7h0M310.2 207.8h0M310.1 201.9h0M310.9 201.2h0M311.5 200.0h0M312.3 204.1h0M312.0 201.9h0M313.4 202.5h0M312.6 199.9h0M312.9 195.5h0M313.6 211.3h0M310.3 192.9h0M313.3 193.1h0M311.4 205.9h0M312.9 194.7h0M309.9 195.9h0M311.5 202.1h0M312.5 199.7h0M313.4 196.8h0M310.0 208.8h0M311.6 195.5h0M313.7 211.9h0M311.7 205.6h0M312.3 189.4h0M313.0 196.1h0M311.8 208.6h0M312.5 194.9h0M312.1 200.7h0M311.7 204.2h0M312.0 196.6h0" stroke="#000" stroke-width="1" stroke-linecap="round" opacity=".7" fill="none"/>
<path d="M313.1 201.8h0M310.7 196.3h0M310.3 207.3h0M310.0 200.0h0M311.7 196.9h0M311.8 221.5h0M310.7 197.6h0M313.5 194.9h0M313.3 208.6h0M310.4 210.9h0M310.9 200.0h0M310.4 195.4h0M312.8 210.6h0M312.6 194.8h0M311.2 204.3h0M314.4 190.7h0M310.6 195.2h0M313.3 201.0h0M311.4 196.1h0M310.9 205.9h0M313.4 203.7h0M312.7 205.7h0M310.8 195.9h0M310.9 191.2h0M312.0 211.7h0M311.8 199.4h0M312.7 202.5h0M311.6 201.6h0M312.9 203.7h0M313.4 207.1h0M312.6 195.3h0M310.8 204.1h0M312.5 199.1h0M309.6 217.4h0M310.9 196.8h0M311.1 198.0h0M313.6 197.5h0M314.5 207.0h0M312.0 197.6h0M310.0 197.4h0M311.0 205.2h0M313.3 195.3h0M312.7 200.7h0M313.2 200.3h0M310.6 196.1h0M309.3 205.9h0M310.8 195.2h0M313.0 202.2h0M312.5 203.9h0M312.2 197.3h0M311.2 207.9h0M312.3 201.5h0M311.0 201.3h0M310.1 210.4h0M310.7 206.7h0M310.6 198.0h0M313.3 186.2h0M312.6 195.0h0M310.1 198.3h0M310.6 208.3h0M310.2 204.6h0M313.2 213.0h0M311.6 211.3h0M311.0 189.6h0M310.0 212.4h0M311.3 202.7h0M310.6 199.7h0M310.8 205.3h0" stroke="#000" stroke-width="1" stroke-linecap="round" opacity=".7" fill="none"/>
<path d="M227.75 161.75V158.3H236.05M240.45 158.3H248.75V166.75" stroke="#7c7c7c" stroke-width=".55" fill="none"/>
<circle cx="238.25" cy="158.2" r="1.05" fill="#f5323c"/>
<path d="M290.75 173V169.6H298.93M303.32 169.6H311.5V181.75" stroke="#7c7c7c" stroke-width=".55" fill="none"/>
<circle cx="301.12" cy="169.5" r="1.05" fill="#f5323c"/>
<path d="M201.6 154.2H338.1" stroke="#a6a6a6" stroke-width=".85"/>
<path d="M337.7 154.2V272.6" stroke="#a0a0a0" stroke-width=".85"/>
<path d="M201.6 272.6H338.1" stroke="#9c9c9c" stroke-width=".85"/>
<path d="M202 154.2V272.6" stroke="#a6a6a6" stroke-width=".85"/>
<path d="M238.25 272.6v2" stroke="#666" stroke-width=".6"/>
<path d="M300.75 272.6v2" stroke="#666" stroke-width=".6"/>
<path d="M202 181.25h-3.2" stroke="#808080" stroke-width=".6"/>
<text transform="translate(197 181.25) rotate(-90)" font-size="4" text-anchor="middle" fill="#111" stroke="#111" stroke-width=".1">6</text>
<path d="M202 210.5h-3.2" stroke="#808080" stroke-width=".6"/>
<text transform="translate(197 210.5) rotate(-90)" font-size="4" text-anchor="middle" fill="#111" stroke="#111" stroke-width=".1">4</text>
<path d="M202 239.5h-3.2" stroke="#808080" stroke-width=".6"/>
<text transform="translate(197 239.5) rotate(-90)" font-size="4" text-anchor="middle" fill="#111" stroke="#111" stroke-width=".1">2</text>
<path d="M202 268.5h-3.2" stroke="#808080" stroke-width=".6"/>
<text transform="translate(197 268.5) rotate(-90)" font-size="4" text-anchor="middle" fill="#111" stroke="#111" stroke-width=".1">0</text>
<text transform="translate(185.8 213.4) rotate(-90)" font-size="4.12" text-anchor="middle" fill="#111" stroke="#111" stroke-width=".1">Expression - log<tspan font-size="2.8" dy=".8">2</tspan><tspan dy="-.8">(TPM+1)</tspan></text>
<text x="238.25" y="280.9" font-size="4.05" text-anchor="middle" fill="#111" stroke="#111" stroke-width=".1">BRCA</text>
<text x="238.25" y="286.1" font-size="4" text-anchor="middle" fill="#111" stroke="#111" stroke-width=".1">(num(T)=1085; num(N)=291)</text>
<text x="300.75" y="280.9" font-size="4.05" text-anchor="middle" fill="#111" stroke="#111" stroke-width=".1">LUAD</text>
<text x="300.75" y="286.1" font-size="4" text-anchor="middle" fill="#111" stroke="#111" stroke-width=".1">(num(T)=483; num(N)=347)</text>
<text x="172.6" y="173" font-size="23.7" font-weight="bold" fill="#000">f</text>
<path d="M402.62 180.5V207.25M402.62 225.75V250.5M398.62 180.5h8M398.62 250.5h8" stroke="#8a8a8a" stroke-width=".5" fill="none"/>
<rect x="394.25" y="207.25" width="16.75" height="18.5" fill="#fb6565" stroke="#5a2a2a" stroke-width=".4"/>
<path d="M394.25 216H411" stroke="#000" stroke-width="1.1"/>
<path d="M394.25 267.3H411" stroke="#3a3a3a" stroke-width="1.05"/>
<path d="M402.2 211.6h0M401.2 251.2h0M401.2 187.6h0M401.1 239.4h0M402.2 224.0h0M403.7 232.7h0M404.3 204.0h0M402.7 207.1h0M402.2 229.6h0M403.9 229.8h0M401.2 228.2h0M401.4 217.6h0M401.6 194.5h0M402.7 219.7h0M401.6 226.8h0M403.5 208.3h0M403.9 247.0h0M404.6 233.9h0M403.6 231.4h0M401.5 222.8h0M403.0 220.7h0M400.1 207.4h0M401.4 190.4h0M401.7 214.3h0M402.6 230.6h0M401.5 234.1h0M404.4 224.0h0M401.8 215.3h0M403.5 213.2h0M402.0 189.4h0M403.4 214.1h0M403.4 230.6h0M404.2 205.1h0M401.7 205.5h0M400.8 203.1h0M404.1 210.6h0M403.3 235.5h0M401.7 233.7h0M402.4 227.2h0M403.8 211.4h0M401.5 216.0h0M404.2 226.0h0M404.3 231.9h0M403.6 235.2h0M402.1 223.2h0M401.0 232.6h0M402.7 229.6h0M402.4 209.6h0M403.2 233.7h0M403.8 212.8h0M400.0 205.8h0M400.3 207.9h0M401.3 217.5h0M403.1 225.3h0M401.9 216.0h0M403.3 206.8h0M401.4 240.8h0M401.2 225.1h0M401.3 221.0h0M401.5 245.4h0M401.3 258.7h0M403.5 223.3h0M402.5 205.8h0M401.1 213.4h0M403.2 184.1h0M403.2 214.8h0M402.3 187.6h0M403.4 228.5h0M403.7 217.6h0M402.2 249.1h0M404.0 220.5h0M403.2 199.5h0M401.3 216.4h0M401.4 232.7h0M401.5 206.7h0M404.0 232.5h0M403.4 230.3h0M402.8 224.8h0M403.7 215.3h0M404.3 259.3h0M402.4 217.6h0M402.8 226.6h0M402.3 204.5h0M403.6 205.2h0M402.9 216.8h0M403.9 203.2h0M402.9 227.2h0M400.9 206.4h0M401.8 233.3h0M403.4 215.8h0M403.8 225.1h0M403.7 220.8h0M403.4 239.3h0M404.1 214.9h0M402.7 218.5h0M404.2 245.9h0M401.5 245.6h0M404.3 220.8h0M403.7 215.6h0M401.7 224.9h0M403.6 224.2h0M401.5 226.5h0M404.2 228.3h0M402.9 229.5h0M404.3 220.5h0M400.4 203.2h0M401.8 237.4h0M403.6 206.4h0M402.3 254.2h0M402.1 202.5h0M401.7 206.3h0M400.4 227.6h0M404.0 208.6h0M403.9 209.6h0M403.9 226.3h0M403.0 228.2h0M402.7 200.6h0M402.3 230.3h0M401.5 209.9h0M401.4 227.5h0M400.2 224.0h0M400.9 213.6h0M401.1 212.0h0M401.8 211.0h0M401.7 232.9h0M401.9 242.8h0M402.2 204.8h0M404.5 217.1h0M404.2 226.6h0M401.8 233.2h0M403.5 245.9h0M402.9 211.4h0M404.0 221.9h0M400.7 244.0h0M404.0 226.6h0M400.9 198.9h0M403.8 225.3h0M402.1 210.5h0M403.5 248.4h0M404.7 208.5h0M400.9 192.1h0M400.5 220.2h0M400.4 230.2h0M403.3 218.3h0M403.9 224.8h0M401.0 216.3h0M401.9 202.2h0M403.0 206.8h0M402.8 239.1h0M403.4 237.0h0M404.5 201.1h0M402.3 232.6h0M402.4 216.9h0M402.1 211.6h0M401.2 205.5h0M402.7 225.2h0M403.1 234.4h0M401.0 248.7h0M403.7 192.2h0M401.8 223.2h0M401.5 196.7h0M402.3 197.1h0M402.6 227.2h0M401.5 227.3h0M402.7 223.2h0M402.0 225.7h0M402.6 203.5h0M403.6 234.1h0M401.2 224.7h0M401.0 211.0h0M403.9 231.3h0M402.3 210.4h0M402.3 194.1h0M401.0 192.3h0M402.2 235.6h0M403.6 207.6h0M403.0 218.0h0M404.0 236.3h0M402.5 221.4h0M402.0 207.8h0M402.2 209.1h0M403.3 227.1h0M403.0 230.0h0M403.9 201.6h0M402.5 243.2h0M401.3 239.0h0M404.2 209.4h0M404.5 220.6h0M402.2 226.7h0M403.4 201.7h0M403.9 221.1h0M403.7 222.3h0M402.8 208.0h0M403.0 202.5h0M403.3 227.3h0M401.2 227.5h0M401.8 214.3h0M403.1 217.1h0M401.8 206.1h0M401.9 214.4h0M402.0 212.7h0M404.7 234.7h0M402.0 219.8h0M401.6 214.1h0M403.9 195.1h0M403.1 242.5h0M404.3 226.4h0M404.6 233.0h0M401.1 242.3h0M404.3 200.2h0M402.2 233.0h0M402.0 210.1h0M401.4 198.6h0M402.1 222.4h0M401.4 215.8h0M399.9 214.5h0M402.3 221.2h0M401.9 212.5h0M401.4 237.0h0M403.0 211.0h0M403.4 190.8h0M404.0 211.8h0M404.0 213.5h0M402.6 241.5h0M401.1 232.9h0M403.0 230.1h0M401.1 200.1h0M401.4 214.0h0M402.3 219.9h0M403.7 203.6h0M404.3 218.5h0M403.3 216.8h0M402.0 202.6h0M403.0 218.9h0M401.0 226.7h0M402.4 217.9h0M401.6 211.6h0M404.7 227.9h0M403.4 231.0h0M402.3 210.4h0M401.9 209.5h0M401.6 224.9h0M401.3 203.9h0M403.2 245.1h0M400.8 215.9h0M401.6 233.6h0M402.9 211.9h0M403.5 216.4h0M403.5 215.5h0M404.4 224.3h0M400.6 225.3h0M404.0 235.7h0M401.4 215.5h0M402.5 202.5h0M401.2 219.4h0M401.0 222.6h0M401.1 238.1h0M400.8 252.4h0M403.6 188.9h0M401.2 215.7h0M402.7 198.4h0M402.6 222.4h0M402.3 205.2h0M401.8 211.5h0M402.6 209.8h0M401.8 202.6h0M402.7 225.4h0M402.2 201.0h0M400.3 206.3h0M402.8 206.8h0M404.0 202.8h0M401.2 220.6h0M403.9 207.8h0M400.0 215.0h0M400.6 209.7h0M403.6 219.5h0M403.7 208.6h0M402.3 207.9h0M403.6 215.9h0M403.2 208.8h0M402.4 218.1h0M402.6 229.6h0M403.8 208.2h0M402.6 228.0h0M401.8 198.0h0M402.2 234.6h0M403.5 214.6h0M404.1 222.2h0M403.5 213.8h0M403.4 209.6h0M402.0 210.9h0M400.9 217.2h0" stroke="#000" stroke-width="1" stroke-linecap="round" opacity=".7" fill="none"/>
<path d="M403.4 206.8h0M404.3 208.0h0M402.3 239.0h0M402.2 213.1h0M403.0 241.8h0M404.0 229.5h0M401.2 205.6h0M401.3 216.6h0M404.4 249.5h0M402.4 223.5h0M403.4 195.7h0M400.4 209.9h0M401.7 212.2h0M402.3 231.2h0M401.7 215.1h0M403.5 193.6h0M402.7 221.3h0M403.5 201.0h0M400.3 213.2h0M402.9 202.3h0M403.2 214.6h0M404.0 201.0h0M402.5 204.1h0M400.7 238.6h0M402.7 231.0h0M404.3 209.5h0M401.7 189.3h0M404.4 234.5h0M400.9 219.2h0M405.2 196.4h0M403.2 206.7h0M403.3 234.3h0M403.5 196.8h0M402.8 215.7h0M401.7 222.0h0M400.7 232.1h0M403.8 228.8h0M401.1 201.5h0M403.3 227.4h0M403.5 199.2h0M403.1 213.7h0M403.4 214.1h0M402.1 232.4h0M403.2 221.0h0M401.8 216.2h0M403.1 201.5h0M403.9 216.4h0M403.5 221.0h0M401.9 187.2h0M402.6 233.7h0M404.4 241.6h0M403.4 191.5h0M402.3 210.5h0M402.5 238.2h0M403.8 236.9h0M403.9 214.8h0M400.9 202.9h0M401.1 221.2h0M401.9 239.5h0M403.0 215.7h0M401.1 244.4h0M403.7 191.3h0M402.8 222.4h0M401.5 218.1h0M401.4 205.5h0M400.9 203.6h0M402.4 225.5h0M403.9 249.1h0M403.6 207.1h0M402.7 226.5h0M403.2 224.3h0M405.2 202.9h0M401.1 210.1h0M401.9 235.2h0M401.7 185.4h0M402.0 216.8h0M404.1 213.5h0M404.1 199.2h0M402.6 166.5h0M402.0 244.7h0M402.2 206.9h0M403.3 209.2h0M401.1 197.0h0M402.0 184.4h0M401.2 219.5h0M402.8 211.9h0M403.7 234.7h0M403.7 245.6h0M400.9 220.3h0M404.1 240.5h0M404.2 222.2h0M401.5 202.4h0M401.8 227.9h0M404.3 235.2h0M401.9 209.0h0M403.3 217.3h0M404.1 246.5h0M400.7 234.7h0M404.3 209.7h0M401.1 238.8h0M400.8 226.9h0M400.9 224.4h0M403.4 180.2h0M402.6 223.7h0M401.7 224.5h0M400.8 243.1h0M402.3 226.4h0M400.0 216.9h0M403.4 227.9h0M401.7 245.8h0M403.7 191.2h0M404.7 232.7h0M402.2 212.8h0M402.8 234.1h0M401.7 219.4h0M400.6 197.0h0M402.0 220.4h0M402.8 235.7h0M402.5 212.4h0M403.4 202.6h0M404.5 241.9h0M402.4 227.9h0M401.7 219.8h0M401.3 211.3h0M402.7 215.2h0M402.3 198.3h0M402.6 209.8h0M402.9 220.7h0M401.5 213.2h0M403.4 208.5h0M404.6 215.1h0M401.8 207.7h0M401.8 225.4h0M401.1 217.5h0M402.9 242.5h0M403.9 214.5h0M403.0 214.8h0M403.4 205.7h0M402.0 236.5h0M404.3 212.2h0M402.3 196.3h0M404.6 234.6h0M403.8 218.0h0M402.5 214.8h0M403.0 199.3h0M401.8 220.6h0M403.1 237.0h0M402.9 200.2h0M404.4 200.1h0M403.0 211.7h0M404.9 210.0h0M401.1 240.4h0M401.9 215.0h0M403.6 215.1h0M403.5 229.2h0M402.5 205.7h0M404.3 190.5h0M402.1 237.7h0M403.6 200.8h0M403.9 212.9h0M402.9 245.3h0M403.9 191.0h0M400.9 219.2h0M404.2 209.4h0M402.8 215.4h0M402.9 228.0h0M402.0 217.6h0M401.5 210.5h0M402.1 218.3h0M403.6 198.5h0M403.9 214.2h0M403.7 231.5h0M402.7 238.5h0M401.2 238.4h0M403.1 201.8h0M401.8 209.7h0M404.4 221.6h0M401.5 207.1h0M404.1 201.9h0M404.2 227.8h0M404.0 185.5h0M401.2 211.4h0M403.8 219.5h0M403.3 192.2h0M401.3 212.5h0M403.6 224.8h0M402.7 199.0h0M404.7 217.8h0M401.5 222.2h0M400.6 254.2h0M401.3 235.6h0M402.2 203.1h0M401.3 233.7h0M401.9 200.4h0M403.5 230.6h0M404.0 223.9h0M401.1 189.2h0M403.7 223.4h0M402.7 242.5h0M401.8 222.9h0M403.6 227.2h0M401.5 239.3h0M404.1 220.7h0M403.6 220.6h0M403.4 197.3h0M404.0 214.1h0M401.1 243.0h0M402.0 209.7h0M405.3 231.3h0M402.8 214.2h0M403.4 224.8h0M401.4 200.5h0M401.2 233.3h0M404.2 208.6h0M403.4 227.9h0M404.4 224.1h0M403.9 231.3h0M403.5 225.4h0M404.0 224.7h0M401.6 218.8h0M402.4 235.1h0M401.7 207.5h0M403.1 238.7h0M403.4 226.8h0M401.2 207.1h0M402.2 221.4h0M402.9 207.4h0M402.2 208.5h0M400.9 210.7h0M402.0 233.0h0M402.2 239.5h0M403.3 229.3h0M401.7 220.0h0M400.8 204.2h0M403.0 227.5h0M401.1 226.7h0M404.2 223.8h0M401.1 241.2h0M400.7 226.5h0M401.0 234.0h0M401.1 209.3h0M401.5 214.0h0M401.9 227.4h0M402.0 214.1h0M401.1 223.2h0M403.6 212.2h0M403.1 210.7h0M403.8 219.2h0M401.6 201.4h0M403.3 237.5h0M402.1 178.0h0M404.3 231.9h0M402.2 233.0h0M402.4 224.0h0M401.0 202.9h0M401.7 245.5h0M401.6 217.4h0M403.7 188.0h0M404.0 230.2h0M403.0 223.6h0M401.5 225.7h0M402.0 223.8h0M403.7 228.1h0M400.3 207.5h0M401.6 220.5h0M404.3 211.5h0M402.3 239.8h0M402.8 192.0h0M402.0 198.1h0M402.1 243.4h0M402.2 216.7h0M402.5 215.3h0M402.6 207.0h0M404.2 205.7h0M401.0 218.5h0M403.8 227.2h0M402.6 210.3h0M402.9 226.2h0M401.6 181.7h0M404.0 196.3h0M401.2 207.7h0M402.8 196.3h0M402.6 221.0h0M401.5 221.8h0M402.6 205.3h0M401.3 213.8h0M401.1 234.2h0M401.4 208.3h0M401.0 204.5h0M401.8 233.9h0M402.0 232.3h0M404.8 227.5h0" stroke="#000" stroke-width="1" stroke-linecap="round" opacity=".7" fill="none"/>
<path d="M401.0 233.6h0M404.2 218.9h0M401.3 238.0h0M404.1 221.2h0M403.9 213.7h0M401.4 218.3h0M402.6 250.5h0M402.7 203.3h0M404.3 225.6h0M403.6 231.8h0M402.9 182.3h0M403.5 226.1h0M400.3 221.0h0M401.7 230.6h0M402.3 208.4h0M404.0 206.6h0M403.3 217.5h0M402.2 207.3h0M401.0 242.0h0M402.0 223.9h0M403.8 206.6h0M400.6 201.6h0M403.2 207.9h0M403.2 241.8h0M401.1 196.4h0M402.6 164.0h0M404.1 227.5h0M404.4 208.8h0M401.3 202.5h0M402.1 245.9h0M403.1 208.6h0M404.0 220.3h0M402.4 235.3h0M402.1 216.4h0M401.1 233.5h0M401.1 208.0h0M403.7 231.2h0M402.1 223.7h0M401.9 186.3h0M402.4 224.5h0M401.2 231.8h0M401.5 262.4h0M401.9 222.8h0M403.4 201.1h0M402.4 224.0h0M402.1 220.7h0M402.7 237.2h0M401.6 217.7h0M403.4 216.1h0M403.5 218.7h0M401.0 201.6h0M401.9 228.3h0M402.6 219.9h0M403.1 211.0h0M402.7 242.3h0M402.4 223.0h0M402.5 241.6h0M404.2 244.6h0M403.8 204.9h0M404.7 224.2h0M402.5 220.2h0M400.6 241.5h0M403.4 226.4h0M401.2 222.0h0M402.6 236.2h0M400.1 215.2h0M403.5 239.6h0M403.3 219.4h0M403.9 208.3h0M404.0 203.6h0M405.2 228.0h0M404.2 225.2h0M402.6 223.2h0M403.5 197.2h0M401.5 228.8h0M404.1 212.3h0M402.7 218.9h0M404.0 225.6h0M401.9 209.3h0M401.0 211.2h0M401.3 218.9h0M403.9 227.1h0M404.2 208.9h0M404.0 228.2h0M401.4 233.6h0M401.9 223.2h0M403.8 204.6h0M403.0 198.1h0M402.7 208.2h0M403.3 234.8h0M403.9 232.8h0M401.7 209.1h0M402.6 203.2h0M403.2 183.2h0M402.3 232.7h0M404.0 202.3h0M402.1 220.4h0M402.6 221.4h0M404.0 213.9h0M402.4 220.8h0M403.4 204.3h0M401.8 223.8h0M401.9 205.9h0M402.3 205.7h0M403.3 236.4h0M403.9 219.6h0M403.3 229.5h0M403.4 218.4h0M404.6 237.6h0M401.2 245.2h0M402.2 215.1h0M402.7 207.3h0M403.3 228.9h0M401.9 232.1h0M404.3 246.8h0M401.2 229.8h0M401.7 214.1h0M401.3 225.0h0M403.5 235.9h0M400.8 241.6h0M401.8 221.0h0M401.4 221.2h0M402.6 216.4h0M401.2 211.4h0M402.4 220.8h0M401.9 239.3h0M404.4 206.4h0M402.5 206.2h0M403.4 209.0h0M402.4 203.0h0M402.9 232.0h0M401.6 228.3h0M401.0 220.3h0M403.7 249.1h0M403.4 214.7h0M401.9 204.1h0M401.4 225.7h0M403.1 243.5h0M401.6 212.4h0M401.1 216.5h0M404.4 200.1h0M403.6 225.3h0M403.6 222.6h0M402.4 238.9h0M404.1 211.2h0M401.4 212.7h0M402.8 250.2h0M401.2 232.1h0M402.0 237.8h0M404.4 205.8h0M402.8 206.5h0M402.2 203.8h0M404.5 229.9h0M401.2 216.7h0M402.0 256.1h0M401.8 201.3h0M403.1 215.2h0M402.8 224.2h0M403.1 194.1h0M403.3 208.9h0M403.7 214.7h0M401.8 254.4h0M401.2 204.1h0M402.0 222.1h0M404.2 225.1h0M402.8 262.5h0M404.4 223.2h0M401.4 225.6h0M401.7 227.6h0M404.2 206.1h0M401.2 221.2h0M400.9 227.4h0M404.4 235.8h0M402.4 207.5h0M402.6 227.7h0M402.6 213.4h0M401.8 229.8h0M405.0 224.0h0M401.8 205.3h0M403.1 227.3h0M403.8 223.9h0M402.9 188.5h0M401.7 206.3h0M404.6 220.8h0M402.9 251.0h0M404.4 219.7h0M403.4 230.7h0M402.8 180.1h0M401.6 223.6h0M404.5 237.8h0M401.1 206.7h0M404.2 210.1h0M401.5 259.5h0M400.9 211.2h0M402.1 224.9h0M402.1 205.3h0M400.9 232.3h0M403.2 212.1h0M402.8 234.2h0M401.8 220.0h0M402.5 210.9h0M404.4 211.4h0M402.6 209.5h0M401.0 238.7h0M402.3 218.8h0M403.9 231.7h0M401.5 208.0h0M402.1 207.5h0M400.9 210.1h0M404.0 239.6h0M403.1 212.8h0M402.1 216.3h0M401.0 211.4h0M402.3 230.9h0M404.5 252.5h0M404.3 235.6h0M400.2 198.8h0M404.4 183.6h0M403.9 225.9h0M404.0 225.4h0M404.3 215.5h0M403.8 237.6h0M400.5 201.4h0M403.4 240.3h0M403.9 239.3h0M403.4 221.0h0M400.7 213.2h0M402.0 218.2h0M401.6 244.3h0M400.9 232.0h0M401.1 231.5h0M401.5 214.3h0M404.4 199.6h0M403.4 218.6h0M401.2 219.8h0M400.7 226.0h0M402.4 200.3h0M405.1 227.9h0M401.2 229.5h0M403.2 215.9h0M402.5 215.7h0M402.6 239.1h0M404.3 203.1h0M401.1 234.9h0M400.0 213.6h0M403.8 223.6h0M401.9 234.7h0M403.8 202.0h0M401.0 201.1h0M402.5 209.7h0M402.9 262.2h0M401.5 230.5h0M403.8 214.1h0M404.2 200.7h0M403.2 226.1h0M404.7 248.5h0M403.0 224.5h0M402.6 206.7h0M403.8 201.8h0M400.6 212.0h0M402.0 215.9h0M403.4 224.7h0M402.2 249.3h0M403.3 215.8h0M403.8 225.6h0M403.8 220.9h0M401.8 229.4h0M404.6 193.1h0M401.3 216.1h0M403.9 224.6h0M403.4 233.8h0M400.9 200.6h0M404.0 192.8h0M401.8 232.8h0M403.1 222.2h0M405.3 206.9h0M402.0 261.4h0M403.4 224.7h0M402.8 225.1h0M402.5 207.1h0M403.3 219.3h0M404.2 222.1h0M402.3 201.9h0M404.1 192.1h0M404.1 231.3h0M402.9 208.9h0M401.7 235.7h0M401.4 248.1h0M401.3 247.6h0M404.0 201.5h0M402.5 212.4h0" stroke="#000" stroke-width="1" stroke-linecap="round" opacity=".7" fill="none"/>
<path d="M423.5 175V195M423.5 208.75V224.25M419.5 175h8M419.5 224.25h8" stroke="#8a8a8a" stroke-width=".5" fill="none"/>
<rect x="415" y="195" width="17" height="13.75" fill="#7f7f7f" stroke="#3a3a3a" stroke-width=".4"/>
<path d="M415 201.25H432" stroke="#000" stroke-width=".95"/>
<path d="M415 267.3H432" stroke="#3a3a3a" stroke-width="1.05"/>
<path d="M423.1 209.2h0M423.3 195.3h0M424.0 212.5h0M422.6 202.4h0M422.8 199.9h0M423.0 220.2h0M423.7 205.8h0M423.1 196.2h0M424.0 197.6h0M424.3 234.0h0M423.2 191.9h0M424.8 202.4h0M421.5 211.6h0M422.4 198.1h0M424.2 203.2h0M423.8 231.0h0M422.9 190.2h0M422.5 217.1h0M423.0 194.9h0M420.9 218.3h0M422.4 189.9h0M424.5 199.0h0M420.5 195.4h0M423.6 204.9h0M422.2 211.9h0M421.5 198.1h0M423.6 218.8h0M425.3 190.5h0M424.2 206.5h0M426.2 196.2h0M425.4 206.6h0M423.8 199.5h0M421.7 201.8h0M426.4 195.3h0M423.1 215.1h0M423.4 187.4h0M423.9 197.0h0M422.6 198.2h0M424.5 213.3h0M424.7 196.6h0M422.3 202.2h0M422.2 190.7h0M424.3 241.0h0M426.4 202.0h0M421.5 184.9h0M421.3 192.3h0M425.4 170.4h0M423.1 184.7h0M423.1 199.0h0M424.9 191.7h0M421.8 194.0h0M425.0 195.4h0M421.8 201.7h0M425.6 202.1h0M423.1 210.6h0M422.8 206.9h0M422.8 215.2h0M423.2 198.4h0" stroke="#000" stroke-width="1" stroke-linecap="round" opacity=".7" fill="none"/>
<path d="M425.0 199.3h0M424.6 202.0h0M422.9 206.9h0M421.6 193.3h0M424.8 211.6h0M422.3 213.0h0M421.9 199.4h0M424.2 205.0h0M421.9 195.8h0M423.2 190.5h0M423.0 202.4h0M424.0 237.0h0M424.9 201.3h0M422.5 212.9h0M425.8 192.0h0M424.5 198.5h0M423.9 202.0h0M425.1 206.8h0M425.0 211.0h0M424.6 197.3h0M423.5 200.3h0M424.4 204.2h0M423.1 201.9h0M422.3 203.3h0M422.0 213.5h0M421.6 197.6h0M425.3 209.7h0M426.4 200.4h0M424.5 169.3h0M424.8 201.2h0M424.6 196.2h0M422.8 206.9h0M425.5 205.2h0M426.3 190.0h0M425.3 207.4h0M422.7 204.0h0M421.7 196.8h0M420.4 203.2h0M423.7 197.7h0M421.9 199.5h0M424.3 199.8h0M423.2 195.6h0M422.8 204.1h0M422.6 196.6h0M425.0 189.4h0M425.0 180.0h0M422.1 199.3h0M422.0 205.2h0M423.7 209.0h0M425.3 198.8h0M423.3 195.1h0M423.6 204.6h0M423.5 182.4h0M426.4 203.9h0M425.4 204.5h0M424.5 201.0h0M421.8 214.2h0" stroke="#000" stroke-width="1" stroke-linecap="round" opacity=".7" fill="none"/>
<path d="M421.6 204.8h0M424.3 169.4h0M422.2 197.0h0M422.9 199.3h0M422.6 193.8h0M424.7 214.2h0M423.6 204.3h0M426.5 209.9h0M422.4 192.0h0M423.0 215.2h0M424.4 190.5h0M423.6 211.3h0M423.4 189.9h0M422.9 205.6h0M424.5 198.6h0M422.3 195.3h0M426.5 207.9h0M424.7 219.7h0M423.4 192.8h0M424.4 196.6h0M424.5 218.7h0M424.9 197.9h0M423.9 191.7h0M423.0 208.2h0M421.5 195.0h0M423.7 209.2h0M423.1 203.3h0M422.5 199.4h0M420.8 206.1h0M423.5 202.4h0M421.5 203.6h0M424.3 196.9h0M425.0 207.6h0M421.9 208.8h0M423.3 206.9h0M422.5 194.1h0M423.6 187.4h0M421.8 209.0h0M425.3 207.0h0M425.7 194.1h0M421.2 217.3h0M423.8 180.7h0M426.4 191.4h0M422.2 188.6h0M422.2 207.6h0M422.1 198.3h0M424.7 212.4h0M422.7 198.7h0M423.2 204.3h0M425.4 199.7h0M423.3 195.6h0M421.6 216.8h0M422.1 197.4h0M420.6 214.6h0M422.4 197.7h0M424.1 188.9h0M423.9 205.4h0" stroke="#000" stroke-width="1" stroke-linecap="round" opacity=".7" fill="none"/>
<path d="M464.75 191.25V215.25M464.75 232.5V257.25M460.75 191.25h8M460.75 257.25h8" stroke="#8a8a8a" stroke-width=".5" fill="none"/>
<rect x="456.25" y="215.25" width="17" height="17.25" fill="#fb6565" stroke="#5a2a2a" stroke-width=".4"/>
<path d="M456.25 223H473.25" stroke="#000" stroke-width="1.1"/>
<path d="M466.4 230.1h0M463.6 225.4h0M463.9 223.6h0M463.3 245.7h0M465.4 237.0h0M466.3 209.6h0M464.7 220.5h0M466.5 235.3h0M465.2 218.9h0M464.0 232.9h0M464.3 205.5h0M465.7 253.5h0M464.2 230.6h0M465.8 216.8h0M463.3 253.4h0M465.1 249.7h0M462.2 214.0h0M466.1 208.9h0M464.8 233.9h0M464.3 213.3h0M463.3 228.4h0M463.2 244.3h0M465.4 210.6h0M463.4 247.2h0M464.8 219.1h0M465.5 198.3h0M466.0 231.2h0M466.7 252.9h0M464.1 216.2h0M463.4 220.8h0M467.4 229.8h0M463.8 236.7h0M466.1 239.4h0M465.3 234.2h0M463.5 219.6h0M465.1 231.8h0M463.8 210.3h0M467.4 226.0h0M465.5 217.9h0M465.1 217.2h0M465.8 232.6h0M465.5 229.5h0M464.5 229.0h0M465.8 209.5h0M466.3 223.6h0M463.8 241.8h0M465.1 244.8h0M464.1 232.8h0M465.0 227.1h0M464.3 250.0h0M466.3 218.6h0M464.7 233.7h0M463.4 213.3h0M462.8 225.5h0M465.0 218.5h0M463.2 253.2h0M463.8 216.4h0M464.0 228.4h0M465.2 217.5h0M465.2 219.9h0M463.3 249.0h0M464.1 236.3h0M464.4 208.5h0M466.3 215.5h0M465.4 196.2h0M466.4 246.4h0M463.6 226.9h0M463.5 202.0h0M463.9 256.2h0M465.4 217.6h0M465.5 209.9h0M466.0 241.6h0M466.4 249.1h0M464.8 216.4h0M463.1 223.8h0M466.0 226.8h0M465.6 222.0h0M463.1 228.7h0M463.3 235.3h0M467.3 205.3h0M463.7 224.2h0M465.6 212.3h0M463.7 204.0h0M463.5 213.9h0M463.2 208.6h0M466.7 206.4h0M464.1 243.3h0M464.4 225.3h0M463.6 242.6h0M467.1 236.9h0M466.1 226.3h0M462.4 216.5h0M466.3 187.2h0M466.7 250.7h0M465.6 226.9h0M464.1 223.2h0M464.0 222.3h0M465.3 241.1h0M465.1 213.8h0M462.8 241.1h0M465.0 247.9h0M466.0 248.2h0M464.7 216.0h0M463.0 207.4h0M464.3 236.0h0M466.4 197.2h0M463.2 228.0h0M466.0 219.8h0M466.0 202.9h0M466.3 231.1h0M464.8 216.6h0M464.4 226.2h0M463.6 226.1h0M463.5 226.4h0M464.8 215.3h0M464.2 225.9h0M465.4 222.8h0M464.2 214.6h0M465.7 213.3h0M463.4 222.4h0M465.4 214.3h0M465.1 239.1h0M463.8 204.9h0M462.1 221.9h0M465.5 190.7h0M464.0 209.1h0M466.2 230.8h0M464.2 221.4h0M466.4 219.0h0M463.4 213.7h0M465.0 232.6h0M464.8 237.5h0M464.0 222.7h0M465.7 232.3h0M464.9 234.2h0M463.7 210.8h0M463.1 218.8h0M462.2 209.0h0M465.4 222.1h0M465.1 249.6h0M462.9 245.9h0M463.6 254.3h0M464.7 217.0h0M465.9 199.9h0M464.2 223.1h0M463.5 219.0h0M464.5 223.4h0M464.0 242.0h0M464.8 235.9h0M466.8 232.9h0M465.6 211.8h0M464.6 220.7h0M465.0 226.8h0M463.4 216.2h0M465.6 221.1h0M466.2 233.1h0M466.5 216.2h0M466.3 211.3h0M465.9 207.8h0M465.3 244.0h0M466.8 237.5h0M465.6 236.7h0M463.7 247.2h0M463.1 239.2h0M466.1 220.9h0M466.4 246.2h0M463.3 213.6h0M464.3 207.5h0M464.7 222.6h0M462.3 213.4h0M465.7 216.1h0M464.3 219.9h0M466.8 253.7h0M464.8 209.6h0M463.2 220.1h0M464.0 220.6h0M465.6 241.0h0M464.6 235.7h0M465.7 211.7h0M465.3 246.5h0M466.2 222.4h0M464.5 222.4h0M465.4 222.5h0M464.0 234.3h0M464.4 221.7h0M464.9 228.0h0M463.0 219.4h0M464.6 230.0h0M466.4 192.4h0M466.2 226.5h0M466.8 248.8h0M466.3 233.6h0M465.8 220.1h0M464.0 241.3h0M465.5 211.6h0M465.4 219.0h0M463.8 245.9h0M464.7 236.7h0M465.6 242.1h0M463.3 230.7h0" stroke="#000" stroke-width="1" stroke-linecap="round" opacity=".7" fill="none"/>
<path d="M465.4 230.7h0M466.5 240.4h0M464.9 223.0h0M465.2 235.4h0M464.1 233.5h0M467.2 210.0h0M463.2 236.4h0M465.9 240.9h0M463.2 212.9h0M466.5 231.9h0M467.4 231.3h0M464.7 201.3h0M463.3 243.9h0M467.3 235.1h0M465.3 214.5h0M463.3 236.9h0M466.1 231.9h0M467.0 219.3h0M464.6 205.1h0M464.9 231.1h0M466.5 189.5h0M466.3 210.7h0M465.9 208.0h0M465.6 202.6h0M464.6 222.1h0M465.4 218.6h0M463.2 234.4h0M464.6 236.5h0M466.5 219.9h0M466.5 219.8h0M466.2 231.7h0M465.6 235.4h0M466.3 241.4h0M465.4 233.9h0M464.8 237.9h0M463.5 195.8h0M465.8 248.8h0M463.7 227.3h0M463.0 221.4h0M465.3 228.2h0M465.0 220.0h0M467.2 232.3h0M465.5 247.5h0M463.8 210.2h0M466.4 239.5h0M464.8 250.1h0M466.3 227.1h0M466.0 223.6h0M464.3 233.1h0M466.8 218.2h0M463.3 236.4h0M464.5 217.6h0M463.1 212.0h0M463.6 227.2h0M465.0 224.0h0M465.0 253.0h0M464.1 213.6h0M465.6 218.4h0M465.1 256.1h0M466.2 222.0h0M463.0 244.0h0M466.5 215.3h0M466.3 225.1h0M463.7 230.8h0M463.2 216.3h0M464.9 202.5h0M466.5 224.9h0M465.2 212.7h0M464.5 249.9h0M464.9 223.8h0M464.2 240.5h0M466.2 233.0h0M463.6 238.8h0M463.9 231.0h0M463.3 232.5h0M464.9 212.3h0M465.7 230.8h0M463.9 238.7h0M463.2 234.0h0M463.2 208.0h0M464.3 236.7h0M464.5 213.8h0M466.5 231.5h0M465.7 229.2h0M464.7 228.2h0M465.9 205.9h0M464.1 234.2h0M466.7 237.2h0M465.9 215.9h0M464.9 219.2h0M464.1 208.0h0M465.2 219.8h0M464.3 235.6h0M465.4 248.9h0M464.3 241.8h0M466.5 222.0h0M463.8 229.1h0M464.5 240.2h0M463.8 218.1h0M465.7 233.9h0M466.3 226.6h0M463.9 219.3h0M464.8 221.9h0M464.4 225.6h0M464.8 211.9h0M465.4 233.6h0M463.1 239.5h0M465.5 218.5h0M464.0 222.3h0M465.1 246.8h0M466.1 216.6h0M463.9 230.0h0M463.5 218.7h0M464.9 217.4h0M467.0 211.7h0M464.9 233.1h0M465.6 210.3h0M466.1 236.3h0M464.1 227.0h0M463.9 221.7h0M466.4 240.3h0M463.4 228.0h0M465.5 230.7h0M466.4 225.7h0M464.5 219.1h0M465.2 237.6h0M462.3 242.7h0M464.8 232.3h0M463.9 232.6h0M464.9 230.2h0M465.4 218.6h0M465.8 247.4h0M466.3 250.8h0M464.6 237.3h0M466.7 249.1h0M464.6 246.4h0M465.8 189.2h0M463.8 241.9h0M465.1 227.1h0M465.8 227.2h0M466.3 252.0h0M464.5 226.7h0M465.2 219.4h0M463.1 197.0h0M464.0 238.7h0M465.6 220.3h0M463.0 238.5h0M465.7 253.3h0M462.9 239.9h0M465.7 220.6h0M466.0 216.2h0M464.5 215.9h0M464.6 221.3h0M465.4 189.3h0M465.4 256.5h0M464.1 228.1h0M466.5 224.8h0M464.7 223.5h0M465.4 210.6h0M464.2 219.0h0M465.7 225.8h0M465.4 211.6h0M464.7 196.8h0M463.3 220.2h0M463.0 202.0h0M466.8 202.8h0M465.3 239.7h0M465.3 219.9h0M467.2 217.7h0M465.2 210.6h0M463.1 241.1h0M463.0 225.4h0M464.1 235.6h0M467.5 216.8h0M463.3 226.5h0M465.6 244.6h0M466.2 215.9h0M463.8 204.8h0M466.3 233.6h0M465.4 229.9h0M467.1 238.5h0M465.7 239.3h0M465.5 237.7h0M463.5 213.8h0M466.9 254.1h0M465.5 227.6h0M466.2 248.7h0M464.6 202.9h0M466.4 236.8h0M463.2 235.2h0M464.1 244.6h0M463.3 220.9h0M464.4 202.7h0M463.6 206.7h0M467.2 204.1h0M463.9 198.5h0M465.0 222.7h0M467.2 231.1h0M465.7 210.8h0M463.9 222.3h0" stroke="#000" stroke-width="1" stroke-linecap="round" opacity=".7" fill="none"/>
<path d="M464.0 208.2h0M463.6 232.8h0M466.1 208.0h0M465.8 234.0h0M463.6 220.1h0M465.5 226.8h0M466.3 228.3h0M463.2 231.7h0M463.0 238.6h0M463.9 238.6h0M464.6 218.0h0M463.6 217.1h0M463.5 223.5h0M466.2 212.7h0M466.3 238.4h0M465.1 218.6h0M465.7 218.4h0M466.4 205.9h0M463.3 243.5h0M463.3 243.9h0M466.5 248.6h0M464.4 223.3h0M465.3 240.5h0M465.7 214.0h0M464.6 203.7h0M466.3 214.0h0M464.9 224.3h0M464.7 250.4h0M463.5 212.0h0M464.6 229.3h0M464.6 202.3h0M463.3 248.3h0M464.0 225.0h0M463.0 231.9h0M465.9 216.9h0M464.6 223.4h0M465.5 211.7h0M464.3 227.3h0M464.6 249.6h0M463.0 217.9h0M465.9 230.4h0M463.7 222.1h0M466.8 224.4h0M462.8 229.6h0M466.0 239.2h0M464.4 244.8h0M464.2 201.3h0M464.6 211.9h0M465.4 235.1h0M465.2 205.2h0M465.8 225.6h0M465.1 243.3h0M465.9 236.5h0M464.2 219.3h0M463.1 230.0h0M465.5 218.4h0M463.6 245.7h0M463.3 240.6h0M463.7 224.9h0M465.2 254.4h0M465.3 213.5h0M463.7 215.6h0M464.7 230.8h0M465.2 242.3h0M464.5 207.6h0M463.1 216.5h0M464.4 234.6h0M466.3 226.4h0M466.3 246.4h0M464.7 218.0h0M464.5 229.9h0M463.3 241.6h0M463.7 206.5h0M463.7 218.1h0M464.2 205.8h0M466.2 235.4h0M464.0 239.4h0M466.4 219.3h0M465.7 244.5h0M464.8 213.0h0M466.2 223.7h0M464.8 243.8h0M465.7 217.1h0M463.1 234.5h0M463.7 207.9h0M463.4 251.6h0M465.3 236.3h0M463.1 218.4h0M466.0 220.4h0M463.7 234.2h0M464.1 209.2h0M463.8 241.2h0M463.3 210.6h0M465.8 220.3h0M463.1 222.7h0M466.1 217.6h0M465.0 208.6h0M464.5 231.7h0M464.2 250.3h0M463.7 210.9h0M464.8 216.7h0M463.6 215.1h0M466.3 212.3h0M462.8 232.5h0M465.4 212.8h0M463.1 241.5h0M463.7 239.3h0M464.6 225.6h0M467.5 242.8h0M463.8 223.0h0M464.8 252.8h0M465.2 232.5h0M465.9 226.4h0M463.2 222.2h0M463.7 228.2h0M463.5 220.2h0M463.6 235.4h0M464.9 207.5h0M463.2 215.2h0M464.1 228.7h0M463.8 214.1h0M466.2 208.6h0M465.1 227.2h0M464.4 240.5h0M466.3 246.3h0M465.3 220.8h0M465.1 221.4h0M464.9 236.2h0M463.0 209.4h0M466.0 232.9h0M464.7 210.7h0M466.4 254.5h0M463.6 209.9h0M466.3 216.3h0M463.8 218.0h0M463.2 250.5h0M463.7 230.9h0M464.8 211.2h0M466.0 214.9h0M466.0 248.6h0M464.3 216.5h0M466.4 237.9h0M467.5 206.2h0M465.6 197.5h0M463.3 210.3h0M463.6 219.4h0M465.0 188.9h0M464.1 217.0h0M464.6 229.1h0M466.4 208.6h0M465.7 215.4h0M463.8 249.0h0M463.3 238.5h0M463.4 215.0h0M463.2 207.0h0M465.0 227.0h0M465.7 207.5h0M465.1 249.8h0M466.5 238.1h0M464.5 214.0h0M464.5 237.9h0M466.4 206.7h0M465.7 221.8h0M465.9 217.9h0M464.2 211.7h0M464.9 246.7h0M466.3 241.1h0M463.6 237.1h0M465.7 224.9h0M465.4 234.5h0M465.1 230.6h0M464.3 251.2h0M463.0 237.9h0M464.8 228.1h0M466.2 227.3h0M465.6 238.7h0M464.8 219.6h0M465.1 219.3h0M463.9 201.1h0M465.2 213.1h0M463.6 206.7h0M462.1 211.2h0M466.0 229.1h0M465.2 209.2h0M465.3 223.4h0M463.7 224.3h0M462.5 217.6h0M464.1 209.7h0M463.6 205.9h0M465.7 238.5h0M464.8 242.4h0M465.6 251.4h0M464.9 233.8h0M466.0 225.6h0M466.0 228.5h0M466.3 231.9h0M463.9 208.7h0M465.7 239.9h0M464.8 232.6h0" stroke="#000" stroke-width="1" stroke-linecap="round" opacity=".7" fill="none"/>
<path d="M485.62 175.5V192M485.62 203.5V220.5M481.62 175.5h8M481.62 220.5h8" stroke="#8a8a8a" stroke-width=".5" fill="none"/>
<rect x="477.25" y="192" width="16.75" height="11.5" fill="#7f7f7f" stroke="#3a3a3a" stroke-width=".4"/>
<path d="M477.25 197.25H494" stroke="#000" stroke-width=".95"/>
<circle cx="485.93" cy="267.3" r=".5" fill="#777"/>
<path d="M485.1 198.4h0M488.3 191.1h0M486.4 200.6h0M484.1 206.2h0M485.2 190.4h0M486.8 190.9h0M484.3 198.6h0M486.7 202.3h0M486.7 191.0h0M484.8 207.1h0M484.2 192.6h0M486.3 211.5h0M486.3 202.0h0M485.4 194.6h0M487.0 196.2h0M486.0 187.3h0M484.4 175.2h0M486.4 198.7h0M485.4 194.5h0M487.0 200.4h0M485.3 191.0h0M488.6 182.5h0M484.3 195.1h0M487.5 199.8h0M484.5 197.6h0M484.3 198.4h0M485.9 187.4h0M486.4 202.6h0M486.4 204.0h0M486.3 205.4h0M487.7 188.0h0M486.6 187.2h0M486.5 190.6h0M488.6 199.6h0M486.1 191.8h0M484.9 178.3h0M486.2 200.7h0M483.8 190.6h0M486.2 195.1h0M486.3 203.0h0M484.8 194.8h0M484.9 211.1h0M484.7 195.0h0M485.7 212.8h0M483.9 222.5h0M484.6 203.1h0M487.4 191.2h0M485.4 196.0h0M486.0 194.3h0M484.8 188.9h0M484.4 181.4h0M486.5 203.6h0M486.8 191.1h0M484.3 191.7h0M485.3 196.3h0M483.6 199.6h0M484.5 202.5h0M487.1 205.7h0M484.3 204.2h0M487.9 213.7h0M483.9 194.9h0M484.3 193.6h0" stroke="#000" stroke-width="1" stroke-linecap="round" opacity=".7" fill="none"/>
<path d="M487.3 190.8h0M485.1 224.0h0M487.4 196.6h0M486.6 204.7h0M485.7 200.9h0M484.1 198.0h0M486.7 198.2h0M484.9 210.2h0M485.9 180.1h0M487.1 205.1h0M485.8 205.3h0M485.6 187.0h0M486.9 180.7h0M487.1 186.6h0M486.6 196.2h0M485.7 197.2h0M488.1 215.9h0M484.5 177.1h0M485.4 204.3h0M483.9 193.4h0M484.7 189.6h0M484.9 209.3h0M485.0 204.4h0M486.6 195.4h0M484.5 206.4h0M486.9 198.1h0M488.0 189.0h0M485.2 201.4h0M484.1 198.9h0M488.0 211.0h0M485.3 191.0h0M487.1 204.3h0M484.9 206.6h0M484.7 208.6h0M486.8 201.4h0M484.4 217.6h0M484.0 196.1h0M484.6 204.7h0M487.5 196.8h0M486.4 192.5h0M486.9 208.4h0M486.8 201.7h0M483.2 208.7h0M486.0 187.8h0M483.9 194.3h0M484.4 194.7h0M487.2 199.7h0M485.4 189.8h0M485.3 205.9h0M486.1 201.1h0M483.4 211.5h0M484.4 199.1h0M482.6 197.8h0M486.0 196.0h0M484.6 205.8h0M484.2 208.5h0M486.1 188.0h0M483.9 204.2h0M487.0 200.2h0M484.0 200.1h0M486.1 188.5h0M487.4 200.5h0" stroke="#000" stroke-width="1" stroke-linecap="round" opacity=".7" fill="none"/>
<path d="M483.7 209.1h0M485.2 192.5h0M486.7 191.7h0M484.9 196.9h0M485.4 194.6h0M484.1 192.6h0M488.5 190.8h0M488.0 198.4h0M484.6 182.4h0M485.0 192.9h0M483.2 175.5h0M483.9 194.1h0M485.9 197.2h0M487.4 187.9h0M487.2 193.5h0M484.3 200.3h0M484.3 193.0h0M484.3 202.2h0M487.1 206.7h0M485.5 193.9h0M484.7 200.1h0M486.0 206.7h0M485.7 205.0h0M487.0 199.8h0M486.1 193.9h0M487.1 194.0h0M486.8 222.2h0M482.8 193.4h0M486.1 203.4h0M484.4 207.4h0M487.2 197.9h0M483.7 190.2h0M486.9 190.0h0M487.6 186.5h0M484.4 212.8h0M487.0 195.7h0M487.2 197.3h0M484.5 192.4h0M484.2 201.9h0M486.9 183.6h0M484.0 196.3h0M486.8 200.4h0M487.5 194.5h0M487.3 206.6h0M486.9 191.2h0M484.2 192.5h0M487.2 207.1h0M485.2 201.3h0M484.5 227.4h0M484.4 208.0h0M485.5 191.4h0M485.1 197.1h0M483.6 195.6h0M485.8 202.5h0M484.6 190.0h0M486.5 190.1h0M484.9 192.2h0M486.4 195.8h0M484.9 203.0h0M483.6 204.6h0M483.5 207.6h0M486.7 207.0h0" stroke="#000" stroke-width="1" stroke-linecap="round" opacity=".7" fill="none"/>
<path d="M402.25 161.75V158.3H410.55M414.95 158.3H423.25V168" stroke="#7c7c7c" stroke-width=".55" fill="none"/>
<circle cx="412.75" cy="158.2" r="1.05" fill="#f5323c"/>
<path d="M464.75 185.5V167.4H473.05M477.45 167.4H485.75V171.75" stroke="#7c7c7c" stroke-width=".55" fill="none"/>
<circle cx="475.25" cy="167.3" r="1.05" fill="#f5323c"/>
<path d="M376.1 154.2H512.1" stroke="#a6a6a6" stroke-width=".85"/>
<path d="M511.7 154.2V271.5" stroke="#a0a0a0" stroke-width=".85"/>
<path d="M376.1 271.5H512.1" stroke="#9c9c9c" stroke-width=".85"/>
<path d="M376.5 154.2V271.5" stroke="#a6a6a6" stroke-width=".85"/>
<path d="M413 271.5v2" stroke="#666" stroke-width=".6"/>
<path d="M475 271.5v2" stroke="#666" stroke-width=".6"/>
<path d="M376.5 169.5h-3.2" stroke="#808080" stroke-width=".6"/>
<text transform="translate(371.4 169.5) rotate(-90)" font-size="4" text-anchor="middle" fill="#111" stroke="#111" stroke-width=".1">5</text>
<path d="M376.5 189h-3.2" stroke="#808080" stroke-width=".6"/>
<text transform="translate(371.4 189) rotate(-90)" font-size="4" text-anchor="middle" fill="#111" stroke="#111" stroke-width=".1">4</text>
<path d="M376.5 208.5h-3.2" stroke="#808080" stroke-width=".6"/>
<text transform="translate(371.4 208.5) rotate(-90)" font-size="4" text-anchor="middle" fill="#111" stroke="#111" stroke-width=".1">3</text>
<path d="M376.5 228h-3.2" stroke="#808080" stroke-width=".6"/>
<text transform="translate(371.4 228) rotate(-90)" font-size="4" text-anchor="middle" fill="#111" stroke="#111" stroke-width=".1">2</text>
<path d="M376.5 247.75h-3.2" stroke="#808080" stroke-width=".6"/>
<text transform="translate(371.4 247.75) rotate(-90)" font-size="4" text-anchor="middle" fill="#111" stroke="#111" stroke-width=".1">1</text>
<path d="M376.5 267.3h-3.2" stroke="#808080" stroke-width=".6"/>
<text transform="translate(371.4 267.3) rotate(-90)" font-size="4" text-anchor="middle" fill="#111" stroke="#111" stroke-width=".1">0</text>
<text transform="translate(360.8 212.85) rotate(-90)" font-size="4.12" text-anchor="middle" fill="#111" stroke="#111" stroke-width=".1">Expression - log<tspan font-size="2.8" dy=".8">2</tspan><tspan dy="-.8">(TPM+1)</tspan></text>
<text x="413" y="279.9" font-size="4.05" text-anchor="middle" fill="#111" stroke="#111" stroke-width=".1">BRCA</text>
<text x="413" y="285.1" font-size="4" text-anchor="middle" fill="#111" stroke="#111" stroke-width=".1">(num(T)=1085; num(N)=291)</text>
<text x="475" y="279.9" font-size="4.05" text-anchor="middle" fill="#111" stroke="#111" stroke-width=".1">LUAD</text>
<text x="475" y="285.1" font-size="4" text-anchor="middle" fill="#111" stroke="#111" stroke-width=".1">(num(T)=483; num(N)=347)</text>
<text x="345.1" y="173.2" font-size="23.7" font-weight="bold" fill="#000">g</text>
<path d="M575.88 163.5V188M575.88 226.75V267.3M571.88 163.5h8M571.88 267.3h8" stroke="#8a8a8a" stroke-width=".5" fill="none"/>
<rect x="567.25" y="188" width="17.25" height="38.75" fill="#fb6565" stroke="#5a2a2a" stroke-width=".4"/>
<path d="M567.25 201.25H584.5" stroke="#000" stroke-width="1.1"/>
<path d="M567.25 267.3H584.5" stroke="#2a2a2a" stroke-width="1.05"/>
<path d="M575.9 167.7h0M577.4 180.4h0M576.1 188.3h0M577.2 242.3h0M574.9 263.1h0M575.5 202.7h0M574.5 179.5h0M577.6 192.0h0M576.1 197.7h0M575.6 263.7h0M576.7 259.0h0M576.1 213.2h0M577.7 184.2h0M577.1 183.5h0M575.9 234.6h0M577.9 255.8h0M574.4 232.8h0M574.6 239.0h0M574.8 219.4h0M576.7 248.5h0M575.1 210.0h0M575.8 197.1h0M575.1 191.3h0M574.6 230.2h0M576.3 222.6h0M573.6 249.3h0M574.7 261.5h0M576.6 263.5h0M574.9 200.9h0M575.9 260.1h0M577.8 192.7h0M575.2 197.2h0M576.7 243.9h0M577.6 240.0h0M576.7 187.6h0M575.1 186.9h0M574.7 250.8h0M575.8 251.3h0M574.4 213.1h0M575.6 196.7h0M574.3 212.8h0M575.6 236.5h0M577.9 183.5h0M576.6 197.6h0M575.7 226.4h0M573.8 205.9h0M578.0 249.2h0M577.8 260.8h0M577.7 193.8h0M577.8 214.8h0M574.2 246.4h0M577.9 183.2h0M576.0 207.3h0M575.4 222.5h0M576.7 186.3h0M572.8 232.2h0M577.5 255.7h0M573.6 259.3h0M574.0 195.7h0M575.5 187.9h0M575.2 188.2h0M576.5 177.7h0M575.1 202.7h0M577.8 222.2h0M573.9 242.6h0M577.3 250.6h0M577.1 185.9h0M574.0 185.7h0M575.9 213.8h0M574.9 244.6h0M577.2 209.8h0M575.3 187.9h0M576.2 181.8h0M577.5 256.5h0M577.2 199.8h0M574.3 184.8h0M574.1 244.9h0M574.0 256.9h0M574.4 239.9h0M576.8 183.3h0M577.6 210.4h0M576.0 190.2h0M576.8 180.1h0M578.7 229.4h0M577.8 177.9h0M577.6 243.0h0M575.9 227.7h0M575.7 237.3h0M575.9 261.3h0M577.9 186.0h0M575.0 186.7h0M575.5 242.3h0M574.8 205.5h0M574.8 180.6h0M576.0 255.3h0M575.0 176.0h0M577.4 175.5h0M575.1 237.0h0M573.8 216.8h0M576.0 175.6h0M576.0 169.6h0M575.4 235.4h0M577.8 231.3h0M576.6 196.8h0M575.0 229.5h0M574.0 198.9h0M574.3 199.6h0M576.7 190.8h0M575.2 226.5h0M575.2 261.7h0M573.4 194.9h0M577.8 237.8h0M577.3 239.8h0M575.6 218.4h0M574.5 261.9h0M577.2 262.1h0M573.8 205.1h0M576.8 202.5h0M575.3 252.3h0M573.6 260.7h0M577.3 178.6h0M573.1 194.7h0M575.3 238.1h0M577.1 167.4h0M574.5 253.2h0M573.9 196.2h0M575.7 177.5h0M576.3 203.7h0M578.5 230.1h0M577.8 201.5h0M575.1 227.9h0M576.5 246.5h0M574.0 188.5h0M575.4 186.7h0M573.8 192.1h0M575.9 246.3h0M575.8 183.1h0M577.3 235.0h0M573.3 236.9h0M575.3 224.4h0M577.6 244.5h0M577.1 192.1h0M577.1 214.0h0M575.3 178.9h0M575.8 256.9h0M576.8 245.8h0M576.8 165.7h0M577.3 182.8h0M576.1 233.0h0M574.3 239.4h0M576.7 185.8h0M574.5 230.6h0M577.1 212.1h0M574.2 239.9h0M573.5 235.3h0M575.6 243.4h0M575.8 255.6h0M573.8 260.4h0M578.2 197.3h0M573.9 229.2h0M574.5 237.3h0M575.4 235.4h0M577.0 238.4h0M574.7 253.0h0M576.9 191.6h0M576.0 248.5h0M576.1 179.8h0M576.7 187.3h0M577.5 232.0h0M573.7 255.7h0M576.0 214.0h0M573.9 220.0h0M576.0 255.9h0M576.8 183.2h0M577.3 182.5h0M574.4 192.5h0M576.8 230.2h0M572.9 240.5h0M575.3 239.0h0M576.1 180.2h0M577.6 190.4h0M575.7 210.2h0M575.7 237.2h0M574.0 187.1h0M576.1 208.4h0M576.2 179.9h0M576.1 170.0h0M574.0 196.6h0M577.8 186.6h0M575.1 249.7h0M575.0 186.7h0M577.1 251.5h0M575.8 236.3h0M574.2 193.4h0M575.1 263.0h0M576.7 264.7h0M575.2 178.9h0M573.8 171.7h0M575.8 244.4h0M576.4 212.7h0M574.9 247.3h0M574.6 245.7h0M574.3 175.9h0M575.5 257.7h0M574.5 183.0h0M574.7 193.2h0M575.6 198.9h0M576.4 166.7h0M576.1 207.1h0M575.9 199.2h0M577.8 193.3h0M577.7 180.9h0M576.4 223.7h0M574.2 253.3h0M577.5 180.0h0M576.5 234.7h0M574.2 211.9h0M573.9 207.7h0M578.0 232.4h0M576.1 265.7h0M575.7 256.7h0M577.8 265.5h0M577.4 203.9h0M575.4 193.4h0M575.1 185.2h0M574.5 185.3h0M574.5 195.6h0M575.5 195.0h0M575.6 260.7h0M574.2 233.6h0M577.6 202.9h0M575.4 255.8h0M574.2 221.3h0M574.3 194.8h0M574.3 226.8h0M574.4 207.5h0M577.8 180.6h0M576.4 253.9h0M576.5 212.5h0M576.5 185.4h0M577.9 245.3h0M576.6 236.8h0M574.5 250.2h0M577.0 195.4h0M574.2 260.1h0M574.1 264.8h0M576.0 227.7h0M575.7 217.1h0M576.0 181.3h0M575.6 241.9h0M573.4 182.9h0M575.1 196.2h0M574.8 264.8h0M577.6 229.5h0M576.7 203.1h0M575.3 189.0h0M577.4 189.4h0M577.4 196.5h0M573.9 199.0h0M576.2 176.7h0M573.9 208.2h0M578.4 231.5h0M576.7 244.6h0M573.9 237.0h0M573.6 193.9h0M577.9 203.6h0M574.2 190.4h0M575.9 202.5h0M576.1 227.7h0M574.5 170.6h0M577.7 225.9h0M575.4 239.1h0M575.4 259.6h0M574.1 250.9h0M575.1 182.3h0M574.7 183.6h0M577.0 191.7h0M577.0 191.6h0M574.9 195.7h0M577.8 243.2h0M575.0 241.4h0M574.4 182.5h0M575.6 225.5h0M574.8 223.8h0M574.9 254.7h0M574.6 244.5h0M577.4 177.9h0M577.9 258.3h0M577.3 200.6h0M575.5 227.3h0M574.9 190.7h0M574.8 168.9h0M577.4 262.1h0M576.5 205.1h0M574.9 179.5h0M575.6 253.9h0M575.6 206.8h0M576.5 182.6h0M576.7 194.0h0M576.9 195.8h0M575.3 181.1h0M576.4 185.6h0M575.3 253.6h0M574.6 241.6h0M575.3 165.6h0M575.0 227.6h0M574.9 234.4h0M574.5 264.3h0M575.6 211.1h0M574.0 192.6h0M574.2 217.1h0M575.2 180.6h0M577.2 196.8h0M574.3 232.6h0M577.2 222.7h0M574.2 235.9h0M573.7 250.5h0" stroke="#000" stroke-width="1" stroke-linecap="round" opacity=".7" fill="none"/>
<path d="M576.6 200.7h0M576.2 196.4h0M573.9 188.3h0M577.2 208.8h0M576.9 201.4h0M576.2 177.0h0M574.0 197.8h0M578.2 231.1h0M577.7 187.7h0M577.5 256.4h0M576.8 233.8h0M576.5 265.7h0M574.2 211.5h0M575.7 184.0h0M575.0 239.9h0M576.3 252.1h0M574.9 213.2h0M574.7 195.0h0M574.7 258.1h0M574.7 185.0h0M576.1 233.6h0M577.9 194.8h0M577.4 178.7h0M575.6 197.2h0M576.4 181.3h0M576.1 216.7h0M577.5 191.0h0M575.4 256.1h0M573.5 231.7h0M574.6 243.1h0M573.2 237.7h0M577.8 213.3h0M576.0 265.8h0M574.7 264.4h0M574.1 197.1h0M574.6 248.8h0M576.7 210.4h0M576.0 182.3h0M573.1 234.6h0M574.0 244.1h0M576.1 194.7h0M578.2 232.3h0M574.2 188.6h0M574.6 260.7h0M576.8 183.5h0M576.2 210.9h0M575.6 239.6h0M575.4 227.6h0M577.8 178.3h0M577.9 197.8h0M573.5 251.0h0M576.2 196.6h0M574.3 259.2h0M574.7 219.3h0M577.6 246.2h0M576.8 240.7h0M574.2 199.0h0M578.3 198.7h0M575.8 239.4h0M576.8 190.9h0M573.8 264.7h0M574.3 198.6h0M573.1 221.7h0M575.1 188.9h0M577.2 213.9h0M574.3 183.6h0M573.0 201.7h0M576.2 230.6h0M574.0 231.6h0M575.5 211.0h0M576.5 198.5h0M576.8 204.2h0M574.6 190.1h0M574.2 246.1h0M574.5 254.6h0M576.7 224.3h0M574.5 188.7h0M576.7 198.1h0M575.7 256.1h0M575.2 246.0h0M576.5 183.5h0M577.8 187.7h0M577.9 200.4h0M577.1 185.7h0M575.9 179.9h0M578.0 251.5h0M576.4 193.2h0M576.8 199.8h0M577.2 221.3h0M574.0 241.3h0M575.0 252.0h0M575.9 196.7h0M574.9 230.8h0M573.7 191.0h0M576.1 231.0h0M573.7 257.6h0M576.2 201.3h0M576.3 261.5h0M577.4 196.6h0M577.7 224.9h0M577.7 205.5h0M577.8 199.8h0M574.1 252.8h0M573.9 243.3h0M574.2 188.6h0M576.8 259.9h0M574.3 216.7h0M577.7 228.4h0M576.3 223.0h0M576.9 211.3h0M577.6 202.9h0M575.6 191.9h0M576.3 254.9h0M576.7 178.3h0M574.2 186.4h0M577.7 213.5h0M577.3 174.4h0M574.9 240.9h0M573.9 206.0h0M575.7 225.5h0M576.0 259.8h0M576.0 216.6h0M575.8 257.0h0M575.3 174.8h0M574.8 208.3h0M575.5 209.6h0M576.3 221.1h0M574.5 229.0h0M577.3 179.9h0M576.5 186.0h0M577.2 194.4h0M577.3 225.5h0M574.8 217.8h0M576.6 260.6h0M576.3 194.9h0M574.4 224.7h0M576.8 236.6h0M573.9 250.6h0M575.9 233.0h0M575.1 211.5h0M575.0 201.1h0M576.0 212.8h0M576.3 205.6h0M575.1 187.8h0M574.8 180.8h0M576.3 188.9h0M576.5 246.1h0M576.2 252.3h0M576.2 192.0h0M576.6 214.2h0M574.6 195.1h0M575.4 265.4h0M577.7 218.1h0M576.7 243.7h0M576.9 184.0h0M575.7 208.5h0M577.4 188.0h0M577.6 190.7h0M575.5 215.7h0M577.6 206.9h0M576.6 207.8h0M575.5 184.3h0M575.7 235.9h0M576.3 234.6h0M575.4 237.8h0M577.8 192.8h0M577.7 259.9h0M576.7 229.3h0M577.9 186.8h0M574.9 221.0h0M576.2 254.4h0M575.7 189.5h0M574.7 165.2h0M577.4 204.7h0M574.3 181.8h0M573.9 253.0h0M575.9 236.3h0M576.4 255.4h0M575.3 238.1h0M575.4 192.1h0M577.0 230.4h0M576.6 206.4h0M577.4 266.0h0M577.1 207.9h0M575.8 246.7h0M576.4 195.2h0M575.3 187.3h0M577.8 188.1h0M575.4 213.7h0M577.4 191.2h0M574.1 229.8h0M576.9 217.0h0M577.5 250.5h0M577.5 260.6h0M577.6 208.1h0M575.6 233.8h0M575.1 235.7h0M577.5 200.8h0M574.8 236.0h0M573.5 243.5h0M574.8 202.0h0M576.8 198.1h0M577.8 197.2h0M577.0 234.9h0M576.0 262.9h0M576.5 182.0h0M577.5 200.0h0M575.0 228.6h0M577.7 237.0h0M577.3 197.1h0M577.7 238.4h0M578.8 210.9h0M576.2 213.4h0M575.9 244.6h0M576.5 208.7h0M573.9 225.8h0M576.5 196.7h0M577.6 192.6h0M573.8 266.9h0M576.4 180.9h0M577.3 177.8h0M576.2 200.6h0M575.8 253.5h0M575.9 192.6h0M576.0 216.9h0M577.6 221.3h0M577.2 247.6h0M573.9 179.6h0M576.9 232.2h0M577.9 195.3h0M576.2 171.6h0M576.6 178.6h0M573.8 194.6h0M575.6 205.5h0M574.3 195.6h0M577.0 196.4h0M577.5 236.0h0M575.5 251.0h0M578.1 179.4h0M574.0 204.9h0M575.3 181.3h0M577.4 248.0h0M577.3 206.4h0M577.8 210.2h0M576.8 195.7h0M577.0 209.8h0M577.4 202.5h0M575.8 176.6h0M577.7 242.3h0M576.6 183.8h0M577.3 181.9h0M578.1 251.1h0M575.3 244.4h0M576.9 182.2h0M574.5 185.0h0M575.1 175.5h0M577.1 204.2h0M577.4 236.6h0M576.7 182.9h0M573.8 240.4h0M577.0 262.9h0M574.3 260.8h0M574.0 249.0h0M575.0 196.2h0M576.1 191.5h0M576.8 218.9h0M575.5 232.4h0M576.8 238.2h0M576.3 166.3h0M574.5 194.2h0M575.7 250.1h0M573.9 184.6h0M577.8 219.3h0M577.5 200.5h0M576.0 263.3h0M574.3 173.7h0M574.1 203.6h0M577.1 231.2h0M574.2 202.6h0M575.3 229.8h0M576.6 192.2h0M573.5 258.2h0M574.9 223.7h0M575.3 233.8h0M574.3 180.7h0M577.7 222.2h0M577.6 193.4h0M576.8 239.0h0M574.7 178.0h0M576.3 248.6h0M575.2 264.0h0M573.8 254.9h0M574.4 190.7h0M575.3 208.7h0M577.2 201.8h0M573.9 194.8h0M575.0 241.8h0M575.2 179.0h0M577.1 231.7h0M576.4 196.8h0M577.9 252.9h0M575.4 168.8h0M574.3 261.2h0M575.7 194.7h0M577.9 205.5h0M575.1 177.3h0M576.6 242.5h0M575.2 233.8h0M575.0 227.5h0M576.6 201.7h0M576.0 177.8h0M574.9 199.0h0M576.3 212.2h0M577.8 244.5h0M575.8 199.7h0M575.2 215.1h0M576.5 170.9h0" stroke="#000" stroke-width="1" stroke-linecap="round" opacity=".7" fill="none"/>
<path d="M575.2 239.9h0M576.2 196.0h0M574.8 186.2h0M574.8 208.2h0M575.8 178.1h0M578.2 182.5h0M577.9 233.2h0M577.7 208.9h0M574.6 263.9h0M576.2 264.6h0M573.9 252.3h0M574.4 201.1h0M578.7 186.1h0M574.1 213.9h0M575.2 204.9h0M577.2 202.8h0M574.8 226.2h0M577.9 233.8h0M574.7 227.4h0M574.7 238.9h0M577.9 186.3h0M575.7 205.3h0M574.2 262.4h0M573.5 234.7h0M574.0 263.9h0M574.3 252.2h0M577.8 219.6h0M577.3 194.4h0M575.1 250.8h0M577.9 212.2h0M574.2 209.6h0M574.7 261.1h0M575.1 208.1h0M577.9 263.8h0M575.0 181.4h0M575.0 265.1h0M574.3 169.1h0M575.8 178.3h0M577.8 246.3h0M574.9 249.1h0M574.2 208.7h0M577.0 233.1h0M576.6 182.6h0M575.5 191.7h0M576.5 206.3h0M575.1 212.2h0M576.4 231.8h0M574.8 171.4h0M577.3 191.4h0M576.2 173.8h0M575.8 201.2h0M574.1 261.1h0M577.0 192.4h0M575.7 239.4h0M575.7 255.1h0M574.6 266.9h0M575.0 216.8h0M574.1 264.1h0M574.3 251.3h0M574.7 199.3h0M576.2 239.8h0M573.2 180.3h0M575.6 192.8h0M578.3 217.8h0M576.9 260.4h0M574.1 218.8h0M574.7 201.8h0M574.9 240.2h0M574.5 215.4h0M574.5 257.5h0M577.3 225.6h0M574.5 200.7h0M573.9 222.5h0M576.1 232.3h0M574.0 210.6h0M574.8 186.7h0M578.8 193.9h0M574.4 188.1h0M574.0 186.5h0M574.1 186.3h0M575.0 251.2h0M574.4 209.5h0M573.9 182.2h0M577.0 175.5h0M575.7 225.8h0M574.3 256.1h0M577.5 182.9h0M577.6 203.3h0M576.9 200.0h0M575.1 249.1h0M574.3 185.3h0M577.5 205.4h0M573.9 194.0h0M576.0 241.8h0M576.6 235.7h0M577.4 231.1h0M575.0 238.8h0M576.0 210.0h0M574.2 233.8h0M575.6 243.2h0M574.3 225.2h0M574.7 217.1h0M575.7 245.0h0M577.0 176.8h0M575.9 193.9h0M576.5 198.8h0M575.5 191.2h0M574.9 223.1h0M576.1 209.9h0M576.8 227.6h0M574.2 237.3h0M574.1 184.9h0M577.5 250.6h0M575.2 246.0h0M577.9 209.6h0M576.3 193.9h0M573.6 205.5h0M574.2 229.0h0M576.1 254.4h0M578.2 239.4h0M576.2 258.2h0M577.1 234.3h0M575.9 178.5h0M578.0 237.2h0M576.6 199.9h0M574.7 191.1h0M577.4 237.0h0M575.6 234.4h0M575.5 216.1h0M575.9 260.9h0M574.8 195.4h0M575.8 199.9h0M576.5 184.8h0M577.2 233.6h0M575.5 193.4h0M575.3 188.3h0M575.9 215.8h0M577.5 173.0h0M577.6 189.6h0M573.7 265.2h0M577.8 252.3h0M576.8 218.4h0M574.9 187.2h0M577.8 188.4h0M577.2 231.7h0M575.7 250.0h0M574.0 198.0h0M577.6 213.9h0M576.2 199.7h0M574.6 213.5h0M573.6 245.3h0M576.0 256.7h0M577.6 258.1h0M575.6 258.3h0M574.0 205.1h0M575.5 223.2h0M577.5 243.9h0M575.8 193.7h0M575.5 255.0h0M575.4 183.3h0M573.8 187.1h0M576.2 198.4h0M576.0 221.7h0M578.2 253.5h0M574.1 255.4h0M575.7 208.8h0M576.9 167.8h0M577.1 266.1h0M577.5 223.7h0M577.8 217.7h0M576.7 254.9h0M577.0 176.4h0M577.2 194.3h0M575.4 235.4h0M577.5 192.2h0M576.9 235.4h0M574.9 236.3h0M574.9 176.7h0M573.1 214.1h0M575.5 186.5h0M578.2 266.3h0M577.4 228.9h0M576.6 238.9h0M575.0 171.7h0M577.8 171.6h0M577.9 212.1h0M576.6 200.3h0M574.5 250.5h0M578.2 250.5h0M576.5 249.6h0M573.9 183.9h0M574.9 201.1h0M575.7 183.1h0M575.9 186.2h0M575.7 232.0h0M574.7 252.2h0M576.2 204.5h0M574.8 191.5h0M576.6 242.2h0M577.2 257.3h0M577.9 232.0h0M577.6 182.2h0M577.5 198.6h0M575.5 181.4h0M577.1 219.8h0M577.3 183.6h0M578.3 184.5h0M574.3 186.9h0M575.5 248.4h0M574.8 206.7h0M576.7 197.4h0M576.3 185.8h0M574.6 195.6h0M577.1 241.8h0M574.6 190.1h0M576.4 228.6h0M577.0 196.9h0M575.7 260.3h0M577.3 229.1h0M576.7 207.9h0M575.8 195.9h0M578.0 248.2h0M574.8 187.0h0M577.1 196.2h0M574.1 192.5h0M577.6 217.0h0M577.1 186.5h0M574.1 185.1h0M574.6 263.5h0M576.6 196.7h0M575.2 191.0h0M574.8 197.4h0M573.9 195.3h0M575.9 180.0h0M575.5 253.8h0M576.3 252.5h0M577.7 167.8h0M577.1 192.4h0M573.7 258.3h0M576.5 167.7h0M574.7 214.1h0M576.9 208.7h0M575.1 259.8h0M577.3 251.3h0M575.2 195.1h0M575.5 241.8h0M575.7 266.7h0M577.2 216.8h0M577.9 218.8h0M576.4 181.5h0M578.0 193.3h0M577.1 198.0h0M575.4 195.0h0M575.1 216.3h0M575.7 217.5h0M576.0 187.3h0M575.5 203.1h0M576.3 190.7h0M575.8 227.0h0M575.5 200.0h0M574.5 253.3h0M576.9 257.1h0M576.9 191.5h0M577.6 209.0h0M577.1 188.8h0M578.8 182.1h0M576.4 178.2h0M575.8 181.3h0M574.2 230.1h0M577.1 187.3h0M576.9 195.3h0M575.4 231.8h0M573.8 173.4h0M575.9 251.7h0M577.4 226.9h0M573.9 199.7h0M573.9 242.0h0M576.2 260.5h0M572.8 240.0h0M574.2 227.4h0M574.0 261.7h0M575.1 239.2h0M574.7 187.2h0M574.2 235.2h0M574.2 175.2h0M576.4 192.8h0M574.7 251.8h0M576.8 194.7h0M577.4 263.7h0M573.8 253.0h0M573.9 208.5h0M573.7 257.6h0M576.7 239.5h0M575.1 197.1h0M574.9 231.1h0M576.5 213.9h0M575.6 190.1h0M577.4 207.2h0M577.1 206.3h0M574.4 197.9h0M577.6 199.4h0M575.6 259.9h0M573.0 186.8h0M574.2 198.5h0M576.4 193.6h0M577.3 238.8h0M573.8 251.4h0M574.3 192.7h0M574.9 179.8h0M573.5 207.6h0M573.5 264.7h0M575.8 188.5h0M577.2 184.8h0M574.7 196.4h0M573.2 179.0h0M574.6 178.7h0M576.4 222.3h0" stroke="#000" stroke-width="1" stroke-linecap="round" opacity=".7" fill="none"/>
<path d="M596.75 187.25V213.25M596.75 241.75V258.25M592.75 187.25h8M592.75 258.25h8" stroke="#8a8a8a" stroke-width=".5" fill="none"/>
<rect x="588.25" y="213.25" width="17" height="28.5" fill="#7f7f7f" stroke="#3a3a3a" stroke-width=".4"/>
<path d="M588.25 229.5H605.25" stroke="#000" stroke-width=".95"/>
<path d="M588.25 267.3H605.25" stroke="#2a2a2a" stroke-width="1.05"/>
<path d="M598.5 240.2h0M597.9 250.1h0M598.4 201.0h0M596.7 210.5h0M595.9 225.9h0M598.3 225.5h0M598.5 225.8h0M597.5 232.9h0M597.9 241.0h0M595.0 226.4h0M594.8 240.1h0M595.3 245.8h0M596.9 204.5h0M599.2 209.0h0M595.9 232.3h0M595.9 243.2h0M595.3 243.7h0M598.4 187.5h0M594.7 231.9h0M595.6 208.2h0M596.8 231.7h0M597.1 231.7h0M594.6 231.2h0M597.4 208.0h0M597.9 245.4h0M595.0 239.7h0M596.2 254.0h0M594.0 222.9h0M597.5 232.3h0M598.9 224.8h0M597.9 243.6h0M595.5 241.4h0M596.1 202.4h0M598.4 249.8h0M597.5 234.9h0M594.8 230.7h0M595.8 237.7h0M597.8 205.2h0M598.4 242.0h0M596.2 209.7h0M596.8 251.3h0M598.3 228.6h0M596.2 239.4h0M598.4 221.4h0M595.4 218.4h0M597.1 219.0h0M595.3 239.7h0M596.5 234.3h0M595.0 204.6h0M595.9 210.1h0M598.2 226.7h0M594.7 215.9h0M596.5 209.4h0M595.2 222.1h0M595.8 226.9h0M595.1 248.3h0M597.0 214.9h0M595.8 224.2h0M595.4 199.6h0M595.0 245.1h0M594.6 232.5h0M596.4 204.6h0M598.5 244.9h0M597.6 207.8h0M598.1 245.2h0M595.7 242.4h0M598.3 209.7h0M595.6 250.2h0M596.2 211.3h0M597.1 240.8h0M595.9 247.6h0M597.5 214.9h0M598.5 226.9h0M598.1 242.1h0M595.6 226.5h0M596.4 244.1h0M595.4 226.9h0M598.6 250.2h0M595.4 231.6h0M598.0 206.2h0M595.6 230.2h0M595.0 239.3h0M596.8 251.7h0M597.2 243.3h0" stroke="#000" stroke-width="1" stroke-linecap="round" opacity=".7" fill="none"/>
<path d="M595.0 227.7h0M598.4 236.0h0M598.9 247.3h0M596.7 205.5h0M598.1 212.9h0M598.2 209.2h0M596.2 218.2h0M598.0 232.4h0M595.6 244.7h0M597.0 202.8h0M594.9 209.7h0M596.6 228.0h0M597.6 213.4h0M596.2 251.3h0M598.1 222.3h0M594.2 235.1h0M594.8 245.9h0M596.7 212.4h0M595.4 201.5h0M596.1 217.2h0M597.8 188.7h0M595.7 219.3h0M596.0 207.9h0M597.4 222.2h0M595.2 207.7h0M599.6 239.5h0M598.4 232.3h0M595.0 239.2h0M595.7 240.4h0M595.6 227.1h0M597.2 213.0h0M597.5 238.2h0M593.8 206.6h0M596.1 223.2h0M595.2 233.5h0M597.4 243.4h0M597.3 245.4h0M596.8 245.2h0M598.7 203.7h0M595.1 230.3h0M597.7 237.3h0M596.0 210.9h0M594.8 243.7h0M597.1 215.6h0M594.8 222.1h0M598.6 249.9h0M597.2 236.0h0M596.1 249.8h0M597.2 239.8h0M597.7 238.0h0M597.6 248.3h0M597.3 192.9h0M595.6 210.7h0M598.8 242.7h0M595.8 223.8h0M598.0 243.4h0M595.7 249.5h0M597.5 215.3h0M595.9 210.1h0M596.2 236.5h0M598.2 229.2h0M598.3 239.1h0M598.1 209.8h0M595.5 230.2h0M594.3 202.8h0M598.0 240.3h0M594.9 209.2h0M598.6 226.8h0M594.7 210.5h0M597.1 241.8h0M597.0 205.0h0M598.3 254.5h0M597.3 238.5h0M595.2 237.5h0M595.0 224.4h0M596.9 240.1h0M595.9 237.6h0M594.8 251.8h0M597.2 231.7h0M596.1 239.3h0M597.5 254.0h0M597.2 221.7h0M594.9 248.0h0M597.5 216.0h0" stroke="#000" stroke-width="1" stroke-linecap="round" opacity=".7" fill="none"/>
<path d="M595.4 205.7h0M595.5 247.6h0M598.5 207.4h0M596.0 220.5h0M596.5 243.3h0M597.7 208.8h0M596.8 236.5h0M596.7 246.9h0M598.7 231.3h0M597.9 237.2h0M596.6 236.0h0M596.1 239.5h0M597.7 247.3h0M594.9 235.9h0M597.9 229.9h0M596.2 247.3h0M594.3 205.7h0M597.8 241.4h0M597.1 238.5h0M595.6 254.0h0M596.2 230.1h0M598.6 232.4h0M595.8 225.0h0M597.1 242.2h0M596.1 226.2h0M598.4 216.2h0M594.9 213.1h0M598.4 207.1h0M596.1 248.5h0M597.8 220.9h0M596.5 204.7h0M597.7 231.7h0M596.7 237.3h0M598.4 245.3h0M596.5 238.7h0M596.6 227.0h0M595.2 217.3h0M596.4 202.2h0M594.8 202.3h0M598.5 245.7h0M596.9 219.2h0M596.7 236.5h0M596.7 232.2h0M595.0 200.5h0M596.2 212.5h0M595.5 207.3h0M595.0 197.7h0M597.7 241.5h0M596.7 243.0h0M596.7 197.4h0M597.5 234.4h0M595.2 227.7h0M595.9 218.7h0M595.8 238.1h0M597.1 196.5h0M596.6 206.6h0M596.4 217.0h0M597.9 213.6h0M597.4 246.1h0M597.9 232.0h0M597.3 222.5h0M597.3 227.8h0M595.5 244.5h0M597.4 218.4h0M598.4 219.3h0M597.3 247.4h0M598.5 243.1h0M598.7 257.8h0M596.3 245.3h0M597.6 236.7h0M597.7 221.4h0M593.8 241.9h0M598.5 205.7h0M596.2 243.1h0M595.3 245.1h0M597.5 212.1h0M597.2 210.4h0M596.4 234.9h0M596.7 207.9h0M597.6 203.5h0M595.0 246.1h0M597.6 211.9h0M595.2 242.4h0M596.0 207.3h0" stroke="#000" stroke-width="1" stroke-linecap="round" opacity=".7" fill="none"/>
<path d="M638.25 230V248.25M638.25 260.75V267M634.25 230h8M634.25 267h8" stroke="#8a8a8a" stroke-width=".5" fill="none"/>
<rect x="629.75" y="248.25" width="17" height="12.5" fill="#fb6565" stroke="#5a2a2a" stroke-width=".4"/>
<path d="M629.75 255.25H646.75" stroke="#000" stroke-width="1.1"/>
<path d="M640.5 253.5h0M638.1 249.3h0M639.0 251.9h0M638.1 263.0h0M639.7 261.7h0M636.9 262.2h0M638.2 255.6h0M637.7 260.8h0M637.6 252.4h0M639.1 261.0h0M637.9 259.3h0M637.3 250.8h0M638.8 253.3h0M639.0 261.7h0M638.5 257.3h0M639.1 248.1h0M638.0 241.3h0M638.5 248.1h0M637.5 245.6h0M639.6 248.8h0M638.0 242.1h0M637.6 252.6h0M639.0 250.8h0M638.9 246.8h0M638.3 239.5h0M638.4 236.7h0M636.8 261.1h0M638.7 254.5h0M637.2 249.4h0M638.8 266.5h0M636.8 255.8h0M637.8 243.5h0M636.1 253.6h0M638.6 252.0h0M637.5 262.4h0M638.3 255.0h0M638.9 255.4h0M638.3 252.2h0M640.3 259.3h0M639.5 249.9h0M636.8 251.7h0M637.5 257.7h0M637.0 251.7h0M636.9 252.3h0M636.8 261.8h0M639.1 254.4h0M638.9 246.9h0M637.6 262.0h0M637.8 236.7h0M637.3 255.3h0M638.2 264.6h0M639.1 260.1h0M640.1 239.8h0M638.8 242.8h0M638.0 241.7h0M639.1 253.0h0M639.1 255.9h0M637.9 258.8h0M637.3 263.4h0M638.6 262.2h0M638.8 254.0h0M636.1 245.3h0M637.1 249.3h0M639.1 243.3h0M636.4 249.0h0M637.4 253.9h0M638.5 259.9h0M639.2 245.4h0M640.3 260.9h0M639.0 263.1h0M636.7 254.5h0M638.9 259.4h0M636.9 258.2h0M639.5 259.7h0M638.9 260.4h0M638.7 261.4h0M637.2 263.7h0M637.0 259.2h0M637.4 243.3h0M637.9 246.0h0M639.5 257.2h0M637.3 256.2h0M636.8 254.9h0M638.7 256.9h0M639.7 229.4h0M637.5 254.6h0M640.2 256.8h0M636.5 258.4h0M638.5 259.0h0M636.9 256.1h0M637.1 251.8h0M638.5 263.0h0M639.3 259.9h0M639.7 250.8h0M639.5 245.0h0M638.0 261.3h0M636.9 261.2h0M638.9 240.8h0M637.7 258.2h0M638.3 250.8h0M636.9 246.6h0M639.1 265.2h0M637.0 249.2h0M638.0 254.5h0M636.8 249.6h0M637.2 249.9h0M639.5 250.3h0M637.1 265.3h0M639.1 239.5h0M638.6 247.1h0M637.2 249.5h0M637.7 236.1h0M639.3 255.7h0M638.9 244.5h0M638.8 236.5h0M638.7 261.4h0M639.2 262.9h0M638.9 261.8h0M639.9 252.2h0M638.1 258.6h0M636.8 261.4h0M638.3 255.4h0M638.3 251.1h0M637.7 239.6h0M638.8 252.4h0M639.1 264.1h0M639.6 251.8h0M639.3 243.9h0M637.0 260.1h0M637.3 255.1h0M638.9 258.3h0M637.2 242.7h0M639.1 254.4h0M639.7 249.8h0M638.7 258.5h0M638.7 250.6h0M638.7 261.5h0M638.3 264.7h0M636.3 244.2h0M639.1 261.7h0M638.0 262.9h0M637.6 262.6h0M639.6 246.6h0M638.2 248.3h0M639.5 246.2h0M637.7 264.9h0M637.4 253.9h0M639.3 243.8h0M638.2 244.8h0M637.4 258.1h0M637.2 234.8h0M637.5 249.9h0M638.4 257.7h0M637.0 254.4h0M639.2 212.4h0M636.6 253.4h0M638.2 261.6h0M637.5 260.1h0M638.5 244.4h0M638.0 238.5h0M637.8 254.3h0M638.6 263.6h0M639.3 255.6h0M636.8 242.8h0M637.8 248.6h0M637.6 249.5h0M637.0 244.6h0M638.3 259.8h0M637.3 253.6h0M637.7 231.6h0M638.7 249.2h0M639.1 255.7h0M637.5 243.6h0M636.9 258.5h0M637.6 247.1h0M637.1 255.7h0M637.7 257.6h0M638.7 259.5h0M637.2 256.9h0M637.3 265.3h0M638.4 255.3h0M637.2 263.7h0M636.2 255.6h0M638.9 264.4h0M637.4 237.4h0M638.6 264.7h0M638.2 242.4h0M639.3 255.7h0M638.2 242.7h0M639.3 251.1h0M638.3 236.8h0" stroke="#000" stroke-width="1" stroke-linecap="round" opacity=".7" fill="none"/>
<path d="M639.1 259.2h0M637.1 256.5h0M638.1 262.8h0M637.6 258.6h0M639.4 258.1h0M639.2 254.4h0M637.7 261.6h0M636.5 261.5h0M639.4 261.9h0M636.9 263.0h0M637.1 255.9h0M639.2 248.7h0M638.8 251.9h0M638.9 258.0h0M638.7 243.0h0M639.3 263.4h0M638.7 261.1h0M636.8 250.0h0M637.9 262.3h0M639.5 261.7h0M638.4 241.9h0M637.1 262.8h0M638.7 262.9h0M638.7 251.9h0M639.3 253.5h0M636.1 266.9h0M638.4 244.8h0M637.6 263.6h0M637.9 261.0h0M638.3 256.8h0M638.6 248.1h0M639.7 258.8h0M636.8 250.3h0M638.1 234.8h0M637.0 241.7h0M637.2 253.7h0M639.5 251.5h0M638.4 244.7h0M638.7 260.9h0M637.7 261.0h0M638.8 257.0h0M638.9 263.6h0M638.0 246.9h0M638.4 251.8h0M639.6 241.7h0M637.6 258.9h0M638.7 255.7h0M639.7 255.3h0M639.4 242.6h0M638.4 247.7h0M639.6 248.1h0M638.3 265.6h0M638.0 261.9h0M637.4 235.9h0M636.0 238.3h0M637.8 261.9h0M637.4 258.4h0M636.7 243.5h0M638.6 257.6h0M638.9 255.9h0M638.4 260.4h0M639.7 262.1h0M636.9 262.7h0M637.0 262.9h0M637.2 261.0h0M636.9 251.3h0M637.2 253.8h0M638.8 255.9h0M638.4 265.1h0M638.2 244.2h0M639.7 211.5h0M637.1 251.9h0M638.7 218.8h0M639.3 252.0h0M636.1 257.7h0M637.0 255.0h0M639.6 257.0h0M638.7 259.3h0M636.1 242.9h0M638.4 250.9h0M638.8 253.3h0M637.0 262.3h0M638.6 257.1h0M639.1 260.2h0M639.0 255.3h0M639.2 256.6h0M638.5 256.1h0M638.7 244.5h0M636.2 239.4h0M638.5 257.0h0M636.4 248.8h0M638.3 260.9h0M636.1 251.1h0M639.5 257.4h0M638.7 248.0h0M637.8 250.6h0M636.8 257.7h0M637.9 249.3h0M637.0 254.5h0M639.4 249.7h0M638.2 250.7h0M637.6 251.2h0M638.0 252.7h0M637.4 262.0h0M638.3 251.4h0M637.8 256.1h0M637.8 263.8h0M637.9 249.7h0M637.0 255.6h0M638.6 237.8h0M636.9 254.1h0M636.9 265.0h0M637.9 255.5h0M637.2 261.5h0M637.1 248.9h0M637.8 264.2h0M639.2 251.4h0M637.5 246.9h0M637.6 260.9h0M638.9 243.3h0M639.9 245.5h0M637.8 260.9h0M639.2 261.7h0M638.8 254.4h0M639.5 257.5h0M638.5 263.3h0M636.7 260.6h0M637.7 246.0h0M639.4 253.1h0M639.5 261.6h0M639.0 242.9h0M637.3 261.7h0M639.7 261.8h0M637.7 245.0h0M637.2 246.3h0M638.7 252.0h0M638.3 245.9h0M637.9 232.6h0M638.4 261.7h0M638.0 262.0h0M637.6 247.2h0M638.1 256.6h0M637.3 241.3h0M637.9 255.3h0M638.3 261.7h0M637.6 262.1h0M638.9 248.8h0M638.0 252.9h0M637.6 245.4h0M638.6 255.4h0M637.1 242.6h0M636.8 228.3h0M637.6 263.5h0M639.4 262.2h0M637.7 244.1h0M637.8 248.6h0M638.2 252.7h0M639.5 246.5h0M638.4 265.1h0M636.9 260.8h0M638.7 262.2h0M638.7 262.2h0M637.3 260.5h0M638.5 246.8h0M640.3 248.2h0M637.6 260.9h0M638.5 261.8h0M637.3 261.4h0M639.7 245.1h0M637.4 249.0h0M638.6 262.0h0M637.0 255.8h0M638.8 249.5h0M638.0 250.8h0M638.4 247.0h0M638.4 251.0h0M638.7 257.7h0M638.7 249.3h0M639.4 247.4h0M638.6 247.9h0M636.9 261.2h0M638.1 246.9h0M638.4 261.7h0M637.8 248.6h0M638.5 258.3h0M638.5 253.6h0M636.8 256.8h0M636.9 249.3h0M639.2 253.5h0M637.4 265.1h0M639.1 239.7h0" stroke="#000" stroke-width="1" stroke-linecap="round" opacity=".7" fill="none"/>
<path d="M638.6 256.8h0M637.0 263.9h0M639.5 256.6h0M639.5 263.6h0M639.4 263.7h0M637.0 261.5h0M636.1 252.7h0M637.0 262.2h0M636.8 262.2h0M638.1 252.0h0M639.7 260.6h0M639.5 257.9h0M637.7 252.1h0M638.1 255.8h0M639.6 253.8h0M638.3 257.7h0M639.2 263.7h0M639.3 253.1h0M640.1 258.8h0M636.8 231.3h0M637.7 257.9h0M639.4 255.9h0M637.1 222.2h0M636.8 251.6h0M639.3 255.9h0M637.8 251.9h0M637.2 259.9h0M637.1 257.0h0M638.7 251.2h0M638.1 252.0h0M639.4 241.0h0M638.6 253.6h0M636.9 262.7h0M638.4 256.5h0M639.1 246.8h0M638.1 249.2h0M637.7 255.9h0M636.6 213.9h0M638.8 254.4h0M638.3 247.2h0M638.1 259.8h0M638.9 248.0h0M638.2 255.8h0M638.3 253.5h0M638.3 255.1h0M636.9 248.2h0M637.4 255.7h0M637.8 261.4h0M636.9 253.2h0M636.8 258.1h0M638.8 252.5h0M637.9 251.6h0M636.9 261.8h0M638.3 252.7h0M637.7 264.8h0M637.4 259.6h0M639.3 261.0h0M636.9 248.8h0M638.4 250.8h0M639.0 259.3h0M637.3 252.9h0M637.9 244.6h0M637.8 252.4h0M637.1 244.5h0M637.4 257.7h0M638.8 261.9h0M636.5 260.3h0M637.6 260.9h0M639.2 241.1h0M638.5 253.8h0M638.1 247.9h0M637.3 262.0h0M637.6 249.4h0M637.4 260.9h0M639.1 247.6h0M637.5 260.1h0M638.2 259.1h0M639.1 261.0h0M638.7 243.3h0M636.8 260.3h0M639.1 249.1h0M639.2 256.4h0M639.0 252.5h0M638.3 233.7h0M637.8 260.9h0M637.6 253.8h0M639.4 266.5h0M639.2 261.7h0M637.9 258.5h0M636.9 261.0h0M638.9 259.3h0M637.8 259.3h0M639.1 248.2h0M638.2 255.3h0M639.4 248.0h0M638.3 255.4h0M637.2 261.3h0M638.5 261.4h0M638.1 253.0h0M638.3 247.6h0M639.8 247.1h0M638.3 260.4h0M639.4 256.9h0M636.9 260.7h0M637.6 260.9h0M636.8 261.2h0M637.2 245.2h0M638.0 259.1h0M639.0 254.0h0M637.0 253.8h0M639.1 251.1h0M636.8 243.1h0M638.9 255.8h0M636.8 262.5h0M639.5 263.6h0M638.3 264.5h0M638.2 257.1h0M637.8 262.1h0M638.4 254.6h0M637.5 265.4h0M638.2 254.8h0M636.4 261.6h0M638.8 238.7h0M637.3 266.6h0M638.5 261.7h0M637.0 260.5h0M638.4 250.2h0M639.6 261.0h0M638.6 252.4h0M639.6 242.7h0M638.8 256.2h0M638.0 250.6h0M637.8 260.1h0M636.8 249.1h0M637.0 247.7h0M639.5 249.9h0M636.3 245.9h0M636.9 242.2h0M637.2 261.4h0M639.3 250.9h0M637.5 246.6h0M638.5 245.4h0M639.7 253.5h0M639.9 242.2h0M637.8 258.4h0M639.2 247.9h0M638.4 251.9h0M639.7 256.3h0M638.1 248.2h0M636.9 250.9h0M639.0 243.0h0M637.1 256.6h0M639.0 259.2h0M638.6 261.8h0M637.5 254.1h0M636.8 260.8h0M636.9 249.9h0M637.2 251.6h0M638.9 253.9h0M639.0 240.6h0M637.2 231.5h0M637.2 257.0h0M637.3 264.2h0M638.3 248.4h0M637.4 262.8h0M639.6 259.2h0M637.6 252.3h0M637.2 251.1h0M638.1 248.7h0M637.2 230.9h0M639.5 262.3h0M637.8 252.5h0M639.2 256.6h0M638.0 258.3h0M638.8 261.8h0M636.9 260.8h0M637.6 261.2h0M636.7 248.4h0M640.0 250.3h0M639.6 244.7h0M640.5 264.7h0M638.2 253.3h0M637.9 250.7h0M638.4 256.6h0M638.1 259.1h0M639.6 250.5h0M639.2 240.0h0M638.4 258.2h0M638.7 237.4h0M638.8 251.8h0M639.2 244.0h0" stroke="#000" stroke-width="1" stroke-linecap="round" opacity=".7" fill="none"/>
<path d="M659.25 238V248M659.25 255.5V262M655.25 238h8M655.25 262h8" stroke="#8a8a8a" stroke-width=".5" fill="none"/>
<rect x="650.75" y="248" width="17" height="7.5" fill="#7f7f7f" stroke="#3a3a3a" stroke-width=".4"/>
<path d="M650.75 252H667.75" stroke="#000" stroke-width=".95"/>
<circle cx="659.55" cy="267.3" r=".5" fill="#777"/>
<path d="M659.4 249.3h0M659.0 255.1h0M660.1 253.6h0M660.2 255.2h0M658.0 245.2h0M658.5 256.0h0M660.1 247.5h0M660.9 251.2h0M658.3 253.9h0M657.7 253.9h0M659.8 254.8h0M659.4 255.5h0M658.2 234.6h0M658.6 255.3h0M658.2 253.3h0M660.1 244.4h0M660.7 243.9h0M658.8 251.6h0M657.9 247.6h0M658.0 256.9h0M658.0 250.7h0M660.7 253.8h0M659.3 252.2h0M659.6 250.2h0M658.3 257.5h0M659.3 246.7h0M660.7 252.5h0M658.8 257.0h0M660.6 257.9h0M660.9 241.5h0M659.9 243.2h0M660.3 254.0h0M658.8 249.4h0M659.3 251.2h0M659.6 256.8h0M660.8 249.3h0M657.6 253.7h0M660.3 254.6h0M657.1 256.4h0M660.5 252.1h0M658.7 255.5h0M659.9 254.7h0M658.1 258.0h0M657.8 246.2h0M658.9 249.1h0M657.2 249.4h0M658.3 248.1h0M657.7 242.9h0M659.1 250.5h0M658.1 248.9h0M660.6 250.9h0M660.4 246.0h0M658.5 245.8h0M661.6 252.4h0M660.6 252.3h0M659.5 244.8h0M660.6 242.6h0M658.2 251.6h0M658.0 257.1h0M658.9 249.6h0M659.0 248.9h0M660.7 257.5h0M657.6 255.8h0M660.6 257.1h0M657.9 249.7h0M659.4 250.7h0M657.6 249.0h0M658.0 245.0h0M660.0 250.5h0M661.2 247.5h0M660.1 249.8h0M659.6 244.5h0M661.6 247.1h0M659.8 254.1h0M658.9 251.7h0M659.7 245.6h0" stroke="#000" stroke-width="1" stroke-linecap="round" opacity=".7" fill="none"/>
<path d="M659.0 252.5h0M660.6 254.4h0M657.7 254.0h0M657.7 255.4h0M658.2 258.7h0M658.8 250.2h0M658.0 254.9h0M658.5 253.4h0M659.3 257.0h0M658.6 257.5h0M661.2 248.1h0M657.4 252.2h0M658.4 250.5h0M658.4 256.6h0M660.5 257.8h0M657.7 255.3h0M658.2 258.3h0M658.9 252.7h0M659.9 253.7h0M657.7 260.5h0M659.4 246.5h0M657.8 257.1h0M658.2 245.5h0M660.3 245.1h0M658.0 255.1h0M659.6 245.9h0M660.5 263.0h0M658.5 252.5h0M657.7 256.0h0M659.0 255.9h0M658.2 240.9h0M659.5 250.0h0M658.5 242.6h0M660.4 260.2h0M657.9 246.0h0M659.2 244.2h0M658.7 245.8h0M658.2 255.9h0M659.7 253.4h0M658.6 246.9h0M658.4 247.9h0M658.3 246.1h0M658.4 239.9h0M658.0 251.6h0M657.9 246.7h0M660.8 248.2h0M659.4 255.7h0M657.6 255.2h0M660.5 248.6h0M658.2 251.1h0M658.2 242.6h0M659.1 237.9h0M658.1 261.2h0M658.1 242.9h0M659.2 257.3h0M660.8 251.1h0M660.9 256.8h0M658.1 252.5h0M661.7 258.2h0M660.5 256.8h0M660.4 246.4h0M659.8 253.8h0M659.9 237.9h0M660.5 254.6h0M660.6 246.5h0M660.3 247.8h0M659.9 258.5h0M659.6 249.7h0M660.2 255.1h0M661.7 254.5h0M660.2 258.2h0M657.7 241.9h0M660.1 250.9h0M661.4 260.7h0M658.8 254.9h0" stroke="#000" stroke-width="1" stroke-linecap="round" opacity=".7" fill="none"/>
<path d="M659.3 256.1h0M659.7 240.3h0M659.5 251.3h0M659.6 254.1h0M658.4 256.3h0M659.0 256.6h0M658.4 249.3h0M659.3 251.3h0M658.7 243.7h0M660.3 254.8h0M660.7 247.9h0M658.8 254.2h0M659.0 252.9h0M657.9 244.0h0M660.1 255.2h0M660.2 249.0h0M659.9 239.4h0M657.0 257.3h0M658.5 254.6h0M657.7 253.8h0M658.1 252.9h0M660.5 255.1h0M660.8 247.6h0M659.6 245.3h0M658.1 239.5h0M658.9 255.8h0M659.9 253.6h0M660.2 241.9h0M660.6 249.0h0M660.6 250.3h0M660.4 257.2h0M660.2 256.2h0M660.7 256.4h0M658.0 245.7h0M659.6 257.8h0M660.2 257.3h0M659.8 242.1h0M660.7 252.3h0M659.6 256.2h0M660.9 245.1h0M658.0 259.1h0M658.8 246.9h0M660.2 251.7h0M657.6 247.6h0M660.9 252.1h0M659.7 244.5h0M660.8 253.7h0M659.2 251.7h0M659.1 244.5h0M659.1 261.8h0M660.5 243.2h0M659.0 238.2h0M659.0 247.6h0M659.5 256.4h0M658.6 245.2h0M658.5 250.8h0M660.5 253.7h0M658.5 258.3h0M658.6 256.3h0M659.2 252.0h0M659.1 246.5h0M658.0 247.8h0M657.7 252.6h0M660.4 248.1h0M660.9 257.9h0M659.9 252.9h0M661.1 247.9h0M660.5 242.8h0M658.8 259.1h0M658.9 248.3h0M660.4 257.2h0M660.2 251.3h0M659.0 246.9h0M660.8 243.4h0M659.5 236.8h0" stroke="#000" stroke-width="1" stroke-linecap="round" opacity=".7" fill="none"/>
<path d="M575.75 161.75V158.3H583.92M588.33 158.3H596.5V185.5" stroke="#7c7c7c" stroke-width=".55" fill="none"/>
<circle cx="586.12" cy="158.2" r="1.05" fill="#f5323c"/>
<path d="M638.25 199.25V194.6H646.55M650.95 194.6H659.25V235.5" stroke="#7c7c7c" stroke-width=".55" fill="none"/>
<circle cx="648.75" cy="194.5" r="1.05" fill="#f5323c"/>
<path d="M550.1 154.1H684.9" stroke="#a6a6a6" stroke-width=".85"/>
<path d="M684.5 154.1V271.7" stroke="#a0a0a0" stroke-width=".85"/>
<path d="M550.1 271.7H684.9" stroke="#9c9c9c" stroke-width=".85"/>
<path d="M550.5 154.1V271.7" stroke="#a6a6a6" stroke-width=".85"/>
<path d="M586.3 271.7v2" stroke="#666" stroke-width=".6"/>
<path d="M648.8 271.7v2" stroke="#666" stroke-width=".6"/>
<path d="M550.5 160h-3.2" stroke="#808080" stroke-width=".6"/>
<text transform="translate(544.7 160) rotate(-90)" font-size="4" text-anchor="middle" fill="#111" stroke="#111" stroke-width=".1">10</text>
<path d="M550.5 181.5h-3.2" stroke="#808080" stroke-width=".6"/>
<text transform="translate(544.7 181.5) rotate(-90)" font-size="4" text-anchor="middle" fill="#111" stroke="#111" stroke-width=".1">8</text>
<path d="M550.5 203h-3.2" stroke="#808080" stroke-width=".6"/>
<text transform="translate(544.7 203) rotate(-90)" font-size="4" text-anchor="middle" fill="#111" stroke="#111" stroke-width=".1">6</text>
<path d="M550.5 224.5h-3.2" stroke="#808080" stroke-width=".6"/>
<text transform="translate(544.7 224.5) rotate(-90)" font-size="4" text-anchor="middle" fill="#111" stroke="#111" stroke-width=".1">4</text>
<path d="M550.5 246h-3.2" stroke="#808080" stroke-width=".6"/>
<text transform="translate(544.7 246) rotate(-90)" font-size="4" text-anchor="middle" fill="#111" stroke="#111" stroke-width=".1">2</text>
<path d="M550.5 267.4h-3.2" stroke="#808080" stroke-width=".6"/>
<text transform="translate(544.7 267.4) rotate(-90)" font-size="4" text-anchor="middle" fill="#111" stroke="#111" stroke-width=".1">0</text>
<text transform="translate(534 212.9) rotate(-90)" font-size="4.12" text-anchor="middle" fill="#111" stroke="#111" stroke-width=".1">Expression - log<tspan font-size="2.8" dy=".8">2</tspan><tspan dy="-.8">(TPM+1)</tspan></text>
<text x="586.3" y="279.9" font-size="4.05" text-anchor="middle" fill="#111" stroke="#111" stroke-width=".1">BRCA</text>
<text x="586.3" y="285.1" font-size="4" text-anchor="middle" fill="#111" stroke="#111" stroke-width=".1">(num(T)=1085; num(N)=291)</text>
<text x="648.8" y="279.9" font-size="4.05" text-anchor="middle" fill="#111" stroke="#111" stroke-width=".1">LUAD</text>
<text x="648.8" y="285.1" font-size="4" text-anchor="middle" fill="#111" stroke="#111" stroke-width=".1">(num(T)=483; num(N)=347)</text>
<text x="518.55" y="173" font-size="23.7" font-weight="bold" fill="#000">h</text>
<path d="M227.5 367.5V392.25M227.5 409.5V421.25M223.5 367.5h8M223.5 421.25h8" stroke="#8a8a8a" stroke-width=".5" fill="none"/>
<rect x="219" y="392.25" width="17" height="17.25" fill="#fb6565" stroke="#5a2a2a" stroke-width=".4"/>
<path d="M219 401.25H236" stroke="#000" stroke-width="1.1"/>
<path d="M219 421.3H236" stroke="#2a2a2a" stroke-width="1.05"/>
<path d="M228.4 388.2h0M227.5 400.0h0M227.9 419.5h0M226.9 397.3h0M227.8 402.7h0M228.3 384.8h0M226.8 393.9h0M227.2 418.2h0M229.9 395.9h0M225.6 399.6h0M227.3 409.8h0M227.9 387.9h0M228.7 386.2h0M226.3 413.2h0M229.0 406.5h0M226.3 396.2h0M229.9 411.9h0M226.3 396.5h0M228.8 403.7h0M227.5 400.1h0M227.6 402.5h0M226.7 386.6h0M229.5 403.0h0M225.3 392.4h0M227.8 384.8h0M226.6 392.9h0M226.5 395.5h0M226.7 392.5h0M225.4 388.4h0M227.9 404.3h0M228.3 331.9h0M226.4 365.6h0M229.4 382.7h0M228.3 412.1h0M226.1 409.8h0M227.0 395.4h0M228.4 406.4h0M226.2 404.1h0M227.8 386.6h0M226.1 414.1h0M229.0 403.0h0M227.4 389.6h0M227.5 411.4h0M225.1 397.3h0M227.2 406.1h0M226.8 393.6h0M229.2 397.2h0M228.7 395.4h0M228.5 399.2h0M229.0 392.3h0M228.5 391.1h0M226.1 406.7h0M226.9 402.0h0M227.9 397.4h0M227.1 403.4h0M227.2 395.2h0M229.0 411.4h0M227.4 383.2h0M227.1 408.0h0M227.0 405.1h0M225.9 388.2h0M228.3 399.4h0M228.8 398.3h0M226.5 394.5h0M226.1 404.4h0M228.5 399.4h0M228.3 406.3h0M228.6 384.5h0M225.9 401.4h0M226.3 410.2h0M226.2 410.7h0M228.6 411.1h0M228.5 392.3h0M226.6 399.2h0M225.9 399.9h0M226.7 399.1h0M226.2 387.5h0M227.5 408.1h0M227.0 415.6h0M228.8 399.4h0M228.8 390.0h0M228.2 400.3h0M229.2 370.7h0M226.2 397.6h0M226.0 395.6h0M226.8 414.9h0M229.0 376.2h0M228.2 407.1h0M229.0 410.8h0M228.4 389.8h0M228.4 398.9h0M227.7 408.5h0M229.1 389.9h0M228.5 396.3h0M227.2 410.6h0M228.8 390.0h0M226.0 393.9h0M228.8 406.1h0M227.4 389.9h0M227.2 384.9h0M227.2 403.0h0M227.7 398.6h0M226.6 406.0h0M227.0 398.3h0M227.3 412.8h0M228.8 380.3h0M228.5 402.9h0M226.7 409.6h0M225.8 413.6h0M228.8 413.1h0M226.5 406.4h0M227.5 414.5h0M228.5 412.1h0M227.8 409.6h0M228.8 413.8h0M228.2 399.2h0M226.8 388.4h0M228.7 399.4h0M228.7 393.7h0M227.1 409.3h0M229.1 376.4h0M226.3 409.3h0M228.8 410.3h0M228.1 392.8h0M226.1 409.0h0M226.3 412.0h0M226.5 385.1h0M226.4 404.8h0M228.0 397.7h0M228.8 407.4h0M229.4 341.9h0M227.9 414.1h0M227.2 414.2h0M225.4 409.7h0M228.7 385.3h0M228.4 411.3h0M228.6 413.8h0M227.6 400.9h0M228.3 413.2h0M228.1 398.2h0M228.3 402.1h0M227.2 396.8h0M229.1 390.9h0M226.4 390.9h0M227.7 414.5h0M228.1 402.5h0M229.0 404.4h0M227.4 400.9h0M226.3 399.3h0M226.5 400.3h0M225.8 382.1h0M228.9 410.4h0M228.4 379.8h0M227.1 413.3h0M227.6 392.2h0M226.6 410.0h0M227.2 392.9h0M225.8 414.5h0M227.1 408.7h0M227.4 326.6h0M227.6 402.3h0M228.1 418.2h0M227.5 391.0h0M228.9 410.5h0M225.9 415.2h0M228.5 398.7h0M226.0 372.7h0M227.8 385.6h0M228.2 388.3h0M228.9 411.9h0M229.4 389.3h0M226.5 389.6h0M229.4 415.7h0M227.0 387.6h0M226.9 415.1h0M228.8 402.9h0M226.2 405.4h0M227.7 407.6h0M228.2 413.4h0M228.2 399.4h0M226.0 402.6h0M228.7 415.8h0M225.6 394.9h0M227.7 400.1h0M227.9 387.4h0M228.3 378.1h0M226.8 387.0h0M228.6 415.2h0M227.2 391.4h0M229.0 388.6h0M227.5 414.0h0M226.3 395.2h0M227.5 410.2h0M226.6 391.4h0M228.3 409.5h0M228.1 385.0h0M226.8 407.0h0M227.1 409.7h0M227.2 392.7h0M226.2 403.6h0M229.0 406.7h0M229.2 401.6h0M226.2 378.4h0M229.6 402.9h0M228.3 404.0h0M226.4 392.4h0M229.8 377.6h0M226.1 390.8h0M226.0 404.3h0M227.1 405.8h0M226.0 410.8h0M228.5 410.4h0M227.8 400.6h0M228.7 402.4h0M229.0 412.0h0M227.5 413.4h0M229.0 382.0h0M225.9 409.6h0M228.1 399.4h0M227.5 416.5h0M227.0 403.2h0M227.3 397.3h0M227.0 391.6h0M226.4 392.3h0M228.6 377.4h0M229.3 392.0h0M226.0 407.6h0M227.5 410.2h0M227.5 410.0h0M225.9 406.5h0M227.4 401.3h0M226.0 401.1h0M227.4 394.6h0M228.4 400.4h0M226.4 383.6h0M226.8 397.2h0M226.2 387.1h0M228.9 413.9h0M227.8 393.7h0M227.8 392.5h0M226.7 396.5h0M229.3 400.7h0M226.9 403.9h0M227.8 395.8h0M228.3 402.9h0M228.6 389.0h0M226.3 394.5h0M226.0 396.1h0M225.9 416.7h0M227.2 408.2h0M229.0 407.1h0M226.3 391.7h0M229.0 393.9h0M227.3 415.5h0M226.1 404.8h0M226.0 412.8h0M227.1 368.4h0M226.4 410.9h0M227.1 406.5h0M227.5 384.5h0M226.0 387.8h0M227.0 384.7h0M228.9 392.0h0M228.5 393.5h0M227.8 397.5h0M228.9 413.7h0M227.3 395.4h0M228.8 397.6h0M228.9 409.0h0M227.5 397.9h0M228.3 403.4h0M228.6 397.2h0M226.7 407.7h0M226.5 400.5h0M228.4 411.7h0M227.6 389.8h0M225.6 408.4h0M229.1 403.9h0M228.8 409.4h0M228.6 382.8h0M225.9 399.3h0M226.2 397.7h0M227.0 407.1h0M227.7 352.9h0M228.9 410.6h0M225.2 401.7h0M225.1 412.6h0M228.9 403.8h0M227.2 410.7h0M229.0 322.9h0M227.0 382.7h0M227.7 414.6h0M229.0 402.0h0M228.6 390.0h0M228.5 419.7h0M227.5 411.3h0M228.1 402.4h0M226.3 406.0h0M227.6 389.4h0" stroke="#000" stroke-width="1" stroke-linecap="round" opacity=".7" fill="none"/>
<path d="M227.7 394.9h0M228.4 395.0h0M226.1 398.9h0M229.0 384.7h0M229.4 395.4h0M228.8 393.2h0M228.2 404.1h0M228.0 394.4h0M225.9 412.8h0M227.9 401.2h0M227.0 393.6h0M225.6 409.8h0M226.3 387.4h0M229.0 384.2h0M227.6 399.1h0M228.8 400.1h0M229.7 390.2h0M227.9 399.1h0M228.3 402.0h0M228.2 411.1h0M227.9 388.9h0M228.9 391.7h0M228.4 407.0h0M226.6 406.4h0M228.7 396.3h0M225.3 396.4h0M227.2 402.6h0M227.2 398.8h0M229.0 400.4h0M227.7 411.0h0M225.0 402.6h0M227.6 390.9h0M227.0 371.8h0M229.0 385.2h0M228.5 403.4h0M226.5 399.9h0M226.9 392.1h0M226.6 405.4h0M226.0 392.9h0M228.4 397.5h0M226.4 388.3h0M229.0 398.8h0M228.0 404.0h0M228.4 390.7h0M227.5 412.6h0M228.7 404.6h0M228.5 404.2h0M226.2 378.1h0M227.7 404.0h0M228.6 409.7h0M226.3 403.8h0M228.9 410.8h0M227.6 399.5h0M227.8 386.0h0M228.1 399.5h0M226.3 401.9h0M227.4 409.1h0M227.2 389.7h0M228.9 386.2h0M228.3 416.2h0M226.8 410.9h0M227.6 388.8h0M227.0 382.7h0M226.0 388.2h0M225.8 403.8h0M228.4 382.4h0M226.8 408.4h0M225.2 374.9h0M228.0 393.9h0M226.5 402.5h0M226.7 391.6h0M228.7 337.0h0M226.8 401.3h0M226.9 403.1h0M226.0 388.0h0M227.5 415.1h0M228.9 417.0h0M227.6 400.0h0M226.0 391.3h0M226.6 400.7h0M228.0 391.2h0M227.5 398.6h0M225.0 413.5h0M226.1 405.3h0M226.1 411.0h0M229.0 403.7h0M227.4 384.9h0M228.8 411.2h0M228.8 412.8h0M226.6 396.1h0M228.9 403.3h0M227.0 409.5h0M228.6 408.4h0M228.1 411.2h0M226.2 410.4h0M227.3 398.6h0M225.9 415.4h0M227.3 380.7h0M228.4 395.4h0M228.0 402.4h0M227.9 404.9h0M229.7 397.8h0M229.0 391.5h0M226.7 409.7h0M228.6 400.2h0M227.4 399.0h0M228.8 394.2h0M226.5 400.1h0M229.3 375.4h0M228.4 396.2h0M226.9 417.9h0M227.0 408.1h0M227.5 411.6h0M226.2 405.4h0M229.1 403.0h0M228.0 407.7h0M226.2 407.9h0M228.0 392.8h0M227.3 405.3h0M227.4 409.7h0M227.9 395.2h0M226.6 415.8h0M225.9 413.2h0M226.4 395.0h0M227.7 380.6h0M227.6 414.7h0M227.2 398.9h0M228.4 376.8h0M226.9 391.2h0M227.3 394.8h0M228.4 393.2h0M226.3 398.2h0M225.4 393.3h0M226.6 383.3h0M228.5 404.8h0M227.9 404.9h0M225.7 410.4h0M225.9 394.4h0M229.0 411.3h0M229.0 383.3h0M225.6 407.1h0M227.5 391.1h0M228.4 411.5h0M227.1 411.8h0M227.1 397.3h0M225.7 395.7h0M228.5 384.6h0M228.9 417.8h0M227.6 399.1h0M227.8 387.1h0M229.1 405.3h0M227.6 408.7h0M226.8 396.2h0M227.7 410.5h0M228.6 397.1h0M228.2 387.4h0M228.2 384.5h0M228.7 395.8h0M226.3 392.4h0M227.7 363.3h0M227.4 402.2h0M226.4 403.7h0M226.2 374.0h0M226.0 391.1h0M226.0 393.4h0M227.4 385.9h0M228.0 399.0h0M228.2 409.7h0M227.0 404.1h0M228.0 390.2h0M227.2 377.0h0M229.1 416.5h0M228.2 415.8h0M227.7 401.4h0M229.1 397.2h0M226.2 405.6h0M229.9 393.5h0M225.2 391.3h0M228.7 410.6h0M226.6 395.1h0M227.0 408.9h0M228.5 403.1h0M227.7 394.7h0M226.5 380.1h0M225.9 388.6h0M227.0 397.0h0M229.3 407.4h0M226.2 411.6h0M226.5 383.8h0M227.2 398.8h0M229.0 408.0h0M226.3 399.4h0M227.6 390.3h0M226.8 399.0h0M226.8 401.5h0M227.7 393.8h0M227.7 398.6h0M227.6 389.6h0M228.8 398.2h0M228.2 405.1h0M229.5 393.6h0M227.8 397.0h0M227.9 407.2h0M228.2 413.0h0M229.0 388.5h0M226.1 389.5h0M225.4 399.7h0M226.1 392.2h0M226.1 408.9h0M226.5 392.3h0M227.3 372.5h0M228.5 369.9h0M226.6 385.7h0M228.0 384.1h0M226.4 416.8h0M228.6 379.0h0M226.2 410.9h0M227.5 393.0h0M227.8 401.1h0M226.7 409.1h0M228.6 390.5h0M226.3 372.4h0M225.8 343.0h0M228.1 381.4h0M227.1 389.3h0M226.6 402.7h0M228.4 402.1h0M228.2 411.2h0M228.3 401.9h0M225.6 397.9h0M226.0 406.0h0M227.2 398.2h0M227.5 413.0h0M229.0 407.8h0M228.4 390.6h0M228.4 402.7h0M228.2 401.2h0M228.1 411.7h0M228.1 398.0h0M228.7 377.0h0M228.0 404.3h0M225.8 386.4h0M228.6 412.2h0M225.9 408.1h0M228.1 391.7h0M228.5 394.4h0M228.2 406.5h0M228.5 399.4h0M228.1 415.1h0M226.4 408.2h0M228.9 387.3h0M227.1 378.3h0M230.0 402.1h0M227.0 413.0h0M229.0 384.4h0M227.6 407.6h0M227.8 389.9h0M226.1 410.1h0M227.7 391.6h0M227.8 407.0h0M227.8 398.4h0M226.3 388.0h0M227.8 408.6h0M228.4 407.3h0M227.7 418.0h0M226.7 414.2h0M227.8 342.5h0M228.1 386.2h0M228.3 393.9h0M225.9 396.1h0M227.4 407.7h0M226.5 392.4h0M229.1 401.7h0M228.9 407.7h0M226.8 381.5h0M228.1 412.6h0M229.7 404.6h0M227.3 396.7h0M226.0 412.4h0M226.3 404.5h0M230.0 404.4h0M227.0 406.1h0M225.2 397.2h0M228.7 393.9h0M226.2 389.7h0M226.3 410.1h0M226.2 388.2h0M228.3 401.5h0M227.4 421.1h0M225.4 396.1h0M226.6 366.1h0M226.3 386.4h0M228.5 394.9h0M227.5 393.8h0M226.5 407.6h0M228.4 397.6h0M227.4 413.5h0M228.0 396.2h0M227.7 402.2h0" stroke="#000" stroke-width="1" stroke-linecap="round" opacity=".7" fill="none"/>
<path d="M226.0 402.7h0M226.1 402.2h0M225.9 398.0h0M226.9 409.2h0M229.1 391.3h0M227.7 381.5h0M228.1 411.1h0M227.1 393.2h0M229.0 403.3h0M228.8 402.9h0M226.4 410.4h0M226.3 413.6h0M227.3 412.0h0M226.9 393.7h0M228.5 377.6h0M226.6 418.5h0M229.0 400.4h0M227.2 383.8h0M228.3 382.9h0M227.6 387.0h0M225.4 416.4h0M229.1 417.3h0M226.8 416.1h0M228.2 415.4h0M228.2 402.8h0M226.6 370.8h0M226.3 397.5h0M227.5 411.7h0M226.8 400.4h0M228.3 411.1h0M226.2 402.4h0M227.6 408.4h0M228.4 410.4h0M227.5 414.8h0M228.8 410.3h0M226.8 419.0h0M228.9 413.4h0M228.6 383.3h0M228.9 389.6h0M228.6 398.8h0M226.2 392.7h0M228.9 396.9h0M227.1 413.2h0M228.2 402.8h0M227.7 398.6h0M228.1 387.3h0M226.3 332.5h0M225.3 369.0h0M228.1 407.5h0M226.9 390.4h0M229.0 412.0h0M228.4 393.3h0M226.8 406.5h0M229.2 387.3h0M227.4 410.6h0M227.0 407.2h0M226.9 379.2h0M228.6 388.8h0M226.1 397.1h0M227.3 412.8h0M227.7 415.4h0M228.4 390.6h0M228.6 386.4h0M228.7 393.8h0M228.6 390.7h0M225.3 388.3h0M227.7 402.2h0M227.0 410.9h0M227.8 372.7h0M226.3 416.5h0M227.5 404.9h0M226.2 387.3h0M226.6 407.8h0M225.9 410.5h0M226.9 408.7h0M228.6 394.5h0M226.4 381.1h0M227.6 398.5h0M226.3 415.7h0M229.6 415.4h0M227.8 407.1h0M228.9 409.3h0M225.0 413.7h0M226.9 419.5h0M226.8 384.7h0M227.1 408.2h0M228.4 397.3h0M228.2 410.6h0M227.8 396.6h0M228.0 419.6h0M227.2 399.1h0M227.3 378.1h0M226.6 397.5h0M225.2 404.0h0M225.8 409.2h0M228.5 405.0h0M227.7 411.2h0M228.6 402.4h0M228.5 410.2h0M226.5 393.0h0M228.5 411.3h0M228.8 391.0h0M227.2 403.4h0M228.2 398.2h0M227.4 404.2h0M225.3 407.2h0M228.5 391.0h0M226.0 390.9h0M226.9 409.3h0M228.2 397.2h0M228.3 412.8h0M227.4 385.9h0M227.8 385.7h0M226.7 411.4h0M227.0 388.8h0M226.7 388.5h0M227.1 398.1h0M226.9 382.8h0M228.6 414.1h0M227.6 404.8h0M228.7 411.9h0M227.5 389.3h0M227.7 362.3h0M225.6 391.2h0M226.7 390.5h0M229.1 409.6h0M227.7 408.8h0M226.9 403.3h0M227.1 416.5h0M229.0 388.8h0M228.7 404.0h0M227.0 382.3h0M228.8 414.0h0M227.3 386.1h0M227.1 386.7h0M228.5 393.7h0M226.6 394.2h0M230.0 392.4h0M227.7 408.5h0M226.5 408.4h0M226.3 386.5h0M226.2 381.0h0M226.7 399.9h0M228.1 403.5h0M227.3 402.7h0M226.6 402.4h0M226.0 381.3h0M226.7 399.7h0M228.5 391.5h0M229.1 378.5h0M227.2 413.1h0M226.2 396.7h0M228.0 401.3h0M226.3 366.9h0M226.9 389.2h0M227.0 395.6h0M226.6 398.7h0M225.9 413.0h0M225.9 410.5h0M226.6 393.6h0M227.4 412.4h0M227.6 400.7h0M229.0 411.1h0M227.3 389.2h0M229.0 413.3h0M228.6 409.8h0M228.9 402.0h0M227.4 405.7h0M226.3 405.7h0M227.5 412.6h0M226.6 409.7h0M228.8 409.8h0M228.3 405.5h0M228.3 411.1h0M226.1 410.0h0M226.9 404.9h0M226.4 408.8h0M226.0 413.1h0M228.0 415.3h0M228.0 393.8h0M227.3 395.8h0M226.5 414.2h0M226.3 389.5h0M228.0 401.9h0M227.0 407.1h0M228.5 416.2h0M229.2 380.6h0M228.7 366.9h0M226.4 378.6h0M228.6 409.8h0M225.9 390.8h0M226.2 381.9h0M228.6 399.1h0M227.8 416.4h0M225.4 419.0h0M227.9 406.3h0M227.9 409.0h0M228.0 410.0h0M227.7 396.8h0M228.6 393.5h0M226.3 396.2h0M228.1 407.7h0M229.1 358.0h0M228.6 403.7h0M226.0 407.7h0M227.2 413.1h0M227.1 408.0h0M226.5 391.6h0M226.0 376.1h0M226.0 417.4h0M226.2 386.9h0M228.6 385.3h0M227.7 412.3h0M226.8 407.0h0M229.0 410.5h0M228.4 412.9h0M228.3 407.0h0M227.2 409.3h0M226.6 394.7h0M227.8 412.2h0M226.5 395.0h0M227.5 396.3h0M229.0 365.1h0M225.7 401.0h0M228.9 385.8h0M226.2 377.5h0M227.7 399.4h0M226.0 396.9h0M227.8 377.0h0M227.1 397.8h0M226.8 383.9h0M228.4 390.1h0M228.6 402.6h0M226.4 397.7h0M227.2 398.5h0M226.5 387.8h0M227.7 399.8h0M226.8 376.8h0M228.7 387.8h0M226.8 413.5h0M227.8 389.3h0M225.6 333.6h0M226.9 390.1h0M227.9 409.2h0M227.3 384.4h0M227.7 401.0h0M228.9 400.4h0M229.1 373.2h0M229.1 406.2h0M228.0 388.6h0M229.7 381.9h0M228.3 404.6h0M226.8 399.8h0M228.0 412.4h0M226.2 397.1h0M226.9 386.7h0M227.5 412.0h0M229.0 388.0h0M226.4 401.3h0M228.5 411.2h0M225.5 401.8h0M226.9 389.3h0M229.5 407.7h0M227.8 409.6h0M226.2 381.4h0M227.3 389.5h0M228.8 401.0h0M227.3 410.1h0M227.0 377.3h0M226.0 393.3h0M229.0 379.8h0M228.9 410.9h0M228.3 411.7h0M225.5 395.7h0M227.6 399.6h0M226.6 387.8h0M228.1 410.4h0M227.7 417.9h0M227.2 413.9h0M226.1 388.8h0M228.7 392.7h0M228.3 386.3h0M226.6 419.4h0M229.0 393.3h0M225.1 406.3h0M227.4 404.8h0M228.5 384.1h0M225.9 411.0h0M228.0 399.9h0M228.2 374.3h0M227.4 393.2h0M228.4 398.4h0M226.6 391.4h0M227.6 398.7h0M227.6 406.3h0M229.0 408.8h0M228.3 387.6h0M226.7 409.6h0" stroke="#000" stroke-width="1" stroke-linecap="round" opacity=".7" fill="none"/>
<path d="M248.5 363.25V372M248.5 378.75V388M244.5 363.25h8M244.5 388h8" stroke="#8a8a8a" stroke-width=".5" fill="none"/>
<rect x="240" y="372" width="17" height="6.75" fill="#7f7f7f" stroke="#3a3a3a" stroke-width=".4"/>
<path d="M240 375H257" stroke="#000" stroke-width=".95"/>
<path d="M240 421.3H257" stroke="#2a2a2a" stroke-width="1.05"/>
<path d="M248.7 381.0h0M246.9 379.2h0M251.1 373.1h0M246.8 382.7h0M249.3 381.1h0M246.7 376.7h0M246.7 377.9h0M247.2 379.1h0M246.0 373.1h0M249.5 374.1h0M246.7 378.3h0M247.3 382.1h0M248.5 377.2h0M247.4 376.0h0M249.6 384.2h0M249.2 377.7h0M247.4 369.9h0M247.0 364.8h0M249.4 372.0h0M249.6 382.7h0M246.7 371.1h0M249.7 376.4h0M250.2 376.5h0M245.8 376.5h0M248.0 373.4h0M249.6 373.7h0M248.8 366.6h0M248.1 379.0h0M249.2 372.2h0M250.1 382.1h0M248.9 370.9h0M247.6 372.3h0M247.0 365.5h0M250.0 368.7h0M248.4 375.2h0M249.7 381.1h0M247.9 371.6h0M249.4 374.6h0M246.8 370.4h0M248.0 375.7h0M248.6 373.6h0M249.3 378.6h0M248.4 375.7h0M248.0 380.3h0M248.3 373.6h0M247.1 379.4h0M248.1 371.8h0M249.2 374.3h0M246.0 371.6h0M245.9 375.7h0M248.5 373.7h0M248.6 371.8h0M247.6 369.8h0M248.1 373.8h0M250.1 374.5h0M247.0 374.4h0M248.4 373.7h0M246.8 382.6h0M249.5 373.7h0M250.0 375.4h0M249.7 370.5h0M251.3 373.0h0M250.0 368.8h0" stroke="#000" stroke-width="1" stroke-linecap="round" opacity=".7" fill="none"/>
<path d="M249.8 375.9h0M248.0 364.9h0M249.7 369.7h0M247.8 376.9h0M248.7 370.1h0M247.7 378.4h0M250.1 372.6h0M249.1 379.8h0M246.5 383.7h0M246.8 378.9h0M250.2 370.9h0M249.6 375.6h0M246.8 372.1h0M249.0 376.7h0M249.5 374.4h0M249.6 376.6h0M248.6 370.4h0M249.0 374.3h0M246.7 374.0h0M246.8 382.4h0M250.3 373.7h0M249.3 379.2h0M248.6 372.6h0M248.9 376.2h0M247.9 376.6h0M247.7 379.1h0M248.4 373.6h0M249.3 390.2h0M248.8 375.2h0M249.8 370.5h0M248.8 374.2h0M248.3 380.5h0M247.9 380.9h0M246.9 379.3h0M246.7 375.4h0M247.5 379.8h0M250.3 373.6h0M247.5 370.9h0M249.8 375.4h0M246.4 373.6h0M250.2 367.7h0M247.6 377.6h0M249.9 372.4h0M251.1 373.7h0M249.4 371.5h0M247.2 372.5h0M249.5 378.1h0M249.0 374.4h0M248.1 380.6h0M249.5 372.7h0M250.3 368.9h0M247.7 389.4h0M249.1 374.9h0M249.3 364.6h0M246.8 375.8h0M248.2 386.6h0M249.1 374.1h0M249.4 371.2h0M249.6 391.9h0M248.1 374.7h0M249.4 374.0h0M247.3 373.2h0M249.3 372.6h0" stroke="#000" stroke-width="1" stroke-linecap="round" opacity=".7" fill="none"/>
<path d="M249.6 384.1h0M248.1 376.1h0M249.5 370.4h0M249.9 377.7h0M250.3 366.0h0M246.8 380.8h0M248.5 376.2h0M247.5 384.0h0M248.1 382.9h0M248.0 369.5h0M246.8 374.3h0M247.6 380.8h0M250.0 369.0h0M246.9 374.0h0M247.3 371.4h0M250.1 375.6h0M247.0 363.9h0M248.8 369.6h0M247.5 373.6h0M250.1 366.7h0M249.8 378.2h0M248.7 375.0h0M248.5 382.4h0M247.8 371.0h0M247.4 368.3h0M250.0 375.0h0M251.3 371.0h0M250.2 370.2h0M249.0 367.8h0M246.8 369.3h0M249.3 379.6h0M250.0 378.5h0M248.4 372.5h0M249.6 378.0h0M248.5 379.3h0M248.8 380.1h0M246.6 369.8h0M248.8 374.8h0M249.0 371.9h0M248.6 372.2h0M250.0 373.0h0M247.6 372.6h0M246.7 369.7h0M248.8 392.0h0M250.0 381.0h0M247.0 379.4h0M250.0 378.1h0M247.8 371.0h0M247.5 383.6h0M248.4 378.0h0M250.2 374.6h0M248.9 381.7h0M249.5 376.5h0M248.9 371.8h0M250.2 378.8h0M247.9 378.7h0M247.3 382.2h0M248.7 374.8h0M249.4 378.7h0M250.7 375.6h0M249.6 374.1h0M246.7 370.7h0" stroke="#000" stroke-width="1" stroke-linecap="round" opacity=".7" fill="none"/>
<path d="M289.75 350.5V373.75M289.75 389.5V412.5M285.75 350.5h8M285.75 412.5h8" stroke="#8a8a8a" stroke-width=".5" fill="none"/>
<rect x="281.25" y="373.75" width="17" height="15.75" fill="#fb6565" stroke="#5a2a2a" stroke-width=".4"/>
<path d="M281.25 381.25H298.25" stroke="#000" stroke-width="1.1"/>
<path d="M288.4 376.2h0M288.6 397.8h0M289.3 384.3h0M289.2 376.8h0M288.7 389.0h0M289.4 354.6h0M289.0 377.3h0M291.1 368.3h0M290.2 370.0h0M290.1 370.0h0M289.4 369.8h0M287.3 373.7h0M289.6 369.8h0M291.4 375.8h0M289.6 363.6h0M292.6 369.8h0M290.7 398.2h0M288.0 397.1h0M291.7 387.0h0M291.0 398.8h0M291.0 379.7h0M289.1 371.6h0M287.7 389.5h0M290.9 361.5h0M288.6 362.6h0M288.8 376.3h0M291.3 362.5h0M290.0 374.1h0M289.8 384.9h0M292.0 382.3h0M291.4 391.0h0M288.1 365.3h0M288.3 381.2h0M287.7 373.0h0M289.9 368.6h0M291.3 376.1h0M290.9 371.5h0M289.9 409.5h0M290.5 379.0h0M288.5 373.0h0M288.6 375.4h0M290.2 386.6h0M288.2 380.3h0M291.6 364.7h0M288.6 377.7h0M292.6 390.9h0M290.1 372.2h0M289.7 366.6h0M291.4 380.8h0M290.4 382.5h0M291.0 376.2h0M289.9 409.0h0M288.9 364.9h0M290.7 384.1h0M287.8 387.5h0M288.8 400.8h0M291.3 405.3h0M288.7 367.1h0M286.6 381.4h0M287.7 380.8h0M289.2 392.4h0M291.8 384.4h0M289.2 364.0h0M287.3 413.1h0M291.0 380.5h0M287.9 384.4h0M286.9 369.7h0M291.2 382.4h0M290.0 369.7h0M292.6 373.2h0M289.0 379.7h0M291.5 381.4h0M287.8 374.5h0M291.6 392.8h0M288.2 387.8h0M291.3 370.5h0M289.6 374.8h0M291.2 379.0h0M289.3 392.0h0M291.4 396.0h0M287.8 376.9h0M287.2 403.8h0M288.0 369.0h0M291.6 395.2h0M289.4 355.4h0M289.3 360.7h0M288.6 398.8h0M288.7 387.3h0M291.7 401.7h0M287.6 375.8h0M290.7 411.0h0M291.2 386.5h0M288.1 383.6h0M288.8 382.8h0M288.1 379.5h0M289.0 385.3h0M290.3 402.6h0M290.3 385.0h0M289.3 365.6h0M288.3 393.2h0M288.6 413.8h0M286.5 387.1h0M287.0 380.6h0M288.6 374.2h0M288.6 393.4h0M289.0 380.0h0M290.6 382.3h0M288.9 380.0h0M288.2 382.0h0M289.0 384.6h0M290.8 403.0h0M292.3 379.4h0M288.0 375.5h0M288.1 387.2h0M289.2 377.2h0M288.6 397.7h0M291.7 374.2h0M290.8 356.8h0M288.6 395.1h0M288.9 395.9h0M288.2 385.0h0M290.3 372.9h0M290.3 365.6h0M291.2 380.1h0M288.3 371.3h0M288.4 370.4h0M289.5 393.7h0M288.0 373.5h0M288.8 393.5h0M292.0 392.5h0M290.1 371.3h0M289.0 379.4h0M288.8 367.0h0M289.4 394.1h0M290.1 375.3h0M289.7 366.8h0M291.7 405.6h0M290.1 378.8h0M289.5 373.2h0M289.8 383.2h0M288.9 396.9h0M288.3 375.3h0M289.3 397.5h0M288.9 364.4h0M288.3 365.0h0M288.2 383.1h0M290.9 382.9h0M291.5 390.2h0M290.4 385.7h0M289.8 382.3h0M289.2 393.0h0M291.6 388.6h0M287.7 395.6h0M290.0 382.4h0M291.5 391.1h0M290.5 384.2h0M291.2 375.4h0M288.0 371.4h0M289.9 395.0h0M286.5 388.6h0M291.0 386.7h0M292.7 379.7h0M290.5 375.7h0M289.7 359.1h0M290.8 370.7h0M290.7 386.5h0M290.3 364.1h0M287.7 365.5h0M289.3 376.8h0M288.2 379.3h0M287.5 383.0h0M289.5 338.4h0M290.9 406.8h0M291.9 407.8h0M289.3 401.2h0M291.1 390.8h0M289.7 400.5h0M288.2 379.5h0M288.5 367.4h0M289.0 392.8h0M289.1 380.4h0M290.7 375.8h0" stroke="#000" stroke-width="1" stroke-linecap="round" opacity=".7" fill="none"/>
<path d="M289.1 378.7h0M289.0 401.4h0M288.5 384.1h0M289.4 406.7h0M288.1 365.2h0M291.0 371.7h0M291.4 395.5h0M291.6 386.3h0M289.0 403.5h0M290.5 386.3h0M290.8 392.1h0M289.8 373.8h0M290.8 388.3h0M289.6 385.0h0M287.9 381.1h0M288.5 389.7h0M290.5 375.9h0M288.0 378.9h0M291.5 387.3h0M289.8 372.7h0M288.3 382.2h0M288.8 399.5h0M290.8 375.1h0M291.2 380.2h0M287.1 389.3h0M290.2 401.2h0M287.8 383.9h0M288.2 383.7h0M292.4 380.5h0M289.0 371.1h0M289.2 384.9h0M288.4 389.0h0M288.1 382.1h0M290.1 389.9h0M291.3 381.3h0M291.6 387.4h0M291.5 371.8h0M287.9 388.5h0M288.1 404.8h0M290.4 367.5h0M290.5 372.1h0M289.7 382.0h0M288.5 388.8h0M290.3 371.2h0M291.8 388.2h0M291.1 373.5h0M291.6 367.0h0M290.1 402.4h0M289.3 389.8h0M288.0 388.1h0M291.2 393.4h0M290.9 389.1h0M290.9 395.9h0M289.4 373.1h0M290.5 382.2h0M289.8 371.9h0M289.6 385.9h0M291.4 381.0h0M291.5 382.7h0M290.9 372.7h0M291.5 381.4h0M289.1 380.2h0M288.3 368.9h0M290.8 389.6h0M291.0 388.7h0M290.1 400.7h0M288.4 380.5h0M291.0 390.3h0M291.3 399.2h0M290.7 360.9h0M291.6 367.8h0M291.5 392.5h0M288.1 389.8h0M288.6 355.2h0M287.9 387.0h0M288.3 406.2h0M289.5 379.0h0M290.9 386.2h0M289.4 373.9h0M289.4 396.6h0M292.7 369.9h0M287.9 373.6h0M289.8 384.4h0M288.0 375.8h0M292.6 381.1h0M288.3 410.7h0M290.0 367.4h0M288.0 373.7h0M287.8 386.1h0M290.0 376.6h0M291.5 389.3h0M291.3 356.5h0M289.2 387.2h0M291.3 388.2h0M287.6 401.9h0M290.5 401.8h0M288.3 390.9h0M290.4 374.6h0M289.8 376.2h0M288.3 398.2h0M290.8 379.4h0M286.9 380.0h0M290.4 390.4h0M291.5 385.0h0M291.7 366.3h0M288.4 382.2h0M288.5 397.6h0M291.3 396.8h0M291.1 391.7h0M288.9 379.3h0M288.2 376.6h0M288.1 372.1h0M288.6 367.9h0M288.3 376.3h0M287.9 416.7h0M289.5 378.2h0M291.1 372.0h0M291.9 379.7h0M291.4 385.9h0M290.8 387.8h0M287.7 403.3h0M290.1 368.6h0M288.6 365.6h0M289.3 379.5h0M291.4 372.3h0M287.8 369.7h0M287.7 383.0h0M291.8 373.8h0M289.4 378.0h0M291.5 392.8h0M288.0 369.3h0M290.1 368.6h0M289.9 358.5h0M288.5 376.0h0M288.4 380.5h0M288.7 375.5h0M287.8 381.6h0M290.0 383.7h0M286.6 371.2h0M291.1 371.8h0M288.4 356.6h0M291.4 394.1h0M289.9 394.6h0M290.2 380.1h0M291.3 367.6h0M291.4 402.3h0M289.6 359.6h0M290.0 381.0h0M289.2 391.2h0M288.7 390.7h0M291.3 366.3h0M289.1 360.5h0M289.0 361.1h0M289.5 369.5h0M287.9 381.4h0M291.7 383.7h0M287.4 347.0h0M289.9 391.6h0M288.2 384.4h0M292.9 364.6h0M288.0 373.8h0M290.7 372.8h0M291.5 404.3h0M288.0 379.1h0M287.3 397.1h0M291.6 364.9h0M289.8 377.1h0M293.0 402.0h0M288.3 383.4h0M291.2 398.0h0M288.9 384.6h0M289.4 388.4h0M288.5 362.5h0M289.3 370.9h0M290.7 400.2h0M291.2 395.2h0M289.8 377.8h0M288.1 386.0h0M291.6 390.4h0M288.4 367.2h0M287.9 376.2h0M290.8 389.8h0" stroke="#000" stroke-width="1" stroke-linecap="round" opacity=".7" fill="none"/>
<path d="M290.4 378.6h0M288.2 363.8h0M291.6 372.6h0M290.3 384.4h0M291.6 395.7h0M291.7 401.0h0M287.8 383.5h0M291.6 362.7h0M291.4 383.3h0M290.0 370.4h0M291.1 366.3h0M288.4 383.7h0M290.9 362.2h0M292.4 376.2h0M291.1 389.5h0M291.8 362.0h0M286.8 389.1h0M289.8 383.1h0M291.1 381.8h0M291.4 367.1h0M292.0 386.7h0M291.8 369.6h0M289.3 378.9h0M288.0 377.5h0M291.4 386.9h0M288.8 374.4h0M288.0 378.0h0M291.6 381.2h0M288.6 366.2h0M289.9 378.2h0M287.8 374.8h0M289.3 391.6h0M292.7 362.8h0M289.7 376.7h0M289.8 349.3h0M287.8 409.7h0M292.4 403.2h0M288.1 369.0h0M287.4 374.3h0M287.6 367.7h0M288.4 374.8h0M287.9 378.0h0M287.7 375.9h0M289.5 376.0h0M290.1 383.7h0M290.9 381.0h0M289.1 348.7h0M290.3 370.5h0M288.4 371.2h0M291.7 360.0h0M291.2 371.9h0M288.0 366.1h0M288.6 378.0h0M288.7 366.4h0M288.3 383.4h0M287.8 387.8h0M288.9 385.5h0M289.6 365.3h0M291.5 377.5h0M291.5 381.0h0M292.1 388.4h0M288.8 380.4h0M290.3 391.4h0M289.1 368.2h0M291.4 413.1h0M289.3 380.7h0M291.2 386.6h0M290.9 384.7h0M290.7 385.3h0M290.1 390.1h0M291.5 369.6h0M290.6 381.8h0M288.8 380.4h0M291.1 398.5h0M290.1 388.1h0M290.9 388.9h0M289.0 357.3h0M287.9 375.9h0M288.6 381.6h0M287.1 385.6h0M289.9 377.6h0M287.6 401.8h0M292.5 385.7h0M289.9 392.6h0M288.3 381.9h0M287.3 381.2h0M290.3 378.1h0M291.4 369.7h0M289.1 383.5h0M291.2 387.7h0M291.8 380.3h0M288.7 379.2h0M290.0 402.2h0M288.1 367.7h0M289.1 391.8h0M288.4 374.5h0M288.1 372.9h0M289.3 365.2h0M291.8 373.8h0M290.4 397.4h0M288.9 363.9h0M291.8 380.8h0M290.5 361.3h0M291.9 409.2h0M289.9 371.8h0M290.5 377.2h0M289.3 387.8h0M290.7 402.1h0M288.0 415.7h0M289.2 399.9h0M289.9 381.3h0M292.9 369.0h0M290.1 402.0h0M291.3 375.9h0M292.5 375.3h0M289.7 377.8h0M287.7 393.9h0M287.4 373.4h0M291.1 385.6h0M289.7 372.0h0M288.7 364.8h0M288.8 392.2h0M291.2 381.9h0M290.3 394.0h0M288.4 393.4h0M290.2 365.4h0M290.7 385.9h0M291.1 392.8h0M288.8 380.8h0M287.6 405.7h0M288.7 348.0h0M288.8 372.1h0M288.9 396.6h0M290.9 382.4h0M288.5 391.7h0M289.0 381.6h0M290.9 382.8h0M290.5 399.2h0M291.3 379.4h0M291.3 398.3h0M287.9 378.9h0M291.6 392.4h0M290.7 380.4h0M291.1 369.2h0M287.4 394.3h0M291.4 376.8h0M290.9 388.9h0M290.6 411.5h0M288.4 411.9h0M290.1 399.3h0M289.0 384.2h0M290.1 386.9h0M290.0 390.5h0M290.2 376.5h0M289.9 389.5h0M289.4 378.5h0M289.1 376.0h0M291.5 371.3h0M290.7 381.3h0M290.7 384.0h0M291.7 397.2h0M288.0 378.3h0M288.5 369.0h0M290.1 376.8h0M289.8 382.8h0M289.0 386.2h0M290.8 369.4h0M288.3 390.4h0M288.9 365.9h0M290.3 392.1h0M290.9 369.3h0M289.9 375.8h0M291.8 368.7h0M288.1 368.4h0M289.8 412.4h0M289.8 349.8h0M288.9 379.7h0M291.2 353.5h0M288.0 398.8h0M290.6 362.0h0M290.8 374.8h0M287.7 358.3h0" stroke="#000" stroke-width="1" stroke-linecap="round" opacity=".7" fill="none"/>
<path d="M310.62 366.25V378M310.62 385.75V396.25M306.62 366.25h8M306.62 396.25h8" stroke="#8a8a8a" stroke-width=".5" fill="none"/>
<rect x="302.25" y="378" width="16.75" height="7.75" fill="#7f7f7f" stroke="#3a3a3a" stroke-width=".4"/>
<path d="M302.25 381.25H319" stroke="#000" stroke-width=".95"/>
<circle cx="310.93" cy="421.3" r=".5" fill="#777"/>
<path d="M310.0 379.2h0M310.1 379.9h0M312.3 379.8h0M312.7 383.6h0M311.3 381.7h0M311.5 386.0h0M311.1 379.8h0M312.3 382.7h0M311.0 383.7h0M309.4 389.6h0M311.0 390.8h0M310.5 392.5h0M309.8 379.4h0M310.1 374.2h0M309.4 387.0h0M309.1 387.1h0M312.6 375.8h0M312.0 379.6h0M312.0 382.7h0M311.8 380.0h0M312.0 382.9h0M310.4 386.7h0M308.8 378.7h0M309.8 380.2h0M309.3 387.6h0M309.2 383.6h0M312.3 378.8h0M310.7 386.3h0M309.2 375.8h0M312.0 386.2h0M312.0 373.8h0M311.3 388.2h0M311.6 390.9h0M311.0 378.9h0M309.9 375.6h0M309.9 388.0h0M309.7 387.2h0M310.1 385.2h0M313.2 380.5h0M311.4 390.0h0M311.3 376.8h0M309.3 381.6h0M311.4 388.3h0M309.2 391.4h0M309.3 380.1h0M310.3 391.9h0M313.3 379.6h0M312.1 381.4h0M310.4 382.8h0M311.8 379.7h0M311.2 386.0h0M311.2 384.4h0M311.3 391.5h0M312.4 388.4h0M311.7 373.9h0M309.3 385.6h0M310.6 379.4h0M308.8 381.7h0M309.0 392.0h0M311.5 387.0h0M312.4 382.5h0M312.1 390.4h0M310.1 373.1h0M310.3 378.3h0M310.2 387.9h0M312.1 375.0h0M311.0 383.5h0" stroke="#000" stroke-width="1" stroke-linecap="round" opacity=".7" fill="none"/>
<path d="M308.3 384.8h0M311.1 385.1h0M311.4 379.8h0M311.0 378.8h0M312.4 387.8h0M311.7 378.6h0M310.5 375.6h0M312.4 386.4h0M313.1 375.9h0M309.8 388.5h0M312.3 380.2h0M309.6 372.5h0M310.0 388.5h0M309.6 386.4h0M311.5 380.7h0M311.6 390.4h0M311.2 377.1h0M310.4 381.3h0M309.8 384.4h0M311.1 373.2h0M310.7 379.3h0M309.9 383.6h0M310.7 382.6h0M313.2 378.5h0M308.8 374.7h0M309.0 391.8h0M309.7 385.3h0M309.6 371.8h0M308.0 386.8h0M311.8 386.8h0M309.1 384.7h0M309.3 375.1h0M308.9 376.5h0M311.8 377.8h0M309.3 378.8h0M312.4 385.2h0M311.8 385.3h0M309.6 378.2h0M311.9 387.9h0M311.8 382.5h0M312.3 382.0h0M309.3 380.3h0M311.1 380.0h0M308.9 370.9h0M309.2 386.0h0M311.3 381.4h0M310.9 385.8h0M310.0 385.1h0M312.9 380.5h0M308.9 383.5h0M309.6 371.4h0M310.7 374.9h0M311.9 383.8h0M310.5 372.9h0M311.0 387.0h0M310.6 389.4h0M309.6 377.4h0M309.3 379.3h0M308.3 385.3h0M309.3 387.2h0M310.9 387.1h0M312.1 383.2h0M311.6 369.0h0M312.3 386.4h0M311.4 380.1h0M311.4 376.5h0M311.2 384.3h0" stroke="#000" stroke-width="1" stroke-linecap="round" opacity=".7" fill="none"/>
<path d="M310.7 383.9h0M310.9 376.7h0M312.5 375.9h0M311.7 378.8h0M310.5 386.6h0M307.9 380.5h0M308.2 386.6h0M309.2 384.8h0M309.4 385.8h0M310.2 382.4h0M310.9 371.6h0M311.1 384.8h0M310.4 389.6h0M311.0 388.5h0M311.7 384.0h0M312.2 385.6h0M312.0 382.7h0M310.3 376.9h0M311.5 383.2h0M309.9 381.9h0M311.8 379.5h0M310.7 373.8h0M308.9 380.9h0M313.1 389.8h0M311.7 396.3h0M311.6 384.7h0M308.9 382.9h0M310.1 377.4h0M310.4 388.5h0M310.7 380.0h0M309.7 376.7h0M310.2 380.4h0M311.3 382.6h0M311.3 380.3h0M312.5 379.6h0M312.5 382.9h0M310.2 382.3h0M311.0 384.3h0M310.2 380.3h0M311.5 383.7h0M312.4 371.0h0M312.4 375.4h0M308.3 386.3h0M311.2 389.6h0M313.1 382.5h0M310.6 387.4h0M310.1 380.9h0M309.8 382.0h0M309.3 381.6h0M310.6 378.3h0M311.0 373.7h0M308.7 376.0h0M309.8 368.4h0M310.4 389.0h0M311.4 378.3h0M311.9 387.6h0M311.7 382.6h0M312.4 381.0h0M309.6 379.1h0M310.5 385.9h0M311.3 383.7h0M308.3 387.9h0M307.9 379.5h0M308.0 388.0h0M309.6 382.6h0M310.6 383.8h0" stroke="#000" stroke-width="1" stroke-linecap="round" opacity=".7" fill="none"/>
<path d="M227.5 315.5V312.1H235.68M240.07 312.1H248.25V361.25" stroke="#7c7c7c" stroke-width=".55" fill="none"/>
<circle cx="237.88" cy="312" r="1.05" fill="#f5323c"/>
<path d="M201.2 307.6H337.2" stroke="#a6a6a6" stroke-width=".85"/>
<path d="M336.8 307.6V425.3" stroke="#a0a0a0" stroke-width=".85"/>
<path d="M201.2 425.3H337.2" stroke="#9c9c9c" stroke-width=".85"/>
<path d="M201.6 307.6V425.3" stroke="#a6a6a6" stroke-width=".85"/>
<path d="M237.75 425.3v2" stroke="#666" stroke-width=".6"/>
<path d="M300.25 425.3v2" stroke="#666" stroke-width=".6"/>
<path d="M201.6 323.25h-3.2" stroke="#808080" stroke-width=".6"/>
<text transform="translate(196.4 323.25) rotate(-90)" font-size="4" text-anchor="middle" fill="#111" stroke="#111" stroke-width=".1">10</text>
<path d="M201.6 343h-3.2" stroke="#808080" stroke-width=".6"/>
<text transform="translate(196.4 343) rotate(-90)" font-size="4" text-anchor="middle" fill="#111" stroke="#111" stroke-width=".1">8</text>
<path d="M201.6 362.5h-3.2" stroke="#808080" stroke-width=".6"/>
<text transform="translate(196.4 362.5) rotate(-90)" font-size="4" text-anchor="middle" fill="#111" stroke="#111" stroke-width=".1">6</text>
<path d="M201.6 382h-3.2" stroke="#808080" stroke-width=".6"/>
<text transform="translate(196.4 382) rotate(-90)" font-size="4" text-anchor="middle" fill="#111" stroke="#111" stroke-width=".1">4</text>
<path d="M201.6 401.75h-3.2" stroke="#808080" stroke-width=".6"/>
<text transform="translate(196.4 401.75) rotate(-90)" font-size="4" text-anchor="middle" fill="#111" stroke="#111" stroke-width=".1">2</text>
<path d="M201.6 421.3h-3.2" stroke="#808080" stroke-width=".6"/>
<text transform="translate(196.4 421.3) rotate(-90)" font-size="4" text-anchor="middle" fill="#111" stroke="#111" stroke-width=".1">0</text>
<text transform="translate(185.8 366.45) rotate(-90)" font-size="4.12" text-anchor="middle" fill="#111" stroke="#111" stroke-width=".1">Expression - log<tspan font-size="2.8" dy=".8">2</tspan><tspan dy="-.8">(TPM+1)</tspan></text>
<text x="237.75" y="433.9" font-size="4.05" text-anchor="middle" fill="#111" stroke="#111" stroke-width=".1">BRCA</text>
<text x="237.75" y="438.9" font-size="4" text-anchor="middle" fill="#111" stroke="#111" stroke-width=".1">(num(T)=1085; num(N)=291)</text>
<text x="300.25" y="433.9" font-size="4.05" text-anchor="middle" fill="#111" stroke="#111" stroke-width=".1">LUAD</text>
<text x="300.25" y="438.9" font-size="4" text-anchor="middle" fill="#111" stroke="#111" stroke-width=".1">(num(T)=483; num(N)=347)</text>
<text x="172.65" y="326.2" font-size="23.7" font-weight="bold" fill="#000">i</text>
<path d="M404.25 330.5V354.75M404.25 372V396.25M400.25 330.5h8M400.25 396.25h8" stroke="#8a8a8a" stroke-width=".5" fill="none"/>
<rect x="395.75" y="354.75" width="17" height="17.25" fill="#fb6565" stroke="#5a2a2a" stroke-width=".4"/>
<path d="M395.75 362.5H412.75" stroke="#000" stroke-width="1.1"/>
<path d="M395.75 421.3H412.75" stroke="#3a3a3a" stroke-width="1.05"/>
<path d="M402.7 341.2h0M404.8 398.1h0M404.9 360.8h0M405.1 377.2h0M406.2 368.2h0M402.8 367.9h0M402.9 386.3h0M403.2 364.7h0M404.0 347.1h0M403.0 377.0h0M405.6 377.8h0M404.1 374.2h0M404.7 352.9h0M405.4 346.5h0M404.4 339.8h0M403.9 362.9h0M404.9 375.2h0M405.6 390.1h0M403.0 362.0h0M403.0 372.2h0M403.7 366.7h0M404.9 356.6h0M403.9 382.8h0M404.7 383.1h0M404.9 383.0h0M404.8 372.7h0M405.2 354.5h0M403.6 361.7h0M405.1 353.1h0M403.4 348.2h0M405.9 359.6h0M404.5 381.9h0M402.7 361.1h0M404.8 373.6h0M403.4 366.5h0M402.7 348.8h0M404.1 371.0h0M403.4 344.9h0M404.8 362.2h0M403.7 368.0h0M405.7 340.7h0M404.6 374.3h0M404.9 349.2h0M406.5 373.9h0M404.3 380.9h0M403.7 357.0h0M405.2 373.6h0M406.5 353.0h0M405.6 364.7h0M405.7 341.1h0M405.7 365.7h0M403.6 341.2h0M404.5 369.5h0M405.6 364.7h0M403.6 367.9h0M403.3 381.5h0M405.2 373.0h0M404.2 371.5h0M405.2 349.5h0M405.5 385.1h0M403.4 351.7h0M404.8 375.7h0M404.1 358.2h0M405.7 351.0h0M404.0 368.4h0M403.4 361.9h0M406.0 356.6h0M405.3 343.5h0M406.0 360.5h0M405.2 367.9h0M403.0 346.6h0M403.9 381.2h0M403.6 356.4h0M405.1 370.8h0M405.7 356.8h0M402.8 352.7h0M403.3 333.9h0M403.3 347.5h0M405.6 358.2h0M404.7 359.7h0M403.2 358.8h0M404.5 400.4h0M405.6 364.9h0M404.1 339.6h0M403.7 367.2h0M403.3 343.9h0M405.4 345.7h0M405.6 351.2h0M405.3 338.3h0M404.1 364.1h0M404.1 371.4h0M404.3 356.3h0M405.0 364.5h0M403.6 362.5h0M403.1 354.8h0M403.8 366.5h0M405.7 358.7h0M406.2 362.3h0M404.8 376.1h0M405.4 378.7h0M403.7 370.4h0M402.9 369.1h0M402.3 345.2h0M405.8 377.9h0M403.3 363.7h0M404.3 351.9h0M404.6 362.6h0M405.0 376.4h0M403.7 365.6h0M403.0 351.6h0M403.5 367.9h0M404.7 354.2h0M405.4 351.2h0M403.6 358.5h0M402.9 343.4h0M403.9 330.3h0M403.7 343.5h0M402.9 358.1h0M402.2 361.7h0M404.4 377.0h0M403.2 380.2h0M405.9 353.0h0M403.9 353.9h0M403.1 361.2h0M403.2 364.8h0M403.9 370.9h0M404.8 383.9h0M404.0 362.3h0M405.6 366.8h0M405.4 359.0h0M403.0 334.9h0M405.6 365.7h0M405.3 368.1h0M405.4 353.7h0M403.4 331.3h0M404.1 353.7h0M406.2 337.1h0M402.7 357.0h0M405.4 343.3h0M403.6 370.8h0M405.9 350.3h0M405.1 352.9h0M404.9 387.2h0M405.1 366.1h0M404.7 378.9h0M405.7 370.4h0M404.6 364.5h0M405.8 362.0h0M404.7 376.6h0M405.3 372.4h0M403.9 347.0h0M405.7 339.9h0M403.4 364.5h0M403.7 376.6h0M403.0 384.3h0M405.7 377.0h0M403.8 349.1h0M405.4 339.3h0M403.0 361.9h0M403.6 372.6h0M404.6 376.9h0M403.8 392.6h0M403.4 377.4h0M404.9 367.2h0M405.9 369.4h0M406.2 362.7h0M403.5 400.8h0M402.8 381.7h0M403.9 357.2h0M404.1 369.7h0M404.0 373.7h0M405.6 348.8h0M404.0 348.4h0M404.2 373.1h0M403.3 374.9h0M404.7 371.2h0M404.9 387.8h0M403.5 354.4h0M403.7 336.2h0M405.9 400.6h0M404.0 347.9h0M405.8 350.2h0M402.6 365.6h0M405.9 352.1h0M404.1 376.1h0M404.7 368.2h0M404.7 358.4h0M404.8 366.3h0M402.7 365.8h0M403.7 359.9h0M404.5 344.5h0M403.3 350.4h0M405.3 349.5h0M404.6 361.8h0M403.0 373.6h0M405.7 349.6h0M405.0 353.4h0M402.9 355.3h0M404.9 357.3h0M405.1 351.8h0M404.7 365.5h0M404.3 368.6h0M403.5 375.5h0M404.1 358.2h0M404.2 393.6h0M403.3 350.0h0M403.3 351.9h0M405.2 385.7h0M405.3 370.1h0M401.8 361.4h0M405.3 360.0h0M405.3 391.7h0M403.6 381.5h0M404.4 365.5h0M403.7 360.3h0M402.7 366.8h0M404.2 375.2h0M404.7 360.4h0M404.4 365.0h0M405.1 340.7h0M405.5 371.2h0M404.0 337.1h0M404.9 359.4h0M404.1 363.3h0M402.7 365.8h0M405.3 356.4h0M405.3 353.3h0M403.0 375.0h0M403.4 340.8h0M403.5 370.5h0M403.1 365.3h0M405.7 374.4h0M401.8 386.7h0M402.7 384.5h0M404.5 366.6h0M406.4 346.8h0M404.4 359.4h0M403.9 345.8h0M402.6 370.5h0M404.6 380.5h0M404.2 360.0h0M403.1 354.2h0M403.6 362.9h0M404.5 370.4h0M404.5 352.5h0M405.8 386.0h0M404.4 354.4h0M404.8 359.2h0M404.5 355.5h0M402.6 373.1h0M402.7 371.3h0M403.7 345.0h0M402.8 351.5h0M404.5 359.6h0M404.7 354.5h0M403.5 349.0h0M405.1 370.4h0M403.6 346.4h0M406.0 350.0h0M404.1 360.7h0M404.0 366.8h0M404.1 372.5h0M405.7 347.6h0M404.2 366.2h0M404.9 356.2h0M403.1 381.8h0M403.9 372.1h0M405.0 344.5h0M404.3 361.6h0M404.8 372.1h0" stroke="#000" stroke-width="1" stroke-linecap="round" opacity=".7" fill="none"/>
<path d="M404.0 353.6h0M405.0 344.3h0M405.0 321.8h0M406.3 349.6h0M406.7 356.2h0M402.6 364.4h0M405.3 362.4h0M402.9 367.9h0M404.7 348.7h0M403.4 324.0h0M403.9 373.1h0M405.0 376.0h0M405.5 370.3h0M403.8 364.5h0M405.0 365.0h0M403.2 353.0h0M404.7 369.7h0M403.5 359.6h0M402.6 366.6h0M406.1 376.3h0M405.2 356.6h0M403.6 359.5h0M402.7 363.9h0M405.0 359.4h0M405.0 348.4h0M404.6 381.2h0M405.7 367.7h0M406.6 348.7h0M406.7 351.8h0M405.0 367.6h0M404.1 366.2h0M403.9 350.5h0M405.0 351.4h0M404.7 396.2h0M404.8 346.9h0M403.1 368.5h0M406.0 377.0h0M403.5 357.4h0M404.4 378.9h0M403.4 359.2h0M405.4 380.3h0M403.0 382.3h0M404.6 361.4h0M405.6 360.6h0M403.8 369.8h0M403.8 358.5h0M402.1 358.3h0M404.5 364.1h0M404.4 329.8h0M403.3 367.7h0M406.7 375.1h0M403.7 361.5h0M404.4 348.0h0M403.0 380.8h0M403.8 363.3h0M404.3 352.3h0M403.9 368.3h0M405.2 369.0h0M403.5 359.1h0M403.4 376.5h0M403.2 355.9h0M405.4 367.0h0M403.4 363.4h0M405.8 356.4h0M404.4 352.9h0M403.1 350.2h0M402.9 347.3h0M402.9 357.2h0M404.2 350.2h0M404.6 347.4h0M404.8 358.4h0M405.8 375.9h0M405.6 374.4h0M405.6 357.0h0M405.2 351.2h0M405.8 389.2h0M405.4 366.7h0M404.8 343.3h0M403.9 366.3h0M404.6 376.1h0M403.4 371.7h0M405.7 374.9h0M404.1 361.4h0M403.0 352.1h0M404.7 356.4h0M405.5 366.6h0M404.0 351.5h0M406.5 362.9h0M403.4 373.3h0M404.1 366.0h0M403.1 335.7h0M406.3 376.6h0M405.8 357.9h0M402.9 371.3h0M405.1 382.3h0M406.7 381.4h0M403.2 333.9h0M404.3 355.7h0M405.6 358.1h0M403.4 349.2h0M404.1 371.8h0M404.3 356.7h0M403.4 352.9h0M404.1 365.5h0M405.8 366.3h0M405.3 370.8h0M405.3 363.7h0M403.2 378.7h0M405.2 361.3h0M404.6 361.4h0M401.8 361.9h0M403.2 352.9h0M404.7 357.0h0M405.1 357.2h0M404.5 366.4h0M403.3 363.8h0M405.1 360.8h0M403.6 369.2h0M405.2 365.6h0M401.8 361.7h0M403.8 382.7h0M402.5 355.9h0M405.9 348.8h0M403.3 358.7h0M404.4 363.8h0M405.5 368.8h0M402.8 335.3h0M405.0 369.9h0M404.4 361.5h0M405.5 385.9h0M402.8 368.1h0M404.7 349.6h0M404.7 355.8h0M403.0 368.8h0M404.5 344.2h0M404.1 356.2h0M403.3 362.1h0M405.4 361.7h0M403.1 363.3h0M403.1 374.1h0M404.6 351.0h0M405.6 376.4h0M405.3 344.6h0M404.0 375.3h0M404.9 370.4h0M406.6 371.7h0M405.3 367.0h0M403.2 369.9h0M405.0 356.6h0M404.5 356.1h0M405.3 352.3h0M402.3 355.2h0M404.5 361.7h0M405.1 364.6h0M405.0 377.5h0M404.8 356.8h0M404.5 382.6h0M405.4 364.4h0M404.8 359.2h0M403.6 361.8h0M403.5 373.2h0M403.6 356.9h0M405.4 349.3h0M404.3 358.4h0M404.3 344.1h0M403.8 362.7h0M405.6 372.3h0M404.7 356.2h0M404.2 376.8h0M402.8 348.3h0M402.8 375.9h0M405.2 354.1h0M404.7 361.9h0M403.7 365.4h0M405.5 351.6h0M404.4 364.5h0M403.5 360.1h0M405.3 355.5h0M405.9 361.7h0M403.1 368.2h0M404.1 379.8h0M403.3 394.0h0M403.8 359.9h0M405.8 372.5h0M403.8 360.5h0M403.0 364.0h0M405.6 360.0h0M403.2 360.8h0M404.3 364.3h0M403.4 376.0h0M402.9 346.2h0M402.7 375.7h0M405.7 364.9h0M405.6 361.6h0M403.8 371.3h0M404.4 364.4h0M403.8 370.4h0M404.5 358.2h0M404.6 363.0h0M406.2 382.7h0M404.5 377.7h0M405.8 337.0h0M403.3 372.0h0M404.7 354.8h0M404.0 371.2h0M404.7 364.0h0M405.8 351.3h0M404.1 368.0h0M405.8 366.3h0M404.3 358.1h0M404.4 358.5h0M405.5 369.7h0M405.0 374.2h0M403.6 359.7h0M404.2 366.3h0M403.2 361.2h0M405.6 382.1h0M404.4 358.7h0M405.4 344.4h0M402.8 388.1h0M403.3 368.9h0M404.4 356.4h0M405.7 361.4h0M406.0 370.5h0M404.1 344.7h0M404.5 368.3h0M403.9 359.6h0M405.1 359.4h0M404.8 368.4h0M402.2 376.7h0M404.3 356.0h0M404.8 345.8h0M403.3 360.0h0M402.7 350.5h0M401.9 363.2h0M405.2 354.5h0M404.5 370.8h0M405.6 364.6h0M403.9 379.9h0M404.8 378.3h0M403.7 381.5h0M404.8 354.0h0M404.0 366.9h0M403.9 355.8h0M403.4 365.1h0M404.8 370.1h0M405.5 354.0h0M402.9 352.0h0M405.1 360.1h0M405.7 355.3h0M405.4 370.5h0M403.1 400.9h0M403.0 337.5h0M403.0 357.9h0M401.8 358.9h0M405.7 347.6h0M402.7 366.8h0M405.8 363.9h0M403.0 364.8h0M404.0 364.6h0M406.7 358.2h0M404.2 367.1h0M404.5 356.9h0M405.7 354.4h0M402.5 378.0h0M403.7 374.2h0M404.1 357.9h0M405.6 358.3h0M405.8 355.5h0M404.3 366.7h0" stroke="#000" stroke-width="1" stroke-linecap="round" opacity=".7" fill="none"/>
<path d="M403.7 341.4h0M405.0 362.3h0M403.1 355.3h0M403.6 344.0h0M405.8 330.0h0M402.8 349.1h0M402.9 365.5h0M404.3 383.4h0M405.3 371.1h0M404.3 356.7h0M405.5 379.3h0M405.4 363.6h0M405.5 356.8h0M404.6 367.8h0M405.5 358.4h0M405.6 356.4h0M404.7 372.8h0M405.4 356.6h0M403.0 374.5h0M404.9 361.8h0M403.2 367.8h0M403.5 354.6h0M402.8 367.2h0M403.0 353.7h0M403.1 376.4h0M403.5 360.8h0M404.6 370.5h0M404.9 375.4h0M403.6 380.5h0M404.8 367.7h0M405.4 405.6h0M404.6 338.2h0M405.5 362.7h0M405.8 358.2h0M402.6 355.1h0M405.4 349.9h0M404.8 387.4h0M402.7 350.9h0M404.4 354.7h0M405.6 347.8h0M405.3 358.1h0M403.6 349.8h0M403.2 374.8h0M403.5 332.4h0M406.0 349.3h0M403.5 376.4h0M405.3 385.6h0M405.8 381.2h0M405.2 377.0h0M403.6 371.1h0M403.4 369.0h0M402.2 355.8h0M403.5 357.1h0M404.0 389.6h0M405.0 369.2h0M404.4 369.4h0M405.4 367.8h0M403.2 372.6h0M403.2 362.9h0M402.9 363.8h0M403.9 364.0h0M405.4 347.3h0M404.9 368.8h0M404.7 357.0h0M403.4 404.2h0M403.9 348.1h0M403.4 360.9h0M404.7 350.9h0M405.7 352.9h0M402.9 348.8h0M404.0 388.8h0M405.1 372.1h0M402.9 381.8h0M402.6 373.2h0M405.2 361.6h0M403.0 364.5h0M405.4 383.6h0M404.8 352.0h0M403.7 366.2h0M404.1 354.3h0M405.5 378.0h0M401.9 354.8h0M402.7 365.8h0M402.9 370.9h0M402.9 359.6h0M403.1 374.9h0M405.5 376.1h0M402.5 366.8h0M403.6 346.9h0M405.4 361.4h0M404.1 344.3h0M404.5 385.8h0M402.6 356.2h0M402.9 355.3h0M404.8 342.5h0M403.2 376.0h0M405.1 375.4h0M404.6 361.9h0M402.7 371.3h0M402.7 357.7h0M405.7 380.8h0M406.1 370.0h0M403.3 358.9h0M405.0 363.6h0M403.5 356.5h0M405.4 381.3h0M405.7 370.5h0M402.4 343.1h0M405.2 360.2h0M403.2 366.6h0M404.9 362.7h0M405.4 383.0h0M403.4 348.3h0M404.6 360.4h0M402.9 379.2h0M405.6 366.2h0M406.6 358.2h0M402.9 385.4h0M403.8 339.5h0M401.8 370.0h0M403.2 344.6h0M405.0 376.8h0M404.6 360.6h0M404.5 367.6h0M403.7 356.5h0M404.6 366.5h0M403.0 373.0h0M403.9 374.0h0M404.0 383.7h0M403.5 362.5h0M403.6 357.1h0M404.4 387.0h0M403.5 381.8h0M402.6 373.1h0M403.6 343.2h0M405.5 376.7h0M403.7 353.5h0M402.9 345.0h0M403.9 352.6h0M404.0 353.8h0M404.4 374.3h0M404.7 363.0h0M402.9 377.9h0M405.3 346.1h0M403.9 365.8h0M402.8 360.5h0M403.2 375.3h0M402.8 348.2h0M403.8 376.1h0M402.9 359.3h0M403.8 365.7h0M404.5 348.5h0M403.7 371.5h0M403.1 351.4h0M404.5 365.6h0M404.7 358.5h0M404.5 344.8h0M404.2 368.7h0M402.8 364.0h0M403.9 349.0h0M406.2 369.1h0M403.6 346.3h0M404.3 364.6h0M404.8 363.4h0M402.8 351.6h0M405.6 373.7h0M404.4 369.1h0M403.1 359.5h0M404.7 366.1h0M404.7 366.5h0M403.0 368.4h0M403.5 352.3h0M404.6 365.3h0M405.0 364.6h0M403.8 372.3h0M403.5 366.5h0M402.9 363.6h0M402.9 355.5h0M404.6 357.3h0M402.9 344.9h0M403.5 369.9h0M405.5 358.2h0M403.1 354.9h0M403.9 385.6h0M404.6 361.9h0M405.8 350.5h0M405.9 364.8h0M405.8 333.0h0M402.7 370.0h0M405.0 363.4h0M404.2 379.0h0M404.8 350.4h0M403.5 337.4h0M403.8 364.7h0M405.2 367.1h0M404.3 347.4h0M405.8 361.1h0M403.1 355.5h0M404.4 352.9h0M405.2 351.5h0M403.3 378.1h0M404.2 379.3h0M405.1 377.1h0M402.7 359.7h0M403.9 365.7h0M406.4 363.1h0M404.3 391.3h0M404.1 357.1h0M404.6 375.1h0M402.7 356.0h0M404.1 364.1h0M404.4 373.3h0M404.0 351.4h0M404.6 347.9h0M405.0 337.7h0M404.7 386.0h0M403.7 337.2h0M404.6 342.7h0M403.1 366.0h0M405.4 374.2h0M404.2 358.5h0M405.5 366.3h0M402.7 363.8h0M405.0 396.5h0M405.3 360.3h0M402.5 376.1h0M405.3 357.1h0M405.7 355.0h0M403.4 366.7h0M405.1 392.5h0M405.4 354.5h0M405.3 363.9h0M405.7 354.2h0M403.1 371.5h0M402.0 337.5h0M403.4 366.4h0M404.8 365.9h0M403.8 369.4h0M405.8 343.6h0M404.9 353.1h0M404.3 373.2h0M403.1 349.9h0M404.0 361.7h0M404.4 358.3h0M403.9 372.4h0M404.0 384.6h0M405.8 378.1h0M403.8 375.9h0M403.6 351.2h0M404.4 352.9h0M404.2 351.9h0M405.1 323.2h0M403.6 348.7h0M405.5 362.0h0M405.2 357.9h0M404.4 394.5h0M405.0 355.1h0M404.2 374.3h0M405.6 379.9h0M402.9 381.3h0M403.7 366.7h0M405.7 355.3h0M404.5 368.7h0M405.2 362.5h0M405.3 375.9h0M405.7 386.5h0M403.5 372.3h0M405.1 369.8h0M404.2 371.9h0M405.4 359.7h0" stroke="#000" stroke-width="1" stroke-linecap="round" opacity=".7" fill="none"/>
<path d="M424.62 377.5V391.25M424.62 401.5V416.5M420.62 377.5h8M420.62 416.5h8" stroke="#8a8a8a" stroke-width=".5" fill="none"/>
<rect x="416.25" y="391.25" width="16.75" height="10.25" fill="#7f7f7f" stroke="#3a3a3a" stroke-width=".4"/>
<path d="M416.25 396.5H433" stroke="#000" stroke-width=".95"/>
<path d="M416.25 421.3H433" stroke="#3a3a3a" stroke-width="1.05"/>
<path d="M424.4 399.0h0M424.6 410.0h0M423.0 402.2h0M424.9 402.3h0M425.9 367.0h0M422.8 388.9h0M423.8 396.4h0M426.3 390.0h0M425.1 396.2h0M426.1 392.8h0M424.0 395.4h0M425.4 406.5h0M425.0 398.1h0M425.1 395.2h0M424.6 389.1h0M425.5 401.4h0M423.4 403.1h0M424.9 376.7h0M426.4 401.2h0M423.5 408.0h0M425.1 411.6h0M426.3 392.9h0M425.3 396.3h0M426.4 396.2h0M424.7 386.9h0M424.4 389.1h0M425.4 380.2h0M423.4 398.6h0M422.8 368.5h0M423.5 396.1h0M424.5 385.1h0M423.1 399.7h0M423.1 399.8h0M423.6 387.6h0M426.2 415.0h0M424.6 391.5h0M426.0 396.5h0M425.9 389.6h0M424.0 411.9h0M422.3 394.2h0M423.7 393.4h0M425.1 396.8h0M423.0 400.7h0M424.3 363.1h0M424.2 402.5h0M425.9 406.7h0M426.0 393.3h0M425.5 389.7h0M424.3 409.6h0M423.5 396.9h0M424.9 399.9h0M424.4 398.5h0M423.2 394.9h0M424.3 398.9h0M424.6 398.4h0M424.8 390.3h0M424.8 391.5h0M425.6 396.5h0M422.8 397.5h0M424.7 398.3h0M424.9 405.7h0M425.9 388.2h0M424.3 396.7h0M425.9 390.6h0M423.9 392.6h0M423.8 398.3h0M423.3 390.3h0M425.7 396.6h0" stroke="#000" stroke-width="1" stroke-linecap="round" opacity=".7" fill="none"/>
<path d="M425.0 407.9h0M425.4 386.8h0M422.5 400.1h0M425.2 372.3h0M423.3 394.2h0M423.1 400.3h0M422.4 396.5h0M424.5 394.7h0M424.7 405.9h0M425.3 384.1h0M426.0 398.3h0M425.3 404.9h0M424.2 399.8h0M424.5 406.0h0M425.9 392.1h0M422.8 396.4h0M425.2 388.4h0M426.1 403.5h0M423.7 400.9h0M422.9 400.3h0M424.3 388.9h0M422.6 373.9h0M424.8 389.4h0M426.4 400.6h0M423.4 402.1h0M425.3 392.5h0M423.1 392.4h0M422.5 404.4h0M427.3 386.6h0M424.8 401.4h0M422.9 403.9h0M423.4 395.4h0M425.2 392.8h0M424.0 389.5h0M423.5 396.3h0M425.4 385.6h0M425.6 403.5h0M424.1 403.3h0M424.8 395.4h0M422.5 400.7h0M426.1 397.0h0M426.6 372.7h0M421.8 397.3h0M424.6 399.8h0M422.4 403.6h0M425.5 398.5h0M425.1 401.0h0M423.1 397.0h0M422.8 392.3h0M423.1 400.2h0M421.9 399.5h0M423.4 401.6h0M425.7 408.1h0M424.0 392.0h0M423.1 390.6h0M422.9 385.5h0M424.6 390.2h0M424.5 387.1h0M424.6 391.5h0M423.5 392.4h0M424.1 383.9h0M425.1 397.1h0M426.0 387.8h0M426.5 396.3h0M424.9 392.0h0M425.0 398.6h0M424.5 399.4h0" stroke="#000" stroke-width="1" stroke-linecap="round" opacity=".7" fill="none"/>
<path d="M425.7 386.5h0M425.9 386.5h0M425.5 396.7h0M426.3 395.8h0M424.7 389.0h0M425.7 395.1h0M424.4 400.2h0M425.6 406.1h0M426.1 391.9h0M426.0 394.8h0M426.4 387.0h0M422.9 394.6h0M424.6 380.2h0M423.6 368.4h0M424.6 407.9h0M423.9 399.0h0M426.0 389.8h0M424.4 399.1h0M425.5 391.5h0M423.7 408.5h0M424.7 386.9h0M422.9 411.0h0M423.7 388.0h0M423.1 392.9h0M423.4 388.2h0M424.9 400.9h0M426.0 395.1h0M423.7 408.8h0M424.1 400.0h0M423.0 396.1h0M425.1 388.4h0M423.1 396.9h0M424.9 385.5h0M424.3 390.5h0M423.7 384.7h0M424.6 392.1h0M423.0 391.4h0M422.1 393.2h0M425.9 389.6h0M422.8 401.5h0M423.7 403.3h0M426.0 377.0h0M425.5 399.9h0M423.0 389.5h0M424.1 392.1h0M424.3 398.9h0M426.1 395.3h0M423.5 386.2h0M425.6 388.4h0M423.6 393.3h0M423.3 398.6h0M423.2 399.2h0M426.1 395.2h0M424.1 402.3h0M424.1 394.2h0M424.6 395.7h0M423.1 386.9h0M424.5 372.8h0M426.4 400.2h0M424.8 401.3h0M425.0 389.1h0M425.8 400.4h0M424.2 404.2h0M424.9 398.6h0M423.5 385.9h0M423.3 394.4h0M425.9 396.5h0" stroke="#000" stroke-width="1" stroke-linecap="round" opacity=".7" fill="none"/>
<path d="M466.5 331.5V360M466.5 380.5V406.75M462.5 331.5h8M462.5 406.75h8" stroke="#8a8a8a" stroke-width=".5" fill="none"/>
<rect x="458" y="360" width="17" height="20.5" fill="#fb6565" stroke="#5a2a2a" stroke-width=".4"/>
<path d="M458 370.5H475" stroke="#000" stroke-width="1.1"/>
<path d="M465.4 368.0h0M467.2 369.7h0M467.7 369.8h0M468.3 377.4h0M467.3 375.8h0M465.2 390.2h0M466.4 360.5h0M467.6 367.3h0M465.1 348.7h0M465.3 373.4h0M466.2 356.9h0M466.2 398.0h0M467.7 383.8h0M467.2 376.3h0M466.7 392.1h0M468.0 377.6h0M467.7 373.3h0M467.5 372.7h0M467.0 360.5h0M468.0 361.6h0M467.6 390.4h0M465.3 372.9h0M464.4 393.3h0M465.5 377.4h0M467.7 380.4h0M466.1 358.5h0M465.2 346.1h0M468.5 386.3h0M468.1 369.2h0M466.3 333.7h0M466.9 350.0h0M466.4 366.7h0M467.6 365.1h0M465.8 365.5h0M466.0 384.0h0M465.1 377.1h0M466.5 369.0h0M466.7 350.2h0M466.3 383.2h0M467.5 355.9h0M467.8 381.5h0M466.5 364.9h0M466.4 369.5h0M467.7 376.0h0M467.1 359.9h0M467.6 361.5h0M466.8 364.6h0M466.5 351.0h0M467.9 379.3h0M464.7 364.3h0M465.6 392.0h0M468.1 372.0h0M467.4 359.0h0M466.2 380.3h0M464.6 358.4h0M468.1 345.5h0M465.5 369.5h0M467.0 357.0h0M465.3 385.0h0M465.6 373.4h0M465.9 364.8h0M467.6 376.2h0M465.0 383.9h0M467.2 370.3h0M466.5 374.1h0M467.8 364.6h0M465.9 361.2h0M467.1 388.8h0M467.3 363.1h0M467.2 371.8h0M468.0 370.4h0M466.9 371.4h0M467.6 378.8h0M464.9 369.3h0M465.8 363.2h0M466.8 354.3h0M467.1 362.5h0M467.6 363.2h0M467.3 374.6h0M465.3 382.3h0M465.4 352.0h0M467.6 369.0h0M466.6 360.0h0M468.1 386.3h0M467.4 346.2h0M467.6 385.4h0M467.2 374.9h0M466.6 402.4h0M466.1 361.2h0M465.8 370.0h0M466.5 362.0h0M465.8 351.6h0M466.0 368.0h0M466.3 374.5h0M466.7 365.7h0M466.3 367.7h0M466.5 383.1h0M465.2 371.6h0M465.2 367.4h0M466.7 358.2h0M466.2 359.4h0M467.0 389.1h0M466.5 363.4h0M467.5 385.6h0M464.9 380.6h0M465.5 374.0h0M464.9 360.5h0M465.1 374.4h0M468.0 381.7h0M467.3 346.8h0M466.3 384.5h0M466.6 366.5h0M466.1 357.5h0M466.8 342.8h0M467.1 338.9h0M465.8 363.4h0M467.6 387.7h0M465.2 369.6h0M466.8 369.8h0M468.4 391.2h0M465.2 360.0h0M466.8 357.2h0M466.5 396.3h0M465.2 366.2h0M466.7 372.1h0M466.9 366.9h0M467.5 387.3h0M467.2 360.4h0M467.7 358.3h0M465.3 360.1h0M466.7 356.3h0M466.2 362.1h0M465.9 359.9h0M467.1 354.2h0M466.1 372.8h0M468.1 356.1h0M466.1 372.2h0M466.2 372.5h0M467.9 374.4h0M466.1 356.9h0M465.3 390.2h0M465.5 355.8h0M466.3 362.0h0M466.3 361.6h0M464.4 387.0h0M465.1 394.8h0M466.9 380.9h0M467.2 380.8h0M466.0 373.4h0M465.4 401.2h0M465.6 379.5h0M465.7 354.6h0M467.4 366.2h0M467.8 376.5h0M466.3 376.6h0M465.2 369.7h0M467.0 362.1h0M467.8 369.7h0M466.9 374.9h0M466.0 378.8h0M464.5 393.9h0M467.7 375.9h0M465.6 360.3h0M465.9 392.1h0M467.6 385.6h0M467.9 360.2h0M466.0 372.1h0M466.8 378.2h0M467.3 372.6h0M466.6 371.7h0M467.5 359.9h0" stroke="#000" stroke-width="1" stroke-linecap="round" opacity=".7" fill="none"/>
<path d="M467.5 376.4h0M466.1 359.5h0M465.7 368.3h0M466.0 381.5h0M466.5 363.2h0M466.6 403.6h0M467.6 361.5h0M465.8 364.3h0M466.2 383.9h0M466.9 362.0h0M466.7 351.9h0M466.4 363.1h0M465.0 383.5h0M466.4 374.0h0M466.3 359.3h0M467.7 363.7h0M465.0 350.8h0M467.6 377.9h0M466.0 375.4h0M465.2 370.1h0M465.6 378.0h0M464.9 392.7h0M465.0 375.9h0M466.5 352.2h0M467.7 388.2h0M466.7 366.6h0M465.5 380.7h0M468.6 351.3h0M466.1 374.7h0M466.3 389.3h0M466.0 387.6h0M467.2 359.6h0M466.7 360.7h0M465.3 375.0h0M465.7 362.7h0M465.4 386.4h0M466.9 352.6h0M465.3 406.5h0M465.5 375.7h0M464.5 350.5h0M466.4 355.1h0M465.0 356.6h0M464.9 374.4h0M466.2 352.5h0M465.4 378.2h0M465.8 374.7h0M466.6 381.3h0M467.7 366.1h0M465.2 368.2h0M466.5 392.2h0M465.9 370.5h0M465.5 390.9h0M466.3 364.4h0M464.7 367.7h0M467.5 353.0h0M465.8 365.0h0M465.5 367.2h0M468.1 378.4h0M468.3 352.3h0M468.2 389.3h0M468.2 358.9h0M465.3 394.3h0M465.6 370.0h0M466.5 402.0h0M467.4 358.7h0M465.0 376.1h0M464.9 388.0h0M465.0 372.0h0M465.4 372.5h0M465.2 354.1h0M465.0 369.8h0M467.1 338.1h0M467.5 359.4h0M467.1 384.3h0M465.8 361.6h0M466.3 392.0h0M467.6 366.6h0M468.9 377.7h0M465.4 375.1h0M466.3 387.6h0M465.2 366.5h0M466.2 405.6h0M468.1 382.1h0M468.0 381.4h0M466.0 365.2h0M467.4 378.0h0M466.0 358.8h0M466.0 368.2h0M466.8 379.1h0M465.7 379.4h0M466.5 364.9h0M464.0 371.3h0M466.0 384.7h0M468.1 344.0h0M465.0 391.8h0M465.7 377.8h0M465.4 365.0h0M466.6 378.5h0M467.7 370.8h0M467.6 364.6h0M466.6 384.9h0M464.8 347.7h0M464.9 349.1h0M465.5 371.6h0M466.2 377.5h0M466.1 378.9h0M467.8 369.9h0M465.7 394.8h0M467.5 374.8h0M467.2 352.8h0M465.9 389.9h0M468.4 386.0h0M467.2 351.7h0M466.3 350.2h0M465.0 386.4h0M467.7 357.5h0M467.2 341.2h0M467.6 373.2h0M465.1 343.9h0M467.9 374.0h0M466.6 376.2h0M464.9 395.5h0M468.1 368.9h0M467.8 364.8h0M465.5 370.3h0M466.9 390.9h0M466.0 353.4h0M466.4 366.9h0M465.1 387.6h0M466.9 391.4h0M467.4 362.4h0M466.8 384.7h0M467.1 352.0h0M466.6 359.3h0M466.6 389.6h0M467.7 353.6h0M466.5 387.4h0M466.1 376.6h0M466.7 377.5h0M464.1 383.4h0M466.6 375.1h0M466.8 351.3h0M464.9 369.3h0M468.0 374.5h0M467.4 361.1h0M467.7 365.2h0M466.2 390.2h0M465.3 377.4h0M464.9 362.4h0M467.7 399.0h0M465.1 381.5h0M464.5 374.2h0M468.0 372.5h0M467.0 377.8h0M466.0 353.4h0M467.4 384.1h0M466.9 372.1h0M466.0 356.2h0M465.8 344.6h0M468.2 367.8h0M465.2 378.0h0M465.7 370.6h0M466.1 371.0h0M465.2 362.3h0M465.5 384.6h0M468.3 382.6h0M467.7 353.7h0M464.9 375.9h0M467.3 373.2h0M466.0 359.3h0" stroke="#000" stroke-width="1" stroke-linecap="round" opacity=".7" fill="none"/>
<path d="M465.5 383.0h0M468.1 364.8h0M468.1 336.5h0M465.7 391.1h0M467.3 376.1h0M465.3 376.0h0M465.9 372.9h0M466.6 359.0h0M466.1 396.0h0M466.9 371.5h0M466.5 393.6h0M466.3 386.2h0M466.2 368.2h0M466.6 387.0h0M466.1 362.6h0M467.7 374.7h0M465.0 370.8h0M466.0 361.2h0M465.8 362.0h0M467.9 384.3h0M465.6 362.1h0M468.0 368.7h0M465.0 382.3h0M466.0 397.0h0M465.8 379.7h0M466.1 340.2h0M468.4 380.5h0M465.3 371.4h0M465.7 361.4h0M467.0 377.6h0M466.4 373.1h0M467.1 354.6h0M465.3 351.7h0M465.8 374.9h0M465.3 349.1h0M465.0 366.4h0M467.5 380.1h0M467.2 377.0h0M467.3 352.1h0M465.2 398.0h0M466.0 365.3h0M465.9 382.7h0M467.9 358.1h0M467.0 397.9h0M465.6 387.6h0M464.8 383.5h0M466.3 367.9h0M466.5 380.4h0M466.1 390.2h0M468.0 359.9h0M468.1 377.4h0M466.5 391.5h0M465.2 370.1h0M465.0 365.7h0M466.8 386.6h0M467.6 362.2h0M465.8 352.6h0M468.1 382.9h0M465.5 363.9h0M466.0 369.3h0M465.8 381.1h0M467.5 373.9h0M466.6 365.4h0M465.4 381.6h0M467.0 345.0h0M467.9 340.8h0M467.6 357.2h0M466.9 388.0h0M466.5 360.8h0M467.7 394.3h0M465.7 372.4h0M467.3 371.6h0M466.6 362.4h0M465.9 358.9h0M465.6 386.9h0M466.3 360.9h0M468.6 360.2h0M464.8 351.5h0M467.8 382.4h0M467.9 334.3h0M467.7 384.6h0M465.5 381.3h0M465.5 359.8h0M468.1 378.5h0M465.6 373.3h0M467.3 358.0h0M466.9 362.2h0M465.4 364.4h0M467.7 369.9h0M464.9 383.8h0M466.2 349.3h0M466.9 348.3h0M467.5 385.5h0M465.5 359.5h0M468.0 364.9h0M468.2 356.3h0M465.1 365.2h0M467.5 369.9h0M467.5 342.9h0M465.5 386.1h0M466.4 357.4h0M466.5 381.3h0M468.5 376.2h0M467.3 366.2h0M467.2 381.1h0M466.2 343.7h0M466.5 384.7h0M465.9 349.6h0M467.5 394.4h0M467.0 384.3h0M465.9 391.7h0M464.8 378.6h0M465.3 380.8h0M465.2 376.7h0M467.2 347.7h0M466.0 365.5h0M465.6 336.3h0M465.1 365.9h0M467.8 368.0h0M466.7 342.2h0M466.1 353.1h0M468.1 354.3h0M466.2 367.7h0M466.4 383.8h0M465.6 378.5h0M466.6 353.2h0M465.8 358.5h0M465.2 371.0h0M468.9 343.1h0M467.4 347.6h0M467.5 381.3h0M465.6 367.1h0M465.9 378.8h0M466.5 351.2h0M465.5 392.5h0M467.5 366.1h0M467.0 363.9h0M468.1 381.3h0M466.8 375.4h0M466.0 372.6h0M468.0 367.1h0M466.5 370.1h0M467.0 372.1h0M467.6 347.8h0M466.0 362.8h0M467.4 378.0h0M467.7 381.8h0M467.7 355.6h0M466.1 362.4h0M464.9 373.7h0M466.0 349.7h0M466.1 386.6h0M466.7 356.3h0M467.2 379.0h0M466.6 368.7h0M467.0 384.6h0M465.1 381.1h0M465.4 386.8h0M467.4 380.9h0M464.9 375.7h0M466.5 376.8h0M466.5 380.3h0M467.8 362.4h0M466.6 403.3h0M467.4 383.9h0M468.1 351.8h0M467.4 364.7h0M465.2 367.9h0M465.1 382.4h0M464.5 370.7h0" stroke="#000" stroke-width="1" stroke-linecap="round" opacity=".7" fill="none"/>
<path d="M487.25 376.25V390M487.25 400V412M483.25 376.25h8M483.25 412h8" stroke="#8a8a8a" stroke-width=".5" fill="none"/>
<rect x="478.75" y="390" width="17" height="10" fill="#7f7f7f" stroke="#3a3a3a" stroke-width=".4"/>
<path d="M478.75 394.5H495.75" stroke="#000" stroke-width=".95"/>
<circle cx="487.55" cy="421.3" r=".5" fill="#777"/>
<path d="M486.4 396.6h0M487.6 393.2h0M488.5 394.9h0M486.2 397.9h0M487.4 401.3h0M486.2 395.6h0M487.8 372.3h0M488.6 397.0h0M486.4 392.2h0M486.4 389.5h0M488.6 393.0h0M488.6 393.0h0M487.7 383.9h0M486.9 390.7h0M488.4 402.4h0M486.1 392.2h0M485.5 392.4h0M486.1 385.8h0M485.6 397.1h0M486.5 405.4h0M486.3 382.4h0M489.0 403.8h0M485.9 391.7h0M487.5 390.6h0M485.0 383.9h0M489.3 390.9h0M488.0 390.8h0M487.9 394.9h0M487.1 387.1h0M489.0 381.7h0M486.4 394.1h0M487.4 390.7h0M485.8 390.5h0M485.4 381.2h0M486.2 386.6h0M488.0 399.1h0M485.3 400.3h0M488.8 394.6h0M484.8 391.2h0M488.0 405.7h0M487.1 405.9h0M485.8 400.3h0M486.1 385.2h0M488.7 394.9h0M485.7 392.2h0M488.6 406.2h0M488.6 392.1h0M486.3 406.1h0M488.5 388.9h0M486.3 398.6h0M488.7 358.0h0M486.5 379.2h0M488.0 395.8h0M486.7 392.6h0M486.5 397.0h0M487.6 389.4h0M487.8 391.6h0M489.1 385.0h0M485.7 386.2h0M488.7 382.2h0M488.5 388.7h0M487.6 401.9h0M485.8 393.6h0M484.7 394.8h0M485.7 398.2h0M486.2 394.5h0M488.7 400.9h0M485.5 395.0h0M487.2 381.8h0M486.0 368.9h0" stroke="#000" stroke-width="1" stroke-linecap="round" opacity=".7" fill="none"/>
<path d="M485.5 400.7h0M488.5 397.0h0M488.4 360.4h0M488.4 397.9h0M485.5 392.3h0M487.1 389.7h0M487.7 393.9h0M486.8 406.9h0M487.7 385.2h0M486.1 381.8h0M488.3 393.5h0M486.6 391.0h0M487.1 404.5h0M486.5 384.3h0M488.4 403.6h0M488.7 412.0h0M485.9 397.5h0M488.1 385.4h0M487.7 394.5h0M490.1 393.9h0M487.7 373.9h0M486.7 388.4h0M486.0 399.0h0M486.0 391.6h0M486.5 396.8h0M487.6 396.5h0M486.2 373.1h0M486.2 389.5h0M484.6 398.6h0M484.6 389.0h0M488.3 393.1h0M487.7 374.0h0M488.4 403.7h0M489.6 399.9h0M488.3 398.6h0M486.9 392.3h0M486.9 401.7h0M488.5 390.7h0M487.3 396.4h0M487.6 391.8h0M487.6 391.2h0M489.2 397.3h0M488.0 401.5h0M486.5 392.5h0M487.0 390.3h0M487.4 406.5h0M486.3 397.9h0M487.3 391.8h0M486.6 386.0h0M488.3 389.4h0M485.9 388.5h0M488.8 392.0h0M487.6 398.8h0M485.7 395.6h0M489.0 387.0h0M485.7 376.2h0M488.1 390.0h0M485.7 397.0h0M488.6 399.9h0M487.8 408.2h0M488.8 396.5h0M486.0 396.1h0M487.0 390.8h0M486.2 402.8h0M488.3 400.3h0M488.5 393.3h0M488.6 395.9h0M487.0 399.7h0M488.0 401.9h0M485.6 403.7h0" stroke="#000" stroke-width="1" stroke-linecap="round" opacity=".7" fill="none"/>
<path d="M485.8 386.8h0M487.9 399.9h0M488.8 391.3h0M487.4 408.6h0M485.8 390.0h0M489.0 389.1h0M487.3 388.5h0M486.4 394.9h0M486.5 399.0h0M488.3 394.7h0M486.1 392.8h0M485.4 363.6h0M486.9 392.7h0M485.9 392.7h0M487.4 385.5h0M489.0 392.6h0M487.1 393.9h0M488.8 398.5h0M488.4 391.7h0M487.9 390.0h0M488.5 399.3h0M486.6 398.0h0M486.2 393.9h0M485.5 396.5h0M486.2 391.4h0M489.0 390.8h0M486.3 387.2h0M486.3 404.2h0M487.6 386.3h0M488.0 406.2h0M486.0 386.7h0M489.0 393.6h0M488.8 404.4h0M488.3 372.1h0M485.1 381.6h0M488.7 390.7h0M488.9 386.7h0M489.3 389.1h0M486.4 381.7h0M488.3 388.4h0M489.0 397.5h0M488.3 395.9h0M489.0 406.6h0M485.6 380.1h0M487.6 391.5h0M488.5 402.5h0M485.8 385.3h0M485.5 395.2h0M488.3 392.4h0M488.4 401.6h0M488.3 402.2h0M488.1 378.5h0M488.4 390.0h0M487.5 388.9h0M487.0 391.2h0M489.0 389.1h0M487.7 404.0h0M487.3 387.7h0M486.3 403.7h0M486.1 392.2h0M489.6 398.8h0M488.7 397.8h0M486.5 389.1h0M485.5 392.3h0M488.3 390.3h0M487.9 395.6h0M487.0 399.2h0M486.4 387.5h0M487.3 389.5h0" stroke="#000" stroke-width="1" stroke-linecap="round" opacity=".7" fill="none"/>
<path d="M404 315.5V311.9H412.18M416.57 311.9H424.75V360" stroke="#7c7c7c" stroke-width=".55" fill="none"/>
<circle cx="414.38" cy="311.8" r="1.05" fill="#f5323c"/>
<path d="M466.25 330V326.1H474.55M478.95 326.1H487.25V357" stroke="#7c7c7c" stroke-width=".55" fill="none"/>
<circle cx="476.75" cy="326" r="1.05" fill="#f5323c"/>
<path d="M377.6 307.6H513" stroke="#dcdcdc" stroke-width=".85"/>
<path d="M512.6 307.6V425.3" stroke="#8a8a8a" stroke-width=".85"/>
<path d="M377.6 425.3H513" stroke="#e2e2e2" stroke-width=".85"/>
<path d="M378 307.6V425.3" stroke="#d4d4d4" stroke-width=".85"/>
<path d="M414.5 425.3v2" stroke="#666" stroke-width=".6"/>
<path d="M476.8 425.3v2" stroke="#666" stroke-width=".6"/>
<path d="M378 325h-3.2" stroke="#808080" stroke-width=".6"/>
<text transform="translate(372.8 325) rotate(-90)" font-size="4" text-anchor="middle" fill="#111" stroke="#111" stroke-width=".1">8</text>
<path d="M378 349h-3.2" stroke="#808080" stroke-width=".6"/>
<text transform="translate(372.8 349) rotate(-90)" font-size="4" text-anchor="middle" fill="#111" stroke="#111" stroke-width=".1">6</text>
<path d="M378 373h-3.2" stroke="#808080" stroke-width=".6"/>
<text transform="translate(372.8 373) rotate(-90)" font-size="4" text-anchor="middle" fill="#111" stroke="#111" stroke-width=".1">4</text>
<path d="M378 397h-3.2" stroke="#808080" stroke-width=".6"/>
<text transform="translate(372.8 397) rotate(-90)" font-size="4" text-anchor="middle" fill="#111" stroke="#111" stroke-width=".1">2</text>
<path d="M378 421.2h-3.2" stroke="#808080" stroke-width=".6"/>
<text transform="translate(372.8 421.2) rotate(-90)" font-size="4" text-anchor="middle" fill="#111" stroke="#111" stroke-width=".1">0</text>
<text transform="translate(362.4 366.45) rotate(-90)" font-size="4.12" text-anchor="middle" fill="#111" stroke="#111" stroke-width=".1">Expression - log<tspan font-size="2.8" dy=".8">2</tspan><tspan dy="-.8">(TPM+1)</tspan></text>
<text x="414.5" y="433.9" font-size="4.05" text-anchor="middle" fill="#111" stroke="#111" stroke-width=".1">BRCA</text>
<text x="414.5" y="438.9" font-size="4" text-anchor="middle" fill="#111" stroke="#111" stroke-width=".1">(num(T)=1085; num(N)=291)</text>
<text x="476.8" y="433.9" font-size="4.05" text-anchor="middle" fill="#111" stroke="#111" stroke-width=".1">LUAD</text>
<text x="476.8" y="438.9" font-size="4" text-anchor="middle" fill="#111" stroke="#111" stroke-width=".1">(num(T)=483; num(N)=347)</text>
<text x="344.6" y="326.4" font-size="23.7" font-weight="bold" fill="#000">j</text>
</svg>
</body></html>
